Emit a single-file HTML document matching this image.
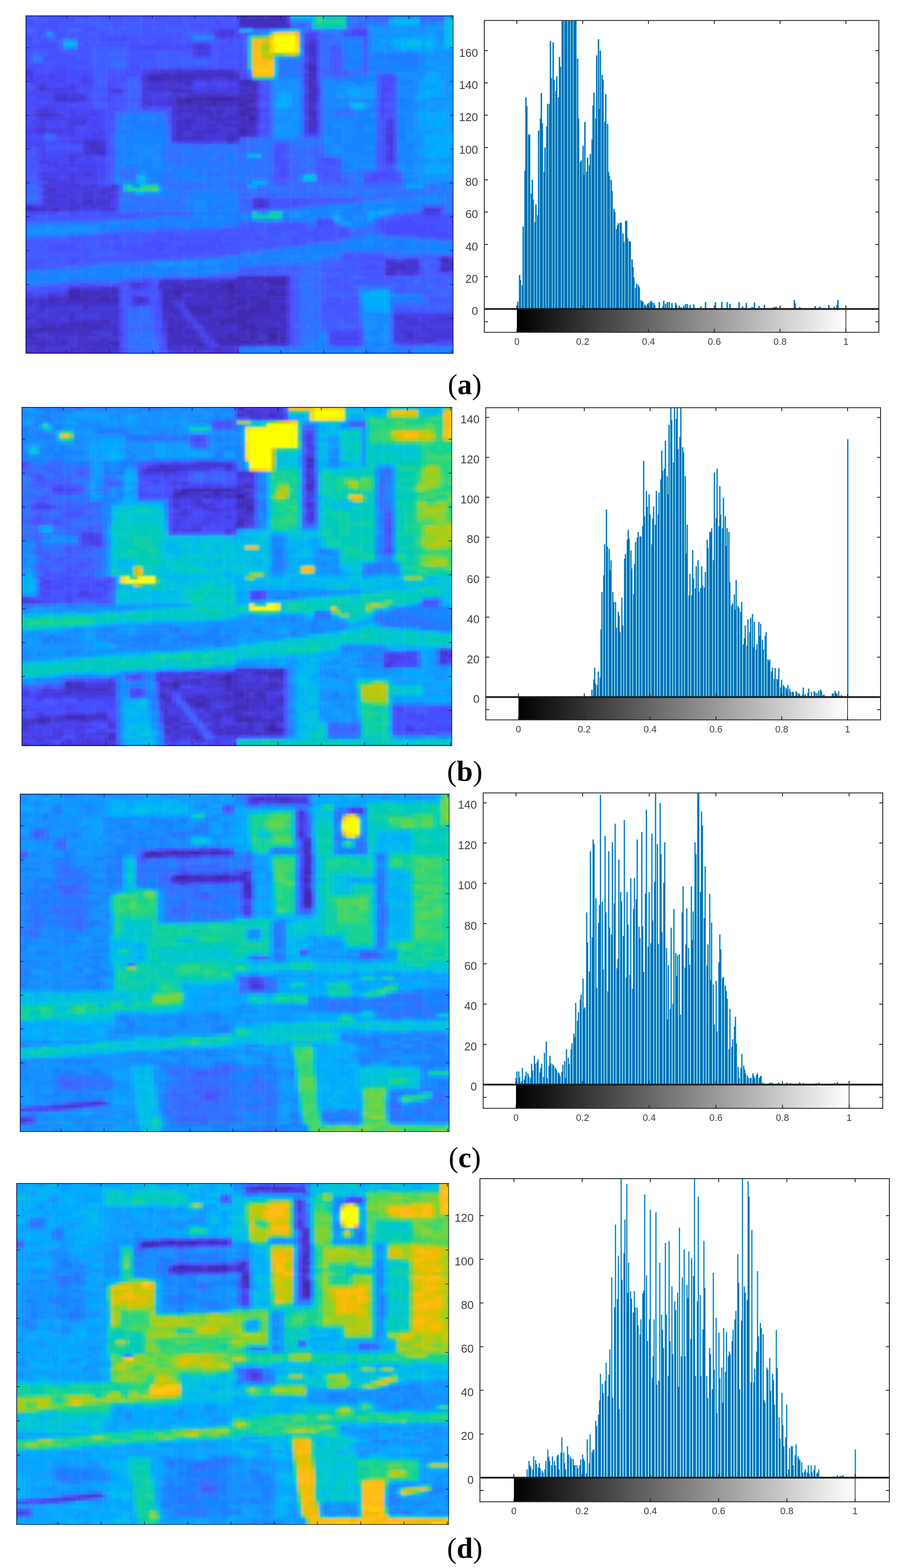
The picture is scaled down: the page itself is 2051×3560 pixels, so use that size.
<!DOCTYPE html>
<html lang="en">
<head>
<meta charset="utf-8">
<title>Figure: feature maps and histograms</title>
<style>
html,body{margin:0;padding:0;background:#fff}
body{width:2051px;height:3560px;position:relative;overflow:hidden;font-family:"Liberation Sans",sans-serif}
figure{margin:0;padding:0}
svg{position:absolute;display:block;overflow:hidden}
.xl{font:21.5px "Liberation Sans",sans-serif;fill:#404040;text-anchor:middle}
.yl{font:26px "Liberation Sans",sans-serif;fill:#404040;text-anchor:end}
figcaption{position:absolute;font:bold 66px "Liberation Serif",serif;color:#000;width:200px;margin-left:-100px;text-align:center;line-height:1;white-space:nowrap}
figcaption span{font-weight:normal}
</style>
</head>
<body>
<svg width="0" height="0" style="position:absolute"><defs><filter id="hb" x="-5%" y="-5%" width="110%" height="110%"><feGaussianBlur stdDeviation="0.29"/></filter></defs></svg>
<figure id="panel-a">
<svg class="heat" style="left:58.0px;top:35.0px" width="972.0" height="768.0" viewBox="2 2 100 100" preserveAspectRatio="none">
<g filter="url(#hb)" fill="none" stroke-width="1.04" transform="translate(0 0.5)">
<path stroke="#3e26a8" d="M54 25h1M44 26h7M39 27h2M47 27h1M52 28h2M54 31h1M54 32h2M58 80h1M49 81h2M49 82h2M44 88h1M15 93h1M59 96h2M59 97h2"/>
<path stroke="#402ab4" d="M52 0h2M52 1h2M52 2h2M59 4h2M68 17h2M34 19h2M68 19h1M31 20h3M38 20h1M69 23h1M69 24h1M53 25h1M55 25h1M68 25h2M39 26h5M51 26h1M53 26h1M37 27h2M41 27h1M45 27h2M48 27h1M52 27h3M38 28h1M44 28h3M51 28h1M53 29h3M52 30h3M52 31h2M55 31h1M54 33h1M52 35h2M52 36h2M99 74h2M101 75h3M58 79h1M62 79h1M57 80h1M59 80h4M48 81h1M59 81h4M47 82h2M12 83h3M22 83h1M35 83h4M42 83h2M49 83h3M59 83h2M12 84h3M36 84h3M49 84h2M58 84h5M12 85h5M19 85h3M49 85h3M54 85h3M58 85h1M51 86h3M56 86h3M34 87h1M49 87h5M56 87h3M40 88h4M45 88h1M48 88h3M54 88h5M61 88h2M41 89h5M51 89h8M51 90h5M49 91h6M47 92h7M12 93h3M16 93h1M47 93h2M52 93h4M62 93h1M5 94h4M35 94h2M52 94h5M58 94h4M0 95h4M7 95h1M54 95h2M59 95h2M49 96h2M54 96h2M58 96h1M35 97h1M46 97h2M49 97h3M54 97h2M61 97h2M47 98h8M56 98h2M59 98h2M22 99h2M42 99h2"/>
<path stroke="#422ec0" d="M62 0h1M62 1h1M56 2h2M59 2h4M52 3h11M52 4h7M61 4h2M68 16h1M47 18h1M68 18h2M36 19h15M69 19h1M34 20h4M39 20h3M49 20h2M68 20h2M31 21h3M35 21h1M52 21h3M68 21h1M52 22h4M68 22h2M53 23h1M55 23h1M68 23h1M55 24h1M68 24h1M52 25h1M37 26h2M52 26h1M54 26h2M68 26h2M42 27h3M49 27h3M55 27h1M69 27h1M37 28h1M39 28h5M47 28h4M54 28h1M38 29h1M42 29h2M47 29h1M52 29h1M42 30h4M55 30h1M68 30h2M38 31h1M44 31h2M68 31h2M45 32h3M52 32h2M69 32h1M39 33h2M52 33h2M55 33h1M69 33h1M52 34h3M69 34h1M54 35h1M69 35h1M54 36h1M52 37h2M49 38h2M17 40h2M0 59h6M87 75h1M100 75h1M87 77h1M99 77h1M52 79h6M59 79h3M41 80h3M49 80h5M55 80h2M34 81h5M44 81h4M51 81h3M55 81h3M36 82h11M51 82h3M56 82h2M59 82h4M15 83h2M23 83h1M34 83h1M39 83h3M44 83h5M52 83h7M61 83h2M15 84h8M34 84h2M44 84h5M51 84h7M7 85h2M17 85h2M22 85h2M34 85h5M44 85h3M48 85h1M52 85h2M57 85h1M59 85h4M7 86h2M11 86h13M34 86h2M48 86h3M54 86h2M15 87h2M35 87h2M39 87h10M54 87h2M59 87h4M34 88h3M46 88h2M51 88h3M59 88h2M35 89h3M40 89h1M46 89h1M48 89h3M59 89h4M35 90h1M41 90h5M49 90h2M56 90h6M35 91h2M44 91h5M55 91h8M14 92h1M19 92h3M35 92h2M39 92h1M45 92h2M54 92h4M61 92h2M6 93h3M10 93h2M17 93h5M35 93h5M43 93h4M51 93h1M56 93h3M61 93h1M0 94h5M9 94h11M21 94h1M37 94h2M44 94h4M51 94h1M57 94h1M62 94h1M4 95h3M8 95h1M35 95h7M46 95h3M51 95h3M56 95h3M61 95h2M0 96h4M14 96h3M35 96h4M41 96h1M45 96h4M51 96h3M56 96h1M61 96h2M0 97h5M10 97h1M36 97h7M48 97h1M52 97h2M56 97h1M58 97h1M10 98h2M15 98h1M21 98h3M35 98h8M46 98h1M55 98h1M58 98h1M61 98h2M4 99h3M15 99h1M37 99h2M41 99h1M51 99h1M5 100h2M17 100h2M0 101h4M12 101h2M15 101h7M47 101h1M0 102h4M12 102h2M15 102h7M47 102h1M0 103h4M12 103h2M15 103h7M47 103h1"/>
<path stroke="#4332cb" d="M54 0h8M54 1h8M54 2h2M58 2h1M55 5h8M68 10h2M68 11h2M68 12h2M68 13h2M69 14h1M69 15h1M69 16h1M37 18h2M41 18h6M48 18h3M31 19h3M51 19h1M30 20h1M42 20h4M51 20h1M30 21h1M34 21h1M36 21h5M55 21h1M69 21h1M35 22h2M39 22h2M37 23h1M52 23h1M54 23h1M36 24h5M52 24h3M40 25h9M51 25h1M9 26h3M68 27h1M55 28h1M68 28h2M37 29h1M39 29h3M44 29h1M46 29h1M48 29h1M51 29h1M68 29h1M37 30h5M46 30h3M51 30h1M5 31h4M37 31h1M41 31h3M46 31h2M49 31h3M38 32h4M44 32h1M48 32h4M68 32h1M37 33h2M41 33h1M46 33h3M68 33h1M37 34h4M44 34h3M48 34h4M55 34h1M68 34h1M37 35h4M44 35h4M51 35h1M55 35h1M68 35h1M37 36h2M41 36h6M51 36h1M55 36h1M37 37h2M41 37h3M49 37h3M54 37h1M37 38h7M51 38h1M16 39h3M16 40h1M19 40h1M17 41h3M18 42h3M7 53h2M20 54h1M16 56h2M7 57h1M15 57h3M20 57h1M0 58h4M56 58h2M6 59h1M8 59h2M101 74h3M86 75h1M88 75h3M99 75h1M87 76h4M99 76h5M86 77h1M88 77h1M100 77h1M86 78h2M34 80h4M39 80h2M44 80h1M47 80h2M54 80h1M28 81h1M33 81h1M39 81h5M54 81h1M58 81h1M22 82h1M33 82h3M54 82h2M58 82h1M17 83h5M23 84h1M41 84h3M9 85h3M39 85h5M47 85h1M0 86h4M5 86h2M9 86h2M28 86h2M36 86h1M39 86h9M59 86h4M0 87h4M5 87h10M17 87h7M5 88h2M15 88h2M37 88h1M39 88h1M23 89h1M34 89h1M47 89h1M12 90h2M34 90h1M36 90h3M46 90h3M62 90h1M12 91h2M34 91h1M37 91h2M42 91h2M5 92h2M12 92h2M15 92h4M37 92h2M42 92h3M58 92h3M5 93h1M9 93h1M22 93h1M40 93h1M49 93h2M59 93h2M20 94h1M22 94h2M39 94h2M48 94h3M9 95h9M22 95h2M44 95h2M49 95h2M4 96h1M7 96h7M17 96h2M22 96h2M39 96h2M42 96h1M57 96h1M91 96h2M5 97h2M9 97h1M11 97h1M14 97h3M19 97h3M45 97h1M57 97h1M91 97h2M101 97h3M0 98h8M9 98h1M14 98h1M16 98h5M43 98h1M96 98h1M0 99h4M7 99h5M14 99h1M16 99h6M35 99h2M39 99h2M47 99h4M4 100h1M12 100h5M19 100h5M35 100h4M41 100h4M46 100h2M4 101h8M14 101h1M22 101h2M46 101h1M48 101h1M4 102h8M14 102h1M22 102h2M46 102h1M48 102h1M4 103h8M14 103h1M22 103h2M46 103h1M48 103h1"/>
<path stroke="#4537d6" d="M63 4h1M63 5h1M47 7h2M68 9h2M42 11h2M68 14h1M68 15h1M0 18h3M33 18h4M39 18h2M0 19h3M30 19h1M29 20h1M46 20h3M29 21h1M30 22h5M37 22h2M5 23h2M30 23h7M38 23h1M31 24h3M35 24h1M41 24h1M44 24h3M9 25h3M29 25h2M36 25h2M39 25h1M49 25h2M12 26h4M35 26h2M12 27h2M29 27h3M35 27h2M30 28h2M35 28h2M36 29h1M45 29h1M49 29h2M69 29h1M5 30h3M36 30h1M49 30h2M4 31h1M9 31h1M36 31h1M39 31h2M48 31h1M37 32h1M42 32h2M15 33h1M42 33h4M49 33h3M41 34h3M47 34h1M5 35h2M41 35h3M48 35h3M39 36h2M47 36h4M68 36h2M36 37h1M39 37h2M44 37h5M55 37h1M87 37h1M36 38h1M44 38h5M87 38h1M19 39h2M49 39h2M87 39h1M20 40h1M16 41h1M20 41h1M16 42h2M87 43h1M87 44h1M14 50h1M6 52h2M12 52h3M17 52h2M22 52h1M9 53h1M17 53h1M19 53h4M6 54h3M12 54h2M15 54h3M19 54h1M21 54h1M7 55h5M15 55h3M21 55h2M6 56h3M12 56h2M15 56h1M18 56h4M56 56h2M8 57h1M12 57h3M18 57h2M21 57h1M56 57h2M4 58h1M12 58h3M17 58h2M55 58h1M7 59h1M10 59h1M12 59h2M95 59h4M91 74h3M91 75h3M86 76h1M91 76h3M89 77h5M101 77h3M88 78h1M91 78h2M51 79h1M38 80h1M45 80h2M27 81h1M29 81h1M13 82h2M19 82h3M23 82h1M11 84h1M39 84h2M0 85h4M5 85h2M27 85h3M4 86h1M27 86h1M37 86h2M4 87h1M4 88h1M7 88h5M17 88h7M63 88h1M4 89h3M9 89h14M0 90h5M7 90h5M14 90h1M19 90h5M89 90h1M99 90h1M0 91h10M11 91h1M14 91h1M19 91h5M39 91h1M41 91h1M88 91h3M98 91h6M4 92h1M7 92h5M22 92h2M34 92h1M90 92h4M96 92h8M0 93h5M23 93h1M91 93h5M34 94h1M43 94h1M94 94h4M18 95h4M89 95h4M95 95h9M5 96h2M19 96h1M21 96h1M93 96h1M96 96h8M7 97h2M12 97h2M17 97h2M22 97h2M43 97h1M63 97h1M93 97h8M8 98h1M12 98h2M95 98h1M97 98h1M12 99h2M44 99h1M52 99h4M0 100h4M7 100h5M39 100h2M45 100h1M48 100h3M36 101h3M41 101h3M45 101h1M49 101h2M36 102h3M41 102h3M45 102h1M49 102h2M36 103h3M41 103h3M45 103h1M49 103h2"/>
<path stroke="#463be2" d="M63 0h1M63 1h1M63 3h1M52 5h3M47 6h4M49 7h2M42 10h2M67 10h1M41 11h1M44 11h1M67 11h1M42 12h3M67 12h1M42 13h3M67 16h1M67 17h1M3 18h1M31 18h2M51 18h1M3 19h1M67 19h1M41 21h1M44 21h2M49 21h3M67 21h1M5 22h2M29 22h1M51 22h1M56 22h1M67 22h1M7 23h1M29 23h1M39 23h2M49 23h3M7 24h1M22 24h3M29 24h2M34 24h1M42 24h2M47 24h5M12 25h4M31 25h1M35 25h1M38 25h1M56 25h1M67 25h1M29 26h3M34 26h1M56 26h1M67 26h1M9 27h3M14 27h1M32 27h3M7 28h1M29 28h1M32 28h3M56 29h1M67 29h1M8 30h1M56 30h1M67 30h1M10 31h1M56 31h1M5 32h4M15 32h1M36 32h1M56 32h1M12 33h3M36 33h1M87 33h1M5 34h1M12 34h2M36 34h1M87 34h1M4 35h1M10 35h1M36 35h1M86 35h2M4 36h3M9 36h2M36 36h1M87 36h1M86 37h1M16 38h1M86 38h1M15 39h1M86 39h1M87 40h1M87 41h1M87 42h1M12 43h2M16 43h1M19 43h1M12 44h2M86 44h1M7 46h1M10 47h1M6 48h1M15 48h3M6 49h1M12 49h2M16 49h2M6 50h3M12 50h2M15 50h1M7 51h7M8 52h4M15 52h2M6 53h1M10 53h7M18 53h1M9 54h3M14 54h1M18 54h1M22 54h1M6 55h1M12 55h3M18 55h3M9 56h3M14 56h1M22 56h1M55 56h1M6 57h1M9 57h3M55 57h1M58 57h1M5 58h7M15 58h2M19 58h3M58 58h1M11 59h1M14 59h1M19 59h4M95 60h3M99 73h2M86 74h3M90 74h1M89 78h2M93 78h1M63 79h1M33 80h1M63 80h1M26 81h1M63 81h1M12 82h1M15 82h4M27 82h2M63 83h1M7 84h3M63 84h1M4 85h1M30 86h1M27 87h2M37 87h1M63 87h1M0 88h4M12 88h3M0 89h4M7 89h2M38 89h1M63 89h1M5 90h2M15 90h4M40 90h1M88 90h1M90 90h1M97 90h2M100 90h4M10 91h1M15 91h4M91 91h3M95 91h3M0 92h4M40 92h1M88 92h2M94 92h2M34 93h1M42 93h1M63 93h1M88 93h3M96 93h8M41 94h1M63 94h1M88 94h6M98 94h6M42 95h1M88 95h1M93 95h2M20 96h1M44 96h1M63 96h1M88 96h3M94 96h2M88 97h3M63 98h1M89 98h6M46 99h1M56 99h2M59 99h4M51 100h1M35 101h1M39 101h2M44 101h1M51 101h1M35 102h1M39 102h2M44 102h1M51 102h1M35 103h1M39 103h2M44 103h1M51 103h1"/>
<path stroke="#4741ed" d="M63 2h1M46 6h1M81 6h1M46 7h1M68 7h2M78 7h4M47 8h2M67 9h1M41 10h1M44 10h1M41 12h1M41 13h1M67 13h1M29 18h2M67 18h1M7 19h2M29 19h1M0 20h4M7 20h2M15 20h1M53 20h1M67 20h1M3 21h2M9 21h2M15 21h2M42 21h2M46 21h3M56 21h1M4 22h1M12 22h2M15 22h1M41 22h1M44 22h3M49 22h2M8 23h6M41 23h8M56 23h1M67 23h1M70 23h1M5 24h2M8 24h6M56 24h1M70 24h1M8 25h1M32 25h3M70 25h1M8 26h1M16 26h1M21 26h1M32 26h2M85 26h1M15 27h1M56 27h1M67 27h1M6 28h1M8 28h1M67 28h1M5 29h4M4 30h1M9 30h1M12 30h2M17 30h3M85 30h1M12 31h7M67 31h1M4 32h1M9 32h6M16 32h1M87 32h1M5 33h2M11 33h1M16 33h1M56 33h1M67 33h1M86 33h1M4 34h1M6 34h1M11 34h1M14 34h2M17 34h2M67 34h1M86 34h1M3 35h1M7 35h3M11 35h3M56 35h1M67 35h1M0 36h4M7 36h2M11 36h3M19 36h1M56 36h1M67 36h1M86 36h1M12 37h2M17 37h3M15 38h1M17 38h3M12 39h3M37 39h9M51 39h1M4 40h2M15 40h1M86 40h1M15 41h1M6 42h1M15 42h1M86 42h1M6 43h1M14 43h2M17 43h2M20 43h1M86 43h1M6 44h1M14 44h1M16 44h2M5 45h5M12 45h2M87 45h1M8 46h11M9 47h1M11 47h1M14 47h5M5 48h1M7 48h8M18 48h1M7 49h3M11 49h1M14 49h2M18 49h1M9 50h3M16 50h3M14 51h1M18 51h1M19 52h3M23 52h1M23 53h1M23 55h1M58 56h1M22 57h1M22 58h1M15 59h4M98 60h1M101 73h3M89 74h1M30 81h1M29 82h1M63 82h1M11 83h1M33 83h1M0 84h4M5 84h1M10 84h1M33 84h1M30 85h1M33 85h1M63 85h1M33 86h1M63 86h1M29 87h1M33 87h1M38 87h1M38 88h1M39 89h1M39 90h1M63 90h1M91 90h6M40 91h1M63 91h1M94 91h1M41 92h1M63 92h1M41 93h1M42 94h1M34 95h1M43 95h1M63 95h1M24 96h1M43 96h1M44 97h1M74 97h6M44 98h2M88 98h1M98 98h1M101 98h3M45 99h1M58 99h1M24 100h1"/>
<path stroke="#4746f7" d="M14 0h2M51 0h1M14 1h2M51 1h1M14 2h1M51 2h1M51 4h1M78 6h3M51 7h1M67 7h1M46 8h1M49 8h2M67 8h3M34 10h2M28 11h6M37 11h2M67 14h1M67 15h1M9 18h3M4 19h3M9 19h3M15 19h2M4 20h3M9 20h3M14 20h1M16 20h2M52 20h1M0 21h3M5 21h4M11 21h1M14 21h1M17 21h1M86 21h2M3 22h1M7 22h5M14 22h1M16 22h2M21 22h1M47 22h2M70 22h1M4 23h1M14 23h1M21 23h3M85 23h2M3 24h2M14 24h1M21 24h1M67 24h1M85 24h2M0 25h8M16 25h1M21 25h2M85 25h1M4 26h4M70 26h1M86 26h1M7 27h2M16 27h1M21 27h1M70 27h1M85 27h1M0 28h6M9 28h3M56 28h1M85 28h1M4 29h1M9 29h8M29 29h2M85 29h1M3 30h1M10 30h2M14 30h3M20 30h1M70 30h1M86 30h1M0 31h4M11 31h1M19 31h1M70 31h1M85 31h1M17 32h3M86 32h1M3 33h2M7 33h4M17 33h3M70 33h1M0 34h4M7 34h4M16 34h1M19 34h1M56 34h1M70 34h1M0 35h3M14 35h1M16 35h4M70 35h1M14 36h1M16 36h3M20 36h1M4 37h2M9 37h3M14 37h3M20 37h1M56 37h1M5 38h1M12 38h3M20 38h1M0 39h7M36 39h1M46 39h3M0 40h4M6 40h1M5 41h2M86 41h1M5 42h1M12 42h3M5 43h1M7 43h5M5 44h1M7 44h5M15 44h1M18 44h1M85 44h1M10 45h2M14 45h6M86 45h1M6 46h1M19 46h2M6 47h3M12 47h2M19 47h2M19 48h2M5 49h1M10 49h1M19 49h1M5 50h1M19 50h1M82 50h2M6 51h1M15 51h3M23 56h1M23 59h1M0 60h5M7 60h2M70 63h2M73 63h1M85 63h1M85 64h1M86 65h1M91 65h5M85 76h1M94 76h1M26 82h1M30 82h1M4 84h1M6 84h1M30 87h1M33 88h1M24 89h1M24 90h1M24 95h1M74 95h2M78 95h2M34 96h1M73 96h7M24 97h1M34 97h1M73 97h1M24 98h1M73 98h7M99 98h2M63 99h1M24 101h1M24 102h1M24 103h1"/>
<path stroke="#464cff" d="M9 0h3M16 0h1M29 0h3M39 0h2M9 1h3M16 1h1M29 1h3M39 1h2M9 2h3M15 2h2M29 2h3M39 2h2M48 3h1M51 3h1M7 5h2M47 5h1M51 5h1M5 6h1M51 6h1M5 7h1M0 8h4M24 8h2M51 8h1M21 9h5M5 10h5M26 10h3M31 10h3M36 10h2M39 10h2M45 10h1M26 11h2M34 11h3M39 11h2M45 11h1M45 12h1M45 13h1M44 14h1M0 15h3M47 15h1M10 16h2M47 16h1M52 16h1M9 17h3M32 17h1M37 17h2M41 17h3M45 17h1M47 17h1M70 17h1M4 18h1M7 18h2M12 18h6M25 18h1M70 18h1M12 19h3M17 19h1M21 19h1M25 19h4M52 19h2M12 20h2M22 20h1M85 20h3M12 21h2M21 21h2M70 21h1M85 21h1M0 22h3M22 22h2M42 22h2M85 22h3M3 23h1M15 23h3M24 23h1M87 23h1M0 24h3M15 24h3M25 24h1M87 24h1M23 25h2M57 25h1M86 25h1M0 26h4M17 26h1M20 26h1M57 26h2M87 26h1M0 27h7M86 27h1M12 28h6M70 28h1M0 29h4M17 29h1M21 29h3M31 29h1M34 29h2M57 29h2M86 29h1M0 30h3M21 30h1M57 30h2M87 30h1M20 31h1M86 31h1M0 32h4M20 32h1M67 32h1M70 32h1M85 32h1M0 33h3M20 33h1M20 34h1M15 35h1M20 35h1M85 35h1M15 36h1M21 36h1M70 36h1M85 36h1M0 37h4M67 37h3M0 38h5M10 38h2M7 39h5M85 40h1M4 41h1M7 42h5M21 42h1M21 43h1M85 43h1M19 44h2M71 44h2M20 45h1M5 46h1M5 47h1M61 47h2M61 48h2M84 48h3M20 49h1M61 49h2M83 49h4M20 50h1M81 50h1M84 50h1M88 50h1M19 51h1M5 52h1M23 54h1M23 57h1M23 58h1M5 60h2M9 60h1M12 60h3M19 60h4M94 60h1M90 61h1M95 61h4M89 62h4M101 62h3M72 63h1M88 63h6M101 63h3M86 64h12M101 64h3M85 65h1M87 65h4M96 65h2M99 65h1M86 66h15M37 67h1M97 67h7M37 68h1M29 69h6M39 69h2M8 70h1M28 70h1M47 70h1M32 71h2M42 71h2M47 71h1M27 72h4M39 72h2M77 73h1M94 74h1M98 74h1M81 76h4M98 76h1M94 77h1M98 77h1M94 78h1M29 80h2M11 82h1M32 82h1M7 83h4M24 83h1M24 84h1M27 84h2M32 87h1M24 88h1M33 89h1M32 90h2M24 91h1M24 92h1M24 93h1M24 94h1M33 94h1M64 95h1M73 95h1M76 95h2M64 97h1M80 97h1M34 98h1M24 99h1M74 99h6"/>
<path stroke="#4551ff" d="M5 0h4M12 0h2M19 0h7M32 0h5M41 0h6M48 0h3M5 1h4M12 1h2M19 1h7M32 1h5M41 1h6M48 1h3M5 2h4M12 2h2M19 2h7M32 2h5M41 2h6M48 2h3M0 3h4M7 3h7M24 3h1M27 3h2M32 3h2M46 3h2M0 4h10M24 4h1M42 4h2M46 4h2M5 5h2M9 5h1M40 5h1M45 5h2M48 5h3M6 6h1M8 6h2M32 6h2M44 6h2M9 7h3M17 7h1M19 7h2M37 7h2M53 7h1M70 7h1M76 7h2M9 8h2M19 8h5M26 8h1M30 8h1M37 8h1M52 8h1M0 9h4M5 9h3M19 9h2M26 9h3M32 9h5M49 9h2M70 9h1M0 10h5M29 10h2M38 10h1M47 10h4M52 10h1M70 10h1M0 11h10M46 11h3M52 11h1M70 11h1M0 12h4M7 12h3M14 12h3M47 12h2M52 12h1M70 12h1M7 13h5M48 13h3M52 13h1M70 13h1M0 14h3M6 14h8M41 14h3M45 14h1M47 14h6M70 14h1M6 15h11M48 15h1M52 15h1M0 16h7M8 16h2M12 16h5M27 16h2M48 16h1M74 16h1M0 17h9M12 17h2M17 17h1M26 17h3M31 17h1M33 17h1M35 17h2M39 17h2M44 17h1M46 17h1M48 17h5M74 17h1M5 18h2M21 18h2M24 18h1M26 18h3M52 18h2M74 18h1M22 19h1M24 19h1M70 19h1M21 20h1M23 20h3M54 20h1M70 20h1M23 21h3M57 22h1M0 23h3M20 23h1M57 23h1M20 24h1M57 24h2M17 25h1M58 25h1M87 25h1M19 26h1M22 26h1M24 26h1M17 27h1M20 27h1M22 27h1M24 27h2M58 27h1M87 27h1M21 28h2M86 28h1M20 29h1M32 29h2M70 29h1M87 29h1M22 30h1M35 30h1M21 31h2M35 31h1M57 31h2M87 31h1M21 32h2M57 32h2M21 33h1M57 33h2M85 33h1M21 34h1M58 34h1M85 34h1M21 35h2M57 35h2M57 36h2M21 37h1M57 37h1M70 37h1M85 37h1M88 37h1M9 38h1M21 38h1M21 39h1M85 39h1M7 40h2M12 40h3M21 40h1M61 40h2M0 41h4M21 41h1M60 41h3M85 41h1M4 42h1M60 42h2M85 42h1M4 43h1M60 43h2M88 43h1M0 44h5M60 44h3M73 44h1M88 44h1M4 45h1M21 45h1M60 45h3M72 45h3M85 45h1M21 46h1M60 46h3M86 46h1M21 47h1M86 47h2M4 48h1M21 48h1M60 48h1M71 48h2M83 48h1M87 48h2M4 49h1M21 49h1M60 49h1M82 49h1M87 49h2M60 50h1M74 50h2M85 50h3M89 50h1M5 51h1M20 51h1M82 51h1M5 54h1M5 56h1M64 56h2M5 57h1M64 57h2M61 58h3M99 59h1M15 60h2M23 60h1M0 61h4M12 61h2M89 61h1M91 61h4M99 61h5M70 62h4M85 62h1M87 62h2M93 62h8M84 63h1M86 63h2M94 63h7M63 64h3M70 64h4M84 64h1M98 64h3M65 65h1M69 65h2M75 65h2M98 65h1M100 65h4M32 66h5M46 66h3M66 66h5M75 66h2M101 66h3M21 67h3M35 67h2M38 67h1M45 67h3M55 67h3M69 67h5M75 67h1M94 67h3M12 68h3M22 68h2M30 68h4M35 68h2M38 68h3M44 68h4M55 68h3M64 68h2M69 68h2M7 69h5M19 69h3M23 69h2M35 69h1M41 69h10M64 69h2M7 70h1M9 70h5M22 70h3M27 70h1M29 70h6M37 70h10M48 70h1M7 71h8M23 71h9M37 71h5M44 71h3M48 71h1M51 71h1M26 72h1M31 72h8M41 72h3M46 72h3M12 73h3M29 73h7M76 73h1M78 73h1M81 73h5M98 73h1M12 74h3M84 74h2M12 75h2M81 75h3M85 75h1M94 75h1M98 75h1M85 77h1M53 78h3M80 78h4M85 78h1M99 78h5M44 79h7M86 79h2M26 80h3M31 80h1M64 80h1M14 81h5M22 81h4M31 81h2M74 81h2M5 82h6M24 82h1M31 82h1M0 83h3M6 83h1M25 83h6M64 83h1M26 84h1M29 84h2M64 84h1M24 85h1M26 85h1M31 85h1M64 85h1M24 86h1M26 86h1M31 86h2M64 86h1M74 86h2M24 87h1M31 87h1M64 87h1M73 87h3M32 88h1M64 88h1M32 89h1M88 89h5M32 91h2M64 91h1M64 92h1M32 94h1M64 94h1M79 94h1M33 95h1M80 95h1M33 96h1M64 96h1M80 96h1M64 98h1M80 98h1M34 99h1M73 99h1M91 99h2M99 99h2M34 100h1"/>
<path stroke="#4457ff" d="M4 0h1M18 0h1M26 0h2M37 0h2M47 0h1M4 1h1M18 1h1M26 1h2M37 1h2M47 1h1M4 2h1M26 2h1M37 2h2M47 2h1M6 3h1M14 3h1M17 3h7M25 3h2M29 3h3M34 3h12M49 3h2M10 4h3M22 4h2M29 4h10M40 4h2M44 4h2M48 4h3M0 5h5M10 5h9M22 5h3M29 5h3M34 5h1M36 5h4M41 5h4M4 6h1M10 6h2M15 6h7M24 6h3M29 6h3M34 6h1M41 6h3M68 6h1M0 7h5M12 7h5M18 7h1M21 7h1M24 7h3M29 7h8M52 7h1M4 8h2M11 8h1M14 8h5M27 8h3M31 8h6M38 8h1M81 8h1M4 9h1M8 9h2M14 9h3M29 9h3M37 9h4M46 9h3M51 9h2M81 9h1M15 10h11M46 10h1M51 10h1M81 10h1M14 11h4M49 11h3M73 11h2M81 11h1M4 12h3M10 12h1M17 12h1M26 12h15M46 12h1M49 12h3M0 13h4M6 13h1M12 13h6M26 13h7M47 13h1M51 13h1M53 13h1M81 13h1M14 14h3M26 14h7M46 14h1M53 14h1M74 14h1M81 14h1M3 15h1M17 15h1M26 15h7M46 15h1M51 15h1M53 15h1M70 15h1M74 15h2M7 16h1M17 16h1M26 16h1M31 16h2M46 16h1M51 16h1M53 16h1M70 16h1M75 16h1M81 16h1M14 17h3M25 17h1M29 17h2M34 17h1M53 17h1M73 17h1M75 17h1M81 17h1M23 18h1M73 18h1M75 18h1M81 18h1M23 19h1M18 20h1M28 20h1M18 21h1M57 21h2M18 22h1M20 22h1M24 22h1M58 22h1M18 23h2M25 23h1M58 23h1M28 24h1M20 25h1M25 25h1M18 26h1M23 26h1M25 26h1M28 26h1M84 26h1M23 27h1M28 27h1M57 27h1M18 28h1M23 28h3M58 28h1M84 28h1M87 28h1M18 29h2M24 29h1M84 29h1M24 30h1M84 30h1M35 32h1M22 33h1M35 33h1M88 33h1M22 34h1M57 34h1M88 34h1M84 35h1M88 35h1M88 36h1M6 37h1M58 37h1M85 38h1M88 38h1M88 39h1M9 40h3M60 40h1M84 40h1M88 40h1M7 41h8M22 41h1M84 41h1M88 41h1M0 42h4M22 42h1M62 42h1M84 42h1M88 42h1M0 43h4M62 43h1M84 43h1M21 44h1M63 44h1M84 44h1M0 45h4M71 45h1M75 45h1M0 46h5M70 46h1M85 46h1M87 46h1M0 47h5M60 47h1M63 47h1M70 47h5M85 47h1M0 48h4M63 48h1M70 48h1M73 48h1M82 48h1M89 48h1M0 49h4M63 49h1M71 49h5M81 49h1M89 49h1M4 50h1M21 50h1M61 50h2M70 50h1M73 50h1M21 51h1M60 51h1M75 51h1M81 51h1M83 51h2M88 51h1M5 53h1M59 56h5M66 56h14M59 57h5M66 57h3M71 57h1M59 58h2M64 58h2M95 58h1M98 58h1M56 59h1M10 60h2M17 60h2M93 60h1M99 60h1M4 61h1M7 61h5M14 61h14M88 61h1M0 62h5M17 62h1M86 62h1M62 63h2M54 64h2M58 64h5M66 64h2M47 65h9M58 65h7M66 65h2M71 65h4M84 65h1M31 66h1M37 66h1M42 66h2M45 66h1M51 66h6M58 66h4M65 66h1M71 66h4M77 66h1M85 66h1M14 67h3M19 67h2M24 67h1M29 67h6M39 67h6M48 67h7M64 67h5M74 67h1M76 67h1M6 68h3M15 68h2M19 68h3M24 68h1M29 68h1M34 68h1M41 68h3M48 68h7M58 68h3M66 68h2M71 68h2M4 69h3M12 69h4M22 69h1M25 69h4M36 69h3M51 69h1M53 69h1M56 69h8M66 69h2M5 70h2M14 70h1M19 70h3M25 70h2M35 70h2M49 70h3M59 70h1M15 71h3M22 71h1M34 71h3M49 71h2M0 72h19M24 72h2M44 72h2M49 72h3M77 72h2M80 72h3M7 73h2M11 73h1M15 73h2M19 73h10M36 73h3M79 73h2M86 73h1M0 74h10M11 74h1M15 74h8M76 74h8M0 75h7M9 75h3M17 75h1M80 75h1M84 75h1M0 76h5M75 76h1M80 76h1M64 77h1M72 77h6M80 77h5M97 77h1M52 78h1M56 78h8M79 78h1M84 78h1M98 78h1M42 79h2M64 79h1M72 79h2M76 79h1M81 79h5M88 79h1M99 79h1M25 80h1M32 80h1M72 80h4M86 80h2M12 81h2M19 81h3M64 81h1M72 81h2M76 81h2M99 81h1M4 82h1M25 82h1M64 82h1M76 82h3M99 82h1M3 83h3M31 83h2M78 83h1M25 84h1M31 84h2M65 84h1M25 85h1M32 85h1M65 85h1M72 85h4M78 85h2M101 85h3M25 86h1M65 86h1M72 86h2M76 86h3M25 87h2M71 87h2M76 87h4M71 88h9M64 89h1M74 89h5M93 89h11M64 90h1M74 90h4M65 91h1M71 91h2M76 91h4M32 92h2M65 92h1M72 92h2M77 92h3M32 93h2M64 93h1M79 93h1M65 94h1M75 94h1M78 94h1M65 95h1M25 96h1M33 97h1M65 97h1M65 98h1M33 99h1M64 99h1M80 99h1M93 99h3M98 99h1M101 99h3M25 100h1M25 101h1M34 101h1M25 102h1M34 102h1M25 103h1M34 103h1"/>
<path stroke="#415cff" d="M0 0h4M17 0h1M28 0h1M0 1h4M17 1h1M28 1h1M0 2h4M17 2h2M27 2h2M4 3h2M15 3h2M13 4h5M19 4h3M25 4h4M39 4h1M19 5h1M21 5h1M25 5h4M32 5h2M35 5h1M7 6h1M14 6h1M22 6h2M27 6h2M35 6h6M77 6h1M22 7h2M27 7h2M39 7h1M45 7h1M6 8h1M12 8h2M39 8h2M53 8h1M70 8h1M17 9h2M14 10h1M18 11h8M75 11h1M11 12h3M18 12h2M25 12h1M73 12h3M81 12h1M5 13h1M25 13h1M35 13h6M46 13h1M74 13h2M3 14h1M17 14h1M25 14h1M33 14h1M35 14h4M40 14h1M73 14h1M75 14h1M19 15h2M25 15h1M33 15h1M35 15h3M45 15h1M49 15h2M73 15h1M81 15h1M18 16h3M29 16h2M33 16h1M35 16h7M44 16h2M49 16h2M73 16h1M18 17h2M21 17h1M18 18h3M18 19h1M20 19h1M73 19h3M85 19h3M20 20h1M26 20h2M84 20h1M88 20h1M20 21h1M28 21h1M84 21h1M88 21h1M19 22h1M25 22h1M28 22h1M84 22h1M84 23h1M18 24h2M27 24h1M84 24h1M18 25h2M84 25h1M27 26h1M88 26h1M18 27h2M26 27h2M84 27h1M20 28h1M28 28h1M57 28h1M25 29h1M28 29h1M23 30h1M84 31h1M84 32h1M88 32h1M84 33h1M35 34h1M84 34h1M22 36h1M84 36h1M22 37h1M84 37h1M6 38h1M52 38h2M84 39h1M22 40h1M63 40h1M63 41h1M63 42h1M22 43h1M22 44h1M70 44h1M74 44h1M22 45h1M63 45h1M70 45h1M84 45h1M88 45h1M22 46h1M63 46h1M71 46h5M22 47h1M75 47h1M84 47h1M74 48h2M81 48h1M22 49h1M70 49h1M0 50h4M63 50h1M71 50h2M0 51h5M22 51h1M61 51h2M70 51h1M74 51h1M85 51h3M89 51h1M5 55h1M80 56h1M0 57h5M69 57h2M72 57h1M96 58h2M55 59h1M57 59h1M24 60h1M27 60h2M31 60h3M35 60h3M28 61h1M5 62h12M18 62h1M84 62h1M54 63h2M61 63h1M64 63h3M52 64h2M56 64h2M74 64h1M42 65h5M56 65h2M68 65h1M77 65h1M22 66h9M38 66h4M44 66h1M49 66h2M57 66h1M62 66h3M12 67h2M17 67h2M25 67h4M58 67h4M63 67h1M77 67h1M93 67h1M0 68h6M9 68h3M17 68h2M25 68h4M61 68h3M68 68h1M73 68h1M100 68h1M0 69h4M16 69h3M52 69h1M54 69h2M0 70h5M15 70h2M52 70h7M60 70h1M0 71h7M18 71h4M52 71h2M23 72h1M76 72h1M79 72h1M83 72h3M0 73h7M9 73h2M17 73h2M39 73h3M87 73h1M91 73h3M10 74h1M23 74h5M7 75h2M14 75h3M18 75h1M74 75h6M96 75h2M5 76h4M59 76h3M63 76h3M74 76h1M76 76h4M96 76h2M52 77h6M59 77h2M65 77h1M71 77h1M78 77h2M96 77h1M48 78h1M51 78h1M64 78h1M72 78h1M75 78h4M97 78h1M41 79h1M65 79h1M71 79h1M74 79h2M77 79h1M89 79h2M94 79h2M98 79h1M100 79h4M24 80h1M65 80h1M71 80h1M76 80h10M88 80h3M96 80h5M10 81h2M65 81h1M71 81h1M78 81h10M89 81h4M98 81h1M100 81h1M0 82h4M73 82h3M88 82h3M98 82h1M100 82h1M65 83h1M72 83h6M88 83h3M95 83h3M72 84h1M77 84h2M96 84h1M101 84h3M71 85h1M76 85h2M96 85h5M71 86h1M79 86h1M96 86h8M65 87h1M96 87h2M101 87h3M25 88h1M27 88h1M31 88h1M65 88h1M88 88h3M94 88h2M101 88h3M25 89h1M65 89h1M71 89h3M79 89h1M25 90h1M31 90h1M65 90h1M71 90h3M78 90h2M25 91h1M73 91h3M25 92h1M71 92h1M74 92h1M76 92h1M25 93h1M71 93h5M78 93h1M25 94h1M72 94h3M76 94h2M80 94h1M25 95h1M32 95h1M32 96h1M65 96h1M25 97h1M25 98h1M89 99h2M96 99h1M33 100h1M33 101h1M33 102h1M33 103h1"/>
<path stroke="#3e62ff" d="M91 0h2M91 1h2M84 3h2M18 4h1M79 4h2M20 5h1M64 5h2M78 5h3M0 6h4M12 6h2M67 6h1M69 6h1M6 7h1M40 7h1M42 7h3M41 9h1M44 9h2M53 10h1M53 11h1M20 12h5M53 12h1M4 13h1M18 13h4M24 13h1M33 13h2M73 13h1M18 14h7M34 14h1M39 14h1M18 15h1M21 15h2M34 15h1M38 15h4M44 15h1M21 16h1M25 16h1M34 16h1M42 16h2M66 16h1M20 17h1M22 17h1M66 17h1M76 18h1M19 19h1M66 19h1M76 19h2M81 19h1M19 20h1M19 21h1M26 21h1M88 22h1M28 23h1M88 23h1M26 24h1M88 24h1M27 25h2M88 25h1M26 26h1M88 27h1M19 28h1M26 28h1M88 28h1M27 29h1M88 29h1M25 30h1M34 30h1M88 30h1M88 31h1M35 35h1M35 36h1M7 37h2M22 38h1M68 38h1M84 38h1M22 39h1M60 39h3M69 41h2M63 43h1M69 43h3M64 44h2M75 44h1M84 46h1M67 47h1M69 47h1M88 47h1M22 48h1M64 48h2M22 50h1M64 50h2M76 50h1M71 51h3M76 51h1M4 52h1M52 53h1M64 53h2M56 55h5M64 55h1M68 55h3M4 56h1M52 56h3M52 57h3M73 57h2M53 58h2M66 58h1M99 58h1M52 59h2M58 59h1M25 60h2M29 60h2M34 60h1M38 60h2M92 60h1M5 61h2M29 61h2M87 61h1M19 62h1M52 63h2M56 63h2M59 63h2M67 63h1M68 64h2M75 64h1M83 64h1M32 65h2M35 65h3M40 65h2M83 65h1M20 66h2M78 66h3M84 66h1M62 67h1M90 67h1M92 67h1M74 68h1M99 68h1M101 68h3M68 69h1M17 70h2M61 70h1M54 71h2M19 72h4M42 73h3M88 73h1M94 73h4M28 74h3M73 74h1M75 74h1M95 74h3M73 75h1M9 76h2M55 76h4M62 76h1M71 76h3M95 76h1M58 77h1M61 77h1M63 77h1M95 77h1M47 78h1M49 78h2M65 78h1M71 78h1M73 78h2M95 78h2M34 79h7M78 79h1M80 79h1M91 79h3M96 79h2M91 80h2M94 80h2M101 80h3M9 81h1M69 81h2M88 81h1M93 81h5M101 81h3M65 82h1M71 82h2M79 82h1M91 82h5M97 82h1M71 83h1M79 83h1M91 83h4M98 83h1M101 83h3M71 84h1M73 84h4M79 84h1M95 84h1M97 84h2M100 84h1M95 85h1M88 87h3M95 87h1M98 87h3M26 88h1M28 88h1M91 88h3M96 88h2M100 88h1M31 89h1M31 91h1M75 92h1M31 93h1M65 93h1M76 93h2M28 94h1M31 94h1M71 94h1M32 97h1M33 98h1M25 99h1M65 99h1M88 99h1M97 99h1"/>
<path stroke="#3969ff" d="M78 0h1M81 0h7M93 0h3M78 1h1M81 1h7M93 1h3M78 2h1M81 2h6M95 2h1M83 3h1M86 3h1M96 3h3M64 4h1M66 4h2M78 4h1M81 5h1M8 7h1M41 7h1M71 7h3M71 8h3M76 8h3M42 9h2M53 9h1M73 10h3M10 11h1M71 11h2M22 13h2M23 15h2M42 15h2M22 16h2M23 17h2M66 18h1M71 18h2M77 18h1M71 19h2M78 19h1M84 19h1M27 21h1M26 22h2M26 23h2M26 25h1M27 28h1M71 28h1M26 29h1M26 30h8M78 30h1M34 31h1M59 31h1M59 32h1M59 33h1M59 34h1M35 37h1M7 38h2M54 38h3M67 38h1M69 38h2M52 39h2M63 39h1M51 40h3M52 41h2M59 41h1M64 41h1M68 41h1M59 42h1M64 42h7M59 43h1M64 43h2M68 43h1M72 43h1M59 44h1M69 44h1M59 45h1M64 45h1M69 45h1M64 46h3M68 46h2M88 46h1M25 47h1M64 47h3M68 47h1M27 48h1M59 48h1M66 48h2M69 48h1M59 49h1M64 49h2M76 49h1M59 50h1M77 50h1M49 51h2M59 51h1M63 51h1M77 51h1M0 52h4M52 52h2M60 52h4M66 52h2M71 52h3M75 52h2M81 52h3M0 53h5M53 53h1M56 53h3M63 53h1M66 53h2M69 53h2M89 53h1M0 54h5M52 54h3M58 54h1M64 54h1M72 54h1M24 55h1M26 55h2M52 55h2M55 55h1M61 55h3M65 55h3M71 55h3M78 55h3M84 55h3M0 56h4M81 56h1M75 57h2M52 58h1M67 58h1M54 59h1M94 59h1M40 60h1M91 60h1M100 60h4M31 61h2M20 62h2M24 62h1M0 63h4M58 63h1M50 64h2M76 64h1M82 64h1M34 65h1M38 65h2M79 65h4M19 66h1M81 66h1M11 67h1M89 67h1M91 67h1M75 68h1M98 68h1M69 69h1M62 70h1M56 71h1M86 72h1M45 73h3M89 73h2M31 74h1M71 74h2M74 74h1M19 75h2M64 75h2M68 75h5M95 75h1M11 76h1M52 76h3M66 76h3M0 77h3M62 77h1M66 77h1M69 77h2M66 78h3M29 79h3M33 79h1M79 79h1M12 80h3M17 80h3M93 80h1M7 81h2M69 82h2M87 82h1M96 82h1M101 82h3M69 83h2M99 83h2M99 84h1M95 86h1M91 87h4M29 88h2M66 88h2M98 88h2M26 89h3M69 90h2M87 90h1M27 91h2M87 91h1M31 92h1M66 92h1M29 93h2M80 93h1M26 94h2M29 94h2M26 95h3M66 95h1M72 95h1M87 96h1M27 98h2M32 99h1M26 100h3M26 101h1M26 102h1M26 103h1"/>
<path stroke="#326fff" d="M77 0h1M79 0h2M88 0h3M96 0h4M77 1h1M79 1h2M88 1h3M96 1h4M79 2h2M94 2h1M96 2h4M78 3h1M81 3h2M95 3h1M99 3h1M65 4h1M68 4h1M81 4h1M66 5h2M56 6h3M70 6h1M76 6h1M54 7h1M75 7h1M7 8h1M75 8h1M79 8h2M10 9h1M71 9h5M10 10h1M71 10h2M71 12h2M71 13h2M71 14h2M5 15h1M66 15h1M71 15h2M24 16h1M71 16h2M65 17h1M71 17h2M78 18h1M80 18h1M54 19h1M88 19h1M71 20h1M74 20h2M59 21h1M59 23h1M59 24h1M59 26h1M59 27h1M59 29h1M59 30h1M71 30h1M74 30h4M23 31h1M74 31h2M23 32h1M71 32h1M23 35h1M59 35h1M71 36h1M59 37h1M35 38h1M57 38h3M35 39h1M41 40h3M45 40h1M49 40h2M54 40h2M59 40h1M64 40h2M68 40h4M41 41h3M51 41h1M54 41h2M65 41h3M71 41h1M35 42h4M47 42h1M51 42h3M71 42h1M35 43h4M47 43h1M58 43h1M66 43h2M35 44h7M46 44h3M52 44h2M66 44h2M37 45h2M44 45h3M56 45h2M65 45h3M55 46h3M59 46h1M67 46h1M24 47h1M26 47h2M47 47h2M55 47h3M59 47h1M24 48h3M44 48h4M55 48h4M68 48h1M76 48h1M24 49h3M45 49h1M49 49h2M55 49h3M77 49h1M78 50h1M80 50h1M36 51h3M48 51h1M51 51h1M64 51h3M69 51h1M78 51h1M24 52h1M35 52h7M44 52h2M49 52h3M58 52h2M64 52h2M68 52h1M74 52h1M77 52h1M84 52h6M96 52h3M24 53h1M38 53h3M51 53h1M61 53h2M68 53h1M71 53h18M90 53h1M96 53h2M24 54h1M48 54h1M55 54h3M59 54h5M65 54h7M73 54h1M79 54h2M84 54h7M94 54h2M101 54h3M0 55h5M25 55h1M39 55h1M54 55h1M74 55h4M81 55h3M87 55h5M27 56h12M82 56h3M100 56h1M32 57h2M37 57h1M77 57h2M27 58h2M32 58h2M68 58h2M100 58h1M29 59h5M35 59h4M59 59h1M62 59h1M100 59h1M41 60h1M52 60h1M90 60h1M33 61h1M86 61h1M22 62h2M25 62h2M4 63h3M68 63h2M74 63h1M83 63h1M49 64h1M81 64h1M26 65h3M31 65h1M18 66h1M82 66h2M6 67h5M78 67h2M87 67h2M95 68h1M70 69h1M63 70h3M57 71h1M59 71h1M52 72h1M54 72h2M87 72h11M48 73h1M75 73h1M32 74h6M21 75h6M62 75h2M66 75h2M12 76h4M69 76h2M3 77h2M67 77h2M46 78h1M69 78h2M32 79h1M66 79h5M15 80h2M20 80h2M23 80h1M66 80h5M5 81h2M68 81h1M66 82h3M66 83h1M68 83h1M66 84h5M66 85h5M66 86h5M66 87h3M70 87h1M68 88h1M66 89h5M26 90h5M68 90h1M26 91h1M29 91h2M66 91h5M80 91h1M26 92h5M67 92h2M80 92h1M87 92h1M26 93h3M66 93h2M87 93h1M66 94h2M87 94h1M29 95h3M67 95h2M87 95h1M26 96h2M29 96h3M66 96h3M72 96h1M26 97h6M66 97h1M68 97h1M87 97h1M26 98h1M32 98h1M66 98h1M72 98h1M87 98h1M26 99h6M66 99h2M72 99h1M29 100h2M32 100h1M27 101h6M27 102h6M27 103h6"/>
<path stroke="#2976ff" d="M77 2h1M79 3h2M84 4h2M95 4h1M68 5h1M77 5h1M74 7h1M8 8h1M74 8h1M79 10h2M76 13h1M89 13h2M5 14h1M66 14h1M76 14h1M4 15h1M61 15h3M76 15h1M91 15h3M61 16h5M76 16h1M62 17h3M76 17h1M80 17h1M84 17h1M61 18h5M79 18h1M61 19h2M79 19h2M66 20h1M72 20h2M66 21h1M59 22h1M66 22h1M71 23h1M59 25h1M66 25h1M71 25h1M66 26h1M72 28h1M66 29h1M71 29h1M76 29h2M66 30h1M24 31h1M71 31h1M76 31h3M24 32h1M34 32h1M23 33h1M27 33h2M32 33h3M71 33h1M23 34h1M71 34h1M71 35h1M59 36h1M66 37h1M71 37h1M66 38h1M54 39h6M64 39h7M35 40h6M44 40h1M46 40h3M56 40h2M66 40h2M35 41h6M44 41h7M56 41h2M23 42h1M34 42h1M41 42h6M48 42h3M54 42h1M57 42h2M34 43h1M39 43h5M46 43h1M48 43h1M51 43h2M73 43h1M42 44h2M45 44h1M51 44h1M56 44h3M68 44h1M35 45h2M39 45h3M47 45h2M51 45h5M58 45h1M68 45h1M36 46h3M49 46h6M58 46h1M41 47h3M46 47h1M49 47h6M58 47h1M34 48h2M42 48h2M48 48h7M77 48h4M27 49h1M34 49h4M44 49h1M46 49h3M54 49h1M58 49h1M78 49h1M25 50h3M34 50h3M45 50h1M49 50h5M58 50h1M79 50h1M33 51h3M39 51h5M46 51h2M52 51h2M67 51h2M79 51h2M34 52h1M42 52h2M46 52h2M57 52h1M69 52h2M78 52h3M99 52h2M35 53h3M41 53h3M46 53h2M49 53h2M54 53h2M59 53h2M95 53h1M98 53h1M101 53h3M37 54h3M47 54h1M51 54h1M74 54h2M78 54h1M83 54h1M91 54h3M96 54h2M100 54h1M28 55h3M37 55h2M40 55h1M92 55h1M100 55h4M24 56h1M26 56h1M39 56h1M51 56h1M85 56h1M91 56h1M99 56h1M101 56h3M27 57h5M34 57h3M38 57h1M79 57h2M100 57h1M24 58h3M29 58h3M34 58h6M70 58h2M94 58h1M101 58h3M24 59h5M34 59h1M39 59h1M47 59h1M60 59h2M63 59h1M101 59h3M53 60h2M34 61h7M85 61h1M27 62h1M62 62h2M69 62h1M7 63h5M17 63h2M34 63h1M37 64h1M44 64h2M48 64h1M77 64h1M24 65h2M29 65h2M78 65h1M17 66h1M4 67h2M80 67h1M86 67h1M76 68h2M94 68h1M96 68h2M71 69h1M73 69h3M66 70h2M58 71h1M60 71h1M76 71h5M84 71h3M88 71h2M53 72h1M56 72h1M62 72h1M75 72h1M98 72h6M49 73h1M51 73h1M72 73h3M38 74h1M52 74h1M58 74h1M70 74h1M27 75h1M29 75h2M56 75h6M16 76h1M5 77h2M12 77h2M51 77h1M35 78h4M25 79h4M11 80h1M22 80h1M0 81h5M66 81h2M81 82h6M67 83h1M87 83h1M88 84h7M88 86h1M91 86h2M69 87h1M69 88h2M29 89h2M66 90h2M69 92h2M68 93h3M68 94h3M69 95h3M28 96h1M69 96h2M67 97h1M69 97h2M72 97h1M29 98h2M67 98h2M68 99h1M31 100h1M64 100h2M91 100h2M91 101h2M91 102h2M91 103h2"/>
<path stroke="#1f7dff" d="M100 0h4M100 1h4M87 2h1M77 3h1M94 3h1M77 4h1M82 4h2M94 4h1M55 6h1M75 6h1M76 9h1M82 9h1M76 10h1M78 10h1M76 11h1M78 11h3M76 12h1M77 13h1M82 13h1M84 13h2M88 13h1M91 13h2M77 14h2M80 14h1M82 14h1M84 14h10M64 15h2M77 15h4M86 15h5M79 16h2M84 16h1M89 16h5M61 17h1M78 17h2M82 17h2M85 17h1M54 18h1M82 18h1M84 18h3M63 19h3M76 20h5M71 21h1M74 21h2M71 22h1M66 23h1M71 24h1M71 26h1M89 26h2M66 27h1M71 27h1M82 27h1M91 27h2M59 28h1M66 28h1M73 28h1M72 29h1M73 30h1M79 30h5M25 31h9M66 31h1M26 32h3M32 32h2M72 32h1M76 32h3M24 33h3M29 33h3M66 33h1M24 34h1M27 34h8M66 34h1M79 34h2M24 35h1M26 35h9M66 35h1M79 35h2M24 36h4M31 36h4M66 36h1M72 36h2M25 37h1M34 37h1M89 37h2M25 38h2M34 38h1M60 38h1M64 38h2M25 39h2M34 39h1M71 39h1M25 40h1M34 40h1M58 40h1M23 41h1M33 41h2M58 41h1M24 42h1M33 42h1M39 42h2M55 42h2M23 43h2M44 43h2M49 43h2M57 43h1M74 43h2M83 43h1M89 43h1M24 44h1M34 44h1M44 44h1M49 44h2M54 44h2M89 44h1M34 45h1M42 45h2M49 45h2M23 46h1M25 46h3M34 46h2M39 46h10M76 46h1M23 47h1M28 47h1M36 47h5M44 47h2M76 47h1M79 47h5M23 48h1M28 48h1M36 48h1M41 48h1M23 49h1M31 49h3M38 49h1M41 49h3M51 49h3M79 49h2M24 50h1M32 50h2M37 50h4M44 50h1M46 50h3M54 50h1M57 50h1M90 50h3M23 51h1M32 51h1M44 51h2M54 51h1M90 51h1M48 52h1M90 52h1M95 52h1M101 52h3M34 53h1M44 53h2M48 53h1M91 53h4M99 53h2M25 54h1M34 54h3M40 54h4M46 54h1M49 54h2M76 54h2M81 54h2M98 54h2M31 55h1M34 55h3M41 55h1M48 55h1M51 55h1M93 55h1M99 55h1M25 56h1M40 56h2M49 56h2M86 56h1M88 56h3M92 56h1M24 57h3M39 57h1M46 57h6M94 57h2M99 57h1M101 57h3M40 58h1M46 58h3M51 58h1M72 58h1M79 58h2M40 59h1M45 59h2M48 59h1M51 59h1M64 59h1M71 59h2M78 59h3M92 59h2M42 60h10M88 60h2M49 61h3M72 61h1M28 62h2M32 62h3M39 62h5M51 62h4M64 62h4M83 62h1M12 63h5M19 63h2M25 63h1M32 63h2M35 63h2M41 63h3M48 63h4M81 63h2M20 64h1M24 64h4M31 64h6M38 64h1M40 64h4M46 64h2M80 64h1M21 65h3M14 66h3M0 67h4M81 67h1M85 67h1M78 68h3M84 68h3M88 68h3M93 68h1M72 69h1M84 69h2M88 69h3M93 69h3M99 69h1M68 70h8M86 70h5M93 70h3M61 71h2M66 71h2M74 71h2M81 71h3M87 71h1M90 71h1M94 71h2M99 71h1M57 72h5M63 72h5M74 72h1M50 73h1M52 73h2M57 73h2M71 73h1M42 74h2M51 74h1M53 74h2M56 74h2M59 74h3M67 74h3M28 75h1M31 75h1M47 75h2M51 75h5M17 76h1M26 76h3M31 76h2M45 76h1M47 76h2M51 76h1M7 77h5M14 77h1M24 77h1M27 77h2M34 77h3M39 77h2M49 77h2M8 78h1M14 78h1M17 78h1M24 78h1M29 78h3M34 78h1M42 78h4M5 79h2M23 79h2M9 80h2M80 82h1M91 85h4M89 86h2M93 86h2M87 87h1M80 88h1M87 88h1M80 89h1M87 89h1M80 90h1M31 98h1M71 99h1M81 99h1M84 99h2M52 100h4M62 100h2M66 100h1M69 100h10M81 100h2M86 100h5M93 100h1M96 100h3M52 101h1M57 101h1M61 101h3M76 101h2M81 101h3M88 101h3M93 101h1M98 101h6M52 102h1M57 102h1M61 102h3M76 102h2M81 102h3M88 102h3M93 102h1M98 102h6M52 103h1M57 103h1M61 103h3M76 103h2M81 103h3M88 103h3M93 103h1M98 103h6"/>
<path stroke="#1984ff" d="M91 2h2M86 4h1M96 4h2M66 6h1M71 6h4M82 6h1M55 7h2M66 7h1M82 7h1M45 8h1M82 8h1M77 9h4M77 10h1M82 10h1M77 11h1M82 11h1M77 12h4M82 12h1M78 13h3M83 13h1M86 13h2M93 13h1M4 14h1M79 14h1M83 14h1M94 14h1M82 15h4M94 15h1M77 16h2M82 16h2M85 16h4M94 16h1M77 17h1M86 17h8M83 18h1M87 18h7M82 19h1M61 20h5M81 20h3M89 20h1M76 21h8M89 21h4M79 22h2M89 22h4M74 23h1M66 24h1M91 24h2M74 26h1M74 27h2M81 27h1M83 27h1M89 27h2M83 28h1M89 28h4M73 29h3M82 29h2M89 29h3M72 30h1M91 30h2M72 31h2M79 31h4M89 31h2M25 32h1M31 32h1M66 32h1M73 32h3M79 32h5M89 32h2M72 33h1M78 33h6M89 33h2M25 34h2M72 34h2M78 34h1M81 34h3M89 34h2M25 35h1M72 35h4M78 35h1M83 35h1M89 35h2M23 36h1M28 36h3M74 36h2M89 36h2M23 37h2M26 37h8M72 37h4M78 37h6M23 38h2M27 38h7M61 38h3M71 38h1M74 38h2M78 38h6M89 38h2M23 39h2M27 39h7M74 39h2M78 39h6M23 40h2M26 40h2M33 40h1M72 40h1M75 40h9M91 40h2M24 41h3M32 41h1M72 41h1M76 41h5M83 41h1M91 41h2M25 42h3M32 42h1M72 42h1M76 42h1M79 42h5M89 42h2M25 43h4M33 43h1M53 43h1M81 43h2M90 43h1M23 44h1M25 44h2M29 44h2M76 44h1M83 44h1M90 44h3M23 45h2M29 45h3M33 45h1M76 45h1M83 45h1M91 45h2M24 46h1M28 46h4M77 46h2M91 46h2M29 47h7M77 47h2M89 47h1M30 48h4M37 48h4M90 48h3M30 49h1M39 49h2M66 49h1M90 49h1M31 50h1M41 50h3M55 50h2M66 50h1M24 51h1M27 51h1M31 51h1M99 51h5M56 52h1M26 54h1M33 54h1M44 54h2M32 55h2M42 55h6M49 55h2M94 55h2M98 55h1M42 56h7M87 56h1M93 56h1M98 56h1M40 57h2M44 57h2M88 57h6M96 57h3M41 58h1M44 58h2M49 58h2M73 58h1M78 58h1M84 58h10M41 59h1M44 59h1M49 59h2M65 59h6M73 59h2M76 59h2M89 59h3M57 60h1M62 60h2M68 60h6M75 60h7M41 61h1M44 61h3M48 61h1M52 61h1M54 61h1M62 61h2M67 61h2M70 61h2M76 61h3M81 61h1M84 61h1M30 62h2M35 62h4M44 62h7M68 62h1M76 62h3M81 62h1M21 63h1M24 63h1M26 63h6M37 63h4M44 63h4M75 63h1M78 63h3M19 64h1M21 64h3M28 64h3M39 64h1M78 64h2M19 65h2M11 66h3M82 67h3M83 68h1M87 68h1M91 68h2M76 69h5M83 69h1M87 69h1M91 69h2M96 69h3M100 69h4M76 70h10M91 70h2M96 70h8M63 71h3M68 71h6M91 71h3M96 71h3M100 71h4M68 72h6M56 73h1M59 73h5M66 73h3M39 74h3M44 74h1M48 74h3M55 74h1M62 74h5M32 75h1M42 75h2M46 75h1M49 75h2M18 76h8M29 76h2M33 76h1M35 76h3M42 76h3M46 76h1M49 76h2M15 77h9M26 77h1M29 77h5M37 77h2M41 77h3M47 77h2M0 78h8M9 78h5M15 78h2M18 78h6M25 78h2M28 78h1M32 78h2M40 78h2M0 79h5M7 79h3M11 79h12M0 80h9M87 85h4M87 86h1M80 87h1M84 90h2M84 94h2M71 96h1M81 96h1M71 97h1M69 98h3M81 98h1M84 98h2M69 99h2M82 99h2M87 99h1M56 100h2M59 100h3M67 100h2M79 100h2M83 100h1M94 100h2M99 100h5M53 101h4M58 101h1M65 101h6M78 101h1M84 101h4M94 101h4M53 102h4M58 102h1M65 102h6M78 102h1M84 102h4M94 102h4M53 103h4M58 103h1M65 103h6M78 103h1M84 103h4M94 103h4"/>
<path stroke="#168aff" d="M72 0h1M76 0h1M72 1h1M76 1h1M88 2h1M93 2h1M64 3h2M98 4h1M57 7h1M41 8h1M44 8h1M66 8h1M13 9h1M66 10h1M13 11h1M85 12h1M94 13h1M94 17h1M94 18h1M83 19h1M93 19h2M90 20h1M64 21h1M72 21h2M93 21h1M72 22h7M81 22h3M93 22h1M72 23h2M75 23h1M89 23h5M72 24h3M89 24h2M93 24h1M65 25h1M72 25h3M89 25h4M72 26h2M76 26h2M83 26h1M91 26h2M73 27h1M76 27h2M93 27h1M65 28h1M74 28h3M82 28h1M93 28h1M92 29h2M89 30h2M60 31h1M83 31h1M91 31h2M29 32h2M60 32h1M91 32h2M60 33h2M73 33h5M91 33h2M60 34h1M74 34h4M91 34h2M76 35h2M81 35h2M91 35h2M76 36h8M65 37h1M76 37h2M73 38h1M77 38h1M72 39h2M76 39h2M89 39h5M28 40h5M73 40h2M89 40h2M93 40h1M27 41h5M73 41h1M81 41h2M89 41h2M28 42h2M31 42h1M73 42h1M75 42h1M77 42h2M91 42h2M29 43h4M76 43h5M91 43h3M27 44h2M31 44h1M33 44h1M77 44h6M93 44h1M25 45h4M32 45h1M77 45h6M89 45h2M93 45h1M32 46h2M79 46h2M83 46h1M90 47h3M29 48h1M23 50h1M93 50h1M25 51h2M30 51h1M91 51h3M95 51h1M98 51h1M27 54h1M30 54h1M96 55h2M94 56h4M42 57h2M81 57h7M42 58h2M74 58h4M81 58h3M42 59h2M75 59h1M81 59h4M88 59h1M64 60h1M66 60h2M74 60h1M87 60h1M42 61h2M47 61h1M53 61h1M64 61h1M66 61h1M69 61h1M79 61h2M55 62h1M61 62h1M79 62h2M22 63h2M0 64h7M9 64h3M18 64h1M0 65h4M18 65h1M0 66h11M81 68h2M81 69h2M86 69h1M54 73h2M64 73h2M69 73h2M45 74h3M36 75h3M41 75h1M45 75h1M34 76h1M38 76h4M25 77h1M44 77h3M27 78h1M39 78h1M10 79h1M80 83h1M87 84h1M80 85h1M80 86h1M81 90h3M86 90h1M84 91h3M84 92h3M84 93h2M81 94h1M83 94h1M81 95h5M82 96h3M86 96h1M81 97h1M83 97h3M82 98h2M86 98h1M86 99h1M58 100h1M84 100h1M59 101h2M64 101h1M71 101h5M79 101h2M59 102h2M64 102h1M71 102h5M79 102h2M59 103h2M64 103h1M71 103h5M79 103h2"/>
<path stroke="#1490ff" d="M69 0h1M71 0h1M73 0h3M69 1h1M71 1h1M73 1h3M89 2h2M66 3h3M99 4h1M82 5h1M84 5h3M94 5h2M86 6h2M91 6h9M83 7h5M98 7h2M42 8h2M83 8h1M66 9h1M83 9h1M66 11h1M83 12h2M86 12h3M97 13h7M63 14h3M95 14h4M100 14h4M95 15h1M97 15h7M95 16h1M95 18h2M101 18h3M89 19h4M100 19h1M91 20h4M100 20h1M60 21h4M65 21h1M61 22h5M60 23h5M80 23h1M60 24h1M64 24h2M75 24h2M83 24h1M100 24h1M60 25h1M64 25h1M76 25h1M83 25h1M100 25h4M60 26h1M65 26h1M75 26h1M78 26h1M80 26h1M101 26h3M60 27h1M64 27h2M72 27h1M78 27h3M64 28h1M77 28h1M98 28h3M60 29h1M63 29h3M81 29h1M96 29h2M60 30h2M63 30h3M93 30h1M61 31h3M61 32h4M93 32h1M101 32h3M62 33h2M61 34h3M60 35h1M61 36h5M91 36h4M60 37h2M63 37h2M91 37h2M72 38h1M76 38h1M91 38h3M94 39h1M74 41h2M93 41h1M30 42h1M74 42h1M93 42h1M94 43h1M32 44h1M94 44h1M94 45h1M81 46h2M89 46h2M93 46h1M93 47h1M93 48h1M91 49h4M30 50h1M96 50h8M58 51h1M94 51h1M96 51h2M33 52h1M31 54h2M85 59h1M58 60h1M65 60h1M65 61h1M73 61h1M56 62h1M7 64h2M12 64h6M4 65h3M8 65h10M33 75h3M39 75h2M44 75h1M81 83h2M81 89h1M81 91h3M81 92h3M81 93h3M86 93h1M82 94h1M86 94h1M86 95h1M85 96h1M82 97h1M86 97h1M85 100h1"/>
<path stroke="#1196ff" d="M64 0h1M64 1h1M83 5h1M87 5h7M96 5h3M59 6h1M83 6h3M88 6h1M7 7h1M58 7h1M88 7h8M84 8h4M98 8h2M11 9h2M84 9h1M86 9h1M98 9h2M83 10h4M11 11h2M83 11h1M86 11h2M89 12h1M91 12h3M97 12h7M66 13h1M95 13h2M61 14h2M99 14h1M96 15h1M98 16h3M95 17h3M100 17h4M97 18h4M95 19h1M99 19h1M101 19h3M99 20h1M101 20h3M94 21h1M100 21h4M60 22h1M100 22h4M65 23h1M76 23h2M83 23h1M100 23h1M61 24h1M63 24h1M75 25h1M77 25h1M93 25h1M64 26h1M79 26h1M81 26h2M96 26h5M94 27h2M97 27h1M94 28h2M97 28h1M78 29h1M94 29h2M98 29h2M62 30h1M101 30h3M64 31h2M93 31h1M101 31h3M65 32h1M64 33h2M93 33h1M102 33h2M64 34h2M93 34h1M101 34h3M61 35h5M93 35h1M101 35h3M60 36h1M95 36h2M62 37h1M93 37h2M94 38h1M94 40h1M95 44h2M98 44h6M95 45h1M101 45h3M94 46h1M101 46h3M94 47h1M102 47h2M94 48h1M95 49h6M94 50h2M27 52h2M86 59h1M75 61h1M57 62h4M82 62h1M7 65h1M80 84h1M82 89h1"/>
<path stroke="#0b9cff" d="M65 0h3M65 1h3M100 2h1M99 5h1M60 6h1M89 6h2M96 7h2M88 8h5M97 8h1M85 9h1M87 9h1M87 10h1M98 10h2M84 11h2M98 11h2M66 12h1M90 12h1M94 12h3M96 16h2M101 16h3M98 17h2M99 21h1M94 22h1M78 23h2M81 23h2M94 23h1M101 23h3M62 24h1M80 24h3M99 24h1M101 24h3M61 25h1M80 25h3M99 25h1M93 26h1M96 27h1M98 27h6M60 28h1M81 28h1M96 28h1M101 28h3M61 29h2M100 29h1M96 30h2M101 33h1M96 35h2M97 36h1M94 41h1M94 42h1M95 43h1M97 44h1M96 45h5M101 47h1M101 48h3M101 49h3M56 60h1M86 60h1M83 61h1M83 83h1M86 83h1M83 89h3"/>
<path stroke="#08a1ff" d="M68 0h1M70 0h1M68 1h1M70 1h1M101 2h3M87 3h1M93 8h4M97 9h1M88 11h1M96 19h1M98 19h1M95 20h1M95 21h1M99 22h1M99 23h1M77 24h1M94 24h1M62 25h2M78 25h1M98 25h1M61 26h1M95 26h1M63 28h1M101 29h3M98 30h1M100 30h1M97 31h1M100 31h1M94 32h1M94 33h1M99 33h2M94 34h3M100 34h1M94 35h2M100 35h1M98 36h3M95 37h1M95 38h1M95 39h1M95 40h1M100 43h4M95 46h2M98 46h3M95 47h1M95 48h1M100 48h1M54 52h1M33 53h1M87 59h1M82 60h1M74 62h1M76 63h2M85 83h1M86 89h1"/>
<path stroke="#04a7ff" d="M87 4h1M52 6h1M13 10h1M97 11h1M97 19h1M60 20h1M98 20h1M96 21h1M98 21h1M95 22h4M95 23h4M95 24h1M98 24h1M96 25h2M94 26h1M61 27h1M94 30h2M99 30h1M94 31h3M98 31h2M95 32h1M100 32h1M95 33h4M97 34h3M98 35h2M101 36h3M98 37h2M96 39h3M96 40h2M101 40h3M95 41h3M101 41h3M95 42h2M101 42h3M96 43h1M98 43h2M97 46h1M96 47h2M100 47h1M96 48h1M98 48h2M55 51h1M55 52h1M91 52h4M29 54h1M85 60h1M82 61h1M75 62h1M84 83h1M81 84h1M86 86h1M86 87h1M81 88h1"/>
<path stroke="#00acfc" d="M93 4h1M53 6h2M61 6h1M96 9h1M88 10h1M97 10h1M89 11h1M94 11h2M96 20h2M97 21h1M78 24h2M96 24h2M79 25h1M94 25h2M62 26h2M63 27h1M61 28h1M96 32h4M96 37h2M100 37h1M96 38h8M99 39h5M98 40h3M98 41h3M97 42h4M97 43h1M98 47h2M97 48h1M28 50h1M28 51h1M56 51h2M83 60h2M82 84h1M86 84h1M81 85h6M81 86h5M81 87h5M82 88h5"/>
<path stroke="#00b1f8" d="M88 4h5M88 9h2M94 9h2M89 10h1M94 10h2M90 11h4M96 11h1M100 11h4M62 27h1M62 28h1M79 29h2M101 37h3M28 49h2M69 49h1M69 50h1M29 51h1M28 54h1M83 84h3"/>
<path stroke="#00b6f2" d="M91 3h3M100 3h1M62 6h1M100 6h1M100 7h1M90 9h4M90 10h1M96 10h1M60 15h1M60 19h1M54 43h3M67 49h1M74 61h1"/>
<path stroke="#00bbea" d="M64 2h4M88 3h3M101 4h3M100 5h1M63 6h1M100 8h1M100 9h1M11 10h1M100 10h1M60 16h1M78 28h1M68 49h1M29 50h1M67 50h2"/>
<path stroke="#00bfe3" d="M68 2h2M101 3h3M100 4h1M101 5h3M101 6h3M101 7h3M101 8h3M12 10h1M91 10h3M60 17h1M60 18h1M79 28h2"/>
<path stroke="#00c3db" d="M64 6h1M101 9h3M101 10h3"/>
<path stroke="#00c6d2" d="M76 2h1M69 3h1M69 4h1M69 5h1M76 5h1M65 6h1M60 14h1M54 17h1"/>
<path stroke="#00c8c8" d="M72 2h2M72 5h4M54 8h1"/>
<path stroke="#00cabd" d="M74 2h2M71 5h1M54 13h1M54 14h1M54 15h1M54 16h1M25 52h1M55 60h1"/>
<path stroke="#00ccb3" d="M71 2h1M70 5h1M54 9h1M54 10h1M54 12h1M25 53h1M61 60h1M61 61h1"/>
<path stroke="#09cea9" d="M76 4h1M54 11h1M55 20h1M55 61h1"/>
<path stroke="#0fd09e" d="M72 3h1M76 3h1M73 4h3M29 52h1M59 60h2M56 61h3"/>
<path stroke="#16d293" d="M71 3h1M73 3h3M70 4h3M26 52h1M30 52h3M59 61h2"/>
<path stroke="#1fd486" d="M56 20h4M26 53h3"/>
<path stroke="#2dd579" d="M29 53h1"/>
<path stroke="#3dd56b" d="M70 2h1M70 3h1M59 7h1M30 53h2"/>
<path stroke="#4dd55c" d="M32 53h1"/>
<path stroke="#5ed54c" d="M55 8h3M61 13h1"/>
<path stroke="#71d33e" d="M58 8h1"/>
<path stroke="#84d12f" d="M60 13h1M65 13h1"/>
<path stroke="#96cf20" d="M62 13h1"/>
<path stroke="#a8cc13" d="M58 10h1M57 11h2M58 12h1"/>
<path stroke="#b9c808" d="M57 10h1M57 12h1M58 13h1M63 13h1M58 14h2"/>
<path stroke="#c9c500" d="M57 13h1"/>
<path stroke="#d9c100" d="M59 13h1M64 13h1M57 14h1"/>
<path stroke="#f4bb03" d="M65 7h1M57 9h2M55 10h1M55 19h1"/>
<path stroke="#ffb90d" d="M55 9h1M55 11h1M55 12h1M55 13h1M55 14h1M55 15h1M55 16h1M55 18h1"/>
<path stroke="#ffb916" d="M57 15h3M55 17h1"/>
<path stroke="#ffbc14" d="M59 8h1M56 9h1M56 10h1M56 11h1M56 12h1M56 15h1M56 16h3M56 19h4"/>
<path stroke="#ffc30e" d="M56 13h1M56 14h1M59 16h1M58 18h2"/>
<path stroke="#ffc907" d="M59 10h1M59 11h1M56 17h4M56 18h2"/>
<path stroke="#ffd001" d="M60 7h1M65 8h1M65 9h1M59 12h1"/>
<path stroke="#ffd700" d="M61 7h4M59 9h1M65 10h1"/>
<path stroke="#ffde00" d="M65 11h1M65 12h1"/>
<path stroke="#fcf300" d="M60 8h1M60 10h1M60 11h1M60 12h1"/>
<path stroke="#fcfa00" d="M60 9h1M61 12h4"/>
<path stroke="#feff00" d="M61 8h4M61 9h4M61 10h4M61 11h4"/>
</g>
<g fill="#0a1a50" fill-opacity="0.85">
<rect x="2" y="2" width="100" height="0.260417"/>
<rect x="2" y="101.74" width="100" height="0.260417"/>
<rect x="2" y="2" width="0.205761" height="100"/>
<rect x="101.846" y="2" width="0.154321" height="100"/>
<rect x="11.5377" y="2" width="0.164609" height="1.04167"/>
<rect x="11.5377" y="100.958" width="0.164609" height="1.04167"/>
<rect x="21.5377" y="2" width="0.164609" height="1.04167"/>
<rect x="21.5377" y="100.958" width="0.164609" height="1.04167"/>
<rect x="31.5377" y="2" width="0.164609" height="1.04167"/>
<rect x="31.5377" y="100.958" width="0.164609" height="1.04167"/>
<rect x="41.5377" y="2" width="0.164609" height="1.04167"/>
<rect x="41.5377" y="100.958" width="0.164609" height="1.04167"/>
<rect x="51.5377" y="2" width="0.164609" height="1.04167"/>
<rect x="51.5377" y="100.958" width="0.164609" height="1.04167"/>
<rect x="61.5377" y="2" width="0.164609" height="1.04167"/>
<rect x="61.5377" y="100.958" width="0.164609" height="1.04167"/>
<rect x="71.5377" y="2" width="0.164609" height="1.04167"/>
<rect x="71.5377" y="100.958" width="0.164609" height="1.04167"/>
<rect x="81.5377" y="2" width="0.164609" height="1.04167"/>
<rect x="81.5377" y="100.958" width="0.164609" height="1.04167"/>
<rect x="91.5377" y="2" width="0.164609" height="1.04167"/>
<rect x="91.5377" y="100.958" width="0.164609" height="1.04167"/>
<rect x="101.538" y="2" width="0.164609" height="1.04167"/>
<rect x="101.538" y="100.958" width="0.164609" height="1.04167"/>
<rect x="2" y="11.4258" width="0.823045" height="0.208333"/>
<rect x="101.177" y="11.4258" width="0.823045" height="0.208333"/>
<rect x="2" y="21.4258" width="0.823045" height="0.208333"/>
<rect x="101.177" y="21.4258" width="0.823045" height="0.208333"/>
<rect x="2" y="31.4258" width="0.823045" height="0.208333"/>
<rect x="101.177" y="31.4258" width="0.823045" height="0.208333"/>
<rect x="2" y="41.4258" width="0.823045" height="0.208333"/>
<rect x="101.177" y="41.4258" width="0.823045" height="0.208333"/>
<rect x="2" y="51.4258" width="0.823045" height="0.208333"/>
<rect x="101.177" y="51.4258" width="0.823045" height="0.208333"/>
<rect x="2" y="61.4258" width="0.823045" height="0.208333"/>
<rect x="101.177" y="61.4258" width="0.823045" height="0.208333"/>
<rect x="2" y="71.4258" width="0.823045" height="0.208333"/>
<rect x="101.177" y="71.4258" width="0.823045" height="0.208333"/>
<rect x="2" y="81.4258" width="0.823045" height="0.208333"/>
<rect x="101.177" y="81.4258" width="0.823045" height="0.208333"/>
<rect x="2" y="91.4258" width="0.823045" height="0.208333"/>
<rect x="101.177" y="91.4258" width="0.823045" height="0.208333"/>
</g>
</svg>
<svg class="hist" style="left:0;top:0" width="2051" height="3560" viewBox="0 0 2051 3560">
<defs><linearGradient id="gg0" x1="0" x2="1" y1="0" y2="0"><stop offset="0" stop-color="#000"/><stop offset="1" stop-color="#fff"/></linearGradient></defs>
<rect x="1174.0" y="701.5" width="747.3" height="53.0" fill="url(#gg0)"/>
<path fill="#b0f4fc" d="M1173.75 701.5V684.4h4.61V701.5zM1177.87 701.5V623.9h4.61V701.5zM1179.93 701.5V635.3h4.61V701.5zM1184.05 701.5V647.4h4.61V701.5zM1186.11 701.5V513.9h4.61V701.5zM1190.23 701.5V386.7h4.61V701.5zM1192.29 701.5V220.7h4.61V701.5zM1194.35 701.5V240.8h4.61V701.5zM1198.47 701.5V305.0h4.61V701.5zM1200.53 701.5V305.0h4.61V701.5zM1204.65 701.5V438.8h4.61V701.5zM1206.71 701.5V407.6h4.61V701.5zM1208.77 701.5V452.7h4.61V701.5zM1212.89 701.5V504.0h4.61V701.5zM1214.95 701.5V463.7h4.61V701.5zM1219.07 701.5V488.3h4.61V701.5zM1221.13 701.5V295.8h4.61V701.5zM1225.25 701.5V268.3h4.61V701.5zM1227.31 701.5V210.8h4.61V701.5zM1229.37 701.5V279.3h4.61V701.5zM1233.49 701.5V389.3h4.61V701.5zM1235.55 701.5V334.3h4.61V701.5zM1239.67 701.5V286.6h4.61V701.5zM1241.73 701.5V235.3h4.61V701.5zM1245.85 701.5V235.3h4.61V701.5zM1247.91 701.5V92.3h4.61V701.5zM1249.97 701.5V176.7h4.61V701.5zM1254.09 701.5V96.0h4.61V701.5zM1256.15 701.5V180.3h4.61V701.5zM1260.27 701.5V206.0h4.61V701.5zM1262.33 701.5V173.0h4.61V701.5zM1266.45 701.5V220.7h4.61V701.5zM1268.51 701.5V129.0h4.61V701.5zM1270.57 701.5V151.0h4.61V701.5zM1274.69 701.5V46.9h4.61V701.5zM1276.75 701.5V46.9h4.61V701.5zM1280.87 701.5V46.9h4.61V701.5zM1282.92 701.5V46.9h4.61V701.5zM1284.98 701.5V46.9h4.61V701.5zM1289.10 701.5V46.9h4.61V701.5zM1291.16 701.5V46.9h4.61V701.5zM1295.28 701.5V46.9h4.61V701.5zM1297.34 701.5V46.9h4.61V701.5zM1301.46 701.5V46.9h4.61V701.5zM1303.52 701.5V46.9h4.61V701.5zM1305.58 701.5V46.9h4.61V701.5zM1309.70 701.5V132.7h4.61V701.5zM1311.76 701.5V268.3h4.61V701.5zM1315.88 701.5V367.3h4.61V701.5zM1317.94 701.5V363.6h4.61V701.5zM1322.06 701.5V330.6h4.61V701.5zM1324.12 701.5V396.6h4.61V701.5zM1326.18 701.5V276.7h4.61V701.5zM1330.30 701.5V389.3h4.61V701.5zM1332.36 701.5V357.4h4.61V701.5zM1336.48 701.5V374.6h4.61V701.5zM1338.54 701.5V349.0h4.61V701.5zM1342.66 701.5V316.0h4.61V701.5zM1344.72 701.5V239.0h4.61V701.5zM1346.78 701.5V209.7h4.61V701.5zM1350.90 701.5V268.3h4.61V701.5zM1352.96 701.5V125.3h4.61V701.5zM1357.08 701.5V88.7h4.61V701.5zM1359.14 701.5V246.3h4.61V701.5zM1361.20 701.5V114.3h4.61V701.5zM1365.32 701.5V169.3h4.61V701.5zM1367.38 701.5V180.3h4.61V701.5zM1371.50 701.5V275.6h4.61V701.5zM1373.56 701.5V213.3h4.61V701.5zM1377.68 701.5V280.5h4.61V701.5zM1379.74 701.5V389.3h4.61V701.5zM1381.80 701.5V399.1h4.61V701.5zM1385.92 701.5V407.6h4.61V701.5zM1387.98 701.5V433.3h4.61V701.5zM1392.10 701.5V473.6h4.61V701.5zM1394.15 701.5V480.9h4.61V701.5zM1398.27 701.5V519.4h4.61V701.5zM1400.33 701.5V511.0h4.61V701.5zM1402.39 701.5V506.6h4.61V701.5zM1406.51 701.5V505.9h4.61V701.5zM1408.57 701.5V504.8h4.61V701.5zM1412.69 701.5V529.7h4.61V701.5zM1414.75 701.5V548.8h4.61V701.5zM1418.87 701.5V500.7h4.61V701.5zM1420.93 701.5V500.7h4.61V701.5zM1422.99 701.5V540.3h4.61V701.5zM1427.11 701.5V546.9h4.61V701.5zM1429.17 701.5V548.4h4.61V701.5zM1433.29 701.5V588.4h4.61V701.5zM1435.35 701.5V605.6h4.61V701.5zM1437.41 701.5V629.4h4.61V701.5zM1441.53 701.5V653.2h4.61V701.5zM1443.59 701.5V644.1h4.61V701.5zM1447.71 701.5V646.9h4.61V701.5zM1449.77 701.5V651.8h4.61V701.5zM1453.89 701.5V681.1h4.61V701.5zM1455.95 701.5V683.5h4.61V701.5zM1458.01 701.5V684.8h4.61V701.5zM1462.13 701.5V691.0h4.61V701.5zM1464.19 701.5V694.0h4.61V701.5zM1468.31 701.5V690.3h4.61V701.5zM1470.37 701.5V687.5h4.61V701.5zM1474.49 701.5V685.4h4.61V701.5zM1476.55 701.5V682.5h4.61V701.5zM1478.61 701.5V685.6h4.61V701.5zM1482.73 701.5V687.2h4.61V701.5zM1484.79 701.5V692.5h4.61V701.5zM1495.09 701.5V685.2h4.61V701.5zM1503.32 701.5V694.8h4.61V701.5zM1505.38 701.5V682.5h4.61V701.5zM1509.50 701.5V689.2h4.61V701.5zM1513.62 701.5V685.3h4.61V701.5zM1517.74 701.5V685.3h4.61V701.5zM1523.92 701.5V687.6h4.61V701.5zM1532.16 701.5V687.1h4.61V701.5zM1534.22 701.5V691.5h4.61V701.5zM1540.40 701.5V693.5h4.61V701.5zM1544.52 701.5V697.0h4.61V701.5zM1550.70 701.5V693.8h4.61V701.5zM1554.82 701.5V689.9h4.61V701.5zM1558.94 701.5V689.7h4.61V701.5zM1565.12 701.5V691.9h4.61V701.5zM1573.36 701.5V690.4h4.61V701.5zM1589.84 701.5V695.4h4.61V701.5zM1600.14 701.5V685.3h4.61V701.5zM1622.79 701.5V685.7h4.61V701.5zM1637.21 701.5V685.1h4.61V701.5zM1649.57 701.5V685.6h4.61V701.5zM1655.75 701.5V689.3h4.61V701.5zM1676.35 701.5V685.3h4.61V701.5zM1684.59 701.5V695.5h4.61V701.5zM1692.83 701.5V687.5h4.61V701.5zM1705.19 701.5V697.0h4.61V701.5zM1707.25 701.5V696.9h4.61V701.5zM1711.37 701.5V686.2h4.61V701.5zM1721.67 701.5V693.7h4.61V701.5zM1734.02 701.5V691.4h4.61V701.5zM1754.62 701.5V696.8h4.61V701.5zM1758.74 701.5V696.9h4.61V701.5zM1760.80 701.5V695.6h4.61V701.5zM1769.04 701.5V696.7h4.61V701.5zM1802.00 701.5V680.7h4.61V701.5zM1804.06 701.5V688.1h4.61V701.5zM1814.36 701.5V696.7h4.61V701.5zM1849.37 701.5V694.5h4.61V701.5zM1859.67 701.5V695.3h4.61V701.5zM1880.27 701.5V691.8h4.61V701.5zM1892.63 701.5V695.5h4.61V701.5zM1898.81 701.5V691.7h4.61V701.5zM1900.87 701.5V680.7h4.61V701.5z"/>
<path fill="#0070b6" d="M1174.65 701.5V685.0h2.81V701.5zM1178.77 701.5V624.5h2.81V701.5zM1180.83 701.5V635.9h2.81V701.5zM1184.95 701.5V648.0h2.81V701.5zM1187.01 701.5V514.5h2.81V701.5zM1191.13 701.5V387.3h2.81V701.5zM1193.19 701.5V221.3h2.81V701.5zM1195.25 701.5V241.4h2.81V701.5zM1199.37 701.5V305.6h2.81V701.5zM1201.43 701.5V305.6h2.81V701.5zM1205.55 701.5V439.4h2.81V701.5zM1207.61 701.5V408.2h2.81V701.5zM1209.67 701.5V453.3h2.81V701.5zM1213.79 701.5V504.6h2.81V701.5zM1215.85 701.5V464.3h2.81V701.5zM1219.97 701.5V488.9h2.81V701.5zM1222.03 701.5V296.4h2.81V701.5zM1226.15 701.5V268.9h2.81V701.5zM1228.21 701.5V211.4h2.81V701.5zM1230.27 701.5V279.9h2.81V701.5zM1234.39 701.5V389.9h2.81V701.5zM1236.45 701.5V334.9h2.81V701.5zM1240.57 701.5V287.2h2.81V701.5zM1242.63 701.5V235.9h2.81V701.5zM1246.75 701.5V235.9h2.81V701.5zM1248.81 701.5V92.9h2.81V701.5zM1250.87 701.5V177.3h2.81V701.5zM1254.99 701.5V96.6h2.81V701.5zM1257.05 701.5V180.9h2.81V701.5zM1261.17 701.5V206.6h2.81V701.5zM1263.23 701.5V173.6h2.81V701.5zM1267.35 701.5V221.3h2.81V701.5zM1269.41 701.5V129.6h2.81V701.5zM1271.47 701.5V151.6h2.81V701.5zM1275.59 701.5V47.5h2.81V701.5zM1277.65 701.5V47.5h2.81V701.5zM1281.77 701.5V47.5h2.81V701.5zM1283.82 701.5V47.5h2.81V701.5zM1285.88 701.5V47.5h2.81V701.5zM1290.00 701.5V47.5h2.81V701.5zM1292.06 701.5V47.5h2.81V701.5zM1296.18 701.5V47.5h2.81V701.5zM1298.24 701.5V47.5h2.81V701.5zM1302.36 701.5V47.5h2.81V701.5zM1304.42 701.5V47.5h2.81V701.5zM1306.48 701.5V47.5h2.81V701.5zM1310.60 701.5V133.3h2.81V701.5zM1312.66 701.5V268.9h2.81V701.5zM1316.78 701.5V367.9h2.81V701.5zM1318.84 701.5V364.2h2.81V701.5zM1322.96 701.5V331.2h2.81V701.5zM1325.02 701.5V397.2h2.81V701.5zM1327.08 701.5V277.3h2.81V701.5zM1331.20 701.5V389.9h2.81V701.5zM1333.26 701.5V358.0h2.81V701.5zM1337.38 701.5V375.2h2.81V701.5zM1339.44 701.5V349.6h2.81V701.5zM1343.56 701.5V316.6h2.81V701.5zM1345.62 701.5V239.6h2.81V701.5zM1347.68 701.5V210.3h2.81V701.5zM1351.80 701.5V268.9h2.81V701.5zM1353.86 701.5V125.9h2.81V701.5zM1357.98 701.5V89.3h2.81V701.5zM1360.04 701.5V246.9h2.81V701.5zM1362.10 701.5V114.9h2.81V701.5zM1366.22 701.5V169.9h2.81V701.5zM1368.28 701.5V180.9h2.81V701.5zM1372.40 701.5V276.2h2.81V701.5zM1374.46 701.5V213.9h2.81V701.5zM1378.58 701.5V281.1h2.81V701.5zM1380.64 701.5V389.9h2.81V701.5zM1382.70 701.5V399.7h2.81V701.5zM1386.82 701.5V408.2h2.81V701.5zM1388.88 701.5V433.9h2.81V701.5zM1393.00 701.5V474.2h2.81V701.5zM1395.05 701.5V481.5h2.81V701.5zM1399.17 701.5V520.0h2.81V701.5zM1401.23 701.5V511.6h2.81V701.5zM1403.29 701.5V507.2h2.81V701.5zM1407.41 701.5V506.5h2.81V701.5zM1409.47 701.5V505.4h2.81V701.5zM1413.59 701.5V530.3h2.81V701.5zM1415.65 701.5V549.4h2.81V701.5zM1419.77 701.5V501.3h2.81V701.5zM1421.83 701.5V501.3h2.81V701.5zM1423.89 701.5V540.9h2.81V701.5zM1428.01 701.5V547.5h2.81V701.5zM1430.07 701.5V549.0h2.81V701.5zM1434.19 701.5V589.0h2.81V701.5zM1436.25 701.5V606.2h2.81V701.5zM1438.31 701.5V630.0h2.81V701.5zM1442.43 701.5V653.8h2.81V701.5zM1444.49 701.5V644.7h2.81V701.5zM1448.61 701.5V647.5h2.81V701.5zM1450.67 701.5V652.4h2.81V701.5zM1454.79 701.5V681.7h2.81V701.5zM1456.85 701.5V684.1h2.81V701.5zM1458.91 701.5V685.4h2.81V701.5zM1463.03 701.5V691.6h2.81V701.5zM1465.09 701.5V694.6h2.81V701.5zM1469.21 701.5V690.9h2.81V701.5zM1471.27 701.5V688.1h2.81V701.5zM1475.39 701.5V686.0h2.81V701.5zM1477.45 701.5V683.1h2.81V701.5zM1479.51 701.5V686.2h2.81V701.5zM1483.63 701.5V687.8h2.81V701.5zM1485.69 701.5V693.1h2.81V701.5zM1495.99 701.5V685.8h2.81V701.5zM1504.22 701.5V695.4h2.81V701.5zM1506.28 701.5V683.1h2.81V701.5zM1510.40 701.5V689.8h2.81V701.5zM1514.52 701.5V685.9h2.81V701.5zM1518.64 701.5V685.9h2.81V701.5zM1524.82 701.5V688.2h2.81V701.5zM1533.06 701.5V687.7h2.81V701.5zM1535.12 701.5V692.1h2.81V701.5zM1541.30 701.5V694.1h2.81V701.5zM1545.42 701.5V697.6h2.81V701.5zM1551.60 701.5V694.4h2.81V701.5zM1555.72 701.5V690.5h2.81V701.5zM1559.84 701.5V690.3h2.81V701.5zM1566.02 701.5V692.5h2.81V701.5zM1574.26 701.5V691.0h2.81V701.5zM1590.74 701.5V696.0h2.81V701.5zM1601.04 701.5V685.9h2.81V701.5zM1623.69 701.5V686.3h2.81V701.5zM1638.11 701.5V685.7h2.81V701.5zM1650.47 701.5V686.2h2.81V701.5zM1656.65 701.5V689.9h2.81V701.5zM1677.25 701.5V685.9h2.81V701.5zM1685.49 701.5V696.1h2.81V701.5zM1693.73 701.5V688.1h2.81V701.5zM1706.09 701.5V697.6h2.81V701.5zM1708.15 701.5V697.5h2.81V701.5zM1712.27 701.5V686.8h2.81V701.5zM1722.57 701.5V694.3h2.81V701.5zM1734.92 701.5V692.0h2.81V701.5zM1755.52 701.5V697.4h2.81V701.5zM1759.64 701.5V697.5h2.81V701.5zM1761.70 701.5V696.2h2.81V701.5zM1769.94 701.5V697.3h2.81V701.5zM1802.90 701.5V681.3h2.81V701.5zM1804.96 701.5V688.7h2.81V701.5zM1815.26 701.5V697.3h2.81V701.5zM1850.27 701.5V695.1h2.81V701.5zM1860.57 701.5V695.9h2.81V701.5zM1881.17 701.5V692.4h2.81V701.5zM1893.53 701.5V696.1h2.81V701.5zM1899.71 701.5V692.3h2.81V701.5zM1901.77 701.5V681.3h2.81V701.5z"/>
<rect x="1100.0" y="46.5" width="896.2" height="708.0" fill="none" stroke="#262626" stroke-width="2"/>
<rect x="1100.0" y="699.5" width="896.2" height="4" fill="#1a1a1a"/>
<rect x="1920.5" y="693.5" width="1.6" height="61.0" fill="#262626"/>
<text class="xl" x="1174.0" y="782.6">0</text>
<text class="xl" x="1323.5" y="782.6">0.2</text>
<text class="xl" x="1472.9" y="782.6">0.4</text>
<text class="xl" x="1622.4" y="782.6">0.6</text>
<text class="xl" x="1771.8" y="782.6">0.8</text>
<text class="xl" x="1921.3" y="782.6">1</text>
<text class="yl" x="1085.8" y="715.1">0</text>
<text class="yl" x="1085.8" y="641.8">20</text>
<text class="yl" x="1085.8" y="568.5">40</text>
<text class="yl" x="1085.8" y="495.1">60</text>
<text class="yl" x="1085.8" y="421.8">80</text>
<text class="yl" x="1085.8" y="348.5">100</text>
<text class="yl" x="1085.8" y="275.2">120</text>
<text class="yl" x="1085.8" y="201.9">140</text>
<text class="yl" x="1085.8" y="128.5">160</text>
<path d="M1174.0 46.5v8M1174.0 754.5v-8M1174.0 701.5v-8M1323.5 46.5v8M1323.5 754.5v-8M1323.5 701.5v-8M1472.9 46.5v8M1472.9 754.5v-8M1472.9 701.5v-8M1622.4 46.5v8M1622.4 754.5v-8M1622.4 701.5v-8M1771.8 46.5v8M1771.8 754.5v-8M1771.8 701.5v-8M1921.3 46.5v8M1921.3 754.5v-8M1921.3 701.5v-8M1100.0 701.5h8M1996.2 701.5h-8M1100.0 628.2h8M1996.2 628.2h-8M1100.0 554.9h8M1996.2 554.9h-8M1100.0 481.5h8M1996.2 481.5h-8M1100.0 408.2h8M1996.2 408.2h-8M1100.0 334.9h8M1996.2 334.9h-8M1100.0 261.6h8M1996.2 261.6h-8M1100.0 188.3h8M1996.2 188.3h-8M1100.0 114.9h8M1996.2 114.9h-8M1100.0 730.4h8M1996.2 730.4h-8" stroke="#262626" stroke-width="2" fill="none"/>
</svg>
<figcaption style="left:1055.6px;top:839.9px"><span>(</span>a<span>)</span></figcaption>
</figure>
<figure id="panel-b">
<svg class="heat" style="left:49.0px;top:924.0px" width="978.0" height="769.5" viewBox="2 2 100 100" preserveAspectRatio="none">
<g filter="url(#hb)" fill="none" stroke-width="1.04" transform="translate(0 0.5)">
<path stroke="#3e26a8" d="M52 28h2M59 96h2M59 97h2"/>
<path stroke="#402ab4" d="M54 25h1M39 26h12M38 27h3M47 27h1M54 29h1M54 31h2M54 32h2M52 36h2M58 80h1M49 81h2M48 82h3M37 83h1M49 83h2M37 84h1M20 85h1M52 86h2M57 86h1M44 88h1M54 88h1M62 88h1M42 89h3M54 89h1M12 93h5M54 93h1M6 94h2M52 94h4M61 97h2"/>
<path stroke="#422ec0" d="M52 0h2M52 1h2M52 2h2M59 4h2M68 17h2M34 19h2M69 24h1M53 25h1M55 25h1M68 25h2M51 26h1M41 27h1M46 27h1M48 27h1M52 27h3M38 28h1M44 28h2M53 29h1M55 29h1M52 30h3M52 31h2M54 33h1M52 35h2M99 74h1M101 75h3M62 79h1M59 80h4M61 81h2M47 82h1M12 83h2M36 83h1M38 83h1M42 83h2M59 83h2M12 84h2M36 84h1M38 84h1M49 84h2M59 84h3M13 85h1M19 85h1M21 85h1M49 85h3M54 85h2M51 86h1M56 86h1M58 86h1M52 87h2M57 87h2M40 88h4M45 88h1M49 88h2M55 88h1M58 88h1M61 88h1M41 89h1M45 89h1M52 89h2M55 89h1M58 89h1M51 90h4M49 91h6M47 92h2M47 93h1M52 93h2M55 93h1M62 93h1M5 94h1M8 94h1M35 94h1M56 94h1M59 94h2M0 95h4M59 95h2M54 96h2M58 96h1M47 98h2M54 98h1M56 98h2M22 99h2M42 99h2"/>
<path stroke="#4332cb" d="M54 3h2M52 4h2M55 4h1M69 18h1M36 19h1M38 19h1M49 19h2M68 19h2M31 20h8M55 22h1M68 22h1M69 23h1M52 25h1M52 26h2M68 26h2M37 27h1M42 27h2M45 27h1M51 27h1M37 28h1M46 28h2M49 28h3M52 29h1M55 30h1M53 32h1M53 33h1M55 33h1M69 33h1M54 35h1M4 59h1M100 74h1M58 79h1M61 79h1M56 80h2M45 81h2M48 81h1M51 81h1M59 81h2M37 82h2M41 82h3M46 82h1M51 82h1M62 82h1M14 83h3M22 83h1M34 83h2M41 83h1M48 83h1M51 83h1M58 83h1M61 83h1M14 84h3M35 84h1M48 84h1M51 84h1M54 84h1M58 84h1M62 84h1M12 85h1M14 85h5M52 85h2M56 85h5M12 86h2M34 86h1M54 86h1M34 87h2M42 87h3M48 87h4M54 87h1M56 87h1M62 87h1M35 88h2M46 88h1M48 88h1M51 88h3M56 88h2M51 89h1M56 89h2M61 89h2M42 90h4M50 90h1M55 90h2M58 90h3M35 91h1M55 91h1M59 91h2M35 92h1M46 92h1M49 92h5M17 93h5M46 93h1M48 93h1M51 93h1M56 93h2M61 93h1M4 94h1M15 94h3M36 94h3M47 94h1M51 94h1M57 94h2M61 94h2M4 95h1M6 95h2M35 95h2M39 95h2M47 95h1M54 95h2M58 95h1M37 96h2M47 96h1M49 96h3M61 96h1M35 97h2M46 97h10M58 97h1M22 98h2M49 98h5M55 98h1M58 98h5M17 100h1M17 101h1M17 102h1M17 103h1"/>
<path stroke="#4537d6" d="M61 2h2M53 3h1M56 3h2M59 3h3M54 4h1M56 4h3M61 4h2M68 16h1M68 18h1M37 19h1M39 19h10M39 20h2M49 20h2M68 20h1M52 21h3M68 21h1M52 22h3M69 22h1M68 23h1M68 24h1M37 26h2M54 26h1M44 27h1M49 27h2M55 27h1M69 27h1M39 28h5M48 28h1M54 28h1M38 29h1M42 29h2M42 30h3M68 30h2M38 31h1M44 31h2M68 31h2M45 32h3M52 32h1M39 33h2M52 33h1M52 34h3M69 34h1M69 35h1M54 36h1M52 37h2M49 38h2M0 59h4M100 75h1M87 77h1M52 79h6M42 80h2M49 80h3M55 80h1M34 81h1M38 81h1M44 81h1M47 81h1M52 81h2M55 81h3M39 82h2M44 82h2M52 82h1M56 82h2M59 82h3M23 83h1M39 83h2M45 83h3M52 83h6M62 83h1M17 84h6M34 84h1M44 84h4M52 84h2M55 84h3M7 85h2M22 85h1M36 85h3M45 85h1M48 85h1M61 85h2M7 86h1M11 86h1M14 86h10M35 86h1M48 86h3M55 86h1M36 87h1M40 87h2M45 87h3M55 87h1M61 87h1M34 88h1M47 88h1M59 88h2M35 89h2M46 89h1M48 89h3M59 89h2M35 90h1M41 90h1M49 90h1M57 90h1M61 90h1M44 91h5M56 91h3M61 91h1M19 92h3M36 92h1M39 92h1M45 92h1M54 92h1M56 92h2M61 92h2M6 93h3M10 93h2M35 93h4M43 93h1M45 93h1M58 93h1M0 94h4M9 94h6M18 94h1M44 94h3M5 95h1M8 95h1M37 95h2M41 95h1M46 95h1M52 95h2M56 95h2M61 95h1M0 96h4M15 96h1M36 96h1M45 96h2M48 96h1M52 96h2M56 96h1M62 96h1M0 97h4M37 97h6M10 98h2M21 98h1M35 98h8M46 98h1M4 99h2M37 99h2M41 99h1M51 99h1M6 100h1M18 100h1M0 101h4M12 101h2M15 101h2M18 101h4M0 102h4M12 102h2M15 102h2M18 102h4M0 103h4M12 103h2M15 103h2M18 103h4"/>
<path stroke="#463be2" d="M54 0h1M56 0h2M59 0h4M54 1h1M56 1h2M59 1h4M54 2h7M52 3h1M58 3h1M62 3h1M56 5h2M68 10h1M68 11h1M68 12h1M68 13h2M69 14h1M69 16h1M43 18h6M32 19h2M30 20h1M41 20h5M69 20h1M30 21h4M35 21h3M55 21h1M69 21h1M35 22h1M52 23h2M55 23h1M37 24h1M39 24h2M53 24h3M44 25h2M10 26h1M55 26h1M55 28h1M37 29h1M41 29h1M47 29h2M68 29h1M37 30h2M41 30h1M45 30h2M37 31h1M42 31h2M46 31h1M51 31h1M39 32h2M44 32h1M48 32h3M69 32h1M37 33h2M68 33h1M49 34h2M55 34h1M68 34h1M38 35h1M55 35h1M68 35h1M38 36h1M51 36h1M55 36h1M42 37h2M51 37h1M37 38h1M39 38h5M17 40h2M18 41h1M19 42h1M7 53h1M5 59h2M87 75h3M99 75h1M99 76h2M99 77h2M86 78h2M59 79h2M34 80h1M39 80h3M52 80h3M35 81h3M39 81h2M54 81h1M58 81h1M34 82h1M36 82h1M53 82h3M58 82h1M21 83h1M44 83h1M23 84h1M9 85h1M11 85h1M23 85h1M34 85h2M39 85h3M44 85h1M46 85h2M0 86h4M8 86h3M36 86h1M39 86h9M59 86h2M6 87h2M9 87h3M15 87h5M39 87h1M59 87h2M34 89h1M37 89h1M40 89h1M47 89h1M34 90h1M36 90h2M46 90h1M62 90h1M36 91h1M38 91h1M62 91h1M6 92h1M12 92h5M37 92h2M43 92h2M55 92h1M58 92h3M5 93h1M9 93h1M39 93h1M44 93h1M49 93h2M59 93h2M19 94h4M48 94h1M22 95h2M45 95h1M48 95h4M62 95h1M4 96h1M14 96h1M16 96h1M22 96h2M35 96h1M41 96h1M57 96h1M4 97h1M9 97h3M56 97h2M91 97h2M9 98h1M15 98h2M19 98h2M43 98h1M0 99h4M6 99h5M15 99h2M21 99h1M36 99h1M39 99h2M5 100h1M12 100h2M16 100h1M19 100h1M21 100h3M36 100h2M42 100h3M7 101h2M14 101h1M22 101h2M47 101h1M7 102h2M14 102h1M22 102h2M47 102h1M7 103h2M14 103h1M22 103h2M47 103h1"/>
<path stroke="#4741ed" d="M55 0h1M58 0h1M55 1h1M58 1h1M55 5h1M58 5h5M69 10h1M69 11h1M69 15h1M38 18h1M42 18h1M49 18h2M31 19h1M51 19h1M51 20h1M34 21h1M38 21h1M36 22h1M37 23h1M54 23h1M36 24h1M38 24h1M52 24h1M41 25h3M46 25h3M51 25h1M9 26h1M11 26h1M68 27h1M68 28h2M39 29h2M46 29h1M51 29h1M39 30h2M47 30h2M51 30h1M5 31h4M41 31h1M47 31h1M49 31h2M38 32h1M41 32h1M51 32h1M68 32h1M41 33h1M46 33h3M38 34h3M44 34h3M51 34h1M37 35h1M44 35h4M51 35h1M37 36h1M41 36h5M37 37h2M41 37h1M54 37h1M38 38h1M51 38h1M16 39h3M16 40h1M19 40h1M17 41h1M19 41h1M18 42h1M20 42h1M8 53h1M16 56h2M7 57h1M15 57h3M0 58h4M56 58h1M9 59h1M101 74h3M86 75h1M90 75h1M87 76h4M101 76h3M86 77h1M88 77h1M35 80h3M44 80h1M47 80h1M28 81h1M33 81h1M41 81h3M22 82h1M33 82h1M35 82h1M17 83h4M41 84h3M10 85h1M42 85h2M5 86h2M29 86h1M61 86h2M5 87h1M8 87h1M12 87h3M20 87h4M5 88h2M15 88h2M39 88h1M12 90h2M38 90h1M48 90h1M34 91h1M37 91h1M42 91h2M5 92h1M17 92h2M42 92h1M40 93h1M23 94h1M39 94h2M49 94h2M9 95h9M44 95h1M7 96h3M11 96h3M17 96h2M39 96h2M42 96h1M91 96h2M5 97h2M14 97h3M19 97h3M45 97h1M0 98h7M14 98h1M17 98h2M96 98h1M11 99h1M14 99h1M17 99h4M35 99h1M47 99h4M14 100h2M20 100h1M35 100h1M38 100h1M41 100h1M47 100h1M4 101h3M9 101h1M11 101h1M46 101h1M48 101h1M4 102h3M9 102h1M11 102h1M46 102h1M48 102h1M4 103h3M9 103h1M11 103h1M46 103h1M48 103h1"/>
<path stroke="#4746f7" d="M63 4h1M68 9h2M42 11h2M69 12h1M68 14h1M68 15h1M36 18h2M41 18h1M0 19h3M46 20h1M29 21h1M39 21h2M34 22h1M37 22h4M31 23h3M35 23h2M38 23h1M32 24h2M44 24h1M10 25h1M37 25h1M39 25h2M49 25h2M12 26h3M36 26h1M29 27h2M36 28h1M44 29h2M49 29h2M69 29h1M49 30h2M9 31h1M39 31h2M48 31h1M42 32h2M44 33h2M49 33h3M37 34h1M41 34h1M47 34h2M39 35h5M48 35h3M39 36h2M46 36h5M39 37h2M47 37h1M49 37h2M55 37h1M19 39h1M16 41h1M16 42h2M87 44h1M6 52h1M12 52h2M17 52h1M21 53h2M6 54h1M19 54h3M7 55h5M6 56h1M15 56h1M18 56h1M8 57h1M18 57h3M56 57h2M12 58h2M17 58h2M57 58h1M7 59h2M12 59h2M98 59h1M91 74h3M91 75h2M86 76h1M91 76h3M101 77h3M38 80h1M45 80h2M48 80h1M27 81h1M21 82h1M23 82h1M39 84h2M0 85h4M6 85h1M28 85h2M4 86h1M28 86h1M37 86h2M0 87h5M10 88h1M17 88h7M37 88h1M21 89h3M0 90h4M14 90h1M47 90h1M0 91h8M12 91h3M19 91h3M39 91h1M89 91h2M99 91h5M7 92h1M11 92h1M22 92h1M91 92h2M4 93h1M22 93h1M43 94h1M94 94h2M18 95h1M21 95h1M96 95h2M5 96h2M10 96h1M98 96h6M7 97h2M12 97h2M17 97h1M22 97h1M93 97h4M98 97h6M7 98h2M12 98h2M97 98h1M44 99h1M54 99h1M0 100h5M7 100h3M11 100h1M45 100h2M48 100h3M10 101h1M36 101h2M42 101h2M45 101h1M49 101h2M10 102h1M36 102h2M42 102h2M45 102h1M49 102h2M10 103h1M36 103h2M42 103h2M45 103h1M49 103h2"/>
<path stroke="#464cff" d="M63 5h1M47 7h2M0 18h3M33 18h3M39 18h2M30 19h1M29 20h1M47 20h2M30 22h4M5 23h2M30 23h1M34 23h1M31 24h1M35 24h1M41 24h1M45 24h2M9 25h1M11 25h1M29 25h2M36 25h1M15 26h1M35 26h1M12 27h2M31 27h1M35 27h2M30 28h1M35 28h1M36 29h1M5 30h3M36 30h1M4 31h1M36 31h1M37 32h1M42 33h2M42 34h2M5 35h2M68 36h2M36 37h1M44 37h3M48 37h1M87 37h1M36 38h1M44 38h5M87 38h1M20 39h1M49 39h2M87 39h1M20 40h1M20 41h1M87 43h1M14 50h1M7 52h1M14 52h1M18 52h1M22 52h1M9 53h1M17 53h1M19 53h2M7 54h2M12 54h2M15 54h3M15 55h3M21 55h2M7 56h2M12 56h2M19 56h3M56 56h2M12 57h2M21 57h1M4 58h1M14 58h1M55 58h1M10 59h1M95 59h3M93 75h1M89 77h5M88 78h1M91 78h2M51 79h1M29 81h1M13 82h1M19 82h2M11 84h1M5 85h1M27 85h1M27 86h1M4 88h1M7 88h1M9 88h1M11 88h1M63 88h1M4 89h3M10 89h11M4 90h1M7 90h5M19 90h5M89 90h1M99 90h1M8 91h2M11 91h1M22 91h2M41 91h1M88 91h1M98 91h1M4 92h1M8 92h3M23 92h1M34 92h1M93 92h1M96 92h8M0 93h4M23 93h1M91 93h5M34 94h1M96 94h2M19 95h2M89 95h4M95 95h1M98 95h6M19 96h1M21 96h1M93 96h1M96 96h2M18 97h1M23 97h1M43 97h1M63 97h1M97 97h1M95 98h1M12 99h2M52 99h2M55 99h1M10 100h1M39 100h2M38 101h1M41 101h1M38 102h1M41 102h1M38 103h1M41 103h1"/>
<path stroke="#4551ff" d="M49 7h2M67 10h1M67 11h1M42 12h2M44 13h1M67 17h1M3 18h1M32 18h1M51 18h1M41 21h1M51 21h1M5 22h2M29 22h1M7 23h1M29 23h1M39 23h2M24 24h1M30 24h1M34 24h1M47 24h2M14 25h1M31 25h1M35 25h1M38 25h1M56 25h1M67 25h1M29 26h1M10 27h2M32 27h3M29 28h1M31 28h4M56 29h1M56 30h1M67 30h1M12 33h4M36 33h1M87 33h1M36 34h1M4 35h1M36 35h1M87 35h1M36 36h1M87 36h1M86 38h1M87 40h1M16 43h1M15 48h2M12 49h2M7 50h2M12 50h2M7 51h2M8 52h1M11 52h1M15 52h2M6 53h1M10 53h5M16 53h1M18 53h1M9 54h3M14 54h1M18 54h1M6 55h1M18 55h3M14 56h1M22 56h1M6 57h1M9 57h1M11 57h1M14 57h1M55 57h1M7 58h5M15 58h2M19 58h2M14 59h1M19 59h3M89 78h2M93 78h1M63 79h1M33 80h1M63 80h1M26 81h1M63 81h1M12 82h1M14 82h3M28 82h1M7 84h2M63 84h1M4 85h1M37 87h1M0 88h4M8 88h1M14 88h1M0 89h4M9 89h1M5 90h2M15 90h4M88 90h1M90 90h1M98 90h1M100 90h1M10 91h1M15 91h4M96 91h2M0 92h4M40 92h1M89 92h2M94 92h2M34 93h1M89 93h2M96 93h8M41 94h1M89 94h5M98 94h6M42 95h1M93 95h2M20 96h1M44 96h1M88 96h3M94 96h2M89 97h2M91 98h4M56 99h1M59 99h2M51 100h1M35 101h1M44 101h1M51 101h1M44 102h1M51 102h1M44 103h1M51 103h1"/>
<path stroke="#4457ff" d="M63 0h1M63 1h1M63 3h1M52 5h3M47 6h4M42 10h2M41 11h1M44 11h1M44 12h1M67 12h1M42 13h2M67 16h1M31 18h1M3 19h1M29 19h1M67 19h1M44 21h2M49 21h2M67 21h1M51 22h1M56 22h1M67 22h1M49 23h3M7 24h1M22 24h2M29 24h1M42 24h2M49 24h3M12 25h2M15 25h1M30 26h2M34 26h1M56 26h1M67 26h1M9 27h1M14 27h1M7 28h1M67 29h1M8 30h1M10 31h1M56 31h1M5 32h4M15 32h1M36 32h1M56 32h1M16 33h1M5 34h2M12 34h2M87 34h1M9 35h2M86 35h1M4 36h3M9 36h2M86 37h1M16 38h1M15 39h1M86 39h1M87 41h1M87 42h1M12 43h2M19 43h1M86 43h1M12 44h2M86 44h1M7 46h2M10 46h4M10 47h1M6 48h1M12 48h2M17 48h1M6 49h1M16 49h2M6 50h1M15 50h1M9 51h5M9 52h2M21 52h1M15 53h1M22 54h1M12 55h3M9 56h3M55 56h1M10 57h1M58 57h1M5 58h2M21 58h1M58 58h1M11 59h1M22 59h1M95 60h3M99 73h2M86 74h5M17 82h2M27 82h1M63 82h1M63 83h1M9 84h1M30 86h1M27 87h2M63 87h1M12 88h2M7 89h2M38 89h1M63 89h1M40 90h1M97 90h1M101 90h3M91 91h3M95 91h1M88 92h1M42 93h1M63 93h1M88 93h1M63 94h1M88 94h1M88 95h1M63 96h1M88 97h1M63 98h1M89 98h2M46 99h1M57 99h1M61 99h2M39 101h2M35 102h1M39 102h2M35 103h1M39 103h2"/>
<path stroke="#415cff" d="M63 2h1M46 7h1M79 7h2M47 8h1M67 9h1M44 10h1M41 12h1M67 13h1M30 18h1M67 18h1M0 20h3M67 20h1M4 21h1M15 21h2M46 21h1M4 22h1M41 22h1M49 22h2M10 23h2M41 23h1M44 23h3M48 23h1M56 23h1M6 24h1M8 24h2M12 24h2M56 24h1M8 25h1M32 25h3M32 26h2M15 27h1M8 28h1M6 29h2M4 30h1M12 31h2M4 32h1M9 32h1M12 32h3M16 32h1M56 33h1M86 33h1M14 34h1M17 34h2M67 34h1M7 35h2M11 35h1M67 35h1M7 36h1M11 36h1M56 36h1M86 36h1M17 37h2M15 38h1M17 38h2M37 39h1M51 39h1M15 40h1M15 42h1M14 43h2M17 43h2M20 43h1M6 45h3M12 45h2M9 46h1M14 46h1M17 46h2M9 47h1M11 47h1M17 47h2M11 48h1M14 48h1M7 49h2M14 49h2M18 49h1M9 50h1M16 50h1M18 50h1M14 51h1M19 52h1M23 53h1M58 56h1M22 58h1M98 60h1M101 73h3M29 82h1M11 83h1M33 83h1M0 84h4M10 84h1M30 85h1M63 85h1M63 86h1M29 87h1M38 87h1M39 89h1M39 90h1M91 90h3M96 90h1M63 91h1M94 91h1M63 92h1M34 95h1M43 95h1M63 95h1M44 97h1M78 97h2M44 98h1M88 98h1M98 98h1M58 99h1"/>
<path stroke="#3e62ff" d="M46 6h1M81 6h1M68 7h2M78 7h1M81 7h1M48 8h1M68 8h1M41 10h1M41 13h1M29 18h1M7 19h2M3 20h1M7 20h3M15 20h2M53 20h1M3 21h1M5 21h1M9 21h2M42 21h2M47 21h2M56 21h1M12 22h2M15 22h1M44 22h3M8 23h2M12 23h2M42 23h2M47 23h1M67 23h1M70 23h1M5 24h1M10 24h2M70 24h1M6 25h2M70 25h1M8 26h1M16 26h1M21 26h1M85 26h1M56 27h1M67 27h1M6 28h1M67 28h1M5 29h1M8 29h1M9 30h1M12 30h2M17 30h3M85 30h1M11 31h1M14 31h5M67 31h1M10 32h2M87 32h1M5 33h2M11 33h1M67 33h1M4 34h1M11 34h1M15 34h2M86 34h1M0 35h4M12 35h2M56 35h1M0 36h4M8 36h1M12 36h2M19 36h1M67 36h1M12 37h2M16 37h1M19 37h1M56 37h1M14 38h1M19 38h1M12 39h3M38 39h8M4 40h2M86 40h1M5 41h1M15 41h1M86 41h1M6 42h1M86 42h1M6 43h1M6 44h1M14 44h5M5 45h1M9 45h1M14 45h1M87 45h1M15 46h2M14 47h3M5 48h1M7 48h4M18 48h1M9 49h1M11 49h1M10 50h2M17 50h1M17 51h2M20 52h1M23 52h1M23 55h1M22 57h1M15 59h4M30 81h1M4 84h3M33 84h1M33 85h1M33 86h1M33 87h1M38 88h1M63 90h1M94 90h2M40 91h1M41 92h1M41 93h1M42 94h1M24 96h1M43 96h1M79 96h1M74 97h4M45 98h1M101 98h3M45 99h1M24 100h1"/>
<path stroke="#3969ff" d="M51 0h1M51 1h1M51 2h1M79 6h2M51 7h1M49 8h2M67 8h1M35 10h1M32 11h2M67 14h1M67 15h1M9 19h2M4 20h1M10 20h2M14 20h1M17 20h1M52 20h1M0 21h3M6 21h1M8 21h1M11 21h1M14 21h1M17 21h1M86 21h2M7 22h1M9 22h3M14 22h1M16 22h1M47 22h2M4 23h1M21 23h2M4 24h1M14 24h1M21 24h1M67 24h1M85 24h1M3 25h3M16 25h1M22 25h1M85 25h1M5 26h2M70 26h1M85 27h1M0 28h6M9 28h1M56 28h1M85 28h1M12 29h3M30 29h1M85 29h1M10 30h2M14 30h1M16 30h1M20 30h1M70 30h1M86 30h1M0 31h4M70 31h1M17 32h1M86 32h1M4 33h1M7 33h2M17 33h1M70 33h1M3 34h1M7 34h4M56 34h1M17 36h2M20 36h1M5 37h1M10 37h2M14 37h2M20 37h1M5 38h1M12 38h2M20 38h1M3 39h3M36 39h1M46 39h3M0 40h4M6 40h1M5 42h1M5 43h1M11 43h1M5 44h1M11 44h1M10 45h2M15 45h3M86 45h1M6 46h1M19 46h1M6 47h3M12 47h2M19 47h1M19 48h1M5 49h1M10 49h1M19 49h1M5 50h1M6 51h1M15 51h2M23 56h1M23 59h1M4 60h1M7 60h1M70 63h1M26 82h1M24 89h1M74 95h2M79 95h1M73 96h3M78 96h1M73 97h1M73 98h6M99 98h2M24 101h1M24 102h1M24 103h1"/>
<path stroke="#326fff" d="M14 0h2M14 1h2M14 2h2M51 4h1M78 6h1M67 7h1M46 8h1M69 8h1M34 10h1M27 11h5M36 11h3M8 18h4M4 19h3M11 19h1M14 19h3M28 19h1M5 20h2M12 20h2M7 21h1M3 22h1M8 22h1M17 22h1M21 22h1M42 22h2M70 22h1M14 23h1M17 23h1M23 23h1M85 23h2M3 24h1M86 24h1M0 25h3M21 25h1M3 26h2M7 26h1M20 26h1M86 26h1M7 27h2M16 27h1M21 27h1M70 27h1M10 28h2M4 29h1M9 29h3M15 29h2M29 29h1M31 29h1M3 30h1M15 30h1M87 30h1M19 31h1M85 31h1M18 32h2M67 32h1M70 32h1M0 33h4M9 33h2M18 33h3M0 34h3M19 34h1M70 34h1M14 35h6M70 35h1M14 36h1M16 36h1M3 37h2M9 37h1M68 37h1M4 38h1M0 39h3M6 39h1M11 39h1M6 41h1M12 42h3M7 43h4M7 44h4M19 44h1M85 44h1M18 45h2M20 46h1M20 47h1M20 48h1M20 49h1M19 50h1M82 50h2M23 54h1M0 60h4M5 60h1M8 60h1M96 61h2M71 63h3M85 63h1M85 64h1M94 64h1M86 65h2M91 65h5M83 76h3M94 76h1M98 77h1M29 80h1M30 82h1M30 87h1M33 88h1M24 90h1M24 94h1M24 95h1M78 95h1M34 96h1M76 96h2M24 97h1M34 97h1M24 98h1M79 98h1M63 99h1"/>
<path stroke="#2976ff" d="M30 0h1M30 1h1M30 2h1M51 3h1M51 5h1M5 6h1M51 6h1M51 8h1M24 9h1M7 10h2M36 10h1M45 10h1M26 11h1M34 11h2M39 11h2M45 11h1M45 13h1M44 14h1M9 17h2M37 17h1M42 17h2M4 18h1M7 18h1M12 19h2M17 19h1M27 19h1M53 19h1M86 20h2M12 21h2M70 21h1M0 22h3M22 22h1M85 22h3M24 23h1M87 23h1M0 24h3M15 24h2M87 24h1M23 25h1M86 25h1M0 26h3M17 26h1M0 27h7M86 27h1M12 28h2M17 28h1M70 28h1M0 29h4M34 29h1M57 29h1M86 29h1M0 30h3M57 30h2M20 31h1M86 31h1M0 32h4M20 32h1M85 32h1M20 34h1M20 35h1M85 35h1M15 36h1M70 36h1M0 37h3M67 37h1M69 37h1M0 38h4M10 38h2M7 39h1M9 39h2M9 42h3M21 42h1M72 44h1M20 45h1M5 46h1M62 47h1M62 48h1M84 48h2M61 49h2M84 49h2M20 50h1M88 50h1M5 52h1M23 58h1M6 60h1M12 60h3M20 60h2M89 62h2M89 63h4M101 63h3M89 64h5M95 64h2M85 65h1M88 65h1M86 66h5M94 66h4M99 66h1M98 67h6M39 69h2M94 74h1M98 74h1M81 76h2M30 80h1M11 82h1M7 83h4M27 84h2M24 88h1M33 89h1M33 90h1M24 91h1M24 92h1M24 93h1M73 95h1M76 95h2M80 97h1M24 99h1"/>
<path stroke="#1f7dff" d="M9 0h3M16 0h1M20 0h1M29 0h1M31 0h5M39 0h2M9 1h3M16 1h1M20 1h1M29 1h1M31 1h5M39 1h2M9 2h3M16 2h1M20 2h1M29 2h1M31 2h4M39 2h2M10 3h2M48 3h1M7 4h1M7 5h2M46 5h2M49 5h2M45 6h1M5 7h1M0 8h4M24 8h2M52 8h1M20 9h4M25 9h2M5 10h2M9 10h1M26 10h8M37 10h1M39 10h2M0 11h4M9 11h1M47 11h2M45 12h1M7 14h1M0 15h3M47 15h2M9 16h3M47 16h1M52 16h1M4 17h2M11 17h1M32 17h2M38 17h1M41 17h1M44 17h4M52 17h1M70 17h1M12 18h6M25 18h2M70 18h1M21 19h1M25 19h2M52 19h1M70 19h1M21 20h2M85 20h1M21 21h2M24 21h2M85 21h1M23 22h1M3 23h1M15 23h2M17 24h1M25 24h1M24 25h1M57 25h1M57 26h2M87 26h1M25 27h1M14 28h3M17 29h1M21 29h3M32 29h2M35 29h1M58 29h1M70 29h1M87 29h1M21 30h1M87 31h1M57 32h2M58 33h1M21 35h1M21 36h1M85 36h1M21 37h1M9 38h1M8 39h1M85 40h1M0 41h5M21 41h1M85 41h1M7 42h2M21 43h1M85 43h1M4 44h1M20 44h1M61 44h2M71 44h1M61 45h2M85 45h1M5 47h1M61 47h1M61 48h1M86 48h1M82 49h2M86 49h3M81 50h1M84 50h2M5 51h1M19 51h1M23 57h1M9 60h1M15 60h1M19 60h1M22 60h1M94 60h1M90 61h1M95 61h1M98 61h2M88 62h1M91 62h2M101 62h3M88 63h1M93 63h3M84 64h1M86 64h3M97 64h1M101 64h3M89 65h2M96 65h5M35 66h1M70 66h1M91 66h3M98 66h1M100 66h1M37 67h2M95 67h3M37 68h2M45 68h1M29 69h6M41 69h1M7 70h2M28 70h1M39 70h5M47 70h1M32 71h2M42 71h2M46 71h3M27 72h4M35 72h1M39 72h2M47 72h1M77 73h1M84 73h2M98 76h1M94 77h1M94 78h1M44 79h1M7 82h1M32 82h1M24 83h1M24 84h1M29 84h1M64 84h1M24 85h1M24 86h1M64 86h1M32 87h1M32 88h1M32 90h1M33 91h1M64 91h1M33 94h1M64 95h1M64 97h1M34 98h1M64 98h1M74 99h6"/>
<path stroke="#1984ff" d="M5 0h4M12 0h2M19 0h1M21 0h1M24 0h1M36 0h1M41 0h1M44 0h2M48 0h3M5 1h4M12 1h2M19 1h1M21 1h1M24 1h1M36 1h1M41 1h1M44 1h2M48 1h3M5 2h4M12 2h2M19 2h1M21 2h1M24 2h1M35 2h2M41 2h1M44 2h2M48 2h3M7 3h3M12 3h2M27 3h2M47 3h1M6 4h1M8 4h1M47 4h1M48 5h1M6 6h1M44 6h1M9 7h3M19 7h2M38 7h1M70 7h1M76 7h2M10 8h1M19 8h5M26 8h1M0 9h4M5 9h2M19 9h1M27 9h1M34 9h2M0 10h5M38 10h1M49 10h2M7 11h2M52 11h1M0 12h4M9 12h1M47 12h2M7 13h5M49 13h2M52 13h1M70 13h1M8 14h2M11 14h3M42 14h2M45 14h1M48 14h3M52 14h1M70 14h1M7 15h10M52 15h1M0 16h4M6 16h1M27 16h1M48 16h1M0 17h4M6 17h1M8 17h1M26 17h2M31 17h1M36 17h1M39 17h2M48 17h4M74 17h1M5 18h2M21 18h2M27 18h2M53 18h1M22 19h1M24 20h2M70 20h1M23 21h1M57 22h1M0 23h3M20 23h1M57 23h1M57 24h1M58 25h1M87 25h1M19 26h1M22 26h1M24 26h1M17 27h1M22 27h1M24 27h1M87 27h1M21 28h1M86 28h1M20 29h1M22 30h1M35 30h1M21 31h1M35 31h1M57 31h2M21 32h2M21 33h1M85 33h1M21 34h1M58 34h1M85 34h1M22 35h1M57 35h1M57 36h1M85 37h1M21 39h1M85 39h1M7 40h2M12 40h3M21 40h1M60 41h2M60 42h1M85 42h1M4 43h1M60 43h1M0 44h4M60 44h1M73 44h1M88 44h1M4 45h1M21 45h1M60 45h1M21 46h1M61 46h2M21 47h1M86 47h2M4 48h1M21 48h1M60 48h1M71 48h2M83 48h1M87 48h2M4 49h1M21 49h1M60 49h1M60 50h1M75 50h1M86 50h2M20 51h1M64 56h2M5 57h1M64 57h2M61 58h3M99 59h1M16 60h1M23 60h1M0 61h4M89 61h1M91 61h4M100 61h4M70 62h3M85 62h1M93 62h8M84 63h1M86 63h2M96 63h2M100 63h1M64 64h2M70 64h1M73 64h1M98 64h3M69 65h2M75 65h1M101 65h3M36 66h1M47 66h2M67 66h1M69 66h1M76 66h1M101 66h3M36 67h1M45 67h3M57 67h1M69 67h4M14 68h1M32 68h2M36 68h1M44 68h1M46 68h2M56 68h2M65 68h1M69 68h1M8 69h2M19 69h3M24 69h1M35 69h1M42 69h6M49 69h2M65 69h1M9 70h3M23 70h1M27 70h1M29 70h5M38 70h1M44 70h3M48 70h1M7 71h2M23 71h4M28 71h4M37 71h2M41 71h1M44 71h2M26 72h1M31 72h1M34 72h1M36 72h2M41 72h1M48 72h1M14 73h1M30 73h1M76 73h1M78 73h1M83 73h1M12 74h2M85 74h1M81 75h3M94 75h1M98 75h1M85 77h1M80 78h3M99 78h2M45 79h6M86 79h1M26 80h1M28 80h1M31 80h1M14 81h5M22 81h3M31 81h2M74 81h2M5 82h2M8 82h3M24 82h1M31 82h1M27 83h4M30 84h1M26 85h1M31 85h1M64 85h1M31 86h2M74 86h2M24 87h1M31 87h1M64 87h1M74 87h2M32 89h1M89 89h2M32 91h1M64 92h1M32 94h1M64 94h1M79 94h1M80 95h1M33 96h1M64 96h1M80 96h1M80 98h1M34 99h1M73 99h1M99 99h2M34 100h1"/>
<path stroke="#168aff" d="M22 0h2M25 0h2M42 0h2M46 0h2M22 1h2M25 1h2M42 1h2M46 1h2M22 2h2M25 2h2M42 2h2M46 2h2M0 3h4M24 3h3M29 3h1M31 3h3M46 3h1M49 3h2M0 4h6M9 4h3M22 4h3M41 4h3M46 4h1M48 4h1M5 5h2M9 5h1M24 5h1M40 5h1M45 5h1M8 6h2M15 6h3M32 6h2M42 6h2M4 7h1M12 7h2M15 7h4M21 7h1M25 7h1M37 7h1M52 7h2M4 8h1M9 8h1M18 8h1M29 8h5M37 8h1M4 9h1M7 9h1M28 9h1M32 9h2M36 9h2M39 9h1M47 9h1M49 9h2M70 9h1M81 9h1M46 10h3M52 10h1M70 10h1M4 11h3M15 11h1M46 11h1M49 11h3M70 11h1M7 12h2M14 12h3M28 12h5M52 12h1M70 12h1M0 13h3M47 13h2M51 13h1M0 14h3M6 14h1M10 14h1M14 14h1M26 14h1M41 14h1M47 14h1M51 14h1M6 15h1M26 15h2M4 16h2M7 16h2M12 16h5M28 16h1M32 16h1M70 16h1M74 16h1M7 17h1M12 17h2M17 17h1M28 17h1M34 17h2M53 17h1M75 17h1M23 18h2M52 18h1M74 18h1M23 19h2M18 20h1M23 20h1M54 20h1M57 21h1M58 22h1M25 23h1M58 23h1M20 24h1M58 24h1M17 25h1M20 25h1M25 25h1M23 26h1M20 27h1M57 27h2M22 28h1M24 28h2M87 28h1M24 29h1M22 31h1M57 33h1M22 34h1M58 35h1M58 36h1M57 37h1M70 37h1M88 37h1M21 38h1M85 38h1M88 38h1M60 40h3M62 41h1M0 42h5M61 42h2M0 43h4M61 43h2M88 43h1M21 44h1M84 44h1M71 45h4M0 46h4M60 46h1M86 46h2M0 47h4M60 47h1M85 47h1M73 48h1M82 48h1M74 49h1M21 50h1M61 50h1M74 50h1M89 50h1M21 51h1M82 51h2M5 54h1M5 56h1M59 56h1M66 57h1M64 58h1M10 60h2M17 60h2M12 61h3M0 62h4M73 62h1M87 62h1M98 63h2M62 64h2M71 64h2M59 65h2M64 65h2M74 65h1M76 65h1M84 65h1M32 66h3M46 66h1M53 66h1M66 66h1M68 66h1M71 66h1M75 66h1M20 67h4M30 67h1M35 67h1M55 67h2M65 67h1M73 67h4M94 67h1M12 68h2M21 68h3M29 68h3M34 68h2M39 68h3M49 68h3M55 68h1M64 68h1M70 68h2M6 69h2M10 69h2M14 69h1M23 69h1M25 69h2M28 69h1M36 69h1M38 69h1M48 69h1M51 69h1M64 69h1M66 69h1M6 70h1M12 70h2M22 70h1M24 70h1M26 70h1M34 70h1M36 70h2M49 70h2M9 71h7M22 71h1M27 71h1M36 71h1M39 71h2M51 71h1M7 72h1M25 72h1M32 72h2M38 72h1M42 72h2M46 72h1M49 72h1M12 73h2M15 73h1M25 73h2M29 73h1M31 73h7M79 73h4M86 73h1M98 73h1M5 74h2M14 74h1M77 74h1M81 74h4M0 75h4M12 75h2M84 75h2M0 76h3M80 76h1M75 77h1M84 77h1M52 78h5M59 78h2M83 78h1M85 78h1M101 78h3M64 79h1M87 79h1M27 80h1M32 80h1M64 80h1M13 81h1M19 81h1M25 81h1M64 81h1M0 83h4M5 83h2M25 83h2M31 83h1M64 83h1M25 84h2M31 84h1M32 85h1M26 86h1M73 86h1M73 87h1M64 88h1M72 88h1M78 88h1M88 89h1M91 89h5M100 89h4M77 91h1M33 93h1M33 95h1M80 99h1M91 99h4M25 100h1"/>
<path stroke="#1490ff" d="M4 0h1M37 0h2M4 1h1M37 1h2M4 2h1M37 2h2M14 3h1M17 3h7M30 3h1M34 3h12M12 4h1M31 4h4M36 4h3M40 4h1M45 4h1M49 4h2M4 5h1M10 5h3M17 5h1M29 5h3M34 5h1M41 5h4M4 6h1M10 6h2M18 6h3M24 6h2M29 6h3M41 6h1M0 7h4M24 7h1M26 7h1M29 7h3M34 7h3M5 8h1M11 8h1M14 8h4M27 8h2M34 8h3M38 8h1M81 8h1M8 9h2M15 9h2M31 9h1M38 9h1M40 9h1M46 9h1M48 9h1M51 9h2M17 10h1M19 10h7M51 10h1M14 11h1M16 11h2M74 11h1M4 12h3M10 12h1M17 12h1M26 12h2M33 12h1M35 12h3M39 12h2M46 12h1M49 12h3M3 13h1M6 13h1M12 13h6M26 13h3M31 13h2M81 13h1M15 14h2M27 14h6M53 14h1M74 14h1M81 14h1M3 15h1M28 15h5M46 15h1M51 15h1M70 15h1M74 15h1M17 16h1M26 16h1M31 16h1M46 16h1M51 16h1M53 16h1M75 16h1M14 17h3M29 17h2M75 18h1M81 18h1M28 20h1M18 21h1M20 22h1M24 22h1M18 23h1M28 24h1M18 26h1M25 26h1M28 26h1M23 27h1M28 27h1M23 28h1M18 29h2M84 29h1M84 30h1M35 32h1M22 33h1M35 33h1M88 33h1M57 34h1M88 34h1M84 35h1M88 35h1M88 36h1M58 37h1M88 39h1M9 40h3M88 40h1M7 41h2M14 41h1M22 42h1M88 42h1M84 43h1M0 45h4M75 45h1M4 46h1M70 46h1M63 47h1M70 47h1M0 48h4M63 48h1M0 49h4M63 49h1M71 49h3M75 49h1M81 49h1M89 49h1M4 50h1M62 50h1M70 50h1M60 51h1M81 51h1M88 51h1M60 56h4M66 56h10M78 56h2M59 57h5M67 57h2M71 57h1M59 58h2M65 58h1M98 58h1M99 60h1M4 61h1M7 61h2M10 61h2M15 61h5M24 61h4M88 61h1M17 62h1M86 62h1M54 64h2M58 64h4M66 64h2M47 65h8M58 65h1M61 65h3M66 65h2M71 65h3M31 66h1M37 66h1M51 66h2M54 66h2M59 66h2M72 66h3M77 66h1M85 66h1M14 67h1M19 67h1M24 67h1M29 67h1M31 67h4M39 67h3M44 67h1M48 67h4M64 67h1M66 67h3M7 68h1M15 68h2M19 68h2M24 68h1M42 68h2M48 68h1M52 68h3M58 68h3M66 68h1M5 69h1M12 69h2M22 69h1M27 69h1M37 69h1M56 69h3M61 69h3M67 69h1M5 70h1M14 70h1M19 70h3M25 70h1M35 70h1M51 70h1M59 70h1M16 71h1M35 71h1M49 71h2M0 72h4M6 72h1M8 72h7M17 72h2M24 72h1M44 72h2M50 72h1M77 72h2M7 73h1M16 73h1M23 73h2M27 73h2M0 74h5M7 74h2M15 74h2M76 74h1M78 74h1M4 75h1M10 75h2M17 75h1M3 76h2M64 77h1M74 77h1M76 77h1M81 77h3M57 78h2M61 78h1M79 78h1M84 78h1M98 78h1M42 79h2M72 79h1M83 79h3M25 80h1M72 80h4M12 81h1M20 81h2M72 81h2M76 81h1M99 81h1M4 82h1M64 82h1M76 82h2M99 82h1M4 83h1M32 84h1M65 84h1M25 85h1M72 85h2M25 86h1M72 86h1M76 86h1M26 87h1M72 87h1M76 87h3M73 88h5M79 88h1M64 89h1M75 89h3M98 89h2M64 90h1M75 90h3M65 91h1M72 91h1M76 91h1M78 91h2M32 92h2M72 92h1M78 92h2M32 93h1M64 93h1M79 93h1M78 94h1M65 95h1M25 96h1M33 99h1M95 99h1M98 99h1M101 99h3M34 101h1M34 102h1M34 103h1"/>
<path stroke="#1196ff" d="M17 0h2M27 0h2M17 1h2M27 1h2M17 2h2M27 2h2M4 3h3M13 4h1M21 4h1M25 4h2M29 4h2M35 4h1M39 4h1M44 4h1M0 5h4M13 5h4M18 5h1M22 5h2M25 5h1M32 5h2M35 5h5M21 6h1M26 6h1M34 6h1M40 6h1M68 6h1M14 7h1M22 7h2M27 7h2M32 7h2M39 8h1M70 8h1M14 9h1M18 9h1M29 9h2M14 10h3M18 10h1M81 10h1M19 11h2M73 11h1M81 11h1M34 12h1M38 12h1M74 12h1M81 12h1M29 13h2M37 13h1M40 13h1M46 13h1M53 13h1M17 14h1M25 14h1M37 14h1M46 14h1M75 14h1M17 15h1M53 15h1M75 15h1M81 15h1M29 16h1M81 16h1M18 17h1M25 17h1M73 17h1M81 17h1M18 18h1M20 18h1M73 18h1M18 19h1M73 19h3M86 19h2M27 20h1M84 20h1M58 21h1M84 21h1M18 22h1M25 22h1M84 22h1M19 23h1M19 24h1M27 24h1M84 25h1M84 26h1M19 27h1M18 28h1M20 28h1M57 28h2M84 28h1M23 30h2M84 32h1M88 32h1M35 34h1M84 36h1M6 37h1M6 38h1M52 38h1M84 40h1M9 41h5M22 41h1M84 41h1M88 41h1M84 42h1M63 44h1M63 45h1M84 45h1M63 46h1M71 46h1M74 46h1M85 46h1M4 47h1M71 47h5M70 48h1M74 48h1M81 48h1M89 48h1M71 50h3M75 51h1M84 51h2M87 51h1M89 51h1M5 53h1M5 55h1M76 56h2M80 56h1M0 57h5M69 57h2M72 57h1M95 58h3M55 59h3M93 60h1M9 61h1M20 61h4M4 62h1M9 62h3M18 62h1M62 63h4M53 64h1M56 64h2M45 65h2M55 65h1M68 65h1M28 66h3M38 66h1M41 66h5M49 66h2M56 66h3M61 66h5M15 67h2M18 67h1M42 67h2M52 67h3M58 67h1M3 68h4M8 68h1M11 68h1M25 68h2M28 68h1M67 68h2M72 68h1M0 69h5M15 69h2M18 69h1M52 69h2M59 69h2M4 70h1M54 70h2M60 70h1M0 71h4M6 71h1M17 71h2M34 71h1M4 72h2M15 72h2M51 72h1M76 72h1M79 72h5M85 72h1M0 73h5M8 73h4M19 73h4M38 73h2M9 74h3M17 74h7M79 74h2M5 75h5M18 75h1M76 75h2M80 75h1M5 76h1M64 76h1M74 76h2M79 76h1M53 77h3M65 77h1M72 77h2M77 77h1M80 77h1M97 77h1M51 78h1M62 78h3M71 79h1M73 79h2M76 79h2M81 79h2M88 79h2M99 79h2M71 80h1M76 80h1M86 80h2M96 80h1M11 81h1M71 81h1M77 81h3M81 81h3M98 81h1M100 81h1M0 82h4M25 82h1M78 82h1M89 82h1M98 82h1M100 82h1M32 83h1M77 83h2M78 84h1M65 85h1M71 85h1M74 85h2M78 85h2M101 85h3M65 86h1M71 86h1M77 86h3M96 86h1M101 86h3M25 87h1M71 87h1M79 87h1M25 88h1M31 88h1M71 88h1M25 89h1M73 89h2M78 89h1M96 89h2M72 90h1M74 90h1M78 90h1M71 91h1M73 91h1M25 92h1M65 92h1M71 92h1M73 92h1M76 92h2M72 93h2M25 94h1M65 94h1M73 94h4M25 95h1M32 95h1M32 96h1M65 96h1M33 97h1M65 97h1M65 98h1M64 99h1M89 99h2M25 101h1M33 101h1M25 102h1M33 102h1M25 103h1M33 103h1"/>
<path stroke="#0b9cff" d="M0 0h4M0 1h4M0 2h4M15 3h2M14 4h1M20 4h1M27 4h2M19 5h1M21 5h1M26 5h1M28 5h1M7 6h1M14 6h1M22 6h2M27 6h2M35 6h5M77 6h1M45 7h1M6 8h1M12 8h2M40 8h1M53 8h1M17 9h1M18 11h1M21 11h5M75 11h1M11 12h1M18 12h2M25 12h1M73 12h1M5 13h1M25 13h1M35 13h2M38 13h2M74 13h1M3 14h1M35 14h2M38 14h1M73 14h1M20 15h1M25 15h1M35 15h1M45 15h1M49 15h2M73 15h1M19 16h2M30 16h1M33 16h1M35 16h7M45 16h1M49 16h2M73 16h1M21 17h1M19 18h1M20 19h1M85 19h1M20 20h1M26 20h1M20 21h1M28 21h1M88 21h1M19 22h1M28 22h1M84 23h1M18 24h1M84 24h1M19 25h1M27 26h1M88 26h1M26 27h2M84 27h1M25 29h1M28 29h1M84 31h1M84 33h1M84 34h1M22 36h1M22 37h1M84 37h1M53 38h1M84 39h1M22 40h1M63 40h1M63 41h1M22 43h1M70 44h1M74 44h1M22 45h1M70 45h1M88 45h1M22 46h1M72 46h2M75 46h1M22 47h1M84 47h1M75 48h1M22 49h1M0 50h4M4 51h1M22 51h1M61 51h2M74 51h1M86 51h1M27 60h2M32 60h2M28 61h1M5 62h4M12 62h1M14 62h3M84 62h1M54 63h2M61 63h1M52 64h1M74 64h1M44 65h1M56 65h2M22 66h6M39 66h2M13 67h1M17 67h1M25 67h2M28 67h1M59 67h2M63 67h1M0 68h3M9 68h2M18 68h1M27 68h1M61 68h1M63 68h1M54 69h2M0 70h4M15 70h2M53 70h1M56 70h3M4 71h2M19 71h3M52 71h1M84 72h1M5 73h2M17 73h2M40 73h2M87 73h1M93 73h1M25 74h1M14 75h3M75 75h1M78 75h2M96 75h2M6 76h3M59 76h2M63 76h1M65 76h1M76 76h1M78 76h1M96 76h2M52 77h1M56 77h2M59 77h2M71 77h1M78 77h1M96 77h1M48 78h1M72 78h1M76 78h3M97 78h1M41 79h1M65 79h1M75 79h1M90 79h1M94 79h1M98 79h1M24 80h1M65 80h1M77 80h1M79 80h7M88 80h3M97 80h4M10 81h1M80 81h1M84 81h3M91 81h2M74 82h2M88 82h1M90 82h1M65 83h1M76 83h1M89 83h2M95 83h3M72 84h1M77 84h1M96 84h1M101 84h3M76 85h2M96 85h1M99 85h2M97 86h1M100 86h1M65 87h1M96 87h2M101 87h3M27 88h1M65 88h1M88 88h3M94 88h2M72 89h1M79 89h1M31 90h1M71 90h1M73 90h1M79 90h1M74 91h2M74 92h1M25 93h1M71 93h1M74 93h2M78 93h1M72 94h1M77 94h1M25 97h1M25 98h1M33 100h1"/>
<path stroke="#08a1ff" d="M15 4h5M20 5h1M27 5h1M64 5h1M0 6h4M67 6h1M39 7h2M12 12h2M20 12h1M24 12h1M53 12h1M75 12h1M4 13h1M18 13h3M33 13h2M73 13h1M75 13h1M19 14h2M24 14h1M33 14h1M39 14h2M19 15h1M21 15h1M33 15h1M36 15h5M44 15h1M18 16h1M21 16h1M25 16h1M42 16h3M19 17h2M22 17h1M19 19h1M81 19h1M19 20h1M88 20h1M19 21h1M26 21h1M88 22h1M88 23h1M26 24h1M88 24h1M18 25h1M28 25h1M18 27h1M88 27h1M19 28h1M28 28h1M88 28h1M88 29h1M25 30h1M34 30h1M88 30h1M88 31h1M35 35h1M7 37h2M22 38h1M84 38h1M63 42h1M63 43h1M70 43h2M22 44h1M75 44h1M22 48h1M64 48h1M70 49h1M63 50h1M65 50h1M0 51h4M70 51h4M4 52h1M54 56h1M54 57h1M73 57h1M54 58h1M66 58h1M24 60h3M29 60h3M34 60h5M5 61h2M29 61h1M13 62h1M53 63h1M66 63h2M69 64h1M37 65h1M42 65h2M77 65h1M79 66h2M12 67h1M27 67h1M61 67h2M77 67h1M93 67h1M17 68h1M62 68h1M73 68h1M100 68h4M17 69h1M18 70h1M52 70h1M61 70h1M53 71h1M23 72h1M42 73h1M91 73h2M94 73h1M24 74h1M26 74h3M97 74h1M74 75h1M9 76h1M57 76h2M61 76h2M73 76h1M77 76h1M95 76h1M58 77h1M79 77h1M65 78h1M71 78h1M73 78h3M95 78h2M35 79h3M39 79h2M78 79h1M95 79h1M101 79h3M78 80h1M95 80h1M101 80h3M65 81h1M87 81h4M97 81h1M101 81h3M71 82h3M91 82h2M94 82h2M71 83h5M88 83h1M91 83h2M94 83h1M71 84h1M73 84h4M97 84h1M95 85h1M97 85h2M98 86h2M88 87h1M28 88h1M93 88h1M101 88h3M31 89h1M65 89h1M71 89h1M25 90h1M65 90h1M25 91h1M31 91h1M75 92h1M65 93h1M76 93h2M80 94h1M33 98h1M25 99h1M65 99h1M88 99h1M96 99h2"/>
<path stroke="#04a7ff" d="M84 3h2M79 4h2M65 5h1M78 5h3M12 6h2M69 6h1M6 7h1M42 7h3M41 9h1M44 9h2M53 11h1M21 12h3M21 13h1M24 13h1M18 14h1M21 14h2M34 14h1M18 15h1M22 15h1M34 16h1M66 17h1M76 18h1M76 19h1M28 23h1M88 25h1M26 26h1M27 29h1M35 36h1M68 38h1M22 39h1M60 39h2M69 41h2M84 46h1M69 47h1M88 47h1M65 48h1M64 50h1M76 50h1M76 51h1M64 53h2M56 55h3M64 55h1M68 55h3M4 56h1M52 56h2M52 57h2M53 58h1M99 58h1M52 59h2M39 60h1M92 60h1M30 61h1M87 61h1M19 62h1M52 63h1M56 63h1M59 63h2M68 64h1M75 64h1M83 64h1M32 65h2M36 65h1M41 65h1M83 65h1M21 66h1M78 66h1M84 66h1M90 67h1M92 67h1M74 68h1M99 68h1M68 69h1M17 70h1M54 71h2M19 72h4M43 73h2M88 73h1M95 73h1M97 73h1M29 74h2M75 74h1M95 74h2M73 75h1M56 76h1M72 76h1M63 77h1M95 77h1M47 78h1M49 78h2M34 79h1M38 79h1M80 79h1M93 79h1M96 79h2M94 80h1M9 81h1M70 81h1M93 81h4M65 82h1M79 82h1M93 82h1M93 83h1M98 83h1M101 83h3M79 84h1M95 84h1M100 84h1M89 87h2M95 87h1M98 87h3M26 88h1M91 88h2M96 88h2M100 88h1M71 94h1M32 97h1"/>
<path stroke="#00acfc" d="M84 0h3M91 0h2M84 1h3M91 1h2M84 2h3M66 4h2M41 7h1M71 7h2M76 8h1M53 9h1M53 10h1M73 10h1M22 13h2M23 14h1M24 15h1M34 15h1M41 15h1M22 16h1M66 16h1M23 17h2M66 18h1M77 18h1M66 19h1M77 19h1M27 21h1M27 22h1M27 23h1M26 25h2M26 28h2M28 30h2M59 33h1M35 37h1M67 38h1M69 38h1M52 39h1M62 39h1M68 42h3M69 43h1M64 44h2M64 46h1M69 46h1M64 47h1M66 47h3M66 48h1M64 49h1M22 50h1M63 51h1M77 51h1M52 52h1M62 52h1M66 52h2M72 52h1M81 52h2M52 53h2M57 53h1M55 55h1M59 55h2M63 55h1M65 55h3M71 55h2M0 56h4M74 57h1M52 58h1M67 58h1M54 59h1M58 59h1M94 59h1M40 60h1M100 60h4M31 61h1M20 62h1M57 63h2M82 64h1M35 65h1M38 65h3M80 65h3M20 66h1M91 67h1M62 70h1M86 72h1M45 73h1M90 73h1M96 73h1M31 74h1M72 74h3M19 75h1M64 75h2M70 75h3M10 76h1M53 76h3M71 76h1M61 77h1M66 78h2M79 79h1M91 79h2M91 80h3M69 81h1M69 82h2M96 82h2M101 82h3M79 83h1M99 83h2M98 84h2M95 86h1M91 87h4M98 88h2M87 91h1M31 92h1M31 93h1M27 94h2M31 94h1M87 96h1M27 98h2M32 99h1M26 100h1"/>
<path stroke="#00b1f8" d="M81 0h3M87 0h1M93 0h2M81 1h3M87 1h1M93 1h2M81 2h3M83 3h1M86 3h1M96 3h3M64 4h1M78 4h1M81 5h1M8 7h1M73 7h1M71 8h2M77 8h2M42 9h2M74 10h2M71 11h2M23 15h1M42 15h2M71 18h2M71 19h2M78 19h1M84 19h1M26 22h1M26 23h1M71 28h1M26 29h1M26 30h2M30 30h4M78 30h1M34 31h1M59 31h1M59 32h1M59 34h1M7 38h2M54 38h3M70 38h1M53 39h1M63 39h1M51 40h3M52 41h1M59 41h1M68 41h1M59 42h1M66 42h2M59 43h1M64 43h1M72 43h1M59 44h1M69 44h1M59 45h1M64 45h1M69 45h1M65 46h1M68 46h1M88 46h1M65 47h1M27 48h1M59 48h1M67 48h1M69 48h1M59 49h1M65 49h1M76 49h1M59 50h1M77 50h1M49 51h2M59 51h1M0 52h4M53 52h1M61 52h1M63 52h1M71 52h1M73 52h1M75 52h2M0 53h5M56 53h1M58 53h1M66 53h2M69 53h2M89 53h1M4 54h1M52 54h1M54 54h1M64 54h1M24 55h1M26 55h2M52 55h2M61 55h2M73 55h1M78 55h3M84 55h2M81 56h1M75 57h2M32 61h1M21 62h1M24 62h1M50 64h2M76 64h1M34 65h1M19 66h1M11 67h1M89 67h1M75 68h1M98 68h1M56 71h1M46 73h1M89 73h1M71 74h1M68 75h2M95 75h1M11 76h1M52 76h1M66 76h3M0 77h3M62 77h1M66 77h1M70 77h1M68 78h1M30 79h1M33 79h1M12 80h2M17 80h3M7 81h2M87 82h1M70 83h1M29 88h1M66 88h1M26 89h2M69 90h2M87 90h1M28 91h1M66 92h1M29 93h2M80 93h1M26 94h1M29 94h2M26 95h1M28 95h1M66 95h1M72 95h1M27 100h2"/>
<path stroke="#00b6f2" d="M77 0h4M88 0h3M95 0h1M98 0h2M77 1h4M88 1h3M95 1h1M98 1h2M78 2h3M95 2h1M98 2h1M81 3h2M95 3h1M99 3h1M65 4h1M68 4h1M81 4h1M66 5h1M56 6h1M70 6h1M75 7h1M73 8h1M75 8h1M71 9h3M75 9h1M10 11h1M71 12h2M66 15h1M72 15h1M23 16h2M78 18h1M54 19h1M88 19h1M71 20h1M59 23h1M59 26h1M59 29h1M59 30h1M77 30h1M35 38h1M57 38h2M54 40h2M59 40h1M69 40h2M53 41h1M64 41h2M71 41h1M36 42h2M64 42h2M71 42h1M35 43h3M65 43h4M37 44h2M66 44h1M45 45h1M65 45h1M59 46h1M66 46h2M25 47h3M56 47h2M26 48h1M45 48h1M56 48h2M68 48h1M25 49h1M37 51h1M66 51h1M78 51h1M24 52h1M35 52h2M39 52h2M44 52h2M51 52h1M59 52h2M64 52h2M68 52h1M74 52h1M77 52h1M83 52h1M86 52h3M96 52h3M51 53h1M63 53h1M68 53h1M71 53h1M76 53h2M79 53h2M88 53h1M90 53h1M0 54h4M24 54h1M53 54h1M55 54h6M63 54h1M65 54h1M71 54h2M79 54h2M85 54h1M88 54h3M0 55h5M25 55h1M54 55h1M74 55h1M77 55h1M86 55h3M35 56h3M82 56h2M32 57h2M77 57h1M68 58h1M32 59h2M100 59h1M91 60h1M33 61h1M22 62h2M25 62h1M0 63h7M68 63h1M83 63h1M49 64h1M81 64h1M31 65h1M79 65h1M81 66h2M7 67h1M10 67h1M78 67h1M88 67h1M69 69h1M63 70h1M88 72h5M47 73h2M75 73h1M32 74h1M34 74h2M20 75h3M25 75h1M63 75h1M66 75h2M12 76h1M3 77h1M67 77h3M46 78h1M70 78h1M29 79h1M31 79h1M66 79h5M14 80h1M16 80h1M20 80h1M23 80h1M66 80h1M69 80h2M68 81h1M68 82h1M69 83h1M66 84h2M66 85h2M70 85h1M66 86h2M70 86h1M66 87h1M30 88h1M67 88h1M28 89h1M66 89h3M70 89h1M26 90h3M68 90h1M26 91h2M29 91h2M26 92h1M29 92h2M67 92h1M80 92h1M87 92h1M26 93h3M87 93h1M27 95h1M31 95h1M67 95h1M26 96h1M31 96h1M66 96h3M26 97h1M29 97h2M87 97h1M26 98h1M32 98h1M29 99h3M66 99h1M32 100h1M26 101h5M32 101h1M26 102h5M32 102h1M26 103h5M32 103h1"/>
<path stroke="#00bbea" d="M96 0h2M96 1h2M94 2h1M96 2h2M99 2h1M78 3h1M67 5h1M57 6h1M76 6h1M7 8h1M79 8h2M10 9h1M74 9h1M10 10h1M71 10h2M71 13h2M71 14h2M5 15h1M71 15h1M71 16h2M65 17h1M71 17h2M80 18h1M74 20h2M59 21h1M59 24h1M59 27h1M71 30h1M74 30h3M23 31h1M75 31h1M23 32h1M71 32h1M23 35h1M59 35h1M71 36h1M59 37h1M59 38h1M35 39h1M41 40h3M45 40h1M49 40h2M64 40h1M68 40h1M71 40h1M42 41h2M51 41h1M54 41h2M66 41h2M35 42h1M38 42h1M47 42h1M51 42h3M38 43h1M47 43h1M58 43h1M35 44h2M39 44h2M46 44h3M52 44h2M67 44h1M37 45h2M44 45h1M56 45h2M66 45h2M55 46h3M24 47h1M47 47h2M55 47h1M59 47h1M24 48h2M44 48h1M46 48h2M55 48h1M58 48h1M76 48h1M24 49h1M26 49h1M49 49h2M55 49h3M77 49h1M78 50h1M80 50h1M36 51h1M38 51h1M48 51h1M51 51h1M65 51h1M69 51h1M37 52h2M41 52h1M49 52h2M58 52h1M84 52h2M89 52h1M24 53h1M38 53h3M61 53h2M72 53h4M78 53h1M84 53h4M96 53h2M48 54h1M61 54h2M66 54h5M73 54h1M84 54h1M86 54h2M94 54h2M101 54h3M39 55h1M75 55h2M81 55h3M89 55h3M27 56h3M31 56h4M38 56h1M84 56h1M100 56h1M37 57h1M78 57h1M27 58h2M32 58h2M69 58h1M100 58h1M29 59h3M35 59h4M59 59h1M62 59h1M41 60h1M52 60h1M86 61h1M26 62h1M69 63h1M74 63h1M26 65h3M18 66h1M83 66h1M6 67h1M8 67h2M79 67h1M87 67h1M95 68h1M70 69h1M64 70h2M57 71h1M59 71h1M52 72h1M54 72h2M87 72h1M93 72h5M33 74h1M36 74h2M23 75h2M62 75h1M13 76h3M69 76h2M4 77h1M69 78h1M32 79h1M15 80h1M21 80h1M67 80h2M5 81h2M66 82h2M66 83h1M68 84h3M68 85h2M68 86h2M67 87h2M70 87h1M68 88h1M69 89h1M29 90h2M66 91h5M80 91h1M27 92h2M68 92h1M66 93h2M66 94h2M87 94h1M29 95h2M68 95h1M87 95h1M27 96h1M29 96h2M72 96h1M27 97h2M31 97h1M66 97h1M68 97h1M66 98h1M72 98h1M87 98h1M26 99h2M67 99h1M72 99h1M29 100h2M31 101h1M31 102h1M31 103h1"/>
<path stroke="#00bfe3" d="M77 2h1M79 3h2M84 4h2M58 6h1M54 7h1M74 8h1M80 10h1M5 14h1M76 14h1M61 15h1M76 15h1M64 17h1M79 18h1M80 19h1M66 20h1M73 20h1M59 25h1M66 25h1M71 29h1M76 29h2M66 30h1M24 31h1M71 31h1M74 31h1M76 31h3M71 33h1M23 34h1M59 36h1M66 38h1M54 39h4M59 39h1M36 40h2M39 40h2M44 40h1M46 40h1M56 40h2M65 40h1M35 41h7M49 41h2M56 41h1M42 42h2M46 42h1M48 42h3M58 42h1M41 43h3M46 43h1M48 43h1M73 43h1M41 44h3M45 44h1M51 44h1M57 44h2M68 44h1M36 45h1M39 45h2M46 45h1M52 45h4M58 45h1M68 45h1M37 46h2M49 46h2M42 47h2M46 47h1M49 47h6M48 48h1M54 48h1M77 48h1M80 48h1M27 49h1M44 49h5M54 49h1M58 49h1M25 50h3M49 50h2M79 50h1M33 51h3M39 51h5M47 51h1M52 51h2M64 51h1M67 51h2M79 51h2M34 52h1M42 52h2M46 52h1M57 52h1M69 52h2M78 52h1M99 52h1M36 53h2M41 53h3M54 53h2M59 53h2M81 53h3M38 54h1M47 54h1M51 54h1M78 54h1M93 54h1M28 55h1M30 55h1M38 55h1M92 55h1M100 55h1M24 56h1M30 56h1M85 56h1M101 56h3M31 57h1M36 57h1M38 57h1M79 57h1M100 57h1M24 58h3M29 58h1M31 58h1M34 58h4M101 58h3M24 59h1M26 59h3M34 59h1M39 59h1M60 59h2M101 59h3M53 60h1M90 60h1M34 61h3M39 61h1M85 61h1M62 62h1M9 63h1M48 64h1M77 64h1M24 65h2M29 65h2M78 65h1M5 67h1M80 67h1M86 67h1M76 68h1M94 68h1M97 68h1M66 70h1M58 71h1M60 71h1M79 71h2M75 72h1M98 72h3M51 73h1M38 74h1M26 75h1M59 75h3M5 77h1M28 79h1M22 80h1M3 81h2M66 81h2M81 82h3M86 82h1M67 83h2M89 84h4M69 87h1M69 88h2M66 90h2M68 93h1M70 93h1M68 94h3M28 96h1M67 97h1M72 97h1M67 98h1M28 99h1M68 99h1M31 100h1M65 100h1"/>
<path stroke="#00c3db" d="M95 4h1M68 5h1M77 5h1M74 7h1M8 8h1M79 10h1M76 13h1M89 13h2M66 14h1M4 15h1M62 15h2M91 15h3M61 16h5M76 16h1M61 17h3M76 17h1M80 17h1M84 17h2M61 18h5M61 19h2M79 19h1M72 20h1M66 21h1M59 22h1M66 22h1M71 23h1M71 25h1M66 26h1M72 28h1M66 29h1M24 32h1M34 32h1M23 33h1M27 33h2M32 33h3M71 34h1M71 35h1M66 37h1M71 37h1M58 39h1M64 39h7M35 40h1M38 40h1M47 40h2M66 40h2M44 41h5M57 41h2M23 42h1M34 42h1M41 42h1M44 42h2M54 42h1M57 42h1M34 43h1M39 43h2M51 43h2M49 44h2M56 44h1M35 45h1M41 45h3M47 45h2M51 45h1M36 46h1M48 46h1M51 46h4M58 46h1M41 47h1M58 47h1M34 48h2M42 48h2M49 48h5M78 48h2M34 49h4M78 49h1M34 50h3M45 50h1M51 50h3M58 50h1M46 51h1M47 52h1M79 52h2M100 52h1M35 53h1M46 53h2M49 53h2M95 53h1M98 53h1M101 53h3M37 54h1M39 54h1M74 54h2M81 54h3M91 54h2M96 54h2M100 54h1M29 55h1M37 55h1M40 55h1M101 55h3M26 56h1M39 56h1M51 56h1M91 56h1M99 56h1M27 57h4M34 57h2M80 57h1M30 58h1M38 58h2M70 58h2M94 58h1M25 59h1M47 59h1M63 59h1M48 60h1M54 60h1M37 61h2M40 61h1M27 62h1M63 62h1M69 62h1M7 63h2M10 63h2M17 63h2M34 63h1M37 64h1M44 64h2M23 65h1M17 66h1M4 67h1M77 68h1M96 68h1M71 69h1M73 69h3M89 69h1M67 70h1M76 71h3M84 71h3M88 71h3M53 72h1M56 72h1M62 72h1M101 72h3M49 73h1M72 73h3M52 74h1M58 74h1M70 74h1M27 75h1M29 75h2M47 75h1M56 75h3M16 76h1M6 77h1M12 77h2M51 77h1M35 78h4M25 79h3M11 80h1M0 81h3M80 82h1M84 82h2M87 83h1M88 84h1M93 84h2M88 86h1M91 86h2M29 89h2M69 92h2M69 93h1M69 95h3M69 96h2M69 97h2M29 98h2M68 98h1M64 100h1M91 100h2M91 101h2M91 102h2M91 103h2"/>
<path stroke="#00c6d2" d="M100 0h4M100 1h4M94 3h1M82 4h1M55 6h1M76 9h1M79 11h2M76 12h1M84 13h2M77 14h1M84 14h10M64 15h1M80 15h1M80 16h1M91 16h3M79 17h1M54 18h1M63 19h3M76 20h1M78 20h3M71 22h1M71 24h1M71 26h1M89 26h1M66 27h1M66 28h1M79 30h2M82 30h2M25 31h3M31 31h3M76 32h3M24 33h1M26 33h1M29 33h1M31 33h1M66 33h1M28 34h7M66 34h1M27 35h8M66 35h1M25 36h2M34 36h1M66 36h1M34 37h1M34 38h1M60 38h1M65 38h1M25 39h1M34 39h1M58 40h1M23 41h1M34 41h1M39 42h2M55 42h2M45 43h1M49 43h2M57 43h1M74 43h2M34 44h1M44 44h1M54 44h2M49 45h2M35 46h1M44 46h4M23 47h1M37 47h4M44 47h2M79 47h2M82 47h2M36 48h1M31 49h3M38 49h1M51 49h3M79 49h2M37 50h2M44 50h1M46 50h1M48 50h1M54 50h1M23 51h1M44 51h2M54 51h1M90 51h1M48 52h1M90 52h1M101 52h3M44 53h2M48 53h1M91 53h2M35 54h2M40 54h4M46 54h1M49 54h2M98 54h2M31 55h1M35 55h2M41 55h1M48 55h1M51 55h1M93 55h1M99 55h1M25 56h1M86 56h1M92 56h1M24 57h1M26 57h1M39 57h1M51 57h1M99 57h1M101 57h3M47 58h1M72 58h1M40 59h1M46 59h1M48 59h1M51 59h1M79 59h2M93 59h1M42 60h6M49 60h3M89 60h1M49 61h2M28 62h1M52 62h1M54 62h1M64 62h1M83 62h1M12 63h1M19 63h2M42 63h2M51 63h1M82 63h1M25 64h1M32 64h3M36 64h1M38 64h1M42 64h2M46 64h2M80 64h1M22 65h1M16 66h1M3 67h1M85 67h1M78 68h3M89 68h2M72 69h1M90 69h1M94 69h2M68 70h6M86 70h5M94 70h2M61 71h1M75 71h1M81 71h3M87 71h1M57 72h1M61 72h1M63 72h3M74 72h1M50 73h1M52 73h1M58 73h1M71 73h1M51 74h1M53 74h1M57 74h1M59 74h2M69 74h1M28 75h1M31 75h1M48 75h1M52 75h1M54 75h2M17 76h1M27 76h1M32 76h1M7 77h5M28 77h1M35 77h2M24 78h1M34 78h1M43 78h3M24 79h1M10 80h1M91 85h2M94 85h1M89 86h2M94 86h1M87 87h1M80 88h1M80 89h1M87 89h1M80 90h1M31 98h1M52 100h1M54 100h2M76 100h2M81 100h2M87 100h2M93 100h1M96 100h2M52 101h1M62 101h1M76 101h2M81 101h2M89 101h2M93 101h1M52 102h1M62 102h1M76 102h2M81 102h2M89 102h2M93 102h1M52 103h1M62 103h1M76 103h2M81 103h2M89 103h2M93 103h1"/>
<path stroke="#00c8c8" d="M87 2h1M77 3h1M77 4h1M83 4h1M94 4h1M96 4h1M75 6h1M82 9h1M76 10h1M78 10h1M76 11h1M78 11h1M77 12h1M77 13h1M82 13h1M88 13h1M91 13h2M4 14h1M78 14h1M80 14h1M82 14h2M65 15h1M77 15h3M86 15h5M79 16h1M82 16h1M84 16h2M89 16h2M77 17h2M82 17h2M89 17h2M82 18h1M84 18h4M77 20h1M71 21h1M74 21h2M66 23h1M90 26h1M71 27h1M82 27h1M91 27h2M59 28h1M73 28h1M72 29h1M83 29h1M72 30h2M81 30h1M28 31h3M66 31h1M79 31h1M25 32h4M32 32h2M72 32h1M81 32h2M25 33h1M30 33h1M81 33h2M24 34h1M27 34h1M79 34h2M24 35h1M26 35h1M74 35h1M79 35h2M23 36h2M27 36h7M72 36h3M25 37h2M89 37h2M25 38h2M64 38h1M71 38h1M79 38h2M26 39h1M71 39h1M24 40h2M34 40h1M24 41h1M33 41h1M72 41h1M24 42h1M33 42h1M83 42h1M23 43h2M44 43h1M53 43h1M83 43h1M89 43h1M24 44h1M89 44h2M23 45h1M34 45h1M23 46h1M25 46h3M34 46h1M39 46h5M76 46h1M28 47h1M36 47h1M76 47h1M81 47h1M23 48h1M28 48h1M37 48h1M41 48h1M90 48h1M23 49h1M39 49h5M24 50h1M32 50h2M39 50h2M47 50h1M57 50h1M90 50h3M32 51h1M56 52h1M95 52h1M34 53h1M93 53h2M99 53h2M25 54h1M33 54h2M76 54h2M34 55h1M42 55h2M40 56h2M45 56h1M49 56h2M88 56h3M25 57h1M45 57h6M93 57h3M40 58h1M46 58h1M48 58h1M51 58h1M79 58h2M89 58h1M44 59h2M64 59h1M71 59h3M78 59h1M91 59h2M88 60h1M41 61h1M51 61h1M62 61h1M71 61h2M77 61h1M29 62h1M32 62h3M39 62h5M49 62h3M53 62h1M65 62h3M13 63h4M25 63h1M32 63h2M35 63h2M41 63h1M48 63h3M81 63h1M20 64h1M24 64h1M26 64h2M31 64h1M35 64h1M39 64h3M20 65h2M14 66h2M0 67h3M81 67h1M84 67h1M84 68h3M88 68h1M93 68h1M84 69h2M88 69h1M93 69h1M96 69h1M99 69h1M74 70h2M93 70h1M62 71h2M66 71h2M74 71h1M94 71h2M99 71h2M58 72h3M66 72h2M53 73h1M57 73h1M41 74h3M54 74h1M56 74h1M61 74h2M67 74h2M51 75h1M53 75h1M26 76h1M28 76h1M31 76h1M45 76h4M51 76h1M14 77h1M24 77h1M27 77h1M32 77h1M34 77h1M39 77h3M49 77h2M7 78h3M14 78h1M17 78h1M22 78h2M29 78h3M42 78h1M5 79h2M17 79h1M22 79h2M9 80h1M93 85h1M93 86h1M87 88h1M71 99h1M81 99h1M84 99h2M53 100h1M61 100h3M66 100h1M69 100h7M78 100h1M86 100h1M89 100h2M98 100h3M56 101h2M61 101h1M63 101h1M78 101h1M83 101h1M88 101h1M94 101h1M98 101h6M56 102h2M61 102h1M63 102h1M78 102h1M83 102h1M88 102h1M94 102h1M98 102h6M56 103h2M61 103h1M63 103h1M78 103h1M83 103h1M88 103h1M94 103h1M98 103h6"/>
<path stroke="#00cabd" d="M86 4h1M97 4h1M71 6h3M82 6h1M66 7h1M45 8h1M82 8h1M77 9h2M80 9h1M78 12h1M80 12h1M78 13h1M80 13h1M83 13h1M86 13h2M93 13h1M79 14h1M82 15h1M84 15h2M94 15h1M77 16h2M83 16h1M88 16h1M88 17h1M91 17h3M83 18h1M88 18h6M61 20h3M81 20h1M76 21h8M66 24h1M74 27h1M81 27h1M83 27h1M89 28h4M73 29h2M82 29h1M72 31h2M80 31h1M89 31h2M73 32h3M79 32h2M83 32h1M89 32h2M72 33h1M78 33h3M83 33h1M89 33h1M26 34h1M78 34h1M25 35h1M75 35h1M83 35h1M75 36h1M89 36h1M23 37h2M73 37h3M81 37h2M23 38h1M27 38h1M29 38h3M61 38h1M63 38h1M74 38h2M81 38h2M24 39h1M27 39h1M29 39h3M33 39h1M74 39h2M79 39h5M23 40h1M26 40h1M33 40h1M72 40h1M79 40h2M83 40h1M25 41h2M76 41h5M83 41h1M91 41h2M25 42h3M72 42h1M79 42h2M25 43h4M33 43h1M81 43h2M90 43h1M23 44h1M25 44h1M76 44h1M83 44h1M24 45h1M33 45h1M76 45h1M24 46h1M28 46h1M91 46h2M34 47h2M78 47h1M32 48h2M39 48h2M30 49h1M66 49h1M90 49h1M31 50h1M41 50h1M56 50h1M66 50h1M27 51h1M31 51h1M44 54h1M32 55h2M46 55h2M49 55h2M94 55h1M42 56h3M46 56h1M48 56h1M87 56h1M93 56h1M98 56h1M40 57h1M44 57h1M89 57h2M97 57h2M44 58h2M73 58h1M85 58h4M90 58h1M93 58h1M41 59h1M49 59h2M65 59h3M69 59h2M77 59h1M89 59h2M62 60h2M71 60h2M76 60h3M81 60h1M45 61h1M48 61h1M63 61h1M76 61h1M78 61h1M81 61h1M84 61h1M30 62h2M35 62h4M48 62h1M68 62h1M76 62h3M81 62h1M21 63h1M24 63h1M26 63h1M31 63h1M37 63h4M44 63h1M75 63h1M78 63h3M19 64h1M21 64h1M28 64h3M79 64h1M19 65h1M13 66h1M82 67h2M87 68h1M91 68h2M76 69h1M79 69h2M91 69h2M97 69h2M100 69h1M76 70h1M79 70h2M84 70h2M91 70h2M96 70h5M64 71h2M69 71h5M93 71h1M96 71h3M101 71h3M71 72h3M56 73h1M59 73h5M67 73h1M39 74h1M49 74h2M55 74h1M63 74h1M66 74h1M46 75h1M18 76h4M25 76h1M29 76h2M44 76h1M49 76h2M17 77h7M31 77h1M33 77h1M37 77h2M42 77h2M48 77h1M0 78h7M10 78h4M15 78h2M18 78h4M25 78h1M32 78h2M41 78h1M4 79h1M7 79h2M12 79h3M18 79h4M0 80h9M88 85h3M87 86h1M80 87h1M71 96h1M71 98h1M81 98h1M84 98h2M69 99h2M82 99h2M87 99h1M56 100h1M59 100h2M67 100h2M79 100h2M83 100h1M94 100h2M101 100h3M53 101h3M84 101h2M87 101h1M95 101h3M53 102h3M84 102h2M87 102h1M95 102h3M53 103h3M84 103h2M87 103h1M95 103h3"/>
<path stroke="#00ccb3" d="M91 2h2M66 6h1M74 6h1M55 7h3M82 7h1M41 8h1M79 9h1M77 10h1M82 10h1M77 11h1M82 11h1M79 12h1M82 12h1M79 13h1M94 14h1M83 15h1M86 16h2M94 16h1M86 17h2M94 17h1M94 18h1M82 19h1M64 20h2M82 20h2M89 20h1M89 21h4M79 22h2M89 22h4M74 23h1M89 23h1M89 24h4M74 26h1M75 27h1M89 27h2M83 28h1M75 29h1M89 29h4M91 30h2M81 31h3M31 32h1M66 32h1M91 32h2M73 33h1M90 33h1M25 34h1M72 34h3M81 34h3M89 34h2M72 35h2M78 35h1M81 35h2M89 35h2M83 36h1M90 36h1M27 37h7M72 37h1M78 37h3M83 37h1M24 38h1M28 38h1M32 38h2M62 38h1M78 38h1M83 38h1M89 38h2M23 39h1M28 39h1M32 39h1M78 39h1M27 40h1M32 40h1M74 40h5M81 40h2M89 40h4M27 41h1M32 41h1M89 41h2M32 42h1M76 42h3M81 42h2M89 42h4M76 43h1M26 44h1M29 44h2M81 44h2M91 44h2M29 45h4M83 45h1M91 45h2M29 46h3M33 46h1M77 46h4M29 47h5M77 47h1M89 47h1M29 48h3M38 48h1M91 48h2M42 50h2M55 50h1M24 51h1M99 51h5M26 54h1M45 54h1M44 55h2M95 55h1M98 55h1M47 56h1M94 56h1M96 56h2M41 57h3M88 57h1M91 57h2M96 57h1M41 58h1M49 58h2M74 58h1M78 58h1M83 58h2M91 58h2M42 59h2M68 59h1M74 59h1M76 59h1M81 59h1M88 59h1M57 60h1M68 60h3M73 60h1M75 60h1M79 60h2M44 61h1M46 61h1M52 61h1M54 61h1M67 61h2M70 61h1M44 62h4M79 62h2M27 63h4M45 63h3M22 64h2M78 64h1M11 66h2M81 68h3M77 69h2M83 69h1M86 69h2M101 69h3M77 70h2M81 70h3M101 70h3M68 71h1M91 71h2M68 72h3M54 73h1M66 73h1M68 73h1M40 74h1M44 74h2M48 74h1M64 74h2M32 75h1M42 75h2M49 75h2M22 76h3M33 76h1M35 76h3M41 76h3M15 77h2M26 77h1M29 77h2M47 77h1M26 78h3M39 78h2M0 79h4M9 79h3M15 79h2M87 84h1M87 85h1M84 90h2M84 94h2M81 95h1M81 96h1M71 97h1M69 98h2M57 100h1M58 101h1M64 101h7M79 101h2M86 101h1M58 102h1M64 102h7M79 102h2M86 102h1M58 103h1M64 103h7M79 103h2M86 103h1"/>
<path stroke="#09cea9" d="M93 2h1M64 3h1M98 4h1M44 8h1M66 8h1M13 9h1M66 10h1M93 19h2M90 20h1M73 21h1M72 22h7M83 22h1M72 23h2M90 23h3M72 24h1M74 24h1M65 25h1M72 25h3M89 25h4M73 26h1M76 26h2M91 26h1M73 27h1M76 27h2M74 28h3M82 28h1M93 28h1M60 31h1M91 31h2M29 32h2M60 33h1M76 33h2M60 34h1M75 34h1M77 34h1M76 36h5M76 37h2M73 38h1M73 39h1M76 39h2M89 39h4M28 40h4M73 40h1M28 41h1M31 41h1M73 41h1M81 41h2M28 42h1M31 42h1M29 43h1M32 43h1M77 43h1M79 43h2M91 43h2M31 44h1M33 44h1M77 44h1M93 44h1M25 45h4M77 45h6M90 45h1M93 45h1M32 46h1M91 47h2M23 50h1M93 50h1M25 51h2M30 51h1M91 51h3M98 51h1M27 54h1M96 55h2M95 56h1M81 57h4M86 57h2M42 58h2M75 58h3M81 58h2M75 59h1M82 59h3M64 60h1M66 60h2M42 61h2M47 61h1M53 61h1M66 61h1M69 61h1M79 61h2M22 63h2M0 64h7M9 64h3M0 66h4M6 66h5M81 69h2M55 73h1M64 73h1M46 74h2M36 75h3M41 75h1M45 75h1M34 76h1M38 76h3M25 77h1M46 77h1M80 86h1M83 90h1M84 91h3M85 92h1M84 93h2M83 94h1M82 95h3M82 96h2M86 96h1M81 97h1M84 97h2M82 98h2M58 100h1M71 101h5M71 102h5M71 103h5"/>
<path stroke="#0fd09e" d="M72 0h2M76 0h1M72 1h2M76 1h1M88 2h3M65 3h1M82 5h1M85 5h1M42 8h2M13 11h1M66 11h1M84 12h2M94 13h1M97 14h1M101 14h3M83 19h1M89 19h4M64 21h2M72 21h1M93 21h1M63 22h2M81 22h2M93 22h1M75 23h1M93 23h1M73 24h1M93 24h1M64 25h1M101 25h3M65 26h1M72 26h1M75 26h1M78 26h1M83 26h1M92 26h1M65 27h1M72 27h1M93 27h1M64 28h2M77 28h1M99 28h1M63 29h1M93 29h1M60 30h1M89 30h2M61 31h1M60 32h1M61 33h2M74 33h2M91 33h2M76 34h1M91 34h2M76 35h2M91 35h2M81 36h2M91 36h2M65 37h1M72 38h1M76 38h2M91 38h2M72 39h1M93 39h1M93 40h1M29 41h2M75 41h1M29 42h2M73 42h3M30 43h2M78 43h1M93 43h1M27 44h2M78 44h3M89 45h1M81 46h3M90 47h1M98 50h3M58 51h1M94 51h2M97 51h1M30 54h1M85 57h1M85 59h1M65 60h1M74 60h1M87 60h1M64 61h1M73 61h1M55 62h1M61 62h1M18 64h1M0 65h4M18 65h1M4 66h2M65 73h1M69 73h2M33 75h1M35 75h1M44 75h1M44 77h2M80 83h1M80 85h1M81 90h2M86 90h1M83 91h1M84 92h1M86 92h1M81 93h1M83 93h1M81 94h2M85 95h1M84 96h2M82 97h2M86 97h1M86 98h1M86 99h1M84 100h2M59 101h2M59 102h2M59 103h2"/>
<path stroke="#16d293" d="M69 0h1M74 0h1M69 1h1M74 1h1M66 3h3M99 4h1M84 5h1M86 5h1M94 5h2M91 6h5M97 6h2M83 7h3M87 7h1M99 7h1M66 9h1M83 12h1M86 12h3M97 13h2M101 13h3M63 14h2M96 14h1M98 14h1M95 15h1M100 19h1M91 20h4M60 21h2M63 21h1M61 22h2M65 22h1M60 23h5M80 23h1M60 24h1M64 24h1M76 24h1M83 24h1M83 25h1M60 26h1M101 26h3M98 28h1M100 28h1M60 29h1M64 29h1M96 29h2M64 30h2M62 31h2M61 32h1M63 32h2M102 32h2M63 33h1M61 34h2M64 36h2M93 36h1M60 37h1M64 37h1M91 37h2M94 39h1M74 41h1M93 41h1M93 42h1M32 44h1M94 44h1M94 45h1M93 46h1M93 47h1M93 48h1M91 49h3M30 50h1M96 50h2M101 50h3M96 51h1M33 52h1M31 54h1M65 61h1M7 64h2M12 64h6M4 65h1M9 65h3M16 65h2M34 75h1M39 75h2M81 83h2M81 89h1M81 91h2M81 92h3M82 93h1M86 93h1M86 94h1M86 95h1"/>
<path stroke="#1fd486" d="M71 0h1M75 0h1M71 1h1M75 1h1M87 5h4M96 5h1M59 6h1M86 6h2M96 6h1M99 6h1M86 7h1M93 7h1M98 7h1M83 8h2M12 9h1M83 9h1M86 10h1M98 12h6M96 13h1M99 13h2M65 14h1M95 14h1M99 14h2M97 15h7M95 16h1M99 16h1M95 17h1M95 18h2M101 18h3M99 19h1M100 20h1M62 21h1M100 21h1M65 23h1M76 23h1M83 23h1M65 24h1M75 24h1M100 24h1M60 25h1M75 25h3M100 25h1M80 26h1M98 26h3M60 27h1M64 27h1M78 27h3M94 27h2M65 29h1M81 29h1M61 30h3M93 30h1M93 31h1M102 31h2M62 32h1M93 32h1M101 32h1M64 33h2M63 34h1M65 34h1M60 35h2M93 35h1M60 36h4M94 36h1M61 37h3M93 37h1M93 38h2M94 43h1M95 44h1M95 45h1M89 46h2M94 49h3M32 54h1M58 60h1M75 61h1M56 62h1M5 65h4M12 65h4"/>
<path stroke="#2dd579" d="M83 5h1M93 5h1M97 5h1M83 6h3M88 6h1M7 7h1M58 7h1M88 7h1M91 7h2M94 7h2M85 8h3M98 8h2M11 9h1M86 9h1M98 9h2M83 10h3M11 11h2M83 11h1M66 12h1M91 12h3M97 12h1M66 13h1M95 13h1M61 14h2M96 15h1M98 16h1M100 16h1M96 17h2M97 18h4M95 19h1M101 19h3M101 20h3M94 21h1M60 22h1M100 22h4M100 23h1M61 24h1M63 24h1M93 25h1M79 26h1M81 26h2M97 26h1M94 28h1M94 29h2M98 29h1M102 30h2M64 31h1M101 31h1M65 32h1M93 33h1M64 34h1M93 34h1M101 34h3M62 35h4M102 35h2M95 36h1M94 37h1M94 40h1M99 44h2M101 45h3M94 46h1M102 46h2M94 47h1M94 48h1M97 49h3M94 50h2M27 52h2M57 62h4M82 62h1M80 84h1M82 89h1"/>
<path stroke="#3dd56b" d="M64 0h2M64 1h2M91 5h2M98 5h2M90 6h1M89 7h2M84 9h2M98 10h2M84 11h4M98 11h1M89 12h2M94 12h1M96 12h1M96 16h2M98 17h6M99 20h1M99 21h1M101 21h3M94 22h1M77 23h1M94 23h1M101 23h3M62 24h1M61 25h1M99 25h1M64 26h1M93 26h1M96 26h1M96 27h5M95 28h3M61 29h2M78 29h1M99 29h2M101 30h1M65 31h1M101 33h3M101 35h1M96 36h1M94 42h1M96 44h3M101 44h3M96 45h1M99 45h2M101 46h1M101 47h3M102 48h2M100 49h1M86 59h1M56 60h1M83 89h1"/>
<path stroke="#4dd55c" d="M66 0h2M66 1h2M60 6h1M89 6h1M97 7h1M88 8h3M87 9h1M87 10h1M99 11h1M95 12h1M101 16h3M78 23h2M82 23h1M80 24h3M99 24h1M101 24h3M80 25h3M101 27h3M81 28h1M101 28h3M96 30h2M96 35h1M97 36h1M94 41h1M95 43h1M97 45h2M101 48h1M33 53h1M83 61h1M83 83h1M86 83h1"/>
<path stroke="#5ed54c" d="M68 0h1M68 1h1M100 2h1M96 7h1M91 8h5M97 8h1M99 22h1M81 23h1M99 23h1M77 24h1M94 24h1M60 28h1M100 33h1M94 35h2M97 35h1M95 39h1M101 43h3M100 46h1M101 49h3M87 59h1M82 60h1M86 60h1M74 62h1M84 89h3"/>
<path stroke="#71d33e" d="M101 2h3M87 3h1M96 8h1M96 19h1M98 19h1M95 20h1M78 25h1M98 25h1M61 26h1M95 26h1M101 29h3M100 31h1M94 32h1M94 34h1M100 34h1M100 35h1M98 36h2M95 37h1M95 38h1M95 46h2M98 46h2M95 47h1M95 48h1M54 52h1M76 63h2"/>
<path stroke="#84d12f" d="M70 0h1M70 1h1M87 4h1M97 9h1M88 11h1M97 19h1M60 20h1M95 21h1M96 22h2M95 23h1M95 24h1M98 24h1M62 25h2M97 25h1M63 28h1M98 30h1M100 30h1M94 31h1M96 31h4M95 32h1M100 32h1M94 33h2M98 33h2M95 34h3M99 34h1M98 35h1M100 36h4M95 40h1M97 40h1M96 41h1M99 43h2M97 46h1M96 47h1M100 48h1M55 51h1M91 52h1M93 52h2M29 54h1M75 62h1M85 83h1M81 88h1"/>
<path stroke="#96cf20" d="M52 6h1M61 6h1M13 10h1M97 11h1M60 15h1M60 19h1M98 20h1M96 21h1M98 21h1M95 22h1M98 22h1M96 23h3M96 25h1M94 26h1M61 27h1M94 30h2M99 30h1M95 31h1M96 33h2M98 34h1M99 35h1M99 37h1M96 39h2M96 40h1M101 40h3M95 41h1M97 41h1M101 41h3M95 42h2M101 42h3M96 43h1M98 43h1M97 47h1M100 47h1M96 48h1M98 48h2M55 52h1M92 52h1M85 60h1M82 61h1M84 83h1M81 84h1M86 86h1M86 87h1"/>
<path stroke="#a8cc13" d="M53 6h2M96 9h1M94 11h2M60 16h1M97 21h1M78 24h1M96 24h2M79 25h1M94 25h2M63 27h1M96 37h1M98 37h1M100 37h1M97 38h4M98 39h6M98 40h3M98 41h1M97 42h1M100 42h1M97 43h1M98 47h1M97 48h1M28 50h1M56 51h2M82 84h1M86 85h1M81 87h2M82 88h5"/>
<path stroke="#b9c808" d="M93 4h1M88 10h1M97 10h1M89 11h1M60 17h1M60 18h1M96 20h2M79 24h1M62 26h2M61 28h1M96 32h4M97 37h1M96 38h1M101 38h3M99 41h2M98 42h2M99 47h1M28 51h1M83 60h2M86 84h1M81 85h5M81 86h5M83 87h3"/>
<path stroke="#c9c500" d="M89 4h4M62 6h1M88 9h1M95 9h1M89 10h1M95 10h1M90 11h1M96 11h1M100 11h1M62 27h1M79 29h2M28 49h2M83 84h3"/>
<path stroke="#d9c100" d="M88 4h1M89 9h1M94 9h1M94 10h1M91 11h3M101 11h3M62 28h1M101 37h3M69 49h1M69 50h1M29 51h1M28 54h1"/>
<path stroke="#e7be00" d="M93 3h1M100 3h1M63 6h1M100 7h1M90 9h1M96 10h1M56 43h1M67 49h1"/>
<path stroke="#f4bb03" d="M91 3h2M101 4h3M100 6h1M91 9h3M90 10h1M60 14h1M54 43h2M74 61h1"/>
<path stroke="#ffb90d" d="M64 2h2M88 3h1M100 8h1M100 9h1M68 49h1M67 50h1"/>
<path stroke="#ffb916" d="M66 2h2M69 2h1M89 3h2M100 5h1M101 6h3M11 10h1M100 10h1M78 28h1M29 50h1M68 50h1"/>
<path stroke="#ffbc14" d="M68 2h1M100 4h1M64 6h1M101 7h3M12 10h1M93 10h1M79 28h2"/>
<path stroke="#ffc30e" d="M101 3h3M101 5h3M65 6h1M101 8h3M91 10h2M55 20h1"/>
<path stroke="#ffc907" d="M76 2h1M101 9h3"/>
<path stroke="#ffd001" d="M72 2h3M69 3h1M101 10h3M54 17h1M56 20h1M25 52h1"/>
<path stroke="#ffd700" d="M71 2h1M75 2h1M69 4h1M69 5h1M57 20h2M25 53h1"/>
<path stroke="#ffde00" d="M76 5h1M54 8h1M59 20h1"/>
<path stroke="#fde600" d="M73 5h3M54 13h1M54 15h1M55 60h1M61 60h1"/>
<path stroke="#fcec00" d="M70 2h1M71 5h2M54 12h1M54 14h1M54 16h1M29 52h1M61 61h1"/>
<path stroke="#fcf300" d="M55 8h4M54 9h1M54 10h1M55 61h1"/>
<path stroke="#fcfa00" d="M76 3h1M76 4h1M70 5h1M54 11h1M26 52h1M30 52h3M59 60h2M57 61h2"/>
<path stroke="#feff00" d="M70 3h6M70 4h6M59 7h7M59 8h7M55 9h11M55 10h11M55 11h11M55 12h11M55 13h11M55 14h5M55 15h5M55 16h5M55 17h5M55 18h5M55 19h5M26 53h7M56 61h1M59 61h2"/>
</g>
<g fill="#0a1a50" fill-opacity="0.85">
<rect x="2" y="2" width="100" height="0.259909"/>
<rect x="2" y="101.74" width="100" height="0.259909"/>
<rect x="2" y="2" width="0.204499" height="100"/>
<rect x="101.847" y="2" width="0.153374" height="100"/>
<rect x="11.5382" y="2" width="0.163599" height="1.03964"/>
<rect x="11.5382" y="100.96" width="0.163599" height="1.03964"/>
<rect x="21.5382" y="2" width="0.163599" height="1.03964"/>
<rect x="21.5382" y="100.96" width="0.163599" height="1.03964"/>
<rect x="31.5382" y="2" width="0.163599" height="1.03964"/>
<rect x="31.5382" y="100.96" width="0.163599" height="1.03964"/>
<rect x="41.5382" y="2" width="0.163599" height="1.03964"/>
<rect x="41.5382" y="100.96" width="0.163599" height="1.03964"/>
<rect x="51.5382" y="2" width="0.163599" height="1.03964"/>
<rect x="51.5382" y="100.96" width="0.163599" height="1.03964"/>
<rect x="61.5382" y="2" width="0.163599" height="1.03964"/>
<rect x="61.5382" y="100.96" width="0.163599" height="1.03964"/>
<rect x="71.5382" y="2" width="0.163599" height="1.03964"/>
<rect x="71.5382" y="100.96" width="0.163599" height="1.03964"/>
<rect x="81.5382" y="2" width="0.163599" height="1.03964"/>
<rect x="81.5382" y="100.96" width="0.163599" height="1.03964"/>
<rect x="91.5382" y="2" width="0.163599" height="1.03964"/>
<rect x="91.5382" y="100.96" width="0.163599" height="1.03964"/>
<rect x="101.538" y="2" width="0.163599" height="1.03964"/>
<rect x="101.538" y="100.96" width="0.163599" height="1.03964"/>
<rect x="2" y="11.426" width="0.817996" height="0.207927"/>
<rect x="101.182" y="11.426" width="0.817996" height="0.207927"/>
<rect x="2" y="21.426" width="0.817996" height="0.207927"/>
<rect x="101.182" y="21.426" width="0.817996" height="0.207927"/>
<rect x="2" y="31.426" width="0.817996" height="0.207927"/>
<rect x="101.182" y="31.426" width="0.817996" height="0.207927"/>
<rect x="2" y="41.426" width="0.817996" height="0.207927"/>
<rect x="101.182" y="41.426" width="0.817996" height="0.207927"/>
<rect x="2" y="51.426" width="0.817996" height="0.207927"/>
<rect x="101.182" y="51.426" width="0.817996" height="0.207927"/>
<rect x="2" y="61.426" width="0.817996" height="0.207927"/>
<rect x="101.182" y="61.426" width="0.817996" height="0.207927"/>
<rect x="2" y="71.426" width="0.817996" height="0.207927"/>
<rect x="101.182" y="71.426" width="0.817996" height="0.207927"/>
<rect x="2" y="81.426" width="0.817996" height="0.207927"/>
<rect x="101.182" y="81.426" width="0.817996" height="0.207927"/>
<rect x="2" y="91.426" width="0.817996" height="0.207927"/>
<rect x="101.182" y="91.426" width="0.817996" height="0.207927"/>
</g>
</svg>
<svg class="hist" style="left:0;top:0" width="2051" height="3560" viewBox="0 0 2051 3560">
<defs><linearGradient id="gg1" x1="0" x2="1" y1="0" y2="0"><stop offset="0" stop-color="#000"/><stop offset="1" stop-color="#fff"/></linearGradient></defs>
<rect x="1177.6" y="1582.6" width="747.5" height="51.8" fill="url(#gg1)"/>
<path fill="#b0f4fc" d="M1342.33 1582.6V1565.3h4.31V1582.6zM1346.46 1582.6V1542.7h4.31V1582.6zM1348.52 1582.6V1515.5h4.31V1582.6zM1350.58 1582.6V1551.6h4.31V1582.6zM1354.70 1582.6V1555.0h4.31V1582.6zM1356.76 1582.6V1524.1h4.31V1582.6zM1360.88 1582.6V1537.9h4.31V1582.6zM1362.94 1582.6V1428.7h4.31V1582.6zM1365.00 1582.6V1343.8h4.31V1582.6zM1369.12 1582.6V1305.7h4.31V1582.6zM1371.18 1582.6V1235.3h4.31V1582.6zM1375.30 1582.6V1156.4h4.31V1582.6zM1377.36 1582.6V1240.5h4.31V1582.6zM1381.48 1582.6V1245.6h4.31V1582.6zM1383.54 1582.6V1294.0h4.31V1582.6zM1385.60 1582.6V1271.7h4.31V1582.6zM1389.72 1582.6V1343.8h4.31V1582.6zM1391.78 1582.6V1366.2h4.31V1582.6zM1395.90 1582.6V1366.2h4.31V1582.6zM1397.96 1582.6V1424.5h4.31V1582.6zM1402.08 1582.6V1388.5h4.31V1582.6zM1404.15 1582.6V1397.1h4.31V1582.6zM1406.21 1582.6V1434.8h4.31V1582.6zM1410.33 1582.6V1356.5h4.31V1582.6zM1412.39 1582.6V1419.4h4.31V1582.6zM1416.51 1582.6V1268.0h4.31V1582.6zM1418.57 1582.6V1257.7h4.31V1582.6zM1422.69 1582.6V1225.0h4.31V1582.6zM1424.75 1582.6V1202.7h4.31V1582.6zM1426.81 1582.6V1221.6h4.31V1582.6zM1430.93 1582.6V1249.1h4.31V1582.6zM1432.99 1582.6V1290.3h4.31V1582.6zM1437.11 1582.6V1349.0h4.31V1582.6zM1439.17 1582.6V1280.0h4.31V1582.6zM1441.23 1582.6V1230.2h4.31V1582.6zM1445.35 1582.6V1219.8h4.31V1582.6zM1447.41 1582.6V1207.2h4.31V1582.6zM1451.53 1582.6V1217.5h4.31V1582.6zM1453.59 1582.6V1217.5h4.31V1582.6zM1457.71 1582.6V1194.1h4.31V1582.6zM1459.78 1582.6V1045.8h4.31V1582.6zM1461.84 1582.6V1171.8h4.31V1582.6zM1465.96 1582.6V1114.1h4.31V1582.6zM1468.02 1582.6V1149.5h4.31V1582.6zM1472.14 1582.6V1122.0h4.31V1582.6zM1474.20 1582.6V1167.3h4.31V1582.6zM1478.32 1582.6V1235.3h4.31V1582.6zM1480.38 1582.6V1177.0h4.31V1582.6zM1482.44 1582.6V1149.5h4.31V1582.6zM1486.56 1582.6V1190.7h4.31V1582.6zM1488.62 1582.6V1114.1h4.31V1582.6zM1492.74 1582.6V1167.3h4.31V1582.6zM1494.80 1582.6V1117.9h4.31V1582.6zM1498.92 1582.6V1087.7h4.31V1582.6zM1500.98 1582.6V1022.4h4.31V1582.6zM1503.04 1582.6V1067.8h4.31V1582.6zM1507.16 1582.6V1063.6h4.31V1582.6zM1509.22 1582.6V1000.1h4.31V1582.6zM1513.34 1582.6V1080.8h4.31V1582.6zM1515.40 1582.6V1122.0h4.31V1582.6zM1517.47 1582.6V964.0h4.31V1582.6zM1521.59 1582.6V926.0h4.31V1582.6zM1523.65 1582.6V953.7h4.31V1582.6zM1527.77 1582.6V1049.9h4.31V1582.6zM1529.83 1582.6V926.0h4.31V1582.6zM1533.95 1582.6V950.3h4.31V1582.6zM1536.01 1582.6V926.0h4.31V1582.6zM1538.07 1582.6V1019.0h4.31V1582.6zM1542.19 1582.6V991.5h4.31V1582.6zM1544.25 1582.6V926.0h4.31V1582.6zM1548.37 1582.6V1014.9h4.31V1582.6zM1550.43 1582.6V1026.5h4.31V1582.6zM1554.55 1582.6V1080.8h4.31V1582.6zM1556.61 1582.6V1255.9h4.31V1582.6zM1558.67 1582.6V1190.7h4.31V1582.6zM1562.79 1582.6V1351.7h4.31V1582.6zM1564.85 1582.6V1302.3h4.31V1582.6zM1568.97 1582.6V1350.7h4.31V1582.6zM1571.03 1582.6V1248.4h4.31V1582.6zM1573.10 1582.6V1312.6h4.31V1582.6zM1577.22 1582.6V1335.3h4.31V1582.6zM1579.28 1582.6V1285.1h4.31V1582.6zM1583.40 1582.6V1271.4h4.31V1582.6zM1585.46 1582.6V1342.1h4.31V1582.6zM1589.58 1582.6V1335.3h4.31V1582.6zM1591.64 1582.6V1285.1h4.31V1582.6zM1593.70 1582.6V1329.1h4.31V1582.6zM1597.82 1582.6V1333.5h4.31V1582.6zM1599.88 1582.6V1298.2h4.31V1582.6zM1604.00 1582.6V1225.0h4.31V1582.6zM1606.06 1582.6V1243.9h4.31V1582.6zM1610.18 1582.6V1207.2h4.31V1582.6zM1612.24 1582.6V1207.2h4.31V1582.6zM1614.30 1582.6V1198.6h4.31V1582.6zM1618.42 1582.6V1271.4h4.31V1582.6zM1620.48 1582.6V1072.2h4.31V1582.6zM1624.60 1582.6V1175.2h4.31V1582.6zM1626.66 1582.6V1063.6h4.31V1582.6zM1630.79 1582.6V1194.1h4.31V1582.6zM1632.85 1582.6V1103.1h4.31V1582.6zM1634.91 1582.6V1167.3h4.31V1582.6zM1639.03 1582.6V1198.6h4.31V1582.6zM1641.09 1582.6V1129.6h4.31V1582.6zM1645.21 1582.6V1171.8h4.31V1582.6zM1647.27 1582.6V1238.8h4.31V1582.6zM1649.33 1582.6V1198.6h4.31V1582.6zM1653.45 1582.6V1207.2h4.31V1582.6zM1655.51 1582.6V1321.5h4.31V1582.6zM1659.63 1582.6V1374.7h4.31V1582.6zM1661.69 1582.6V1369.6h4.31V1582.6zM1665.81 1582.6V1349.0h4.31V1582.6zM1667.87 1582.6V1383.3h4.31V1582.6zM1669.93 1582.6V1316.0h4.31V1582.6zM1674.05 1582.6V1374.7h4.31V1582.6zM1676.11 1582.6V1379.9h4.31V1582.6zM1680.23 1582.6V1388.5h4.31V1582.6zM1682.29 1582.6V1366.2h4.31V1582.6zM1686.42 1582.6V1462.3h4.31V1582.6zM1688.48 1582.6V1448.6h4.31V1582.6zM1690.54 1582.6V1419.4h4.31V1582.6zM1694.66 1582.6V1465.7h4.31V1582.6zM1696.72 1582.6V1405.7h4.31V1582.6zM1700.84 1582.6V1434.8h4.31V1582.6zM1702.90 1582.6V1402.2h4.31V1582.6zM1707.02 1582.6V1393.6h4.31V1582.6zM1709.08 1582.6V1469.2h4.31V1582.6zM1711.14 1582.6V1411.5h4.31V1582.6zM1715.26 1582.6V1474.3h4.31V1582.6zM1717.32 1582.6V1462.3h4.31V1582.6zM1721.44 1582.6V1411.5h4.31V1582.6zM1723.50 1582.6V1443.4h4.31V1582.6zM1725.56 1582.6V1416.0h4.31V1582.6zM1729.68 1582.6V1452.0h4.31V1582.6zM1731.74 1582.6V1474.3h4.31V1582.6zM1735.86 1582.6V1443.4h4.31V1582.6zM1737.92 1582.6V1434.8h4.31V1582.6zM1742.04 1582.6V1496.7h4.31V1582.6zM1744.11 1582.6V1500.1h4.31V1582.6zM1746.17 1582.6V1496.7h4.31V1582.6zM1750.29 1582.6V1524.1h4.31V1582.6zM1752.35 1582.6V1515.5h4.31V1582.6zM1756.47 1582.6V1541.3h4.31V1582.6zM1758.53 1582.6V1516.2h4.31V1582.6zM1762.65 1582.6V1541.2h4.31V1582.6zM1764.71 1582.6V1542.0h4.31V1582.6zM1766.77 1582.6V1516.2h4.31V1582.6zM1770.89 1582.6V1560.2h4.31V1582.6zM1772.95 1582.6V1543.0h4.31V1582.6zM1777.07 1582.6V1555.0h4.31V1582.6zM1779.13 1582.6V1558.3h4.31V1582.6zM1783.25 1582.6V1561.1h4.31V1582.6zM1785.31 1582.6V1565.3h4.31V1582.6zM1787.37 1582.6V1555.2h4.31V1582.6zM1791.49 1582.6V1563.2h4.31V1582.6zM1793.55 1582.6V1570.5h4.31V1582.6zM1797.67 1582.6V1570.5h4.31V1582.6zM1799.74 1582.6V1570.5h4.31V1582.6zM1805.92 1582.6V1569.0h4.31V1582.6zM1807.98 1582.6V1572.4h4.31V1582.6zM1812.10 1582.6V1573.2h4.31V1582.6zM1814.16 1582.6V1576.2h4.31V1582.6zM1820.34 1582.6V1576.4h4.31V1582.6zM1822.40 1582.6V1560.7h4.31V1582.6zM1826.52 1582.6V1575.5h4.31V1582.6zM1832.70 1582.6V1572.4h4.31V1582.6zM1834.76 1582.6V1563.0h4.31V1582.6zM1840.94 1582.6V1570.5h4.31V1582.6zM1847.12 1582.6V1568.6h4.31V1582.6zM1849.18 1582.6V1571.8h4.31V1582.6zM1853.30 1582.6V1573.1h4.31V1582.6zM1857.43 1582.6V1567.9h4.31V1582.6zM1861.55 1582.6V1564.8h4.31V1582.6zM1863.61 1582.6V1569.0h4.31V1582.6zM1867.73 1582.6V1577.2h4.31V1582.6zM1869.79 1582.6V1576.8h4.31V1582.6zM1888.33 1582.6V1574.5h4.31V1582.6zM1890.39 1582.6V1573.9h4.31V1582.6zM1894.51 1582.6V1567.7h4.31V1582.6zM1896.57 1582.6V1572.4h4.31V1582.6zM1898.63 1582.6V1574.9h4.31V1582.6zM1902.75 1582.6V1569.2h4.31V1582.6zM1908.93 1582.6V1577.3h4.31V1582.6zM1923.36 1582.6V997.0h4.31V1582.6z"/>
<path fill="#0070b6" d="M1343.23 1582.6V1565.9h2.51V1582.6zM1347.36 1582.6V1543.3h2.51V1582.6zM1349.42 1582.6V1516.1h2.51V1582.6zM1351.48 1582.6V1552.2h2.51V1582.6zM1355.60 1582.6V1555.6h2.51V1582.6zM1357.66 1582.6V1524.7h2.51V1582.6zM1361.78 1582.6V1538.5h2.51V1582.6zM1363.84 1582.6V1429.3h2.51V1582.6zM1365.90 1582.6V1344.4h2.51V1582.6zM1370.02 1582.6V1306.3h2.51V1582.6zM1372.08 1582.6V1235.9h2.51V1582.6zM1376.20 1582.6V1157.0h2.51V1582.6zM1378.26 1582.6V1241.1h2.51V1582.6zM1382.38 1582.6V1246.2h2.51V1582.6zM1384.44 1582.6V1294.6h2.51V1582.6zM1386.50 1582.6V1272.3h2.51V1582.6zM1390.62 1582.6V1344.4h2.51V1582.6zM1392.68 1582.6V1366.8h2.51V1582.6zM1396.80 1582.6V1366.8h2.51V1582.6zM1398.86 1582.6V1425.1h2.51V1582.6zM1402.98 1582.6V1389.1h2.51V1582.6zM1405.05 1582.6V1397.7h2.51V1582.6zM1407.11 1582.6V1435.4h2.51V1582.6zM1411.23 1582.6V1357.1h2.51V1582.6zM1413.29 1582.6V1420.0h2.51V1582.6zM1417.41 1582.6V1268.6h2.51V1582.6zM1419.47 1582.6V1258.3h2.51V1582.6zM1423.59 1582.6V1225.6h2.51V1582.6zM1425.65 1582.6V1203.3h2.51V1582.6zM1427.71 1582.6V1222.2h2.51V1582.6zM1431.83 1582.6V1249.7h2.51V1582.6zM1433.89 1582.6V1290.9h2.51V1582.6zM1438.01 1582.6V1349.6h2.51V1582.6zM1440.07 1582.6V1280.6h2.51V1582.6zM1442.13 1582.6V1230.8h2.51V1582.6zM1446.25 1582.6V1220.4h2.51V1582.6zM1448.31 1582.6V1207.8h2.51V1582.6zM1452.43 1582.6V1218.1h2.51V1582.6zM1454.49 1582.6V1218.1h2.51V1582.6zM1458.61 1582.6V1194.7h2.51V1582.6zM1460.68 1582.6V1046.4h2.51V1582.6zM1462.74 1582.6V1172.4h2.51V1582.6zM1466.86 1582.6V1114.7h2.51V1582.6zM1468.92 1582.6V1150.1h2.51V1582.6zM1473.04 1582.6V1122.6h2.51V1582.6zM1475.10 1582.6V1167.9h2.51V1582.6zM1479.22 1582.6V1235.9h2.51V1582.6zM1481.28 1582.6V1177.6h2.51V1582.6zM1483.34 1582.6V1150.1h2.51V1582.6zM1487.46 1582.6V1191.3h2.51V1582.6zM1489.52 1582.6V1114.7h2.51V1582.6zM1493.64 1582.6V1167.9h2.51V1582.6zM1495.70 1582.6V1118.5h2.51V1582.6zM1499.82 1582.6V1088.3h2.51V1582.6zM1501.88 1582.6V1023.0h2.51V1582.6zM1503.94 1582.6V1068.4h2.51V1582.6zM1508.06 1582.6V1064.2h2.51V1582.6zM1510.12 1582.6V1000.7h2.51V1582.6zM1514.24 1582.6V1081.4h2.51V1582.6zM1516.30 1582.6V1122.6h2.51V1582.6zM1518.37 1582.6V964.6h2.51V1582.6zM1522.49 1582.6V926.6h2.51V1582.6zM1524.55 1582.6V954.3h2.51V1582.6zM1528.67 1582.6V1050.5h2.51V1582.6zM1530.73 1582.6V926.6h2.51V1582.6zM1534.85 1582.6V950.9h2.51V1582.6zM1536.91 1582.6V926.6h2.51V1582.6zM1538.97 1582.6V1019.6h2.51V1582.6zM1543.09 1582.6V992.1h2.51V1582.6zM1545.15 1582.6V926.6h2.51V1582.6zM1549.27 1582.6V1015.5h2.51V1582.6zM1551.33 1582.6V1027.1h2.51V1582.6zM1555.45 1582.6V1081.4h2.51V1582.6zM1557.51 1582.6V1256.5h2.51V1582.6zM1559.57 1582.6V1191.3h2.51V1582.6zM1563.69 1582.6V1352.3h2.51V1582.6zM1565.75 1582.6V1302.9h2.51V1582.6zM1569.87 1582.6V1351.3h2.51V1582.6zM1571.93 1582.6V1249.0h2.51V1582.6zM1574.00 1582.6V1313.2h2.51V1582.6zM1578.12 1582.6V1335.9h2.51V1582.6zM1580.18 1582.6V1285.7h2.51V1582.6zM1584.30 1582.6V1272.0h2.51V1582.6zM1586.36 1582.6V1342.7h2.51V1582.6zM1590.48 1582.6V1335.9h2.51V1582.6zM1592.54 1582.6V1285.7h2.51V1582.6zM1594.60 1582.6V1329.7h2.51V1582.6zM1598.72 1582.6V1334.1h2.51V1582.6zM1600.78 1582.6V1298.8h2.51V1582.6zM1604.90 1582.6V1225.6h2.51V1582.6zM1606.96 1582.6V1244.5h2.51V1582.6zM1611.08 1582.6V1207.8h2.51V1582.6zM1613.14 1582.6V1207.8h2.51V1582.6zM1615.20 1582.6V1199.2h2.51V1582.6zM1619.32 1582.6V1272.0h2.51V1582.6zM1621.38 1582.6V1072.8h2.51V1582.6zM1625.50 1582.6V1175.8h2.51V1582.6zM1627.56 1582.6V1064.2h2.51V1582.6zM1631.69 1582.6V1194.7h2.51V1582.6zM1633.75 1582.6V1103.7h2.51V1582.6zM1635.81 1582.6V1167.9h2.51V1582.6zM1639.93 1582.6V1199.2h2.51V1582.6zM1641.99 1582.6V1130.2h2.51V1582.6zM1646.11 1582.6V1172.4h2.51V1582.6zM1648.17 1582.6V1239.4h2.51V1582.6zM1650.23 1582.6V1199.2h2.51V1582.6zM1654.35 1582.6V1207.8h2.51V1582.6zM1656.41 1582.6V1322.1h2.51V1582.6zM1660.53 1582.6V1375.3h2.51V1582.6zM1662.59 1582.6V1370.2h2.51V1582.6zM1666.71 1582.6V1349.6h2.51V1582.6zM1668.77 1582.6V1383.9h2.51V1582.6zM1670.83 1582.6V1316.6h2.51V1582.6zM1674.95 1582.6V1375.3h2.51V1582.6zM1677.01 1582.6V1380.5h2.51V1582.6zM1681.13 1582.6V1389.1h2.51V1582.6zM1683.19 1582.6V1366.8h2.51V1582.6zM1687.32 1582.6V1462.9h2.51V1582.6zM1689.38 1582.6V1449.2h2.51V1582.6zM1691.44 1582.6V1420.0h2.51V1582.6zM1695.56 1582.6V1466.3h2.51V1582.6zM1697.62 1582.6V1406.2h2.51V1582.6zM1701.74 1582.6V1435.4h2.51V1582.6zM1703.80 1582.6V1402.8h2.51V1582.6zM1707.92 1582.6V1394.2h2.51V1582.6zM1709.98 1582.6V1469.8h2.51V1582.6zM1712.04 1582.6V1412.1h2.51V1582.6zM1716.16 1582.6V1474.9h2.51V1582.6zM1718.22 1582.6V1462.9h2.51V1582.6zM1722.34 1582.6V1412.1h2.51V1582.6zM1724.40 1582.6V1444.0h2.51V1582.6zM1726.46 1582.6V1416.6h2.51V1582.6zM1730.58 1582.6V1452.6h2.51V1582.6zM1732.64 1582.6V1474.9h2.51V1582.6zM1736.76 1582.6V1444.0h2.51V1582.6zM1738.82 1582.6V1435.4h2.51V1582.6zM1742.94 1582.6V1497.3h2.51V1582.6zM1745.01 1582.6V1500.7h2.51V1582.6zM1747.07 1582.6V1497.3h2.51V1582.6zM1751.19 1582.6V1524.7h2.51V1582.6zM1753.25 1582.6V1516.1h2.51V1582.6zM1757.37 1582.6V1541.9h2.51V1582.6zM1759.43 1582.6V1516.8h2.51V1582.6zM1763.55 1582.6V1541.8h2.51V1582.6zM1765.61 1582.6V1542.6h2.51V1582.6zM1767.67 1582.6V1516.8h2.51V1582.6zM1771.79 1582.6V1560.8h2.51V1582.6zM1773.85 1582.6V1543.6h2.51V1582.6zM1777.97 1582.6V1555.6h2.51V1582.6zM1780.03 1582.6V1558.9h2.51V1582.6zM1784.15 1582.6V1561.7h2.51V1582.6zM1786.21 1582.6V1565.9h2.51V1582.6zM1788.27 1582.6V1555.8h2.51V1582.6zM1792.39 1582.6V1563.8h2.51V1582.6zM1794.45 1582.6V1571.1h2.51V1582.6zM1798.57 1582.6V1571.1h2.51V1582.6zM1800.64 1582.6V1571.1h2.51V1582.6zM1806.82 1582.6V1569.6h2.51V1582.6zM1808.88 1582.6V1573.0h2.51V1582.6zM1813.00 1582.6V1573.8h2.51V1582.6zM1815.06 1582.6V1576.8h2.51V1582.6zM1821.24 1582.6V1577.0h2.51V1582.6zM1823.30 1582.6V1561.3h2.51V1582.6zM1827.42 1582.6V1576.1h2.51V1582.6zM1833.60 1582.6V1573.0h2.51V1582.6zM1835.66 1582.6V1563.6h2.51V1582.6zM1841.84 1582.6V1571.1h2.51V1582.6zM1848.02 1582.6V1569.2h2.51V1582.6zM1850.08 1582.6V1572.4h2.51V1582.6zM1854.20 1582.6V1573.7h2.51V1582.6zM1858.33 1582.6V1568.5h2.51V1582.6zM1862.45 1582.6V1565.4h2.51V1582.6zM1864.51 1582.6V1569.6h2.51V1582.6zM1868.63 1582.6V1577.8h2.51V1582.6zM1870.69 1582.6V1577.4h2.51V1582.6zM1889.23 1582.6V1575.1h2.51V1582.6zM1891.29 1582.6V1574.5h2.51V1582.6zM1895.41 1582.6V1568.3h2.51V1582.6zM1897.47 1582.6V1573.0h2.51V1582.6zM1899.53 1582.6V1575.5h2.51V1582.6zM1903.65 1582.6V1569.8h2.51V1582.6zM1909.83 1582.6V1577.9h2.51V1582.6zM1924.26 1582.6V997.6h2.51V1582.6z"/>
<rect x="1103.4" y="925.6" width="896.6" height="708.8" fill="none" stroke="#262626" stroke-width="2"/>
<rect x="1103.4" y="1580.6" width="896.6" height="4" fill="#1a1a1a"/>
<rect x="1924.3" y="1574.6" width="1.6" height="59.8" fill="#262626"/>
<text class="xl" x="1177.6" y="1662.6">0</text>
<text class="xl" x="1327.1" y="1662.6">0.2</text>
<text class="xl" x="1476.6" y="1662.6">0.4</text>
<text class="xl" x="1626.1" y="1662.6">0.6</text>
<text class="xl" x="1775.6" y="1662.6">0.8</text>
<text class="xl" x="1925.1" y="1662.6">1</text>
<text class="yl" x="1089.2" y="1596.2">0</text>
<text class="yl" x="1089.2" y="1505.5">20</text>
<text class="yl" x="1089.2" y="1414.8">40</text>
<text class="yl" x="1089.2" y="1324.1">60</text>
<text class="yl" x="1089.2" y="1233.4">80</text>
<text class="yl" x="1089.2" y="1142.7">100</text>
<text class="yl" x="1089.2" y="1052.0">120</text>
<text class="yl" x="1089.2" y="961.3">140</text>
<path d="M1177.6 925.6v8M1177.6 1634.4v-8M1177.6 1582.6v-8M1327.1 925.6v8M1327.1 1634.4v-8M1327.1 1582.6v-8M1476.6 925.6v8M1476.6 1634.4v-8M1476.6 1582.6v-8M1626.1 925.6v8M1626.1 1634.4v-8M1626.1 1582.6v-8M1775.6 925.6v8M1775.6 1634.4v-8M1775.6 1582.6v-8M1925.1 925.6v8M1925.1 1634.4v-8M1925.1 1582.6v-8M1103.4 1582.6h8M2000.0 1582.6h-8M1103.4 1491.9h8M2000.0 1491.9h-8M1103.4 1401.2h8M2000.0 1401.2h-8M1103.4 1310.5h8M2000.0 1310.5h-8M1103.4 1219.8h8M2000.0 1219.8h-8M1103.4 1129.1h8M2000.0 1129.1h-8M1103.4 1038.4h8M2000.0 1038.4h-8M1103.4 947.7h8M2000.0 947.7h-8M1103.4 1611.3h8M2000.0 1611.3h-8" stroke="#262626" stroke-width="2" fill="none"/>
</svg>
<figcaption style="left:1055.6px;top:1717.5px"><span>(</span>b<span>)</span></figcaption>
</figure>
<figure id="panel-c">
<svg class="heat" style="left:44.5px;top:1801.5px" width="976.0" height="768.5" viewBox="2 2 100 100" preserveAspectRatio="none">
<g filter="url(#hb)" fill="none" stroke-width="1.04" transform="translate(0 0.5)">
<path stroke="#3e26a8" d="M32 19h2M37 19h2M41 19h3M47 19h1M39 26h2M69 31h1M69 32h1M69 33h1M69 34h1"/>
<path stroke="#402ab4" d="M57 3h2M62 3h3M36 19h1M39 19h2M46 19h1M31 20h2M54 25h1M68 25h2M38 26h1M41 26h1M47 26h4M38 27h1M48 27h1M68 27h1M54 29h2M68 31h1M68 32h1M68 33h1M68 34h1"/>
<path stroke="#422ec0" d="M56 3h1M61 3h1M65 3h1M67 7h1M67 13h1M68 18h1M31 19h1M34 19h2M44 19h2M48 19h3M68 19h1M33 20h2M69 20h1M69 21h1M69 22h1M68 24h1M42 26h3M46 26h1M68 26h1M39 27h9M49 27h2M69 27h1M54 30h2M68 30h2M55 31h1M55 32h1M69 35h1"/>
<path stroke="#4332cb" d="M59 3h2M67 9h1M67 14h1M68 16h2M68 17h2M68 20h1M68 21h1M68 22h1M68 23h2M69 24h1M45 26h1M51 26h1M53 26h2M51 27h1M53 27h2M54 28h2M68 28h1M68 29h1M54 31h1M54 32h1M68 35h1M18 93h3M12 94h3"/>
<path stroke="#4537d6" d="M66 3h1M62 4h3M68 4h1M67 8h1M67 10h1M67 12h1M68 15h2M69 18h1M69 19h1M35 20h1M55 25h1M52 26h1M69 26h1M37 27h1M52 27h1M39 28h2M54 35h1M56 58h2M17 93h1M21 93h1M10 94h2M15 94h1M0 98h4"/>
<path stroke="#463be2" d="M55 3h1M67 3h2M56 4h2M61 4h1M65 4h3M81 6h1M80 7h2M44 18h1M46 18h3M51 19h1M36 20h1M38 20h4M55 27h1M69 28h1M69 29h1M55 35h1M56 57h1M58 58h1M56 59h2M16 93h1M9 94h1M16 94h1M0 95h2M4 98h1"/>
<path stroke="#4741ed" d="M55 4h1M59 4h2M50 6h1M79 6h2M79 7h1M67 11h1M68 13h1M68 14h1M67 15h1M37 18h1M45 18h1M37 20h1M42 20h2M53 25h1M37 26h1M55 26h1M67 27h1M41 28h1M54 34h1M54 36h2M54 37h2M55 57h1M57 57h1M58 59h1M15 93h1M8 94h1M2 95h3"/>
<path stroke="#4746f7" d="M59 2h2M58 4h1M68 8h1M68 9h1M68 10h1M68 11h1M68 12h1M36 18h1M38 18h1M43 18h1M49 18h2M67 18h1M30 20h1M44 20h1M67 24h1M40 25h1M44 25h1M49 25h2M67 25h1M67 26h1M38 28h1M44 28h1M47 28h2M67 29h1M54 33h2M55 34h1M67 34h1M56 56h2M55 58h1M5 95h4"/>
<path stroke="#464cff" d="M61 2h3M68 7h1M78 7h1M39 18h4M67 19h1M45 20h3M49 20h2M67 23h1M41 25h1M45 25h1M52 25h1M37 28h1M42 28h2M46 28h1M49 28h2M67 28h1M67 30h1M67 31h1M67 32h1M67 33h1M67 35h1M58 57h1M55 59h1M45 91h2M14 93h1M6 94h2M17 94h1M9 95h2"/>
<path stroke="#4551ff" d="M58 2h1M64 2h1M67 2h2M78 6h1M50 7h1M66 7h1M66 13h1M67 16h1M67 17h1M35 18h1M0 19h3M30 19h1M48 20h1M30 21h1M67 21h1M67 22h1M54 24h1M39 25h1M46 25h3M45 28h1M53 28h1M53 30h1M53 31h1M82 49h2M55 56h1M58 56h1M45 90h1M47 91h1M5 94h1M11 95h1"/>
<path stroke="#4457ff" d="M55 2h2M65 2h2M49 6h1M66 9h1M66 12h1M66 14h1M51 18h1M0 20h3M67 20h1M31 21h1M53 24h1M42 25h2M51 25h1M51 28h1M44 32h1M53 32h1M53 36h1M69 36h1M68 48h1M81 49h1M58 50h1M46 90h2M13 93h1M18 94h1M0 97h5M5 98h1M0 99h4"/>
<path stroke="#415cff" d="M57 2h1M50 5h1M67 6h1M66 8h1M66 10h1M5 13h2M11 16h1M33 18h2M51 20h1M39 24h2M52 24h1M55 24h1M53 29h1M44 31h2M45 32h1M53 35h1M68 36h1M84 49h1M56 50h2M83 50h1M54 57h1M43 84h3M47 84h1M43 85h1M44 89h1M44 91h1M20 92h1M45 92h3M22 93h1M4 94h1M19 94h1M12 95h1M4 99h1"/>
<path stroke="#3e62ff" d="M54 3h1M55 5h1M51 6h1M76 8h1M66 11h1M69 12h1M5 14h2M11 17h1M32 18h1M3 19h1M3 20h1M29 21h1M39 21h2M30 22h1M41 23h3M45 23h3M35 25h1M38 25h1M35 27h2M11 29h4M12 30h3M12 31h2M53 33h1M67 36h1M48 37h1M53 37h1M68 49h1M85 49h1M59 50h1M82 50h1M53 56h2M53 57h1M54 58h1M59 58h1M54 59h1M49 82h2M47 83h1M49 83h2M37 84h1M46 84h1M44 85h2M47 85h1M43 86h1M12 87h2M12 88h3M44 88h1M45 89h4M44 90h1M48 90h1M48 91h1M44 92h1M12 93h1M42 93h2M89 94h2M39 95h3M44 97h2M39 98h5"/>
<path stroke="#3969ff" d="M59 0h3M59 1h3M69 4h1M56 5h2M68 5h2M49 7h1M76 7h1M69 11h1M7 12h1M7 13h1M11 15h1M66 15h1M12 16h1M81 16h1M12 17h1M81 17h1M31 18h1M32 21h1M38 21h1M41 21h1M29 22h1M31 22h1M48 22h1M39 23h2M44 23h1M48 23h1M38 24h1M41 24h1M12 25h2M30 25h1M36 25h1M35 26h2M34 27h1M15 28h2M52 28h1M15 29h1M15 30h1M37 30h1M42 30h2M17 31h1M37 31h1M46 31h1M46 32h1M70 32h1M45 33h1M39 34h2M53 34h1M37 35h4M86 35h1M10 36h2M37 36h4M44 36h2M86 36h1M46 37h2M86 37h1M15 38h2M48 38h3M86 38h1M15 39h2M86 39h1M15 40h2M15 41h2M4 42h1M4 43h1M67 48h1M81 50h1M84 50h1M27 52h1M60 58h1M53 59h1M59 59h2M56 60h3M89 67h2M37 83h1M46 83h1M48 83h1M51 83h1M38 84h1M42 84h1M48 84h3M42 85h1M46 85h1M48 85h3M11 86h3M17 86h1M41 86h2M47 86h1M56 86h2M11 87h1M14 87h1M17 87h1M42 87h3M57 87h1M15 88h2M45 88h4M58 88h1M42 89h2M49 89h2M58 89h1M37 90h2M42 90h2M49 90h2M37 91h4M19 92h1M39 92h5M48 92h1M98 92h1M37 93h1M39 93h3M46 93h3M59 93h2M20 94h1M39 94h6M48 94h1M88 94h1M37 95h1M42 95h2M56 95h2M5 97h1M39 97h3M46 97h1M44 98h2M49 98h3M53 98h1M79 98h1M91 98h2M44 99h2M59 101h2M59 102h2M59 103h2"/>
<path stroke="#326fff" d="M58 0h1M62 0h3M68 0h1M58 1h1M62 1h3M68 1h1M54 2h1M69 2h1M66 6h1M51 7h1M77 7h1M69 8h1M6 12h1M69 13h1M7 14h1M69 14h1M76 14h1M12 15h1M76 15h1M10 16h1M30 18h1M81 18h1M81 19h1M29 20h1M54 20h2M33 21h2M42 21h2M48 21h1M25 22h1M38 22h3M44 22h1M46 22h2M49 22h2M53 22h3M30 23h1M35 23h1M12 24h2M35 24h3M44 24h7M11 25h1M14 25h1M29 25h1M31 25h1M34 25h1M37 25h1M86 25h1M12 26h3M16 26h2M34 26h1M11 27h1M86 27h1M11 28h1M14 28h1M17 28h1M35 28h2M10 29h1M16 29h1M36 29h2M39 29h5M7 30h2M11 30h1M16 30h1M38 30h1M41 30h1M51 30h2M86 30h1M14 31h1M16 31h1M36 31h1M38 31h1M42 31h2M47 31h6M70 31h1M41 32h3M56 32h1M15 33h2M39 33h2M44 33h1M46 33h1M70 33h1M41 34h1M45 34h1M70 34h1M11 35h4M41 35h3M4 36h3M9 36h1M12 36h5M41 36h3M46 36h2M11 37h3M37 37h4M44 37h2M12 38h3M17 38h1M39 38h2M46 38h2M14 39h1M39 39h2M5 40h2M14 40h1M17 40h1M86 40h1M5 41h2M14 41h1M17 41h1M86 41h1M3 42h1M5 43h1M5 44h1M85 46h1M67 49h1M61 50h2M85 50h1M61 58h1M53 60h1M90 61h1M93 61h1M88 62h3M74 63h2M85 63h1M94 63h2M74 64h2M86 64h1M94 64h2M74 65h2M85 65h2M91 66h2M96 66h1M88 67h1M96 76h2M84 77h4M47 82h2M51 82h1M38 83h1M41 83h5M53 83h1M41 84h1M11 85h3M41 85h1M14 86h3M18 86h1M39 86h2M44 86h3M48 86h1M15 87h2M18 87h1M22 87h1M39 87h3M45 87h4M56 87h1M58 87h1M11 88h1M17 88h3M21 88h2M37 88h1M41 88h3M49 88h3M57 88h1M59 88h2M14 89h3M37 89h2M41 89h1M56 89h2M39 90h3M55 90h1M58 90h1M36 91h1M41 91h1M49 91h2M59 91h2M89 91h1M99 91h2M21 92h1M37 92h2M49 92h2M59 92h2M99 92h2M38 93h1M44 93h2M49 93h2M88 93h2M101 93h3M3 94h1M37 94h2M45 94h3M54 94h4M101 94h3M13 95h1M36 95h1M38 95h1M44 95h8M53 95h1M58 95h1M89 95h1M96 95h1M36 96h2M41 96h7M49 96h2M73 96h1M78 96h1M37 97h2M42 97h2M47 97h5M53 97h1M73 97h1M89 97h2M38 98h1M46 98h1M52 98h1M80 98h1M98 98h1M5 99h1M61 101h2M61 102h2M61 103h2"/>
<path stroke="#2976ff" d="M52 0h4M65 0h3M69 0h1M52 1h4M65 1h3M69 1h1M52 2h2M69 3h1M49 5h1M61 5h7M68 6h1M81 8h1M76 9h1M69 10h1M5 12h1M8 12h1M44 12h1M8 13h1M37 13h1M44 13h1M39 14h2M7 15h1M27 15h1M76 16h1M80 16h1M10 17h1M11 18h2M29 18h1M62 18h1M66 18h1M29 19h1M66 19h1M35 21h3M54 21h2M85 21h1M10 22h4M24 22h1M32 22h3M41 22h3M45 22h1M51 22h1M11 23h3M24 23h2M29 23h1M31 23h1M34 23h1M36 23h1M38 23h1M49 23h2M54 23h2M11 24h1M14 24h1M29 24h6M42 24h2M51 24h1M15 25h2M24 25h1M70 25h1M85 25h1M11 26h1M15 26h1M29 26h5M85 26h2M12 27h2M25 27h1M30 27h1M5 28h2M10 28h1M24 28h2M30 28h2M34 28h1M86 28h1M17 29h1M34 29h2M38 29h1M49 29h2M85 29h2M5 30h2M9 30h1M17 30h1M36 30h1M39 30h2M47 30h1M49 30h2M85 30h1M11 31h1M15 31h1M22 31h1M39 31h3M86 31h1M7 32h2M11 32h5M37 32h1M39 32h2M47 32h2M52 32h1M4 33h3M12 33h3M17 33h1M36 33h3M41 33h1M47 33h1M49 33h2M85 33h1M4 34h1M11 34h3M17 34h1M42 34h2M46 34h2M86 34h1M9 35h2M15 35h3M36 35h1M17 36h1M36 36h1M48 36h1M52 36h1M5 37h2M9 37h2M14 37h4M36 37h1M41 37h1M49 37h2M67 37h3M5 38h3M11 38h1M36 38h3M41 38h1M44 38h2M54 38h2M3 39h5M10 39h2M17 39h1M7 40h1M11 40h3M4 41h1M12 41h2M61 41h2M2 42h1M5 42h1M15 42h2M61 42h1M3 43h1M6 43h1M4 44h1M6 44h1M61 44h2M86 44h1M12 45h3M61 45h2M85 45h1M86 46h1M61 47h2M28 52h1M0 54h4M59 56h2M59 57h2M53 58h1M61 59h1M55 60h1M89 61h1M91 61h2M94 61h2M87 62h1M91 62h5M73 63h1M76 63h3M81 63h4M86 63h3M93 63h1M101 63h3M76 64h3M85 64h1M87 64h1M91 64h3M96 64h1M77 65h4M87 65h1M91 65h6M86 66h1M89 66h2M93 66h1M97 66h1M91 67h3M96 67h3M27 69h1M99 73h1M81 74h2M96 74h1M91 75h2M94 75h2M99 75h2M36 82h1M39 82h2M36 83h1M39 83h2M52 83h1M57 83h2M36 84h1M39 84h2M51 84h1M58 84h1M14 85h5M37 85h4M51 85h1M57 85h1M10 86h1M19 86h4M49 86h2M55 86h1M58 86h1M19 87h3M23 87h1M37 87h1M49 87h3M53 87h1M59 87h2M20 88h1M23 88h1M36 88h1M38 88h3M52 88h2M56 88h1M11 89h3M39 89h2M51 89h1M54 89h2M59 89h3M96 89h1M36 90h1M51 90h1M54 90h1M56 90h2M59 90h3M89 90h3M98 90h3M42 91h2M51 91h1M53 91h3M58 91h1M61 91h1M88 91h1M98 91h1M18 92h1M36 92h1M51 92h1M53 92h1M61 92h1M97 92h1M11 93h1M36 93h1M51 93h1M53 93h1M61 93h1M21 94h1M36 94h1M49 94h3M53 94h1M58 94h3M96 94h1M14 95h1M52 95h1M54 95h2M88 95h1M90 95h1M94 95h2M97 95h1M35 96h1M38 96h3M48 96h1M74 96h1M76 96h2M79 96h1M88 96h3M94 96h2M101 96h3M52 97h1M59 97h2M78 97h2M91 97h2M99 97h1M47 98h2M59 98h2M73 98h6M89 98h2M93 98h1M97 98h1M99 98h5M38 99h6M46 99h1M49 99h2M56 100h2M56 101h2M63 101h1M56 102h2M63 102h1M56 103h2M63 103h1"/>
<path stroke="#1f7dff" d="M12 0h2M56 0h2M12 1h2M56 1h2M12 2h2M52 3h2M54 4h1M51 5h1M54 5h1M58 5h3M10 6h1M76 6h1M75 8h1M69 9h1M75 9h1M32 10h2M37 10h1M45 10h1M42 12h2M45 12h1M36 13h1M38 13h6M45 13h1M4 14h1M8 14h1M27 14h1M37 14h2M5 15h2M8 15h1M10 15h1M34 15h1M81 15h1M82 16h1M30 17h1M80 17h1M82 17h1M10 18h1M61 18h1M63 18h1M79 18h2M28 19h1M78 19h3M22 20h2M53 20h1M85 20h2M10 21h4M24 21h2M44 21h1M46 21h2M49 21h2M53 21h1M70 21h1M5 22h1M35 22h2M52 22h1M70 22h1M86 22h1M10 23h1M22 23h2M32 23h2M37 23h1M22 24h2M85 24h1M10 25h1M17 25h1M22 25h2M25 25h1M32 25h2M18 26h1M6 27h1M10 27h1M14 27h4M22 27h3M29 27h1M31 27h1M85 27h1M18 28h1M23 28h1M29 28h1M32 28h2M56 28h1M9 29h1M22 29h2M32 29h2M44 29h1M46 29h3M51 29h1M56 29h1M4 30h1M10 30h1M44 30h1M46 30h1M48 30h1M56 30h1M70 30h1M7 31h3M18 31h1M56 31h1M85 31h1M9 32h2M16 32h1M36 32h1M49 32h3M85 32h2M3 33h1M7 33h2M11 33h1M18 33h1M42 33h2M48 33h1M51 33h1M3 34h1M5 34h6M14 34h3M19 34h2M36 34h3M44 34h1M48 34h3M85 34h1M4 35h3M8 35h1M44 35h4M49 35h4M70 35h1M3 36h1M8 36h1M49 36h3M4 37h1M7 37h2M51 37h1M85 37h1M3 38h2M8 38h1M10 38h1M51 38h1M8 39h2M12 39h2M38 39h1M41 39h1M85 39h1M4 40h1M8 40h3M18 40h3M61 40h2M85 40h1M7 41h1M11 41h1M18 41h1M0 42h2M6 42h1M14 42h1M62 42h1M86 42h1M0 43h3M61 43h1M85 43h2M9 44h1M85 44h1M86 45h1M61 46h2M61 49h2M18 50h3M63 50h1M15 53h1M19 55h2M17 56h2M61 57h1M54 60h1M59 60h2M94 60h2M98 60h6M98 61h6M85 62h2M101 62h3M71 63h2M79 63h2M89 63h4M96 63h2M70 64h1M73 64h1M79 64h2M83 64h2M88 64h1M97 64h7M70 65h1M73 65h1M76 65h1M88 65h3M97 65h7M85 66h1M87 66h2M94 66h2M98 66h1M101 66h3M87 67h1M94 67h2M47 68h1M89 68h1M28 69h1M27 70h2M39 70h2M48 71h3M77 73h1M94 73h2M98 73h1M100 73h1M83 74h3M89 74h2M97 74h4M84 75h2M93 75h1M98 75h1M101 75h3M84 76h2M89 76h2M88 77h1M93 77h3M36 78h2M86 78h1M91 78h2M84 79h2M98 79h3M59 80h2M81 80h3M17 81h1M47 81h2M82 81h1M97 81h7M35 82h1M37 82h2M41 82h1M46 82h1M52 82h2M96 82h3M54 83h1M56 83h1M61 83h1M12 84h3M19 84h2M53 84h1M56 84h2M59 84h3M65 84h1M19 85h3M56 85h1M58 85h1M61 85h1M51 86h1M61 86h1M10 87h1M36 87h1M38 87h1M52 87h1M55 87h1M99 87h5M54 88h2M17 89h6M36 89h1M53 89h1M97 89h2M15 90h2M53 90h1M88 90h1M92 90h1M101 90h3M15 91h2M35 91h1M52 91h1M56 91h2M101 91h3M14 92h4M52 92h1M56 92h3M88 92h2M101 92h3M10 93h1M52 93h1M54 93h5M97 93h4M0 94h3M35 94h1M52 94h1M61 94h1M94 94h2M97 94h1M100 94h1M15 95h1M35 95h1M59 95h3M91 95h3M101 95h3M51 96h1M59 96h2M75 96h1M80 96h1M93 96h1M96 96h2M36 97h1M58 97h1M65 97h2M74 97h1M80 97h1M88 97h1M93 97h1M96 97h3M100 97h1M37 98h1M58 98h1M61 98h1M88 98h1M96 98h1M37 99h1M47 99h2M51 99h1M65 99h2M47 100h4M55 100h1M58 100h4M68 100h1M10 101h1M52 101h2M55 101h1M58 101h1M10 102h1M52 102h2M55 102h1M58 102h1M10 103h1M52 103h2M55 103h1M58 103h1"/>
<path stroke="#1984ff" d="M7 0h2M14 0h1M20 0h2M7 1h2M14 1h1M20 1h2M7 2h2M14 2h1M20 2h2M53 4h1M11 6h1M77 6h1M82 6h1M10 7h2M75 7h1M82 7h1M7 8h2M7 9h2M22 9h2M32 9h2M39 9h2M45 9h1M25 10h1M34 10h3M38 10h3M44 10h1M75 10h1M25 11h3M36 11h2M44 11h2M75 11h1M25 12h3M35 12h3M4 13h1M14 13h1M29 13h2M76 13h1M12 14h1M14 14h2M26 14h1M28 14h1M36 14h1M26 15h1M28 15h6M35 15h1M39 15h2M75 15h1M80 15h1M23 16h1M27 16h1M29 16h2M34 16h2M24 17h3M29 17h1M31 17h1M0 18h3M24 18h4M76 18h3M82 18h1M12 19h3M24 19h4M54 19h2M61 19h5M76 19h2M82 19h1M12 20h2M21 20h1M24 20h2M52 20h1M56 20h1M70 20h1M9 21h1M19 21h3M45 21h1M51 21h2M86 21h1M4 22h1M6 22h1M8 22h2M14 22h1M22 22h2M37 22h1M14 23h1M16 23h2M51 23h1M53 23h1M70 23h1M0 24h7M10 24h1M15 24h2M21 24h1M24 24h2M70 24h1M86 24h1M10 26h1M22 26h4M5 27h1M7 27h3M19 27h3M32 27h2M70 27h1M4 28h1M7 28h3M12 28h2M19 28h1M22 28h1M85 28h1M5 29h2M25 29h1M30 29h2M45 29h1M52 29h1M3 30h1M45 30h1M3 31h4M10 31h1M21 31h1M35 31h1M3 32h4M17 32h1M22 32h1M38 32h1M9 33h2M35 33h1M52 33h1M86 33h1M2 34h1M18 34h1M21 34h1M51 34h1M7 35h1M18 35h1M48 35h1M85 35h1M0 36h3M7 36h1M85 36h1M3 37h1M22 37h1M42 37h2M52 37h1M0 38h3M9 38h1M22 38h1M35 38h1M42 38h2M85 38h1M87 38h1M0 39h3M18 39h3M36 39h2M42 39h4M21 40h1M63 40h1M3 41h1M8 41h3M85 41h1M12 42h2M17 42h1M85 42h1M14 43h1M62 43h1M3 44h1M10 44h1M12 44h3M21 44h1M63 44h1M3 45h2M15 45h1M19 45h3M63 45h1M0 47h4M63 47h1M85 47h1M6 48h3M17 48h1M81 48h4M6 49h3M86 49h1M17 50h1M21 50h1M86 50h1M0 51h5M19 51h2M62 51h1M10 52h1M17 52h2M16 53h1M19 53h2M4 54h1M14 54h3M20 54h3M0 55h5M18 55h1M21 55h2M19 56h1M61 56h1M0 57h4M7 57h2M19 57h2M0 58h4M19 58h2M18 59h3M61 60h1M93 60h1M97 60h1M88 61h1M97 61h1M70 62h1M79 62h2M96 62h5M70 63h1M98 63h3M71 64h2M81 64h2M89 64h2M69 65h1M71 65h2M81 65h4M79 66h2M99 66h2M45 67h3M86 67h1M25 68h2M39 68h2M46 68h1M48 68h1M88 68h1M90 68h1M26 69h1M38 69h3M45 69h1M49 70h2M47 71h1M24 72h3M78 73h1M84 73h10M96 73h1M77 74h1M88 74h1M7 75h2M81 75h3M0 76h4M81 76h3M88 76h1M94 76h2M98 76h1M101 76h3M83 77h1M89 77h4M96 77h5M35 78h1M38 78h1M42 78h2M45 78h2M57 78h1M85 78h1M87 78h1M93 78h1M96 78h5M30 79h1M45 79h3M83 79h1M101 79h3M12 80h3M84 80h2M97 80h7M0 81h4M12 81h2M15 81h2M18 81h1M39 81h2M49 81h3M81 81h1M83 81h1M88 81h3M93 81h4M7 82h1M42 82h2M56 82h5M99 82h2M10 83h2M17 83h4M55 83h1M59 83h2M96 83h1M10 84h2M15 84h1M21 84h1M52 84h1M54 84h2M10 85h1M22 85h1M36 85h1M52 85h4M62 85h1M65 85h1M96 85h1M9 86h1M23 86h1M37 86h2M52 86h3M59 86h2M101 86h3M54 87h1M61 87h1M98 87h1M10 88h1M61 88h1M96 88h1M99 88h5M10 89h1M52 89h1M95 89h1M99 89h5M10 90h2M17 90h2M35 90h1M52 90h1M62 90h1M93 90h1M7 91h5M14 91h1M17 91h2M12 92h2M35 92h1M54 92h2M9 93h1M35 93h1M90 93h1M96 93h1M22 94h1M91 94h3M98 94h2M20 95h1M77 95h1M98 95h3M0 96h2M4 96h2M53 96h1M55 96h4M61 96h1M65 96h2M91 96h2M27 97h1M56 97h2M61 97h1M75 97h3M94 97h2M101 97h3M36 98h1M54 98h1M56 98h2M66 98h1M15 99h1M53 99h1M59 99h2M37 100h4M46 100h1M54 100h1M62 100h3M66 100h2M11 101h1M17 101h2M47 101h1M49 101h2M54 101h1M68 101h1M11 102h1M17 102h2M47 102h1M49 102h2M54 102h1M68 102h1M11 103h1M17 103h2M47 103h1M49 103h2M54 103h1M68 103h1"/>
<path stroke="#168aff" d="M19 0h1M22 0h2M35 0h1M19 1h1M22 1h2M35 1h1M19 2h1M35 2h1M0 3h4M18 3h1M45 3h1M86 3h1M5 4h2M52 4h1M5 5h2M10 5h2M16 5h3M44 5h2M9 6h1M17 6h4M9 7h1M17 7h2M69 7h1M9 8h1M9 9h1M21 9h1M24 9h8M34 9h4M46 9h2M22 10h3M26 10h2M76 10h1M24 11h1M28 11h1M32 11h4M38 11h1M49 11h2M4 12h1M14 12h1M22 12h3M28 12h7M38 12h4M12 13h2M15 13h1M22 13h2M25 13h4M31 13h3M35 13h1M82 13h1M13 14h1M24 14h2M29 14h7M41 14h1M75 14h1M81 14h1M0 15h5M23 15h1M25 15h1M36 15h1M38 15h1M7 16h3M22 16h1M24 16h1M26 16h1M28 16h1M31 16h1M36 16h1M39 16h2M23 17h1M27 17h2M34 17h4M44 17h2M48 17h1M66 17h1M76 17h1M3 18h1M13 18h2M28 18h1M64 18h2M4 19h4M22 19h2M52 19h2M4 20h3M14 20h1M19 20h2M0 21h4M8 21h1M14 21h1M22 21h2M0 22h4M7 22h1M19 22h3M85 22h1M7 23h1M9 23h1M15 23h1M18 23h1M52 23h1M56 23h1M17 24h1M19 24h2M9 25h1M18 25h1M21 25h1M56 25h1M0 26h7M70 26h1M18 27h1M56 27h1M66 27h1M0 28h4M20 28h2M4 29h1M8 29h1M18 29h1M21 29h1M24 29h1M18 30h1M35 30h1M19 31h2M23 31h1M0 32h3M20 32h2M0 33h3M19 33h3M56 33h1M0 34h2M35 34h1M52 34h1M66 34h1M3 35h1M19 35h2M35 35h1M87 35h1M18 36h1M56 36h1M87 36h1M2 37h1M18 37h1M56 37h1M66 37h1M87 37h1M18 38h1M21 38h1M21 39h1M35 39h1M46 39h2M87 39h1M3 40h1M87 40h1M0 41h3M19 41h4M63 41h1M8 42h4M18 42h1M63 42h1M8 43h3M12 43h2M15 43h4M56 43h1M7 44h2M11 44h1M19 44h2M22 44h1M0 45h3M5 45h2M9 45h3M16 45h1M0 46h6M10 46h4M63 46h1M12 47h2M18 47h5M86 47h1M0 48h4M5 48h1M16 48h1M18 48h5M61 48h1M85 48h1M5 49h1M9 49h2M15 49h3M19 49h2M63 49h1M12 50h2M55 50h1M78 50h3M5 51h7M21 51h1M61 51h1M4 52h3M9 52h1M11 52h1M19 52h2M0 53h10M14 53h1M18 53h1M21 53h1M19 54h1M5 55h1M10 55h2M17 55h1M0 56h7M14 56h3M20 56h1M4 57h1M9 57h5M17 57h2M21 57h1M4 58h3M10 58h2M14 58h5M21 58h1M0 59h4M10 59h2M15 59h3M21 59h1M99 59h1M96 60h1M96 61h1M71 62h3M78 62h1M69 64h1M73 66h4M78 66h1M39 67h3M44 67h1M48 67h1M85 67h1M27 68h1M35 68h1M41 68h1M45 68h1M94 68h3M25 69h1M35 69h2M41 69h4M46 69h3M38 70h1M41 70h1M46 70h3M26 71h6M46 71h1M27 72h4M34 72h3M46 72h3M99 72h1M79 73h2M97 73h1M101 73h3M78 74h3M86 74h2M95 74h1M101 74h3M79 75h2M90 75h1M96 75h2M54 76h4M93 76h1M99 76h2M45 77h1M101 77h3M41 78h1M44 78h1M47 78h1M54 78h3M58 78h1M81 78h4M88 78h1M90 78h1M94 78h2M25 79h2M29 79h1M37 79h5M44 79h1M48 79h3M58 79h3M80 79h3M86 79h5M97 79h1M10 80h2M15 80h7M27 80h8M39 80h3M45 80h1M58 80h1M61 80h1M86 80h1M96 80h1M14 81h1M25 81h1M32 81h6M41 81h1M46 81h1M59 81h2M0 82h4M8 82h1M25 82h1M34 82h1M45 82h1M54 82h2M61 82h1M95 82h1M101 82h3M9 83h1M12 83h3M16 83h1M21 83h1M35 83h1M62 83h1M65 83h1M97 83h1M0 84h4M9 84h1M16 84h1M18 84h1M34 84h2M62 84h1M64 84h1M96 84h1M0 85h5M9 85h1M59 85h2M64 85h1M0 86h5M36 86h1M62 86h1M96 86h5M5 87h5M34 87h2M96 87h1M5 88h2M8 88h2M34 88h2M97 88h2M5 89h2M23 89h1M35 89h1M62 89h1M5 90h2M9 90h1M12 90h3M5 91h2M12 91h2M19 91h3M62 91h1M7 92h5M62 92h1M65 92h2M62 93h1M66 93h1M93 93h3M23 94h1M16 95h1M19 95h1M21 95h2M65 95h1M76 95h1M78 95h1M2 96h2M6 96h2M20 96h1M52 96h1M54 96h1M72 96h1M98 96h3M7 97h2M12 97h3M18 97h4M28 97h1M54 97h2M72 97h1M6 98h5M14 98h5M55 98h1M65 98h1M94 98h2M14 99h1M16 99h1M36 99h1M52 99h1M54 99h2M58 99h1M61 99h1M67 99h1M4 100h5M17 100h2M22 100h1M29 100h1M36 100h1M41 100h3M45 100h1M53 100h1M65 100h1M5 101h2M9 101h1M36 101h2M39 101h5M46 101h1M48 101h1M51 101h1M64 101h4M5 102h2M9 102h1M36 102h1M39 102h5M46 102h1M48 102h1M51 102h1M64 102h4M5 103h2M9 103h1M36 103h1M39 103h5M46 103h1M48 103h1M51 103h1M64 103h4"/>
<path stroke="#1490ff" d="M5 0h2M15 0h1M24 0h3M36 0h1M39 0h2M47 0h1M81 0h2M5 1h2M15 1h1M24 1h3M36 1h1M39 1h2M47 1h1M81 1h2M5 2h2M15 2h1M22 2h5M36 2h1M39 2h1M47 2h1M81 2h2M12 3h3M17 3h1M19 3h2M44 3h1M46 3h2M87 3h1M94 3h2M4 4h1M12 4h2M47 4h1M9 5h1M15 5h1M42 5h2M21 6h1M48 6h1M75 6h1M0 7h4M8 7h1M16 7h1M19 7h2M6 8h1M10 8h2M15 8h2M46 8h2M82 8h1M5 9h2M10 9h2M15 9h1M38 9h1M8 10h7M21 10h1M28 10h1M31 10h1M41 10h3M46 10h1M49 10h2M82 10h1M7 11h8M22 11h2M31 11h1M42 11h2M82 11h1M9 12h3M15 12h3M21 12h1M75 12h1M82 12h1M9 13h1M11 13h1M16 13h1M24 13h1M34 13h1M75 13h1M0 14h4M11 14h1M16 14h1M22 14h2M9 15h1M13 15h4M22 15h1M24 15h1M37 15h1M47 15h2M77 15h1M82 15h1M3 16h1M13 16h1M25 16h1M32 16h2M37 16h2M66 16h1M75 16h1M9 17h1M13 17h1M21 17h2M32 17h2M38 17h4M46 17h2M9 18h1M15 18h1M20 18h2M23 18h1M75 18h1M8 19h1M11 19h1M15 19h1M21 19h1M60 19h1M75 19h1M10 20h2M15 20h1M4 21h1M6 21h2M17 21h2M15 22h4M56 22h1M0 23h7M8 23h1M21 23h1M85 23h1M7 24h3M18 24h1M56 24h1M66 24h1M4 25h3M19 25h2M59 25h1M66 25h1M7 26h3M19 26h1M21 26h1M56 26h1M66 26h1M0 27h5M84 27h1M70 28h1M0 29h4M7 29h1M19 29h2M29 29h1M66 29h1M70 29h1M0 30h3M19 30h2M25 30h1M34 30h1M66 30h1M0 31h3M66 31h1M19 32h1M35 32h1M57 32h1M66 32h1M22 33h1M66 33h1M22 34h1M56 34h1M0 35h3M21 35h1M56 35h1M66 35h1M19 36h4M35 36h1M66 36h1M0 37h2M19 37h3M35 37h1M19 38h2M53 38h1M22 39h1M48 39h2M0 40h3M22 40h1M7 42h1M22 42h1M56 42h2M7 43h1M11 43h1M19 43h4M55 43h1M57 43h1M63 43h1M0 44h3M15 44h1M18 44h1M55 44h2M18 45h1M6 46h4M14 46h1M18 46h4M4 47h1M7 47h5M14 47h1M17 47h1M71 47h5M4 48h1M9 48h1M12 48h2M15 48h1M62 48h1M0 49h5M11 49h1M18 49h1M21 49h1M0 50h6M10 50h2M14 50h3M74 50h2M77 50h1M12 51h7M63 51h1M0 52h4M16 52h1M21 52h1M10 53h2M17 53h1M7 54h7M18 54h1M6 55h1M9 55h1M12 55h3M16 55h1M62 55h1M79 55h2M12 56h2M21 56h1M52 56h1M5 57h2M14 57h3M9 58h1M12 58h2M22 58h1M4 59h3M9 59h1M12 59h3M22 59h1M98 59h1M100 59h1M92 60h1M74 62h1M77 62h1M81 62h1M83 62h2M69 63h1M52 65h4M65 65h3M70 66h3M77 66h1M84 66h1M25 67h3M29 67h2M42 67h2M28 68h1M31 68h4M36 68h3M44 68h1M49 68h2M86 68h2M93 68h1M97 68h3M101 68h3M24 69h1M32 69h3M37 69h1M49 69h2M54 69h2M26 70h1M29 70h2M37 70h1M42 70h4M51 70h1M24 71h2M32 71h2M35 71h9M23 72h1M31 72h3M37 72h2M44 72h2M49 72h2M93 72h3M98 72h1M100 72h1M24 73h1M83 73h1M24 74h1M91 74h4M0 75h7M12 75h3M78 75h1M86 75h4M86 76h2M91 76h2M46 77h2M54 77h2M30 78h1M34 78h1M39 78h2M48 78h1M51 78h1M80 78h1M89 78h1M101 78h3M24 79h1M27 79h2M31 79h1M42 79h2M51 79h1M93 79h4M4 80h6M22 80h2M35 80h2M38 80h1M42 80h3M46 80h2M51 80h1M62 80h2M87 80h4M93 80h3M4 81h1M7 81h1M11 81h1M19 81h1M21 81h3M26 81h1M29 81h3M38 81h1M42 81h2M45 81h1M52 81h2M65 81h1M91 81h2M4 82h1M6 82h1M9 82h5M15 82h4M22 82h2M26 82h2M44 82h1M0 83h8M15 83h1M34 83h1M95 83h1M4 84h5M17 84h1M33 84h1M63 84h1M5 85h4M23 85h1M33 85h1M63 85h1M5 86h4M4 87h1M24 87h2M95 87h1M97 87h1M7 88h1M24 88h3M4 89h1M9 89h1M34 89h1M91 89h2M4 90h1M8 90h1M19 90h4M63 90h1M94 90h1M4 91h1M34 91h1M65 91h1M5 92h2M34 92h1M5 93h4M23 93h1M65 93h1M62 94h1M66 94h1M18 95h1M23 95h1M25 95h2M28 95h1M62 95h1M66 95h1M73 95h2M79 95h1M8 96h1M10 96h1M19 96h1M21 96h3M25 96h4M6 97h1M15 97h3M22 97h2M26 97h1M35 97h1M64 97h1M11 98h1M35 98h1M62 98h1M6 99h5M17 99h3M21 99h3M56 99h2M64 99h1M0 100h4M9 100h1M19 100h1M21 100h1M23 100h1M44 100h1M51 100h2M0 101h5M7 101h2M12 101h2M16 101h1M28 101h1M35 101h1M38 101h1M45 101h1M0 102h5M7 102h2M12 102h2M16 102h1M28 102h1M35 102h1M37 102h2M45 102h1M0 103h5M7 103h2M12 103h2M16 103h1M28 103h1M35 103h1M37 103h2M45 103h1"/>
<path stroke="#1196ff" d="M0 0h5M9 0h1M16 0h1M18 0h1M27 0h2M37 0h1M46 0h1M51 0h1M0 1h5M9 1h1M16 1h1M18 1h1M27 1h2M37 1h1M46 1h1M51 1h1M0 2h5M9 2h1M16 2h1M18 2h1M28 2h1M37 2h1M40 2h1M46 2h1M51 2h1M10 3h2M15 3h2M21 3h1M28 3h2M37 3h1M0 4h4M14 4h8M46 4h1M48 4h1M4 5h1M12 5h3M19 5h3M52 5h2M70 5h1M79 5h2M15 6h2M46 6h2M4 7h1M7 7h1M12 7h2M15 7h1M21 7h1M0 8h6M12 8h3M17 8h2M48 8h4M0 9h4M12 9h3M16 9h1M41 9h1M48 9h1M0 10h8M15 10h1M29 10h2M48 10h1M51 10h1M0 11h7M15 11h1M17 11h1M21 11h1M29 11h2M39 11h3M46 11h1M48 11h1M51 11h1M12 12h2M18 12h1M46 12h1M49 12h2M10 13h1M17 13h1M21 13h1M46 13h1M49 13h3M9 14h2M44 14h7M82 14h1M17 15h1M20 15h2M41 15h1M0 16h3M4 16h3M14 16h4M21 16h1M41 16h1M47 16h2M6 17h3M14 17h4M19 17h2M42 17h1M49 17h3M75 17h1M5 18h4M16 18h4M22 18h1M9 19h2M19 19h2M85 19h1M7 20h3M16 20h3M26 20h1M66 20h1M5 21h1M15 21h2M56 21h1M19 23h2M57 23h2M66 23h1M86 23h1M0 25h4M7 25h2M20 26h1M59 26h1M59 27h1M79 27h2M21 30h4M18 32h1M58 32h1M87 34h1M22 35h1M70 36h1M59 37h1M34 38h1M52 38h1M50 39h1M62 39h2M87 41h1M19 42h3M16 44h2M57 44h1M70 44h1M7 45h2M22 45h1M70 45h1M15 46h3M22 46h1M74 46h3M6 47h1M15 47h2M70 47h1M10 48h2M14 48h1M63 48h1M69 48h2M78 48h3M88 48h1M12 49h3M78 49h1M80 49h1M87 49h2M6 50h4M22 50h1M60 50h1M70 50h1M73 50h1M76 50h1M87 50h2M22 51h1M81 51h3M7 52h2M14 52h2M22 52h1M23 54h1M15 55h1M23 55h1M55 55h3M61 55h1M63 55h1M89 55h2M7 56h5M93 56h1M62 57h2M98 57h6M7 58h2M8 59h1M95 59h1M97 59h1M101 59h3M52 60h1M90 60h2M47 61h1M87 61h1M47 62h1M69 62h1M75 62h2M82 62h1M53 64h2M65 64h1M56 65h1M64 65h1M68 65h1M44 66h5M52 66h6M69 66h1M31 67h1M35 67h4M49 67h5M61 67h4M24 68h1M29 68h2M42 68h2M51 68h1M61 68h4M85 68h1M100 68h1M29 69h3M51 69h1M24 70h2M31 70h6M34 71h1M22 72h1M39 72h5M79 72h2M84 72h2M96 72h2M23 73h1M27 73h2M32 73h1M34 73h4M81 73h2M9 75h1M15 75h2M4 76h1M58 76h1M64 76h1M80 76h1M40 77h1M44 77h1M48 77h4M81 77h2M28 78h2M31 78h1M49 78h2M52 78h2M59 78h2M64 78h1M18 79h1M20 79h2M23 79h1M32 79h5M56 79h2M64 79h1M79 79h1M91 79h2M24 80h3M37 80h1M48 80h3M52 80h1M57 80h1M64 80h1M80 80h1M91 80h2M5 81h2M8 81h3M20 81h1M24 81h1M27 81h2M44 81h1M58 81h1M64 81h1M84 81h1M87 81h1M5 82h1M14 82h1M19 82h3M24 82h1M62 82h1M8 83h1M22 83h2M33 83h1M63 83h2M98 83h3M22 84h1M34 85h2M24 86h1M33 86h3M63 86h3M95 86h1M0 87h4M26 87h1M33 87h1M62 87h1M0 88h5M27 88h1M62 88h1M95 88h1M7 89h2M24 89h4M63 89h1M88 89h3M93 89h2M7 90h1M23 90h1M25 90h2M28 90h1M34 90h1M65 90h1M0 91h4M22 91h2M63 91h2M66 91h1M4 92h1M22 92h2M63 92h2M96 92h1M4 93h1M34 93h1M63 93h1M92 93h1M24 94h3M28 94h1M34 94h1M65 94h1M17 95h1M24 95h1M27 95h1M75 95h1M80 95h1M9 96h1M11 96h4M24 96h1M62 96h1M64 96h1M9 97h1M11 97h1M25 97h1M62 97h1M12 98h2M19 98h8M28 98h1M64 98h1M72 98h1M11 99h1M20 99h1M24 99h3M28 99h1M62 99h1M74 99h2M79 99h1M10 100h4M15 100h2M20 100h1M28 100h1M35 100h1M15 101h1M19 101h1M22 101h1M24 101h1M29 101h1M44 101h1M15 102h1M19 102h1M22 102h1M24 102h1M29 102h1M44 102h1M15 103h1M19 103h1M22 103h1M24 103h1M29 103h1M44 103h1"/>
<path stroke="#0b9cff" d="M11 0h1M17 0h1M34 0h1M38 0h1M41 0h1M45 0h1M48 0h1M83 0h1M94 0h2M11 1h1M17 1h1M34 1h1M38 1h1M41 1h1M45 1h1M48 1h1M83 1h1M94 1h2M11 2h1M17 2h1M27 2h1M34 2h1M38 2h1M41 2h1M45 2h1M48 2h1M83 2h1M94 2h2M4 3h1M6 3h2M9 3h1M24 3h4M30 3h1M36 3h1M38 3h1M48 3h1M51 3h1M81 3h2M88 3h1M93 3h1M7 4h5M41 4h1M44 4h2M49 4h3M70 4h1M0 5h4M7 5h2M41 5h1M46 5h1M78 5h1M5 6h2M8 6h1M12 6h3M42 6h4M69 6h1M5 7h2M14 7h1M45 7h2M48 7h1M19 8h3M45 8h1M4 9h1M17 9h4M44 9h1M51 9h1M82 9h1M16 10h1M16 11h1M18 11h1M0 12h4M48 12h1M51 12h1M76 12h1M3 13h1M18 13h1M17 14h1M20 14h2M42 14h2M51 14h1M18 15h2M49 15h2M18 16h3M0 17h6M18 17h1M43 17h1M4 18h1M60 18h1M16 19h3M70 19h1M86 19h1M28 20h1M57 20h1M66 21h1M57 22h2M66 22h1M57 24h3M57 25h2M87 25h1M57 27h1M83 27h1M87 27h1M57 28h3M66 28h1M59 30h1M87 30h1M59 32h1M58 33h1M59 36h1M58 37h1M56 38h1M61 39h1M55 42h1M17 45h1M71 45h1M73 45h3M73 46h1M5 47h1M76 47h1M86 48h2M22 49h1M69 49h6M79 49h1M71 50h2M79 51h2M12 52h2M12 53h2M22 53h1M5 54h2M17 54h1M7 55h2M53 55h1M69 55h2M78 55h1M85 55h4M96 55h2M22 56h1M62 56h2M76 56h1M90 56h1M94 56h1M97 56h1M22 57h1M52 57h1M64 57h1M69 57h2M81 57h1M86 57h2M97 57h1M23 58h1M7 59h1M23 59h1M93 59h2M96 59h1M10 60h1M45 60h1M46 61h1M48 61h1M52 61h2M46 62h1M48 62h1M44 63h1M52 64h1M55 64h1M61 64h4M57 65h1M59 65h5M40 66h4M51 66h1M58 66h1M61 66h8M24 67h1M28 67h1M65 67h1M52 68h9M65 68h3M91 68h2M56 69h1M23 71h1M44 71h2M51 71h1M77 72h2M83 72h1M89 72h2M92 72h1M15 73h3M22 73h1M25 73h2M29 73h3M33 73h1M44 73h2M22 74h2M25 74h2M10 75h2M17 75h2M77 75h1M5 76h1M79 76h1M39 77h1M41 77h3M52 77h2M64 77h1M27 78h1M17 79h1M19 79h1M22 79h1M54 79h2M61 79h1M2 80h2M53 80h1M56 80h1M65 80h1M76 80h2M56 81h2M61 81h1M85 81h2M33 82h1M63 82h1M65 82h1M81 82h2M88 82h2M93 82h2M24 83h4M101 83h3M23 84h1M27 84h1M24 85h1M95 85h1M97 85h1M25 86h2M27 87h1M63 88h3M0 89h4M28 89h1M64 89h2M0 90h4M24 90h1M27 90h1M64 90h1M66 90h1M24 91h5M80 91h1M90 91h1M0 92h4M27 92h2M0 93h4M25 93h1M64 93h1M27 94h1M34 95h1M63 95h2M15 96h2M18 96h1M10 97h1M24 97h1M63 97h1M63 98h1M67 98h1M12 99h2M27 99h1M35 99h1M63 99h1M80 99h1M97 99h1M14 100h1M24 100h1M14 101h1M20 101h2M23 101h1M27 101h1M14 102h1M20 102h2M23 102h1M27 102h1M14 103h1M20 103h2M23 103h1M27 103h1"/>
<path stroke="#08a1ff" d="M10 0h1M29 0h5M42 0h2M49 0h2M70 0h4M84 0h4M93 0h1M96 0h2M10 1h1M29 1h5M42 1h2M49 1h2M70 1h4M84 1h4M93 1h1M96 1h2M10 2h1M29 2h5M42 2h2M49 2h2M70 2h4M84 2h4M93 2h1M96 2h2M5 3h1M8 3h1M22 3h2M31 3h1M35 3h1M39 3h5M49 3h2M89 3h2M96 3h2M22 4h1M27 4h2M39 4h2M42 4h2M22 5h1M4 6h1M7 6h1M54 6h4M59 6h1M62 6h1M65 6h1M44 7h1M47 7h1M22 8h1M34 8h2M39 8h3M52 8h2M70 8h1M49 9h2M52 9h3M17 10h4M47 10h1M52 10h2M19 11h2M47 11h1M19 12h2M0 13h3M19 13h2M48 13h1M52 13h2M18 14h2M46 15h1M46 16h1M49 16h3M54 18h1M87 19h1M27 20h1M58 20h1M87 20h1M57 21h3M59 22h1M59 23h1M57 26h2M87 26h1M58 27h1M57 29h1M59 29h1M87 29h1M57 30h1M34 31h1M57 31h1M59 31h1M87 31h1M34 33h1M57 33h1M59 33h1M34 34h1M59 34h1M34 35h1M58 35h2M34 36h1M58 36h1M34 37h1M57 37h1M70 37h1M34 39h1M51 39h1M87 44h1M72 45h1M76 45h1M70 46h3M84 47h1M87 47h1M71 48h7M89 48h1M75 49h1M77 49h1M58 51h1M71 51h3M78 51h1M84 51h1M88 51h1M54 55h1M64 55h3M68 55h1M76 55h2M84 55h1M94 55h2M98 55h3M69 56h2M75 56h1M77 56h1M85 56h1M91 56h2M95 56h2M98 56h6M82 57h2M85 57h1M88 57h1M90 57h4M96 57h1M49 58h2M62 58h1M81 58h2M97 58h7M45 59h1M52 59h1M91 59h2M5 60h2M11 60h3M44 60h1M46 60h2M51 60h1M62 60h1M89 60h1M49 61h3M70 61h1M52 62h3M41 63h3M45 63h3M54 63h1M42 64h4M59 64h2M66 64h2M42 65h7M51 65h1M58 65h1M49 66h2M59 66h2M32 67h3M54 67h7M66 67h1M80 67h1M84 67h1M68 68h1M52 69h2M57 69h4M64 69h1M0 70h4M7 70h3M23 70h1M22 71h1M12 72h6M51 72h1M81 72h2M86 72h3M91 72h1M101 72h3M18 73h1M21 73h1M38 73h2M41 73h2M17 74h1M27 74h2M6 76h2M59 76h3M63 76h1M56 77h1M59 77h5M71 77h2M26 78h1M32 78h2M61 78h1M63 78h1M79 78h1M52 79h2M62 79h2M0 80h2M54 80h2M78 80h2M54 81h2M62 81h2M80 81h1M64 82h1M83 82h1M90 82h3M24 84h3M95 84h1M25 85h3M101 85h3M27 86h1M63 87h3M33 88h1M80 90h1M26 92h1M80 92h1M24 93h1M26 93h3M80 93h1M63 94h1M87 94h1M72 95h1M87 95h1M17 96h1M34 96h1M63 96h1M27 98h1M29 98h1M81 98h1M78 99h1M96 99h1M98 99h1M27 100h1M25 101h2M25 102h2M25 103h2"/>
<path stroke="#04a7ff" d="M44 0h1M74 0h1M76 0h2M88 0h1M91 0h2M98 0h1M44 1h1M74 1h1M76 1h2M88 1h1M91 1h2M98 1h1M44 2h1M74 2h1M76 2h2M88 2h1M91 2h2M98 2h1M71 3h3M76 3h3M83 3h1M91 3h2M98 3h1M71 4h1M75 4h1M77 4h6M27 5h2M81 5h1M22 6h1M41 6h1M52 6h2M58 6h1M60 6h2M63 6h2M22 7h1M41 7h3M53 7h1M27 8h3M31 8h3M36 8h3M54 8h1M52 11h2M76 11h1M47 12h1M53 12h1M47 13h1M51 15h1M54 15h1M70 15h1M78 15h2M54 16h1M70 16h1M52 17h3M70 17h1M52 18h2M70 18h1M59 20h1M87 22h1M87 24h1M60 25h1M60 26h1M60 27h1M81 27h2M87 28h1M58 29h1M58 30h1M58 31h1M34 32h1M60 32h1M87 32h1M58 34h1M57 36h1M60 37h1M59 38h1M67 38h1M69 38h1M64 39h1M23 41h1M87 42h1M87 43h1M71 44h1M75 44h1M87 45h1M87 46h1M69 47h1M76 49h1M89 49h1M64 50h2M69 50h1M89 50h1M56 51h2M74 51h2M77 51h1M85 51h3M23 52h1M23 53h1M62 54h4M79 54h2M52 55h1M58 55h3M67 55h1M71 55h2M75 55h1M93 55h1M101 55h3M23 56h1M64 56h1M68 56h1M71 56h4M78 56h3M65 57h1M68 57h1M71 57h1M84 57h1M89 57h1M94 57h1M48 58h1M63 58h1M71 58h2M79 58h2M83 58h1M86 58h1M90 58h4M96 58h1M44 59h1M46 59h6M62 59h1M71 59h2M79 59h5M4 60h1M9 60h1M14 60h1M20 60h1M48 60h3M63 60h1M81 60h1M44 61h2M54 61h1M41 62h5M51 62h1M48 63h1M52 63h2M41 64h1M46 64h1M49 64h3M56 64h1M58 64h1M68 64h1M41 65h1M49 65h2M39 66h1M81 66h1M67 67h2M79 67h1M71 68h2M80 68h1M84 68h1M10 69h1M65 69h1M4 70h3M10 70h2M17 70h6M54 70h2M0 71h4M8 71h1M16 71h3M8 72h1M18 72h1M21 72h1M0 73h5M7 73h3M14 73h1M19 73h2M40 73h1M43 73h1M76 73h1M0 74h5M7 74h2M12 74h2M18 74h1M21 74h1M8 76h3M62 76h1M70 76h2M78 76h1M37 77h2M57 77h2M73 77h1M75 77h1M80 77h1M25 78h1M62 78h1M16 79h1M75 79h1M78 79h1M71 81h1M76 81h3M28 82h1M87 82h1M71 83h2M78 83h2M76 84h3M98 85h3M74 86h2M79 86h1M28 88h1M66 89h1M79 90h1M95 90h1M79 91h1M24 92h2M72 93h2M87 93h1M64 94h1M80 94h1M29 97h1M67 97h1M29 99h1M73 99h1M76 99h2M89 99h5M99 99h5M25 100h2"/>
<path stroke="#00acfc" d="M75 0h1M89 0h2M99 0h1M75 1h1M89 1h2M99 1h1M75 2h1M89 2h2M99 2h1M32 3h3M70 3h1M79 3h2M84 3h2M99 3h1M23 4h1M26 4h1M32 4h3M72 4h3M76 4h1M47 5h2M75 5h3M34 7h1M52 7h1M54 7h1M23 8h4M30 8h1M42 9h2M70 9h1M81 9h1M54 10h1M52 12h1M54 12h1M54 13h1M52 14h3M89 15h4M52 16h2M55 18h1M84 19h1M87 21h1M78 27h1M26 28h1M60 28h1M84 28h1M89 29h2M26 30h1M60 30h1M89 30h1M60 31h1M89 32h2M87 33h1M91 33h1M57 34h1M57 35h1M60 35h1M60 36h1M58 38h1M60 38h1M66 38h1M68 38h1M23 42h1M60 42h1M60 43h1M60 44h1M69 44h1M72 44h3M76 44h1M68 45h2M60 47h1M77 47h1M60 49h1M29 50h2M59 51h2M76 51h1M89 51h1M85 54h3M96 54h2M73 55h2M81 55h3M91 55h2M65 56h3M89 56h1M23 57h1M72 57h1M79 57h2M95 57h1M40 58h2M47 58h1M51 58h2M69 58h2M94 58h2M40 59h4M63 59h1M84 59h1M90 59h1M0 60h4M15 60h5M21 60h1M41 60h3M64 60h7M80 60h1M82 60h1M41 61h3M57 61h1M59 61h2M69 61h1M71 61h2M79 61h2M49 62h2M49 63h3M47 64h2M57 64h1M40 65h1M69 67h1M71 67h6M69 68h1M73 68h3M81 68h1M83 68h1M7 69h3M11 69h1M61 69h3M12 70h5M52 70h2M4 71h1M7 71h1M14 71h2M21 71h1M7 72h1M9 72h3M19 72h1M5 73h2M10 73h4M46 73h1M5 74h2M16 74h1M19 74h2M76 74h1M19 75h1M11 76h1M52 76h2M72 76h2M77 76h1M36 77h1M74 77h1M76 77h3M24 78h1M71 78h2M78 78h1M14 79h2M65 79h1M71 79h4M71 80h1M74 80h2M73 81h1M79 81h1M29 82h2M32 82h1M71 82h1M76 82h2M86 82h1M73 83h2M76 83h2M71 84h1M79 84h1M71 85h1M73 85h7M28 86h1M73 86h1M78 86h1M28 87h1M74 87h2M79 87h1M74 88h3M78 88h2M33 89h1M74 89h2M78 89h3M73 90h2M78 90h1M72 91h3M78 91h1M72 92h2M76 92h4M74 93h1M76 93h4M91 93h1M72 94h4M81 95h1M29 96h1M81 97h1M94 99h2"/>
<path stroke="#00b1f8" d="M78 0h1M78 1h1M78 2h1M74 3h2M25 4h1M29 4h3M35 4h1M23 5h1M26 5h1M37 5h4M71 5h1M82 5h1M0 6h4M24 6h1M26 6h3M34 6h1M24 7h4M32 7h2M39 7h2M55 7h1M70 10h1M54 11h1M70 11h1M70 12h1M81 13h1M88 14h5M52 15h2M88 15h1M85 17h2M84 20h1M26 21h1M26 22h1M26 23h1M26 25h1M88 25h3M84 26h1M89 26h4M26 27h1M60 29h1M88 29h1M88 30h1M90 30h1M24 31h1M88 31h4M88 32h1M91 32h2M60 33h1M84 33h1M92 33h1M60 34h1M88 36h4M88 37h4M23 38h1M57 38h1M64 38h1M88 38h4M65 39h1M88 39h3M23 40h1M60 40h1M89 40h3M60 41h1M91 41h1M91 43h1M89 44h2M60 45h1M66 45h2M24 46h1M77 46h1M24 47h1M29 47h2M64 47h1M67 47h2M60 48h1M66 50h3M55 51h1M70 51h1M26 52h1M56 54h2M61 54h1M66 54h2M69 54h2M75 54h1M84 54h1M88 54h3M94 54h2M101 54h3M66 57h2M73 57h3M42 58h2M46 58h1M64 58h1M84 58h2M87 58h1M64 59h1M66 59h5M7 60h2M22 60h1M40 60h1M71 60h2M55 61h2M58 61h1M73 61h1M40 63h1M40 64h1M83 66h1M70 67h1M99 67h1M70 68h1M82 68h1M0 69h4M5 69h2M12 69h2M19 69h3M23 69h1M66 69h1M95 69h2M56 70h1M5 71h2M9 71h1M12 71h2M19 71h2M77 71h1M0 72h7M20 72h1M9 74h1M11 74h1M14 74h2M52 75h2M49 76h3M74 76h3M35 77h1M79 77h1M20 78h1M73 78h1M76 78h2M13 79h1M76 79h2M72 80h2M72 81h1M74 81h2M31 82h1M73 82h3M78 82h1M84 82h1M30 83h1M32 83h1M75 83h1M80 83h1M28 84h1M32 84h1M72 84h4M28 85h1M72 85h1M71 86h2M76 86h2M71 87h3M76 87h3M77 88h1M73 89h1M76 89h2M33 90h1M72 90h1M75 90h1M33 91h1M75 91h3M74 92h2M81 92h1M87 92h1M90 92h1M75 93h1M77 94h3M81 94h1M87 96h1M30 100h1"/>
<path stroke="#00b6f2" d="M79 0h2M79 1h2M79 2h2M24 4h1M36 4h3M83 4h3M89 4h4M24 5h2M29 5h6M36 5h1M23 6h1M25 6h1M32 6h2M36 6h3M70 6h1M23 7h1M28 7h1M35 7h2M70 7h1M70 13h1M86 13h2M70 14h1M85 14h3M85 15h3M55 16h1M85 16h8M55 17h1M87 17h1M91 17h2M85 18h3M91 18h2M56 19h1M60 20h1M28 21h1M84 21h1M87 23h1M26 24h1M28 24h1M60 24h1M28 25h1M84 25h1M91 25h1M78 26h1M88 26h1M28 28h1M78 28h1M26 29h1M33 30h1M84 30h1M91 30h1M92 31h1M89 33h2M84 34h1M91 34h2M88 35h3M92 36h1M23 37h1M92 37h1M65 38h1M70 38h1M92 38h1M23 39h1M91 39h2M88 40h1M92 40h1M88 41h3M92 41h1M89 42h3M23 43h1M89 43h2M92 43h1M68 44h1M88 44h1M91 44h1M25 45h1M40 45h2M64 45h1M25 46h1M29 46h2M60 46h1M64 46h1M66 46h4M84 46h1M23 47h1M28 47h1M65 47h1M78 47h3M23 48h1M66 48h1M28 49h1M56 49h2M64 49h3M27 50h2M64 51h1M56 52h2M79 52h2M75 53h1M55 54h1M68 54h1M71 54h4M78 54h1M81 54h3M93 54h1M98 54h1M78 57h1M44 58h2M65 59h1M23 60h1M79 60h1M5 61h2M40 61h1M7 62h1M40 62h1M7 63h1M11 65h1M25 66h6M35 66h4M4 69h1M14 69h1M18 69h1M22 69h1M67 69h2M74 69h1M88 69h3M94 69h1M97 69h1M57 70h2M10 71h2M76 71h1M78 71h3M75 72h2M47 73h1M10 74h1M32 74h1M35 74h1M55 74h1M20 75h1M56 75h2M64 75h2M72 75h1M76 75h1M33 77h1M19 78h1M21 78h1M23 78h1M65 78h1M74 78h2M10 79h3M72 82h1M79 82h2M85 82h1M28 83h2M29 84h2M80 84h1M32 85h1M80 85h1M29 86h2M80 86h1M80 87h1M66 88h1M72 88h2M80 88h1M29 89h2M72 89h1M29 90h1M71 90h1M76 90h2M71 91h1M71 92h1M95 92h1M29 93h1M71 93h1M81 93h1M29 94h1M76 94h1M29 95h1M32 95h2M67 96h1M34 97h1M88 99h1"/>
<path stroke="#00bbea" d="M93 4h1M35 5h1M29 6h1M31 6h1M35 6h1M39 6h2M31 7h1M37 7h2M72 7h1M74 8h1M74 9h1M81 10h1M81 11h1M81 12h1M85 13h1M88 13h5M45 15h1M55 15h1M42 16h1M45 16h1M79 17h1M88 17h3M88 18h3M28 22h1M28 23h1M60 23h1M84 24h1M92 25h1M26 26h1M28 26h1M79 26h1M28 27h1M71 27h1M88 27h5M27 28h1M79 28h1M88 28h4M75 29h1M77 29h2M84 29h1M91 29h2M92 30h1M84 31h1M84 32h1M88 33h1M88 34h3M91 35h2M84 37h1M61 38h3M84 38h1M60 39h1M66 39h1M84 39h1M39 40h1M64 40h1M84 40h1M88 42h1M92 42h1M70 43h1M88 43h1M64 44h1M92 44h1M23 45h2M26 45h2M39 45h1M42 45h1M55 45h1M65 45h1M84 45h1M23 46h1M26 46h1M28 46h1M65 46h1M25 47h3M66 47h1M81 47h3M24 48h1M28 48h3M64 48h2M29 49h2M58 49h1M23 50h1M23 51h1M25 51h1M28 51h3M65 51h3M74 52h2M78 52h1M71 53h4M78 53h3M84 53h2M58 54h3M91 54h2M100 54h1M49 57h3M76 57h1M73 59h1M85 59h1M73 60h1M7 61h1M12 61h2M25 61h2M86 61h1M5 62h2M8 62h1M20 62h1M0 63h4M5 63h2M8 63h1M55 63h1M12 65h1M39 65h1M24 66h1M31 66h1M34 66h1M82 66h1M81 67h1M10 68h1M23 68h1M15 69h3M69 69h2M73 69h1M75 69h1M80 69h3M86 69h2M98 69h1M64 71h1M75 71h1M93 71h2M98 71h6M29 74h1M31 74h1M34 74h1M36 74h1M54 74h1M21 75h1M54 75h2M63 75h1M66 75h3M70 75h2M73 75h1M12 76h3M25 76h4M40 76h1M65 76h1M31 77h2M34 77h1M15 78h2M18 78h1M22 78h1M31 83h1M94 83h1M31 84h1M81 85h2M31 86h2M29 87h4M66 87h1M94 87h1M71 88h1M31 89h1M71 89h1M30 90h2M96 90h2M29 91h1M32 91h1M81 91h1M87 91h1M29 92h1M33 92h1M30 93h1M33 94h1M71 94h1M32 96h2M81 96h1M32 97h1M31 100h1M30 101h1M34 101h1M30 102h1M34 102h1M30 103h1M34 103h1"/>
<path stroke="#00bfe3" d="M88 4h1M96 4h3M30 6h1M71 6h1M56 7h4M71 7h1M73 7h2M42 15h1M43 16h2M77 17h1M27 21h1M60 22h1M71 22h1M84 22h1M71 23h1M89 24h1M75 26h3M71 28h1M81 28h3M92 28h1M76 29h1M27 30h1M78 30h1M71 33h1M71 34h1M71 35h1M84 35h1M71 36h1M84 36h1M71 37h1M67 39h3M35 40h2M38 40h1M40 40h1M65 40h1M64 41h1M84 41h1M58 42h1M69 42h2M84 42h1M69 43h1M84 43h1M23 44h1M65 44h3M84 44h1M28 45h1M56 45h2M77 45h1M27 46h1M23 49h2M42 49h2M49 49h2M59 49h1M24 50h3M31 50h1M54 50h1M24 51h1M26 51h2M53 51h2M68 51h2M58 52h3M64 52h1M71 52h1M73 52h1M76 52h2M81 52h5M56 53h1M76 53h2M83 53h1M93 53h2M76 54h2M99 54h1M81 56h1M40 57h1M83 60h1M4 61h1M8 61h4M14 61h1M24 61h1M27 61h1M0 62h5M12 62h2M15 62h2M19 62h1M21 62h3M4 63h1M15 63h1M20 63h1M27 63h1M59 63h1M20 64h2M32 66h2M20 67h1M23 67h1M9 68h1M11 68h1M71 69h2M83 69h1M93 69h1M99 69h5M59 70h2M84 70h1M94 70h4M56 71h3M65 71h1M71 71h1M74 71h1M83 71h3M92 71h1M95 71h3M59 72h2M67 72h2M74 72h1M48 73h1M51 73h1M30 74h1M33 74h1M52 74h2M56 74h1M73 74h1M25 75h1M32 75h1M51 75h1M58 75h1M61 75h2M69 75h1M15 76h1M39 76h1M41 76h1M43 76h1M45 76h1M48 76h1M0 77h3M5 77h1M29 77h2M17 78h1M9 79h1M93 83h1M85 84h1M29 85h3M83 85h1M94 86h1M81 87h3M29 88h4M81 88h1M89 88h2M94 88h1M32 90h1M30 91h2M30 92h3M31 93h1M33 93h1M31 94h2M31 95h1M30 96h2M31 97h1M33 97h1M30 98h2M81 99h1M32 100h1"/>
<path stroke="#00c3db" d="M94 4h2M99 4h1M72 5h1M29 7h2M74 10h1M58 13h1M55 14h1M59 14h1M44 15h1M93 15h1M79 16h1M93 16h1M84 17h1M93 17h1M93 18h1M57 19h1M59 19h1M81 20h1M60 21h1M71 21h1M27 22h1M71 24h1M88 24h1M90 24h1M71 25h1M79 25h1M72 27h1M75 27h3M76 28h2M80 28h1M27 29h2M74 29h1M71 30h1M75 30h3M71 31h1M75 31h4M71 32h1M23 36h1M61 37h1M65 37h1M71 38h1M54 39h2M70 39h1M37 40h1M69 40h3M65 41h1M69 41h3M27 42h2M64 42h2M68 42h1M54 43h1M58 43h1M64 43h2M68 43h1M71 43h1M54 44h1M77 44h1M29 45h2M89 45h2M31 47h1M31 48h1M35 48h1M48 48h1M27 49h1M48 49h1M55 49h1M49 50h2M31 51h1M52 51h1M55 52h1M61 52h3M70 52h1M72 52h1M88 52h3M98 52h6M57 53h1M59 53h2M64 53h1M70 53h1M81 53h2M87 53h1M91 53h2M95 53h1M101 53h3M54 54h1M41 57h1M44 57h1M48 57h1M77 57h1M68 58h1M78 58h1M88 58h1M32 60h1M88 60h1M0 61h4M15 61h3M19 61h5M28 61h1M31 61h2M81 61h1M9 62h3M14 62h1M17 62h2M24 62h4M59 62h2M9 63h4M14 63h1M16 63h1M19 63h1M21 63h1M26 63h1M60 63h1M37 65h2M19 67h1M21 67h2M8 68h1M12 68h11M84 69h1M91 69h2M61 70h1M75 70h1M79 70h2M83 70h1M85 70h1M89 70h5M55 71h1M63 71h1M69 71h2M72 71h2M81 71h2M86 71h1M56 72h3M66 72h1M73 72h1M49 73h1M56 73h2M61 73h3M75 73h1M37 74h1M57 74h1M61 74h2M74 74h2M22 75h3M26 75h2M29 75h3M33 75h1M59 75h2M74 75h2M16 76h1M24 76h1M42 76h1M46 76h2M3 77h2M22 77h2M27 77h2M65 77h1M70 77h1M14 78h1M8 79h1M83 83h5M84 84h1M86 84h1M66 85h1M94 85h1M66 86h1M81 86h3M93 86h1M93 87h1M88 88h1M91 88h3M32 89h1M81 90h1M87 90h1M32 93h1M30 94h1M30 95h1M30 97h1M32 98h1M30 99h3M72 99h1M34 100h1M31 101h3M31 102h3M31 103h3"/>
<path stroke="#00c6d2" d="M86 4h2M65 7h1M71 8h3M73 9h1M85 12h1M55 13h1M57 13h1M58 14h1M84 14h1M93 14h1M43 15h1M84 15h1M77 16h1M84 16h1M84 18h1M58 19h1M74 19h1M83 19h1M88 19h5M71 20h1M75 20h1M79 20h2M82 20h1M72 22h1M84 23h1M75 25h1M78 25h1M71 26h1M74 26h1M80 26h4M27 27h1M74 27h1M72 28h1M71 29h1M79 29h1M79 30h1M72 33h1M72 34h1M72 35h1M72 36h1M64 37h1M52 39h1M71 39h1M27 40h5M34 40h1M41 40h1M66 40h1M72 40h1M26 41h3M57 41h1M72 41h1M26 42h1M29 42h1M31 42h1M54 42h1M71 42h1M27 43h2M66 43h2M72 43h1M25 44h3M40 44h1M58 44h1M88 45h1M31 46h1M48 47h1M88 47h1M36 48h1M44 48h4M31 49h1M35 49h4M41 49h1M44 49h4M51 49h1M39 50h3M47 50h2M39 51h1M44 51h1M25 52h1M86 52h2M97 52h1M25 53h1M58 53h1M61 53h1M63 53h1M86 53h1M88 53h3M96 53h5M52 54h2M51 56h1M42 57h2M39 58h1M73 58h1M24 60h2M18 61h1M29 61h2M61 61h1M78 61h1M28 62h1M31 62h1M58 62h1M13 63h1M17 63h2M58 63h1M0 64h4M11 64h2M10 65h1M35 65h2M23 66h1M16 67h3M77 67h2M83 67h1M101 67h3M7 68h1M85 69h1M62 70h4M69 70h2M76 70h3M87 70h2M98 70h6M52 71h1M54 71h1M59 71h4M68 71h1M87 71h1M89 71h1M61 72h1M63 72h3M69 72h4M55 73h1M58 73h3M51 74h1M58 74h3M72 74h1M28 75h1M37 75h1M49 75h2M17 76h1M23 76h1M29 76h6M44 76h1M6 77h1M11 77h3M15 77h7M26 77h1M0 79h8M70 79h1M70 81h1M81 83h2M88 83h5M81 84h3M91 84h4M84 85h4M91 85h3M84 86h1M86 86h2M84 87h4M82 88h1M81 89h1M67 95h1M87 97h1M34 98h1"/>
<path stroke="#00c8c8" d="M86 5h1M72 6h1M83 6h1M94 6h1M42 8h1M55 8h1M65 9h1M71 9h2M65 10h1M73 10h1M74 11h1M55 12h1M65 12h1M86 12h3M59 13h1M65 13h1M84 13h1M93 13h1M74 14h1M98 14h2M99 15h1M83 16h1M65 17h1M83 17h1M83 18h1M94 18h2M101 19h3M72 20h1M76 20h3M72 21h1M27 23h1M72 23h1M72 24h1M91 24h1M72 25h1M75 28h1M28 30h1M32 30h1M74 30h1M74 31h1M23 32h1M72 32h1M23 34h1M61 34h1M23 35h1M61 35h1M63 37h1M72 37h1M72 38h1M26 39h2M53 39h1M56 39h1M26 40h1M42 40h1M44 40h1M67 40h2M29 41h3M56 41h1M66 41h1M68 41h1M30 42h1M32 42h1M66 42h2M72 42h1M26 43h1M29 43h4M24 44h1M28 44h1M39 44h1M41 44h1M31 45h1M38 47h1M42 47h6M49 47h3M89 47h1M34 48h1M37 48h2M42 48h2M49 48h2M25 49h2M39 49h2M35 50h4M42 50h5M53 50h1M35 51h4M40 51h4M45 51h1M49 51h3M91 52h1M55 53h1M62 53h1M24 54h1M35 55h1M86 56h1M39 57h1M45 57h3M32 58h2M32 59h2M39 59h1M26 60h3M31 60h1M33 60h1M85 61h1M29 62h2M55 62h1M22 63h1M30 63h2M61 63h1M4 64h2M10 64h1M22 64h1M26 64h2M33 65h2M11 66h2M13 67h3M100 67h1M79 68h1M79 69h1M66 70h1M68 70h1M71 70h1M81 70h2M86 70h1M53 71h1M66 71h2M88 71h1M90 71h1M62 72h1M50 73h1M52 73h1M64 73h1M71 73h1M39 74h1M63 74h1M36 75h1M38 75h1M45 75h1M18 76h1M22 76h1M38 76h1M14 77h1M24 77h2M0 78h4M12 78h2M70 78h1M70 80h1M66 84h1M87 84h1M97 84h1M88 85h3M85 86h1M92 86h1M92 87h1M94 92h1M87 98h1M33 100h1"/>
<path stroke="#00cabd" d="M84 5h2M87 5h1M91 5h5M93 6h1M95 6h1M83 7h1M91 7h3M55 10h1M71 10h2M83 10h3M55 11h1M83 11h3M74 12h1M83 12h2M89 12h1M99 12h5M74 13h1M83 13h1M96 13h1M98 13h3M72 14h1M83 14h1M96 14h2M100 14h1M74 15h1M83 15h1M98 15h1M100 15h1M94 16h1M99 16h1M61 17h3M94 17h2M74 18h1M96 18h5M73 19h1M93 19h8M74 20h1M92 24h1M74 25h1M76 25h2M80 25h1M72 26h1M73 27h1M74 28h1M72 29h1M30 30h1M72 30h1M25 31h1M72 31h1M79 31h1M23 33h1M61 36h1M62 37h1M28 39h5M57 39h3M72 39h1M32 40h1M43 40h1M45 40h1M32 41h1M55 41h1M58 41h1M67 41h1M75 43h2M29 44h3M42 44h1M43 45h1M91 45h2M35 47h3M39 47h3M32 48h2M39 48h3M34 49h1M51 50h2M46 51h3M90 51h1M29 52h1M32 52h2M37 52h1M51 52h1M54 52h1M34 53h2M50 53h1M32 54h2M35 54h1M24 55h1M29 55h2M34 55h1M36 55h2M28 56h3M48 56h1M84 56h1M25 57h1M38 57h1M24 59h1M31 59h1M78 59h1M29 60h2M62 61h4M68 61h1M74 61h1M57 62h1M23 63h1M56 63h2M6 64h1M13 65h1M30 65h3M4 66h2M21 66h2M4 67h2M11 67h2M6 68h1M76 68h1M76 69h3M67 70h1M74 70h1M55 72h1M53 73h2M65 73h6M38 74h1M71 74h1M34 75h2M44 75h1M46 75h1M19 76h1M35 76h1M37 76h1M69 76h1M10 77h1M7 78h5M70 82h1M88 84h3M83 88h1M87 88h1M91 91h1M97 91h1M67 93h1M67 94h1M71 95h1"/>
<path stroke="#00ccb3" d="M74 5h1M83 5h1M88 5h1M90 5h1M97 5h1M84 6h4M91 6h2M96 6h1M60 7h1M84 7h5M90 7h1M94 7h2M65 8h1M77 8h1M83 8h1M99 8h1M55 9h1M86 9h1M99 9h1M86 10h1M65 11h1M71 11h3M86 11h2M99 11h1M71 12h3M90 12h3M95 12h1M98 12h1M71 13h3M94 13h2M97 13h1M101 13h3M57 14h1M65 14h1M71 14h1M73 14h1M65 15h1M94 15h1M97 15h1M74 16h1M95 16h1M98 16h1M100 16h1M71 17h4M96 17h8M73 18h1M101 18h3M71 19h2M64 20h2M73 20h1M83 20h1M81 21h2M81 22h2M27 24h1M27 25h1M93 28h1M29 30h1M31 30h1M93 32h1M61 33h1M93 33h1M73 36h1M93 36h1M49 40h1M51 40h8M42 42h2M59 42h1M25 43h1M59 43h1M74 43h1M77 43h1M32 44h1M38 44h1M59 44h1M32 45h1M38 45h1M54 45h1M58 45h1M41 46h6M48 46h5M81 46h2M34 47h1M52 47h1M59 47h1M27 48h1M51 48h1M55 48h1M52 49h3M91 49h2M98 49h3M34 50h1M32 51h3M91 51h1M97 51h4M24 52h1M31 52h1M34 52h1M36 52h1M38 52h1M50 52h1M52 52h2M24 53h1M36 53h1M49 53h1M51 53h1M34 54h1M36 54h2M51 54h1M31 55h1M51 55h1M31 56h1M39 56h6M49 56h2M24 57h1M28 57h1M32 57h2M37 57h1M24 58h1M31 58h1M38 58h1M89 58h1M74 59h2M86 59h1M75 60h1M66 61h2M75 61h3M32 62h1M28 63h1M62 63h5M7 64h3M13 64h1M19 64h1M39 64h1M29 65h1M6 66h1M10 66h1M20 66h1M6 67h1M10 67h1M82 67h1M5 68h1M91 71h1M52 72h1M72 73h1M74 73h1M40 74h2M64 74h1M47 75h2M66 76h3M66 83h1M70 83h1M87 89h1M34 99h1M68 99h1"/>
<path stroke="#09cea9" d="M73 5h1M89 5h1M96 5h1M98 5h2M74 6h1M88 6h3M97 6h2M89 7h1M96 7h4M44 8h1M80 8h1M84 8h3M83 9h3M99 10h1M101 11h3M57 12h2M93 12h2M96 12h2M60 14h1M94 14h2M101 14h3M59 15h1M71 15h3M95 15h2M101 15h3M65 16h1M71 16h3M97 16h1M101 16h3M60 17h1M64 17h1M78 17h1M71 18h2M61 20h3M88 20h1M100 20h4M73 21h1M79 21h2M83 21h1M78 23h3M78 24h6M101 24h3M73 25h1M81 25h3M93 25h1M27 26h1M93 26h1M93 27h1M73 28h1M101 28h3M73 29h1M80 29h3M80 30h4M93 30h1M61 31h1M93 31h1M61 32h1M73 33h1M73 34h1M73 35h1M93 35h1M74 36h1M101 36h3M73 37h2M83 37h1M93 37h1M25 38h2M73 38h1M93 38h1M25 39h1M73 39h3M93 39h1M46 40h1M50 40h1M59 40h1M73 40h2M93 40h1M39 41h3M44 41h2M52 41h3M59 41h1M78 41h1M44 42h2M52 42h1M75 42h1M33 43h1M44 43h1M51 43h3M73 43h1M33 44h5M43 44h1M49 44h3M93 44h1M33 45h1M37 45h1M49 45h3M59 45h1M32 46h1M39 46h2M47 46h1M53 46h1M78 46h1M83 46h1M32 47h2M53 47h4M58 47h1M94 47h2M54 48h1M56 48h4M90 48h1M93 48h1M32 49h2M32 50h2M94 50h2M101 50h3M92 51h5M30 52h1M35 52h1M39 52h1M48 52h1M65 52h1M92 52h1M96 52h1M26 53h1M30 53h4M37 53h2M48 53h1M65 53h5M25 54h2M31 54h1M50 54h1M38 55h1M24 56h1M27 56h1M32 56h7M45 56h3M82 56h2M88 56h1M26 57h2M29 57h3M34 57h3M25 58h2M29 58h2M34 58h1M37 58h1M65 58h1M74 58h2M26 59h5M76 59h1M39 60h1M74 60h1M76 60h1M78 60h1M84 60h1M82 61h1M84 61h1M61 62h1M24 63h2M32 63h1M67 63h2M28 64h1M20 65h2M24 65h1M27 65h2M13 66h1M18 66h2M9 67h1M3 68h2M72 70h2M73 73h1M42 74h1M44 74h4M65 74h1M69 74h2M39 75h2M36 76h1M7 77h1M4 78h1M70 84h1M91 87h1M84 88h3M67 92h1M33 98h1M69 100h1"/>
<path stroke="#0fd09e" d="M73 6h1M99 6h1M61 7h2M56 8h2M87 8h6M87 9h1M87 10h1M100 11h1M58 15h1M58 16h1M96 16h1M56 17h1M58 17h1M56 18h2M89 20h4M99 20h1M74 21h2M78 21h1M91 21h2M73 22h1M77 22h2M83 22h1M91 22h2M73 23h1M76 23h2M81 23h2M91 23h1M101 23h3M73 24h5M73 26h1M101 27h3M61 28h1M100 28h1M61 29h1M83 29h1M101 29h3M61 30h1M73 30h1M26 31h1M65 31h1M73 31h1M80 31h1M65 32h1M73 32h1M65 33h1M83 33h1M101 33h3M74 34h1M83 34h1M93 34h1M65 35h1M74 35h1M101 35h3M65 36h1M75 36h1M75 37h1M27 38h1M31 38h3M74 38h2M83 38h1M101 38h3M33 39h1M83 39h1M101 39h3M25 40h1M47 40h2M75 40h1M83 40h1M101 40h3M25 41h1M34 41h2M42 41h2M49 41h3M73 41h5M79 41h2M93 41h1M101 41h3M25 42h1M33 42h6M41 42h1M46 42h1M48 42h1M53 42h1M74 42h1M76 42h2M93 42h1M24 43h1M37 43h2M40 43h4M45 43h2M48 43h3M78 43h1M93 43h1M52 44h2M34 45h3M48 45h1M52 45h2M33 46h2M38 46h1M58 46h2M79 46h2M88 46h2M94 46h2M57 47h1M98 47h3M25 48h1M91 48h2M94 48h1M99 48h5M90 49h1M93 49h1M96 49h2M90 50h1M93 50h1M100 50h1M101 51h3M40 52h1M49 52h1M66 52h4M93 52h1M29 53h1M44 53h1M54 53h1M27 54h1M29 54h2M38 54h1M48 54h2M27 55h2M32 55h2M39 55h1M42 55h3M48 55h1M25 56h1M87 56h1M27 58h2M66 58h2M76 58h1M25 59h1M34 59h1M38 59h1M77 59h1M89 59h1M34 60h1M77 60h1M64 62h2M68 62h1M29 63h1M14 64h3M25 64h1M29 64h2M38 64h1M0 65h6M9 65h1M17 65h2M22 65h2M25 65h2M3 66h1M9 66h1M17 66h1M3 67h1M0 68h3M54 72h1M43 74h1M48 74h1M50 74h1M20 76h2M8 77h2M5 78h2M66 82h1M101 84h3M88 86h1M91 86h1M90 87h1M92 91h1M93 92h1M33 99h1M69 101h1M69 102h1M69 103h1"/>
<path stroke="#16d293" d="M63 7h2M43 8h1M58 8h2M98 8h1M98 9h1M56 10h3M57 11h2M88 11h1M98 11h1M56 12h1M59 12h1M56 13h1M60 13h1M60 15h1M56 16h2M59 16h1M57 17h1M59 17h1M58 18h2M96 20h3M76 22h1M79 22h2M101 22h3M74 23h2M83 23h1M90 23h1M92 23h1M100 24h1M65 25h1M100 25h4M65 26h1M101 26h3M94 28h1M93 29h1M65 30h1M27 31h2M63 31h1M81 31h3M29 32h2M74 32h6M83 32h1M33 33h1M64 33h1M100 33h1M62 34h2M65 34h1M33 35h1M64 35h1M83 36h1M25 37h3M32 37h2M101 37h3M24 38h1M29 38h2M24 39h1M100 39h1M24 40h1M33 40h1M78 40h1M100 40h1M24 41h1M33 41h1M36 41h3M46 41h1M48 41h1M81 41h3M100 41h1M39 42h2M47 42h1M49 42h3M73 42h1M78 42h6M101 42h3M34 43h3M39 43h1M47 43h1M79 43h5M48 44h1M78 44h6M101 44h3M44 45h4M78 45h3M83 45h1M93 45h1M100 45h4M35 46h3M54 46h4M90 46h1M96 46h5M96 47h1M26 48h1M52 48h2M95 48h1M98 48h1M94 49h2M101 49h3M91 50h2M98 50h2M41 52h1M44 52h4M45 53h3M28 54h1M42 54h3M47 54h1M25 55h2M40 55h2M46 55h2M26 56h1M36 58h1M77 58h1M37 59h1M35 60h2M38 60h1M87 60h1M83 61h1M56 62h1M63 62h1M66 62h2M17 64h2M23 64h2M31 64h1M36 64h2M6 65h1M8 65h1M14 65h1M19 65h1M0 66h3M8 66h1M14 66h1M0 67h3M7 67h2M78 68h1M49 74h1M66 74h3M41 75h1M98 84h3M70 85h1M88 87h2M93 91h2M96 91h1M71 96h1"/>
<path stroke="#1fd486" d="M93 8h1M56 9h4M98 10h1M56 11h1M64 12h1M64 13h1M56 14h1M57 15h1M93 20h3M62 21h1M76 21h2M88 21h1M90 21h1M93 21h1M100 21h1M74 22h2M88 22h1M93 22h1M100 22h1M88 23h2M93 23h1M100 23h1M93 24h1M64 25h1M99 25h1M64 26h1M100 26h1M65 27h1M62 28h1M95 28h1M98 28h2M65 29h1M63 30h2M101 30h3M29 31h2M62 31h1M64 31h1M100 31h4M24 32h1M63 32h2M80 32h1M94 32h2M101 32h3M25 33h3M29 33h4M63 33h1M74 33h1M99 33h1M25 34h2M29 34h3M33 34h1M64 34h1M75 34h1M100 34h4M31 35h2M63 35h1M75 35h1M83 35h1M97 35h1M27 36h1M32 36h2M64 36h1M24 37h1M29 37h3M82 37h1M28 38h1M82 38h1M100 38h1M76 40h2M79 40h2M82 40h1M99 40h1M47 41h1M24 42h1M100 42h1M101 43h3M44 44h4M100 44h1M81 45h2M96 45h1M98 45h2M101 46h3M90 47h1M93 47h1M97 47h1M101 47h3M96 48h2M96 50h2M42 52h2M94 52h2M39 53h1M52 53h1M39 54h1M41 54h1M46 54h1M45 55h1M50 55h1M35 58h1M37 60h1M85 60h1M62 62h1M39 63h1M32 64h4M7 65h1M7 66h1M77 68h1M53 72h1M43 75h1M66 81h1M89 86h2M67 90h1M67 91h1M95 91h1M71 97h1"/>
<path stroke="#2dd579" d="M60 8h1M94 8h1M94 9h2M64 10h1M89 11h2M63 12h1M61 13h3M77 14h1M56 15h1M60 16h1M61 21h1M63 21h3M89 21h1M97 21h1M102 21h2M63 22h3M90 22h1M65 23h1M94 23h2M65 24h1M96 24h1M98 24h2M61 25h1M97 25h2M61 26h1M96 26h4M61 27h1M64 27h1M94 27h2M100 27h1M96 28h2M62 29h3M100 29h1M62 30h1M94 30h2M100 30h1M33 31h1M94 31h4M99 31h1M28 32h1M33 32h1M62 32h1M82 32h1M100 32h1M24 33h1M28 33h1M62 33h1M75 33h1M94 33h2M98 33h1M24 34h1M32 34h1M98 34h2M24 35h3M29 35h2M62 35h1M78 35h3M96 35h1M100 35h1M24 36h1M26 36h1M28 36h4M79 36h2M97 36h1M100 36h1M28 37h1M81 37h1M100 37h1M81 38h1M81 39h2M96 39h4M81 40h1M95 40h4M98 41h2M97 42h3M97 43h1M100 43h1M95 44h3M94 45h2M97 45h1M91 46h3M91 47h2M40 53h4M53 53h1M40 54h1M45 54h1M49 55h1M36 59h1M87 59h2M16 65h1M15 66h2M42 75h1M66 77h2M66 79h1M66 80h1M69 81h1M67 82h3M67 83h2M67 84h1M69 84h1M70 86h1M68 90h1M70 90h1M70 91h1M70 92h1M92 92h1M70 93h1M70 95h1M69 96h2M68 98h1M71 98h1M72 100h1M96 100h1M98 100h3M91 101h6M91 102h6M91 103h6"/>
<path stroke="#3dd56b" d="M100 0h1M100 1h1M100 2h1M100 3h1M95 8h3M60 9h1M64 9h1M93 9h1M59 10h1M88 10h3M94 10h2M59 11h1M64 11h1M94 11h2M60 12h3M61 14h4M61 16h4M78 16h1M94 21h1M96 21h1M98 21h2M101 21h1M61 22h2M89 22h1M94 22h2M98 22h2M61 23h1M64 23h1M96 23h4M61 24h1M64 24h1M97 24h1M63 25h1M94 25h3M63 26h1M94 26h2M96 27h2M63 28h1M96 29h1M96 30h1M99 30h1M98 31h1M25 32h3M81 32h1M99 32h1M97 33h1M27 34h1M82 34h1M96 34h2M27 35h1M76 35h2M94 35h2M98 35h1M25 36h1M63 36h1M76 36h1M78 36h1M82 36h1M94 36h3M76 37h1M78 37h3M94 37h1M76 38h1M78 38h3M98 38h2M76 39h5M94 39h2M94 40h1M95 41h3M96 42h1M96 43h1M98 43h2M94 44h1M98 44h2M35 59h1M86 60h1M33 61h1M35 61h1M15 65h1M68 77h1M66 78h2M67 79h1M69 79h1M67 81h2M69 83h1M68 84h1M67 85h3M70 87h1M70 88h1M70 89h1M82 89h1M69 90h1M68 91h2M68 92h2M91 92h1M68 93h2M70 94h1M69 95h1M68 97h3M69 98h2M82 98h4M69 99h1M82 99h1M87 99h1M71 100h1M79 100h2M86 100h1M94 100h2M97 100h1M84 101h2M97 101h1M84 102h2M97 102h1M84 103h2M97 103h1"/>
<path stroke="#4dd55c" d="M61 8h4M61 9h3M88 9h5M96 9h2M63 10h1M93 10h1M63 11h1M93 11h1M96 11h2M61 15h1M64 15h1M95 21h1M96 22h2M62 23h2M62 24h2M94 24h2M62 25h1M62 26h1M63 27h1M98 27h2M65 28h1M95 29h1M97 29h3M97 30h2M31 32h1M96 32h3M76 33h5M82 33h1M96 33h1M28 34h1M76 34h6M94 34h2M28 35h1M82 35h1M99 35h1M62 36h1M77 36h1M81 36h1M98 36h1M77 37h1M95 37h1M97 37h3M77 38h1M94 38h4M94 41h1M94 42h2M94 43h2M34 61h1M36 61h1M33 63h1M37 63h2M69 77h1M68 78h1M68 79h1M67 80h3M67 86h1M67 87h1M67 89h3M83 89h1M85 89h1M82 92h2M86 92h1M82 93h1M86 93h1M68 94h2M68 95h1M82 95h4M68 96h1M86 98h1M70 99h2M83 99h2M70 100h1M73 100h1M87 100h1M90 100h4M101 100h3M83 101h1M86 101h1M83 102h1M86 102h1M83 103h1M86 103h1"/>
<path stroke="#5ed54c" d="M101 0h3M101 1h3M101 2h3M100 4h1M100 5h1M101 6h3M100 7h1M100 8h1M100 9h1M60 10h3M91 10h2M96 10h2M100 10h4M60 11h3M91 11h2M62 15h2M62 27h1M64 28h1M94 29h1M32 32h1M81 33h1M81 35h1M99 36h1M96 37h1M39 61h1M39 62h1M36 63h1M69 78h1M68 86h2M68 87h2M67 88h3M84 89h1M86 89h1M84 90h2M82 91h1M86 91h1M84 92h2M83 93h1M82 94h2M86 94h1M86 95h1M84 96h3M82 97h1M85 99h1M74 100h3M78 100h1M84 100h2M88 100h2M70 101h6M81 101h2M87 101h1M90 101h1M101 101h3M70 102h6M81 102h2M87 102h1M90 102h1M101 102h3M70 103h6M81 103h2M87 103h1M90 103h1M101 103h3"/>
<path stroke="#71d33e" d="M101 3h3M101 5h3M100 6h1M101 7h3M31 31h1M27 53h1M37 61h2M33 62h1M34 63h2M82 90h2M86 90h1M83 91h3M84 93h2M84 94h2M83 96h1M83 97h1M86 99h1M77 100h1M81 100h1M83 100h1M76 101h1M79 101h2M88 101h2M98 101h1M76 102h1M79 102h2M88 102h2M98 102h1M76 103h1M79 103h2M88 103h2M98 103h1"/>
<path stroke="#84d12f" d="M101 4h3M101 8h3M101 9h3M32 31h1M34 62h5M82 96h1M86 97h1M82 100h1M77 101h2M99 101h2M77 102h2M99 102h2M77 103h2M99 103h2"/>
<path stroke="#96cf20" d="M28 53h1M84 97h2"/>
<path stroke="#a8cc13" d="M80 14h1"/>
<path stroke="#e7be00" d="M78 8h1"/>
<path stroke="#ffb90d" d="M77 9h1"/>
<path stroke="#ffbc14" d="M77 13h1"/>
<path stroke="#ffc30e" d="M79 8h1"/>
<path stroke="#ffc907" d="M78 14h1"/>
<path stroke="#ffde00" d="M80 9h1"/>
<path stroke="#fde600" d="M77 10h1M79 14h1"/>
<path stroke="#fcec00" d="M77 12h1"/>
<path stroke="#fcfa00" d="M77 11h1M80 13h1"/>
<path stroke="#feff00" d="M78 9h2M78 10h3M78 11h3M78 12h3M78 13h2"/>
</g>
<g fill="#0a1a50" fill-opacity="0.85">
<rect x="2" y="2" width="100" height="0.260247"/>
<rect x="2" y="101.74" width="100" height="0.260247"/>
<rect x="2" y="2" width="0.204918" height="100"/>
<rect x="101.846" y="2" width="0.153689" height="100"/>
<rect x="11.538" y="2" width="0.163934" height="1.04099"/>
<rect x="11.538" y="100.959" width="0.163934" height="1.04099"/>
<rect x="21.538" y="2" width="0.163934" height="1.04099"/>
<rect x="21.538" y="100.959" width="0.163934" height="1.04099"/>
<rect x="31.538" y="2" width="0.163934" height="1.04099"/>
<rect x="31.538" y="100.959" width="0.163934" height="1.04099"/>
<rect x="41.538" y="2" width="0.163934" height="1.04099"/>
<rect x="41.538" y="100.959" width="0.163934" height="1.04099"/>
<rect x="51.538" y="2" width="0.163934" height="1.04099"/>
<rect x="51.538" y="100.959" width="0.163934" height="1.04099"/>
<rect x="61.538" y="2" width="0.163934" height="1.04099"/>
<rect x="61.538" y="100.959" width="0.163934" height="1.04099"/>
<rect x="71.538" y="2" width="0.163934" height="1.04099"/>
<rect x="71.538" y="100.959" width="0.163934" height="1.04099"/>
<rect x="81.538" y="2" width="0.163934" height="1.04099"/>
<rect x="81.538" y="100.959" width="0.163934" height="1.04099"/>
<rect x="91.538" y="2" width="0.163934" height="1.04099"/>
<rect x="91.538" y="100.959" width="0.163934" height="1.04099"/>
<rect x="101.538" y="2" width="0.163934" height="1.04099"/>
<rect x="101.538" y="100.959" width="0.163934" height="1.04099"/>
<rect x="2" y="11.4259" width="0.819672" height="0.208198"/>
<rect x="101.18" y="11.4259" width="0.819672" height="0.208198"/>
<rect x="2" y="21.4259" width="0.819672" height="0.208198"/>
<rect x="101.18" y="21.4259" width="0.819672" height="0.208198"/>
<rect x="2" y="31.4259" width="0.819672" height="0.208198"/>
<rect x="101.18" y="31.4259" width="0.819672" height="0.208198"/>
<rect x="2" y="41.4259" width="0.819672" height="0.208198"/>
<rect x="101.18" y="41.4259" width="0.819672" height="0.208198"/>
<rect x="2" y="51.4259" width="0.819672" height="0.208198"/>
<rect x="101.18" y="51.4259" width="0.819672" height="0.208198"/>
<rect x="2" y="61.4259" width="0.819672" height="0.208198"/>
<rect x="101.18" y="61.4259" width="0.819672" height="0.208198"/>
<rect x="2" y="71.4259" width="0.819672" height="0.208198"/>
<rect x="101.18" y="71.4259" width="0.819672" height="0.208198"/>
<rect x="2" y="81.4259" width="0.819672" height="0.208198"/>
<rect x="101.18" y="81.4259" width="0.819672" height="0.208198"/>
<rect x="2" y="91.4259" width="0.819672" height="0.208198"/>
<rect x="101.18" y="91.4259" width="0.819672" height="0.208198"/>
</g>
</svg>
<svg class="hist" style="left:0;top:0" width="2051" height="3560" viewBox="0 0 2051 3560">
<defs><linearGradient id="gg2" x1="0" x2="1" y1="0" y2="0"><stop offset="0" stop-color="#000"/><stop offset="1" stop-color="#fff"/></linearGradient></defs>
<rect x="1172.0" y="2462.5" width="756.6" height="53.9" fill="url(#gg2)"/>
<path fill="#b0f4fc" d="M1169.91 2462.5V2446.8h4.19V2462.5zM1171.99 2462.5V2432.3h4.19V2462.5zM1176.16 2462.5V2432.3h4.19V2462.5zM1178.25 2462.5V2445.3h4.19V2462.5zM1182.42 2462.5V2455.0h4.19V2462.5zM1184.51 2462.5V2424.1h4.19V2462.5zM1188.68 2462.5V2450.9h4.19V2462.5zM1190.76 2462.5V2442.5h4.19V2462.5zM1192.85 2462.5V2432.3h4.19V2462.5zM1197.02 2462.5V2436.5h4.19V2462.5zM1199.10 2462.5V2442.8h4.19V2462.5zM1203.27 2462.5V2446.8h4.19V2462.5zM1205.36 2462.5V2414.6h4.19V2462.5zM1207.45 2462.5V2430.3h4.19V2462.5zM1211.62 2462.5V2396.5h4.19V2462.5zM1213.70 2462.5V2414.6h4.19V2462.5zM1217.87 2462.5V2411.1h4.19V2462.5zM1219.96 2462.5V2404.7h4.19V2462.5zM1224.13 2462.5V2434.4h4.19V2462.5zM1226.21 2462.5V2424.6h4.19V2462.5zM1228.30 2462.5V2414.6h4.19V2462.5zM1232.47 2462.5V2444.7h4.19V2462.5zM1234.56 2462.5V2390.1h4.19V2462.5zM1238.73 2462.5V2364.3h4.19V2462.5zM1240.81 2462.5V2446.8h4.19V2462.5zM1244.98 2462.5V2419.2h4.19V2462.5zM1247.07 2462.5V2396.5h4.19V2462.5zM1249.15 2462.5V2413.8h4.19V2462.5zM1253.33 2462.5V2415.8h4.19V2462.5zM1255.41 2462.5V2419.2h4.19V2462.5zM1259.58 2462.5V2423.8h4.19V2462.5zM1261.67 2462.5V2428.2h4.19V2462.5zM1265.84 2462.5V2434.4h4.19V2462.5zM1267.92 2462.5V2437.0h4.19V2462.5zM1270.01 2462.5V2442.6h4.19V2462.5zM1274.18 2462.5V2433.4h4.19V2462.5zM1276.27 2462.5V2417.1h4.19V2462.5zM1280.44 2462.5V2408.9h4.19V2462.5zM1282.52 2462.5V2446.8h4.19V2462.5zM1284.61 2462.5V2381.7h4.19V2462.5zM1288.78 2462.5V2401.2h4.19V2462.5zM1290.86 2462.5V2414.6h4.19V2462.5zM1295.03 2462.5V2381.7h4.19V2462.5zM1297.12 2462.5V2368.3h4.19V2462.5zM1301.29 2462.5V2345.8h4.19V2462.5zM1303.38 2462.5V2354.0h4.19V2462.5zM1305.46 2462.5V2276.6h4.19V2462.5zM1309.63 2462.5V2317.0h4.19V2462.5zM1311.72 2462.5V2298.0h4.19V2462.5zM1315.89 2462.5V2268.7h4.19V2462.5zM1317.97 2462.5V2257.2h4.19V2462.5zM1322.14 2462.5V2221.4h4.19V2462.5zM1324.23 2462.5V2290.2h4.19V2462.5zM1326.32 2462.5V2286.7h4.19V2462.5zM1330.49 2462.5V2070.9h4.19V2462.5zM1332.57 2462.5V2139.7h4.19V2462.5zM1336.74 2462.5V2205.4h4.19V2462.5zM1338.83 2462.5V1932.4h4.19V2462.5zM1343.00 2462.5V2127.4h4.19V2462.5zM1345.08 2462.5V1905.6h4.19V2462.5zM1347.17 2462.5V1915.1h4.19V2462.5zM1351.34 2462.5V2038.7h4.19V2462.5zM1353.43 2462.5V2242.9h4.19V2462.5zM1357.60 2462.5V2094.3h4.19V2462.5zM1359.68 2462.5V2053.9h4.19V2462.5zM1361.77 2462.5V1803.8h4.19V2462.5zM1365.94 2462.5V2047.0h4.19V2462.5zM1368.02 2462.5V2199.9h4.19V2462.5zM1372.20 2462.5V1897.4h4.19V2462.5zM1374.28 2462.5V2070.9h4.19V2462.5zM1378.45 2462.5V2250.5h4.19V2462.5zM1380.54 2462.5V1932.4h4.19V2462.5zM1382.62 2462.5V2105.3h4.19V2462.5zM1386.79 2462.5V2121.1h4.19V2462.5zM1388.88 2462.5V1911.8h4.19V2462.5zM1393.05 2462.5V2050.7h4.19V2462.5zM1395.14 2462.5V1869.8h4.19V2462.5zM1399.31 2462.5V2198.0h4.19V2462.5zM1401.39 2462.5V2176.8h4.19V2462.5zM1403.48 2462.5V1951.4h4.19V2462.5zM1407.65 2462.5V2024.3h4.19V2462.5zM1409.73 2462.5V2046.2h4.19V2462.5zM1413.90 2462.5V2124.3h4.19V2462.5zM1415.99 2462.5V1861.5h4.19V2462.5zM1420.16 2462.5V2219.3h4.19V2462.5zM1422.25 2462.5V2024.3h4.19V2462.5zM1424.33 2462.5V2098.5h4.19V2462.5zM1428.50 2462.5V2213.0h4.19V2462.5zM1430.59 2462.5V1993.4h4.19V2462.5zM1434.76 2462.5V2244.3h4.19V2462.5zM1436.84 2462.5V2063.4h4.19V2462.5zM1438.93 2462.5V1993.4h4.19V2462.5zM1443.10 2462.5V2041.3h4.19V2462.5zM1445.19 2462.5V1905.6h4.19V2462.5zM1449.36 2462.5V2103.7h4.19V2462.5zM1451.44 2462.5V2129.4h4.19V2462.5zM1455.61 2462.5V1888.3h4.19V2462.5zM1457.70 2462.5V2102.6h4.19V2462.5zM1459.78 2462.5V2206.1h4.19V2462.5zM1463.96 2462.5V2028.4h4.19V2462.5zM1466.04 2462.5V1838.0h4.19V2462.5zM1470.21 2462.5V2149.0h4.19V2462.5zM1472.30 2462.5V2025.1h4.19V2462.5zM1476.47 2462.5V2140.9h4.19V2462.5zM1478.55 2462.5V1892.4h4.19V2462.5zM1480.64 2462.5V2089.3h4.19V2462.5zM1484.81 2462.5V2001.6h4.19V2462.5zM1486.90 2462.5V1800.7h4.19V2462.5zM1491.07 2462.5V1916.3h4.19V2462.5zM1493.15 2462.5V2142.1h4.19V2462.5zM1497.32 2462.5V1823.2h4.19V2462.5zM1499.41 2462.5V1938.6h4.19V2462.5zM1501.49 2462.5V2116.2h4.19V2462.5zM1505.66 2462.5V2003.7h4.19V2462.5zM1507.75 2462.5V1911.8h4.19V2462.5zM1511.92 2462.5V2152.0h4.19V2462.5zM1514.01 2462.5V2313.4h4.19V2462.5zM1516.09 2462.5V2191.2h4.19V2462.5zM1520.26 2462.5V2290.1h4.19V2462.5zM1522.35 2462.5V2105.9h4.19V2462.5zM1526.52 2462.5V2278.4h4.19V2462.5zM1528.60 2462.5V2063.4h4.19V2462.5zM1532.77 2462.5V2163.2h4.19V2462.5zM1534.86 2462.5V2215.3h4.19V2462.5zM1536.95 2462.5V2168.5h4.19V2462.5zM1541.12 2462.5V2166.5h4.19V2462.5zM1543.20 2462.5V2303.3h4.19V2462.5zM1547.37 2462.5V2070.9h4.19V2462.5zM1549.46 2462.5V2011.9h4.19V2462.5zM1553.63 2462.5V2196.5h4.19V2462.5zM1555.71 2462.5V2143.8h4.19V2462.5zM1557.80 2462.5V2062.2h4.19V2462.5zM1561.97 2462.5V2152.0h4.19V2462.5zM1564.06 2462.5V2189.3h4.19V2462.5zM1568.23 2462.5V2011.9h4.19V2462.5zM1570.31 2462.5V2133.5h4.19V2462.5zM1572.40 2462.5V2069.1h4.19V2462.5zM1576.57 2462.5V1911.8h4.19V2462.5zM1578.65 2462.5V1938.6h4.19V2462.5zM1582.83 2462.5V1800.7h4.19V2462.5zM1584.91 2462.5V1800.7h4.19V2462.5zM1589.08 2462.5V2024.3h4.19V2462.5zM1591.17 2462.5V1842.1h4.19V2462.5zM1593.25 2462.5V1873.9h4.19V2462.5zM1597.42 2462.5V2084.0h4.19V2462.5zM1599.51 2462.5V1966.6h4.19V2462.5zM1603.68 2462.5V2191.7h4.19V2462.5zM1605.77 2462.5V2143.8h4.19V2462.5zM1609.94 2462.5V2029.2h4.19V2462.5zM1612.02 2462.5V2224.7h4.19V2462.5zM1614.11 2462.5V2094.3h4.19V2462.5zM1618.28 2462.5V2234.5h4.19V2462.5zM1620.36 2462.5V2325.5h4.19V2462.5zM1624.53 2462.5V2226.2h4.19V2462.5zM1626.62 2462.5V2341.7h4.19V2462.5zM1630.79 2462.5V2184.2h4.19V2462.5zM1632.88 2462.5V2121.1h4.19V2462.5zM1634.96 2462.5V2155.3h4.19V2462.5zM1639.13 2462.5V2220.0h4.19V2462.5zM1641.22 2462.5V2218.0h4.19V2462.5zM1645.39 2462.5V2236.9h4.19V2462.5zM1647.47 2462.5V2248.9h4.19V2462.5zM1649.56 2462.5V2267.5h4.19V2462.5zM1653.73 2462.5V2381.7h4.19V2462.5zM1655.82 2462.5V2290.2h4.19V2462.5zM1659.99 2462.5V2376.7h4.19V2462.5zM1662.07 2462.5V2359.2h4.19V2462.5zM1666.24 2462.5V2330.0h4.19V2462.5zM1668.33 2462.5V2307.9h4.19V2462.5zM1670.41 2462.5V2368.5h4.19V2462.5zM1674.59 2462.5V2422.0h4.19V2462.5zM1676.67 2462.5V2446.8h4.19V2462.5zM1680.84 2462.5V2423.6h4.19V2462.5zM1682.93 2462.5V2392.4h4.19V2462.5zM1687.10 2462.5V2419.2h4.19V2462.5zM1689.18 2462.5V2427.4h4.19V2462.5zM1691.27 2462.5V2436.5h4.19V2462.5zM1695.44 2462.5V2441.6h4.19V2462.5zM1697.53 2462.5V2446.8h4.19V2462.5zM1701.70 2462.5V2446.8h4.19V2462.5zM1703.78 2462.5V2446.8h4.19V2462.5zM1707.95 2462.5V2436.5h4.19V2462.5zM1710.04 2462.5V2442.4h4.19V2462.5zM1712.12 2462.5V2446.8h4.19V2462.5zM1716.29 2462.5V2440.6h4.19V2462.5zM1718.38 2462.5V2436.5h4.19V2462.5zM1722.55 2462.5V2446.8h4.19V2462.5zM1724.64 2462.5V2444.0h4.19V2462.5zM1726.72 2462.5V2441.8h4.19V2462.5zM1730.89 2462.5V2457.1h4.19V2462.5zM1745.49 2462.5V2458.7h4.19V2462.5zM1747.58 2462.5V2457.6h4.19V2462.5zM1751.75 2462.5V2457.5h4.19V2462.5zM1766.34 2462.5V2457.1h4.19V2462.5zM1785.11 2462.5V2457.1h4.19V2462.5zM1793.46 2462.5V2457.8h4.19V2462.5zM1814.31 2462.5V2456.6h4.19V2462.5zM1822.65 2462.5V2457.8h4.19V2462.5zM1851.85 2462.5V2458.7h4.19V2462.5zM1858.10 2462.5V2457.4h4.19V2462.5zM1893.56 2462.5V2458.5h4.19V2462.5zM1899.81 2462.5V2456.5h4.19V2462.5z"/>
<path fill="#0070b6" d="M1170.81 2462.5V2447.4h2.39V2462.5zM1172.89 2462.5V2432.9h2.39V2462.5zM1177.06 2462.5V2432.9h2.39V2462.5zM1179.15 2462.5V2445.9h2.39V2462.5zM1183.32 2462.5V2455.6h2.39V2462.5zM1185.41 2462.5V2424.7h2.39V2462.5zM1189.58 2462.5V2451.5h2.39V2462.5zM1191.66 2462.5V2443.1h2.39V2462.5zM1193.75 2462.5V2432.9h2.39V2462.5zM1197.92 2462.5V2437.1h2.39V2462.5zM1200.00 2462.5V2443.4h2.39V2462.5zM1204.17 2462.5V2447.4h2.39V2462.5zM1206.26 2462.5V2415.2h2.39V2462.5zM1208.35 2462.5V2430.9h2.39V2462.5zM1212.52 2462.5V2397.1h2.39V2462.5zM1214.60 2462.5V2415.2h2.39V2462.5zM1218.77 2462.5V2411.7h2.39V2462.5zM1220.86 2462.5V2405.3h2.39V2462.5zM1225.03 2462.5V2435.0h2.39V2462.5zM1227.11 2462.5V2425.2h2.39V2462.5zM1229.20 2462.5V2415.2h2.39V2462.5zM1233.37 2462.5V2445.3h2.39V2462.5zM1235.46 2462.5V2390.7h2.39V2462.5zM1239.63 2462.5V2364.9h2.39V2462.5zM1241.71 2462.5V2447.4h2.39V2462.5zM1245.88 2462.5V2419.8h2.39V2462.5zM1247.97 2462.5V2397.1h2.39V2462.5zM1250.05 2462.5V2414.4h2.39V2462.5zM1254.23 2462.5V2416.4h2.39V2462.5zM1256.31 2462.5V2419.8h2.39V2462.5zM1260.48 2462.5V2424.4h2.39V2462.5zM1262.57 2462.5V2428.8h2.39V2462.5zM1266.74 2462.5V2435.0h2.39V2462.5zM1268.82 2462.5V2437.6h2.39V2462.5zM1270.91 2462.5V2443.2h2.39V2462.5zM1275.08 2462.5V2434.0h2.39V2462.5zM1277.17 2462.5V2417.7h2.39V2462.5zM1281.34 2462.5V2409.5h2.39V2462.5zM1283.42 2462.5V2447.4h2.39V2462.5zM1285.51 2462.5V2382.3h2.39V2462.5zM1289.68 2462.5V2401.8h2.39V2462.5zM1291.76 2462.5V2415.2h2.39V2462.5zM1295.93 2462.5V2382.3h2.39V2462.5zM1298.02 2462.5V2368.9h2.39V2462.5zM1302.19 2462.5V2346.4h2.39V2462.5zM1304.28 2462.5V2354.6h2.39V2462.5zM1306.36 2462.5V2277.2h2.39V2462.5zM1310.53 2462.5V2317.6h2.39V2462.5zM1312.62 2462.5V2298.6h2.39V2462.5zM1316.79 2462.5V2269.3h2.39V2462.5zM1318.87 2462.5V2257.8h2.39V2462.5zM1323.04 2462.5V2222.0h2.39V2462.5zM1325.13 2462.5V2290.8h2.39V2462.5zM1327.22 2462.5V2287.3h2.39V2462.5zM1331.39 2462.5V2071.5h2.39V2462.5zM1333.47 2462.5V2140.3h2.39V2462.5zM1337.64 2462.5V2206.0h2.39V2462.5zM1339.73 2462.5V1933.0h2.39V2462.5zM1343.90 2462.5V2128.0h2.39V2462.5zM1345.98 2462.5V1906.2h2.39V2462.5zM1348.07 2462.5V1915.7h2.39V2462.5zM1352.24 2462.5V2039.3h2.39V2462.5zM1354.33 2462.5V2243.5h2.39V2462.5zM1358.50 2462.5V2094.9h2.39V2462.5zM1360.58 2462.5V2054.5h2.39V2462.5zM1362.67 2462.5V1804.4h2.39V2462.5zM1366.84 2462.5V2047.6h2.39V2462.5zM1368.92 2462.5V2200.5h2.39V2462.5zM1373.10 2462.5V1898.0h2.39V2462.5zM1375.18 2462.5V2071.5h2.39V2462.5zM1379.35 2462.5V2251.1h2.39V2462.5zM1381.44 2462.5V1933.0h2.39V2462.5zM1383.52 2462.5V2105.9h2.39V2462.5zM1387.69 2462.5V2121.7h2.39V2462.5zM1389.78 2462.5V1912.4h2.39V2462.5zM1393.95 2462.5V2051.3h2.39V2462.5zM1396.04 2462.5V1870.4h2.39V2462.5zM1400.21 2462.5V2198.6h2.39V2462.5zM1402.29 2462.5V2177.4h2.39V2462.5zM1404.38 2462.5V1952.0h2.39V2462.5zM1408.55 2462.5V2024.9h2.39V2462.5zM1410.63 2462.5V2046.8h2.39V2462.5zM1414.80 2462.5V2124.9h2.39V2462.5zM1416.89 2462.5V1862.1h2.39V2462.5zM1421.06 2462.5V2219.9h2.39V2462.5zM1423.15 2462.5V2024.9h2.39V2462.5zM1425.23 2462.5V2099.1h2.39V2462.5zM1429.40 2462.5V2213.6h2.39V2462.5zM1431.49 2462.5V1994.0h2.39V2462.5zM1435.66 2462.5V2244.9h2.39V2462.5zM1437.74 2462.5V2064.0h2.39V2462.5zM1439.83 2462.5V1994.0h2.39V2462.5zM1444.00 2462.5V2041.9h2.39V2462.5zM1446.09 2462.5V1906.2h2.39V2462.5zM1450.26 2462.5V2104.3h2.39V2462.5zM1452.34 2462.5V2130.0h2.39V2462.5zM1456.51 2462.5V1888.9h2.39V2462.5zM1458.60 2462.5V2103.2h2.39V2462.5zM1460.68 2462.5V2206.7h2.39V2462.5zM1464.86 2462.5V2029.0h2.39V2462.5zM1466.94 2462.5V1838.6h2.39V2462.5zM1471.11 2462.5V2149.6h2.39V2462.5zM1473.20 2462.5V2025.7h2.39V2462.5zM1477.37 2462.5V2141.5h2.39V2462.5zM1479.45 2462.5V1893.0h2.39V2462.5zM1481.54 2462.5V2089.9h2.39V2462.5zM1485.71 2462.5V2002.2h2.39V2462.5zM1487.80 2462.5V1801.3h2.39V2462.5zM1491.97 2462.5V1916.9h2.39V2462.5zM1494.05 2462.5V2142.7h2.39V2462.5zM1498.22 2462.5V1823.8h2.39V2462.5zM1500.31 2462.5V1939.2h2.39V2462.5zM1502.39 2462.5V2116.8h2.39V2462.5zM1506.56 2462.5V2004.3h2.39V2462.5zM1508.65 2462.5V1912.4h2.39V2462.5zM1512.82 2462.5V2152.6h2.39V2462.5zM1514.91 2462.5V2314.0h2.39V2462.5zM1516.99 2462.5V2191.8h2.39V2462.5zM1521.16 2462.5V2290.7h2.39V2462.5zM1523.25 2462.5V2106.5h2.39V2462.5zM1527.42 2462.5V2279.0h2.39V2462.5zM1529.50 2462.5V2064.0h2.39V2462.5zM1533.67 2462.5V2163.8h2.39V2462.5zM1535.76 2462.5V2215.9h2.39V2462.5zM1537.85 2462.5V2169.1h2.39V2462.5zM1542.02 2462.5V2167.1h2.39V2462.5zM1544.10 2462.5V2303.9h2.39V2462.5zM1548.27 2462.5V2071.5h2.39V2462.5zM1550.36 2462.5V2012.5h2.39V2462.5zM1554.53 2462.5V2197.1h2.39V2462.5zM1556.61 2462.5V2144.4h2.39V2462.5zM1558.70 2462.5V2062.8h2.39V2462.5zM1562.87 2462.5V2152.6h2.39V2462.5zM1564.96 2462.5V2189.9h2.39V2462.5zM1569.13 2462.5V2012.5h2.39V2462.5zM1571.21 2462.5V2134.1h2.39V2462.5zM1573.30 2462.5V2069.7h2.39V2462.5zM1577.47 2462.5V1912.4h2.39V2462.5zM1579.55 2462.5V1939.2h2.39V2462.5zM1583.73 2462.5V1801.3h2.39V2462.5zM1585.81 2462.5V1801.3h2.39V2462.5zM1589.98 2462.5V2024.9h2.39V2462.5zM1592.07 2462.5V1842.7h2.39V2462.5zM1594.15 2462.5V1874.5h2.39V2462.5zM1598.32 2462.5V2084.6h2.39V2462.5zM1600.41 2462.5V1967.2h2.39V2462.5zM1604.58 2462.5V2192.3h2.39V2462.5zM1606.67 2462.5V2144.4h2.39V2462.5zM1610.84 2462.5V2029.8h2.39V2462.5zM1612.92 2462.5V2225.3h2.39V2462.5zM1615.01 2462.5V2094.9h2.39V2462.5zM1619.18 2462.5V2235.1h2.39V2462.5zM1621.26 2462.5V2326.1h2.39V2462.5zM1625.43 2462.5V2226.8h2.39V2462.5zM1627.52 2462.5V2342.3h2.39V2462.5zM1631.69 2462.5V2184.8h2.39V2462.5zM1633.78 2462.5V2121.7h2.39V2462.5zM1635.86 2462.5V2155.9h2.39V2462.5zM1640.03 2462.5V2220.6h2.39V2462.5zM1642.12 2462.5V2218.6h2.39V2462.5zM1646.29 2462.5V2237.5h2.39V2462.5zM1648.37 2462.5V2249.5h2.39V2462.5zM1650.46 2462.5V2268.1h2.39V2462.5zM1654.63 2462.5V2382.3h2.39V2462.5zM1656.72 2462.5V2290.8h2.39V2462.5zM1660.89 2462.5V2377.3h2.39V2462.5zM1662.97 2462.5V2359.8h2.39V2462.5zM1667.14 2462.5V2330.6h2.39V2462.5zM1669.23 2462.5V2308.5h2.39V2462.5zM1671.31 2462.5V2369.1h2.39V2462.5zM1675.49 2462.5V2422.6h2.39V2462.5zM1677.57 2462.5V2447.4h2.39V2462.5zM1681.74 2462.5V2424.2h2.39V2462.5zM1683.83 2462.5V2393.0h2.39V2462.5zM1688.00 2462.5V2419.8h2.39V2462.5zM1690.08 2462.5V2428.0h2.39V2462.5zM1692.17 2462.5V2437.1h2.39V2462.5zM1696.34 2462.5V2442.2h2.39V2462.5zM1698.43 2462.5V2447.4h2.39V2462.5zM1702.60 2462.5V2447.4h2.39V2462.5zM1704.68 2462.5V2447.4h2.39V2462.5zM1708.85 2462.5V2437.1h2.39V2462.5zM1710.94 2462.5V2443.0h2.39V2462.5zM1713.02 2462.5V2447.4h2.39V2462.5zM1717.19 2462.5V2441.2h2.39V2462.5zM1719.28 2462.5V2437.1h2.39V2462.5zM1723.45 2462.5V2447.4h2.39V2462.5zM1725.54 2462.5V2444.6h2.39V2462.5zM1727.62 2462.5V2442.4h2.39V2462.5zM1731.79 2462.5V2457.7h2.39V2462.5zM1746.39 2462.5V2459.3h2.39V2462.5zM1748.48 2462.5V2458.2h2.39V2462.5zM1752.65 2462.5V2458.1h2.39V2462.5zM1767.24 2462.5V2457.7h2.39V2462.5zM1786.01 2462.5V2457.7h2.39V2462.5zM1794.36 2462.5V2458.4h2.39V2462.5zM1815.21 2462.5V2457.2h2.39V2462.5zM1823.55 2462.5V2458.4h2.39V2462.5zM1852.75 2462.5V2459.3h2.39V2462.5zM1859.00 2462.5V2458.0h2.39V2462.5zM1894.46 2462.5V2459.1h2.39V2462.5zM1900.71 2462.5V2457.1h2.39V2462.5z"/>
<rect x="1097.5" y="1800.3" width="907.5" height="716.1" fill="none" stroke="#262626" stroke-width="2"/>
<rect x="1097.5" y="2460.5" width="907.5" height="4" fill="#1a1a1a"/>
<rect x="1927.8" y="2454.5" width="1.6" height="61.9" fill="#262626"/>
<text class="xl" x="1172.0" y="2544.8">0</text>
<text class="xl" x="1323.3" y="2544.8">0.2</text>
<text class="xl" x="1474.6" y="2544.8">0.4</text>
<text class="xl" x="1626.0" y="2544.8">0.6</text>
<text class="xl" x="1777.3" y="2544.8">0.8</text>
<text class="xl" x="1928.6" y="2544.8">1</text>
<text class="yl" x="1083.3" y="2476.1">0</text>
<text class="yl" x="1083.3" y="2384.7">20</text>
<text class="yl" x="1083.3" y="2293.3">40</text>
<text class="yl" x="1083.3" y="2201.9">60</text>
<text class="yl" x="1083.3" y="2110.5">80</text>
<text class="yl" x="1083.3" y="2019.1">100</text>
<text class="yl" x="1083.3" y="1927.7">120</text>
<text class="yl" x="1083.3" y="1836.3">140</text>
<path d="M1172.0 1800.3v8M1172.0 2516.4v-8M1172.0 2462.5v-8M1323.3 1800.3v8M1323.3 2516.4v-8M1323.3 2462.5v-8M1474.6 1800.3v8M1474.6 2516.4v-8M1474.6 2462.5v-8M1626.0 1800.3v8M1626.0 2516.4v-8M1626.0 2462.5v-8M1777.3 1800.3v8M1777.3 2516.4v-8M1777.3 2462.5v-8M1928.6 1800.3v8M1928.6 2516.4v-8M1928.6 2462.5v-8M1097.5 2462.5h8M2005.0 2462.5h-8M1097.5 2371.1h8M2005.0 2371.1h-8M1097.5 2279.7h8M2005.0 2279.7h-8M1097.5 2188.3h8M2005.0 2188.3h-8M1097.5 2096.9h8M2005.0 2096.9h-8M1097.5 2005.5h8M2005.0 2005.5h-8M1097.5 1914.1h8M2005.0 1914.1h-8M1097.5 1822.7h8M2005.0 1822.7h-8M1097.5 2491.5h8M2005.0 2491.5h-8" stroke="#262626" stroke-width="2" fill="none"/>
</svg>
<figcaption style="left:1055.6px;top:2594.5px"><span>(</span>c<span>)</span></figcaption>
</figure>
<figure id="panel-d">
<svg class="heat" style="left:37.0px;top:2685.5px" width="982.5" height="776.5" viewBox="2 2 100 100" preserveAspectRatio="none">
<g filter="url(#hb)" fill="none" stroke-width="1.04" transform="translate(0 0.5)">
<path stroke="#3e26a8" d="M33 19h1M37 19h2M41 19h3M47 19h1M39 26h2M69 31h1M69 32h1M69 33h1M69 34h1"/>
<path stroke="#402ab4" d="M58 3h1M63 3h1M32 19h1M39 19h2M46 19h1M31 20h1M54 25h1M69 25h1M41 26h1M48 26h3M48 27h1M68 27h1M54 29h2M68 31h1M68 32h1M68 34h1"/>
<path stroke="#422ec0" d="M57 3h1M61 3h2M64 3h1M67 7h1M68 18h1M31 19h1M34 19h1M36 19h1M44 19h1M48 19h3M32 20h2M69 22h1M68 24h1M68 25h1M38 26h1M42 26h3M46 26h2M38 27h1M46 27h2M49 27h2M55 30h1M69 30h1M55 31h1M68 33h1"/>
<path stroke="#4332cb" d="M56 3h1M59 3h2M65 3h1M67 13h1M35 19h1M45 19h1M68 19h1M34 20h1M69 20h1M69 21h1M68 23h2M53 26h2M68 26h1M39 27h7M53 27h1M69 27h1M68 29h1M54 30h1M68 30h1M55 32h1M69 35h1M18 93h3"/>
<path stroke="#4537d6" d="M68 4h1M67 8h1M67 9h1M67 14h1M68 15h1M68 16h2M68 17h2M69 18h1M68 20h1M68 21h1M68 22h1M69 24h1M45 26h1M51 26h1M51 27h1M54 27h1M54 28h2M68 28h1M54 31h1M54 32h1M68 35h1M17 93h1M12 94h4"/>
<path stroke="#463be2" d="M55 3h1M66 3h1M61 4h4M67 10h1M67 12h1M69 15h1M47 18h1M69 19h1M35 20h1M55 25h1M52 26h1M69 26h1M37 27h1M52 27h1M39 28h2M54 35h1M56 58h2M21 93h1M10 94h2M0 98h4"/>
<path stroke="#4741ed" d="M67 3h2M56 4h2M65 4h3M81 6h1M80 7h2M44 18h1M46 18h1M48 18h1M51 19h1M39 20h2M55 27h1M69 28h1M55 35h1M56 57h1M58 58h1M56 59h2M16 93h1M9 94h1M16 94h1M0 95h2M4 98h1"/>
<path stroke="#4746f7" d="M55 4h1M59 4h2M50 6h1M79 6h2M67 11h1M68 13h1M68 14h1M67 15h1M37 18h1M45 18h1M36 20h3M41 20h3M53 25h1M55 26h1M67 27h1M69 29h1M54 34h1M54 36h2M54 37h2M55 57h1M57 57h1M8 94h1M2 95h3"/>
<path stroke="#464cff" d="M79 7h1M68 8h1M68 12h1M38 18h1M49 18h2M44 20h1M67 24h1M40 25h1M44 25h1M49 25h2M67 25h1M37 26h1M67 26h1M38 28h1M41 28h1M67 29h1M54 33h1M55 34h1M67 34h1M58 59h1M15 93h1M5 95h1M7 95h2"/>
<path stroke="#4551ff" d="M59 2h2M58 4h1M68 7h1M78 7h1M68 9h1M68 10h1M68 11h1M36 18h1M43 18h1M67 18h1M67 19h1M30 20h1M45 20h1M41 25h1M45 25h1M52 25h1M42 28h3M46 28h3M67 30h1M67 31h1M67 32h1M55 33h1M67 33h1M56 56h2M58 57h1M55 58h1M55 59h1M45 91h1M6 94h1M17 94h1M6 95h1"/>
<path stroke="#4457ff" d="M58 2h1M61 2h3M50 7h1M66 7h1M67 17h1M39 18h4M0 19h3M46 20h2M49 20h2M67 23h1M46 25h1M48 25h1M37 28h1M45 28h1M49 28h2M67 28h1M67 35h1M55 56h1M46 91h1M14 93h1M7 94h1M9 95h3"/>
<path stroke="#415cff" d="M64 2h1M67 2h2M78 6h1M66 13h1M67 16h1M35 18h1M30 19h1M48 20h1M30 21h1M67 21h1M67 22h1M54 24h1M39 25h1M47 25h1M53 28h1M53 30h1M53 31h1M82 49h2M58 56h1M45 90h1M47 91h1M5 94h1M18 94h1"/>
<path stroke="#3e62ff" d="M55 2h2M65 2h2M49 6h1M66 9h1M66 14h1M51 18h1M0 20h3M67 20h1M31 21h1M53 24h1M42 25h2M51 25h1M44 32h1M53 32h1M53 36h1M69 36h1M81 49h1M58 50h1M46 90h1M13 93h1M0 97h5M5 98h1"/>
<path stroke="#3969ff" d="M57 2h1M66 8h1M66 10h1M66 12h1M6 13h1M11 16h1M33 18h2M51 20h1M55 24h1M51 28h1M44 31h1M45 32h1M53 35h1M68 36h1M68 48h1M54 57h1M43 84h3M43 85h1M47 90h1M44 91h1M45 92h3M22 93h1M4 94h1M19 94h1M0 99h4"/>
<path stroke="#326fff" d="M50 5h1M51 6h1M67 6h1M5 13h1M11 17h1M3 19h1M39 21h2M39 24h2M52 24h1M35 27h1M12 29h2M53 29h1M12 30h2M12 31h2M45 31h1M67 36h1M53 37h1M68 49h1M84 49h2M56 50h2M59 50h1M82 50h2M53 56h1M54 58h1M54 59h1M49 83h2M46 84h2M44 85h2M12 88h2M44 88h1M44 89h3M44 90h1M48 91h1M20 92h1M12 93h1M89 94h1M12 95h1M39 95h2M44 97h2M39 98h3M4 99h1"/>
<path stroke="#2976ff" d="M59 0h2M59 1h2M54 3h1M69 4h1M55 5h2M68 5h1M49 7h1M76 8h1M66 11h1M69 11h1M69 12h1M7 13h1M5 14h2M31 18h2M3 20h1M29 21h1M38 21h1M30 22h1M48 22h1M39 23h10M35 25h1M38 25h1M35 26h1M34 27h1M36 27h1M15 28h2M11 29h1M14 29h1M14 30h1M46 31h1M53 33h1M38 35h1M11 36h1M38 36h3M44 36h1M47 37h2M86 38h1M67 48h1M81 50h1M54 56h1M53 57h1M59 58h2M59 59h2M57 60h1M49 82h2M47 83h1M37 84h2M48 84h2M46 85h2M11 86h1M42 86h2M57 86h1M12 87h2M14 88h1M45 88h4M47 89h2M48 90h1M37 91h1M39 92h2M44 92h1M48 92h1M41 93h3M47 93h1M42 94h2M88 94h1M90 94h1M41 95h1M57 95h1M42 98h3M79 98h1M91 98h2M44 99h1"/>
<path stroke="#1f7dff" d="M61 0h3M61 1h3M57 5h1M69 5h1M51 7h1M76 7h2M7 12h1M7 14h1M69 14h1M11 15h1M66 15h1M12 16h1M81 16h1M12 17h1M81 17h1M30 18h1M55 20h1M32 21h1M41 21h1M29 22h1M31 22h1M35 24h4M41 24h1M12 25h3M29 25h2M36 25h2M14 26h1M36 26h1M52 28h1M15 29h2M15 30h2M37 30h1M42 30h2M86 30h1M17 31h1M37 31h1M70 31h1M42 32h2M46 32h1M70 32h1M45 33h1M39 34h2M53 34h1M37 35h1M39 35h3M86 35h1M10 36h1M14 36h1M37 36h1M41 36h1M45 36h1M86 36h1M11 37h1M39 37h2M46 37h1M86 37h1M15 38h2M48 38h3M15 39h2M86 39h1M14 40h3M86 40h1M14 41h3M4 42h1M4 43h1M67 49h1M84 50h1M27 52h1M53 59h1M56 60h1M58 60h1M94 63h1M89 67h2M96 76h1M51 82h1M37 83h2M43 83h1M45 83h2M48 83h1M51 83h1M42 84h1M50 84h1M42 85h1M48 85h3M12 86h2M17 86h2M41 86h1M46 86h3M56 86h1M11 87h1M14 87h1M17 87h2M41 87h4M57 87h1M15 88h2M22 88h1M58 88h1M42 89h2M49 89h2M58 89h1M37 90h2M42 90h2M49 90h2M38 91h3M49 91h2M19 92h1M21 92h1M41 92h3M98 92h2M37 93h4M46 93h1M48 93h1M59 93h2M20 94h1M39 94h3M44 94h1M47 94h2M13 95h1M37 95h1M42 95h3M56 95h1M37 96h1M5 97h1M38 97h6M46 97h1M45 98h1M49 98h3M53 98h1M45 99h1M59 101h2M59 102h2M59 103h2"/>
<path stroke="#1984ff" d="M58 0h1M64 0h1M68 0h1M58 1h1M64 1h1M68 1h1M54 2h1M69 2h1M66 6h1M69 8h1M6 12h1M69 13h1M76 14h1M12 15h1M76 15h1M10 16h1M81 18h1M81 19h1M29 20h1M54 20h1M33 21h2M42 21h2M48 21h1M25 22h1M38 22h3M44 22h1M46 22h2M49 22h2M53 22h3M30 23h1M35 23h1M12 24h2M44 24h7M11 25h1M31 25h1M34 25h1M86 25h1M12 26h2M16 26h2M34 26h1M11 27h1M86 27h1M11 28h1M14 28h1M17 28h1M35 28h2M10 29h1M36 29h2M39 29h5M7 30h2M11 30h1M36 30h1M38 30h1M41 30h1M51 30h2M14 31h1M16 31h1M36 31h1M38 31h1M42 31h2M47 31h6M39 32h3M56 32h1M15 33h2M39 33h2M44 33h1M46 33h1M70 33h1M41 34h1M45 34h1M70 34h1M11 35h4M42 35h2M4 36h3M9 36h1M12 36h2M15 36h2M42 36h2M46 36h2M12 37h2M37 37h2M44 37h2M12 38h3M17 38h1M39 38h2M46 38h2M14 39h1M39 39h2M5 40h2M17 40h1M5 41h2M17 41h1M86 41h1M3 42h1M5 43h1M5 44h1M85 46h1M61 50h2M85 50h1M61 58h1M53 60h1M90 61h1M93 61h1M88 62h3M74 63h2M85 63h1M95 63h1M74 64h2M86 64h1M94 64h2M74 65h2M85 65h2M91 66h2M96 66h1M88 67h1M97 76h1M84 77h4M47 82h2M39 83h4M44 83h1M53 83h1M41 84h1M11 85h4M41 85h1M14 86h3M39 86h2M44 86h2M15 87h2M22 87h1M39 87h2M45 87h4M56 87h1M58 87h1M11 88h1M17 88h3M21 88h1M37 88h1M41 88h3M49 88h3M57 88h1M59 88h2M14 89h3M37 89h2M41 89h1M56 89h2M39 90h3M55 90h1M58 90h1M36 91h1M41 91h1M59 91h2M89 91h1M99 91h2M37 92h2M49 92h2M59 92h2M100 92h1M44 93h2M49 93h2M88 93h2M101 93h3M3 94h1M37 94h2M45 94h2M54 94h4M59 94h2M101 94h3M36 95h1M38 95h1M45 95h7M53 95h1M58 95h1M89 95h1M96 95h1M36 96h1M41 96h7M49 96h2M73 96h1M78 96h1M37 97h1M47 97h5M53 97h1M73 97h1M89 97h2M38 98h1M46 98h1M52 98h1M80 98h1M98 98h1M5 99h1M61 101h2M61 102h2M61 103h2"/>
<path stroke="#168aff" d="M52 0h2M66 0h2M52 1h2M66 1h2M52 2h2M49 5h1M61 5h7M68 6h1M81 8h1M76 9h1M69 10h1M5 12h1M8 12h1M8 13h1M37 13h1M39 14h1M7 15h1M80 16h1M10 17h1M11 18h2M29 18h1M62 18h1M66 18h1M29 19h1M66 19h1M35 21h3M54 21h2M10 22h4M24 22h1M32 22h3M41 22h3M45 22h1M51 22h1M11 23h1M25 23h1M29 23h1M31 23h1M34 23h1M36 23h1M49 23h2M54 23h2M11 24h1M30 24h5M42 24h2M51 24h1M15 25h2M24 25h1M70 25h1M85 25h1M11 26h1M15 26h1M30 26h4M85 26h2M12 27h2M25 27h1M6 28h1M10 28h1M24 28h2M30 28h2M34 28h1M86 28h1M17 29h1M34 29h2M38 29h1M49 29h2M85 29h2M5 30h2M9 30h1M17 30h1M39 30h2M47 30h1M49 30h2M85 30h1M11 31h1M15 31h1M22 31h1M39 31h3M86 31h1M7 32h2M11 32h4M37 32h1M47 32h1M52 32h1M4 33h3M12 33h3M17 33h1M36 33h3M41 33h1M47 33h1M49 33h2M85 33h1M4 34h1M11 34h3M42 34h2M46 34h2M86 34h1M9 35h2M15 35h3M36 35h1M17 36h1M36 36h1M48 36h1M52 36h1M5 37h2M10 37h1M14 37h4M41 37h1M49 37h2M67 37h1M69 37h1M5 38h2M11 38h1M36 38h2M44 38h2M54 38h2M3 39h1M5 39h3M11 39h1M17 39h1M7 40h1M11 40h3M4 41h1M12 41h2M61 41h1M5 42h1M15 42h1M61 42h1M3 43h1M6 43h1M4 44h1M6 44h1M61 44h1M12 45h3M61 45h2M85 45h1M61 47h2M0 54h4M59 56h2M59 57h2M61 59h1M55 60h1M89 61h1M91 61h2M94 61h1M93 62h3M76 63h3M81 63h4M87 63h1M93 63h1M76 64h3M85 64h1M87 64h1M91 64h3M96 64h1M78 65h3M87 65h1M91 65h2M95 65h2M86 66h1M89 66h2M93 66h1M97 66h1M91 67h3M96 67h2M99 73h1M91 75h2M94 75h2M99 75h2M39 82h2M36 83h1M52 83h1M58 83h1M36 84h1M39 84h2M51 84h1M58 84h1M15 85h2M37 85h4M51 85h1M57 85h1M19 86h4M49 86h2M58 86h1M19 87h3M37 87h1M49 87h3M53 87h1M20 88h1M23 88h1M38 88h3M53 88h1M56 88h1M12 89h2M39 89h2M51 89h1M54 89h2M59 89h3M96 89h1M36 90h1M51 90h1M54 90h1M56 90h2M59 90h3M89 90h2M98 90h3M42 91h2M51 91h1M54 91h2M58 91h1M61 91h1M88 91h1M98 91h1M18 92h1M36 92h1M51 92h1M61 92h1M97 92h1M11 93h1M36 93h1M51 93h1M53 93h1M61 93h1M21 94h1M36 94h1M49 94h3M53 94h1M58 94h1M14 95h1M52 95h1M54 95h1M88 95h1M90 95h1M95 95h1M97 95h1M35 96h1M38 96h3M48 96h1M74 96h1M77 96h1M79 96h1M89 96h2M94 96h2M101 96h3M52 97h1M59 97h2M78 97h2M91 97h2M99 97h1M47 98h2M59 98h2M73 98h6M90 98h1M93 98h1M97 98h1M99 98h5M38 99h6M46 99h1M49 99h2M56 100h2M56 101h2M63 101h1M56 102h2M63 102h1M56 103h2M63 103h1"/>
<path stroke="#1490ff" d="M54 0h4M65 0h1M69 0h1M54 1h4M65 1h1M69 1h1M52 3h2M69 3h1M54 4h1M54 5h1M58 5h3M76 6h1M75 9h1M45 10h1M42 12h4M39 13h6M8 14h1M27 14h1M40 14h1M8 15h1M27 15h1M81 15h1M76 16h1M80 17h1M10 18h1M61 18h1M63 18h1M79 18h2M79 19h2M22 20h2M53 20h1M11 21h3M25 21h1M44 21h1M46 21h2M49 21h2M53 21h1M85 21h1M35 22h2M52 22h1M10 23h1M12 23h2M22 23h3M32 23h2M37 23h2M14 24h1M22 24h2M29 24h1M10 25h1M17 25h1M22 25h2M25 25h1M18 26h1M29 26h1M10 27h1M14 27h4M22 27h3M29 27h3M85 27h1M5 28h1M18 28h1M29 28h1M32 28h2M56 28h1M9 29h1M46 29h2M56 29h1M4 30h1M10 30h1M44 30h1M46 30h1M48 30h1M8 31h1M9 32h1M15 32h2M36 32h1M48 32h1M51 32h1M85 32h1M3 33h1M7 33h1M11 33h1M42 33h2M48 33h1M3 34h1M5 34h4M14 34h1M16 34h2M36 34h3M44 34h1M49 34h2M85 34h1M4 35h3M44 35h4M49 35h4M3 36h1M8 36h1M51 36h1M4 37h1M7 37h3M36 37h1M51 37h1M68 37h1M85 37h1M3 38h2M7 38h1M10 38h1M38 38h1M41 38h1M51 38h1M4 39h1M8 39h3M12 39h2M38 39h1M41 39h1M85 39h1M4 40h1M8 40h1M10 40h1M18 40h3M61 40h2M85 40h1M11 41h1M18 41h1M62 41h1M0 42h3M6 42h1M14 42h1M16 42h1M62 42h1M2 43h1M61 43h1M85 43h1M62 44h1M86 44h1M86 45h1M86 46h1M61 49h2M18 50h3M63 50h1M28 52h1M61 57h1M53 58h1M59 60h2M94 60h2M98 60h6M95 61h1M99 61h1M85 62h3M91 62h2M73 63h1M79 63h2M86 63h1M88 63h1M90 63h3M96 63h1M101 63h3M73 64h1M79 64h2M88 64h1M97 64h7M70 65h1M73 65h1M76 65h2M93 65h2M97 65h7M85 66h1M87 66h2M94 66h2M98 66h1M94 67h2M98 67h1M27 69h2M27 70h2M48 71h1M77 73h1M94 73h2M98 73h1M100 73h1M81 74h5M89 74h1M96 74h4M85 75h1M93 75h1M101 75h3M84 76h2M89 76h2M88 77h1M93 77h3M37 78h1M84 79h2M99 79h2M59 80h2M81 80h3M47 81h1M101 81h3M36 82h2M46 82h1M52 82h2M97 82h1M56 83h2M61 83h1M14 84h1M20 84h1M53 84h1M57 84h1M61 84h1M17 85h5M56 85h1M61 85h1M10 86h1M51 86h1M55 86h1M23 87h1M36 87h1M38 87h1M52 87h1M59 87h2M36 88h1M52 88h1M54 88h1M11 89h1M17 89h3M36 89h1M53 89h1M97 89h1M15 90h1M53 90h1M88 90h1M91 90h2M101 90h3M53 91h1M56 91h2M101 91h3M14 92h4M52 92h2M58 92h1M88 92h2M101 92h3M52 93h1M54 93h1M56 93h3M97 93h2M100 93h1M0 94h3M52 94h1M61 94h1M95 94h3M55 95h1M59 95h2M91 95h4M101 95h3M51 96h1M59 96h2M76 96h1M80 96h1M88 96h1M96 96h1M36 97h1M80 97h1M88 97h1M98 97h1M100 97h1M37 98h1M58 98h1M61 98h1M88 98h2M96 98h1M37 99h1M65 99h2M47 100h1M49 100h2M55 100h1M59 100h2M52 101h2M55 101h1M58 101h1M52 102h2M55 102h1M58 102h1M52 103h2M55 103h1M58 103h1"/>
<path stroke="#1196ff" d="M7 0h2M12 0h2M7 1h2M12 1h2M7 2h2M12 2h2M51 5h1M10 6h1M77 6h1M82 6h1M10 7h1M82 7h1M7 8h2M75 8h1M7 9h1M32 9h2M39 9h2M69 9h1M32 10h2M36 10h2M44 10h1M75 10h1M27 11h1M45 11h1M37 12h1M36 13h1M38 13h1M45 13h1M4 14h1M28 14h1M37 14h2M5 15h2M10 15h1M28 15h1M34 15h1M39 15h2M80 15h1M23 16h1M27 16h1M29 16h2M34 16h1M82 16h1M24 17h1M29 17h2M82 17h1M0 18h3M24 18h2M78 18h1M82 18h1M24 19h1M26 19h3M55 19h1M61 19h2M78 19h1M12 20h2M21 20h1M24 20h1M52 20h1M70 20h1M85 20h2M10 21h1M20 21h1M24 21h1M45 21h1M51 21h1M70 21h1M86 21h1M5 22h2M9 22h1M14 22h1M37 22h1M70 22h1M86 22h1M14 23h1M51 23h1M53 23h1M4 24h3M15 24h2M24 24h2M85 24h2M32 25h2M10 26h1M22 26h3M5 27h4M19 27h3M32 27h2M70 27h1M7 28h3M12 28h2M22 28h2M85 28h1M5 29h1M22 29h2M25 29h1M31 29h3M44 29h2M48 29h1M51 29h2M45 30h1M56 30h1M70 30h1M4 31h4M9 31h2M18 31h1M56 31h1M85 31h1M3 32h2M10 32h1M38 32h1M49 32h2M86 32h1M8 33h3M18 33h1M35 33h1M51 33h2M9 34h2M15 34h1M18 34h3M48 34h1M7 35h2M18 35h1M48 35h1M70 35h1M85 35h1M2 36h1M7 36h1M49 36h2M42 37h2M52 37h1M8 38h2M42 38h2M85 38h1M0 39h3M36 39h2M42 39h1M44 39h1M9 40h1M21 40h1M3 41h1M7 41h4M17 42h1M85 42h2M0 43h2M62 43h1M86 43h1M9 44h2M12 44h3M85 44h1M20 45h1M61 46h2M0 47h4M85 47h1M83 48h1M7 49h2M86 49h1M17 50h1M21 50h1M18 52h1M15 53h2M14 54h2M0 55h5M18 55h4M17 56h2M0 57h4M20 57h1M0 58h4M54 60h1M61 60h1M93 60h1M88 61h1M98 61h1M100 61h4M96 62h2M100 62h4M70 63h3M89 63h1M97 63h4M70 64h1M81 64h4M89 64h2M71 65h2M83 65h2M88 65h3M101 66h3M45 67h3M86 67h2M39 68h2M46 68h2M89 68h2M38 69h3M39 70h2M47 71h1M49 71h2M25 72h1M86 73h5M93 73h1M77 74h1M88 74h1M90 74h1M100 74h1M7 75h1M83 75h2M98 75h1M83 76h1M95 76h1M98 76h1M101 76h3M89 77h4M35 78h2M45 78h1M86 78h2M91 78h2M96 78h4M47 79h1M83 79h1M98 79h1M101 79h3M13 80h1M84 80h2M97 80h3M17 81h2M48 81h1M81 81h2M89 81h1M93 81h8M35 82h1M38 82h1M41 82h1M96 82h1M98 82h3M18 83h2M54 83h1M11 84h3M19 84h1M52 84h1M54 84h1M56 84h1M59 84h2M65 84h1M10 85h1M36 85h1M53 85h1M55 85h1M58 85h1M62 85h1M23 86h1M37 86h2M53 86h2M61 86h1M101 86h3M10 87h1M54 87h2M99 87h5M55 88h1M61 88h1M99 88h2M20 89h3M52 89h1M95 89h1M98 89h3M10 90h1M16 90h1M52 90h1M62 90h1M93 90h1M9 91h2M15 91h2M35 91h1M52 91h1M12 92h2M35 92h1M54 92h4M10 93h1M55 93h1M96 93h1M99 93h1M22 94h1M35 94h1M91 94h2M94 94h1M98 94h3M15 95h1M35 95h1M61 95h1M98 95h1M100 95h1M53 96h1M58 96h1M65 96h1M75 96h1M93 96h1M97 96h1M57 97h2M61 97h1M65 97h2M74 97h1M77 97h1M93 97h5M36 98h1M57 98h1M66 98h1M47 99h2M51 99h1M59 99h2M37 100h4M46 100h1M48 100h1M54 100h1M58 100h1M61 100h3M67 100h2M10 101h2M47 101h1M68 101h1M10 102h2M47 102h1M68 102h1M10 103h2M47 103h1M68 103h1"/>
<path stroke="#0b9cff" d="M14 0h1M19 0h3M14 1h1M19 1h3M14 2h1M19 2h3M0 3h4M45 3h1M52 4h2M11 6h1M9 7h1M11 7h1M75 7h1M8 9h1M22 9h3M30 9h2M35 9h1M45 9h2M24 10h3M34 10h2M38 10h3M24 11h3M28 11h1M34 11h4M44 11h1M75 11h1M25 12h6M35 12h2M41 12h1M4 13h1M14 13h1M23 13h1M25 13h1M28 13h4M35 13h1M76 13h1M12 14h1M14 14h2M25 14h2M29 14h5M36 14h1M75 14h1M4 15h1M26 15h1M29 15h5M35 15h1M38 15h1M75 15h1M22 16h1M28 16h1M31 16h1M35 16h1M25 17h3M31 17h1M76 17h1M13 18h1M26 18h3M64 18h1M76 18h2M12 19h3M22 19h2M25 19h1M54 19h1M63 19h3M76 19h2M82 19h1M14 20h1M20 20h1M25 20h1M56 20h1M9 21h1M19 21h1M21 21h3M52 21h1M4 22h1M7 22h2M22 22h2M85 22h1M9 23h1M15 23h4M70 23h1M0 24h4M10 24h1M20 24h2M70 24h1M18 25h1M25 26h1M9 27h1M18 27h1M4 28h1M19 28h1M21 28h1M4 29h1M6 29h1M30 29h1M3 30h1M35 30h1M3 31h1M21 31h1M35 31h1M5 32h2M17 32h1M21 32h2M0 33h3M19 33h1M86 33h1M0 34h3M21 34h1M51 34h1M3 35h1M0 36h2M18 36h1M85 36h1M87 36h1M3 37h1M22 37h1M56 37h1M0 38h3M18 38h1M22 38h1M35 38h1M87 38h1M18 39h4M43 39h1M45 39h2M63 40h1M19 41h2M85 41h1M9 42h2M12 42h2M9 43h2M12 43h3M3 44h1M8 44h1M11 44h1M19 44h4M63 44h1M3 45h3M10 45h2M15 45h1M19 45h1M21 45h1M63 45h1M12 46h2M18 47h2M21 47h1M63 47h1M0 48h4M6 48h3M17 48h1M61 48h1M81 48h2M84 48h2M5 49h2M9 49h1M86 50h1M0 51h6M9 51h2M19 51h2M61 51h2M5 52h2M10 52h1M17 52h1M19 52h1M5 53h2M14 53h1M19 53h2M4 54h1M16 54h1M19 54h4M22 55h1M4 56h1M19 56h2M61 56h1M7 57h3M12 57h2M17 57h1M19 57h1M4 58h2M19 58h3M17 59h5M97 60h1M96 61h2M70 62h1M78 62h3M98 62h2M71 64h2M69 65h1M81 65h2M75 66h1M78 66h3M99 66h2M40 67h1M85 67h1M25 68h2M45 68h1M48 68h1M88 68h1M25 69h2M41 69h1M44 69h3M41 70h1M48 70h3M24 72h1M26 72h1M35 72h1M78 73h1M84 73h2M91 73h2M96 73h2M101 73h3M101 74h3M8 75h1M79 75h4M96 75h1M0 76h4M55 76h1M81 76h2M88 76h1M94 76h1M99 76h2M83 77h1M96 77h5M38 78h1M42 78h2M46 78h2M54 78h1M56 78h3M81 78h5M93 78h3M100 78h1M29 79h2M38 79h3M45 79h2M48 79h1M86 79h1M89 79h1M97 79h1M12 80h1M14 80h3M28 80h1M32 80h3M39 80h2M58 80h1M100 80h4M0 81h4M12 81h5M35 81h1M39 81h2M46 81h1M49 81h3M83 81h1M88 81h1M90 81h1M7 82h1M34 82h1M42 82h2M54 82h1M56 82h5M95 82h1M10 83h5M17 83h1M20 83h1M55 83h1M59 83h2M62 83h1M96 83h1M10 84h1M15 84h2M18 84h1M21 84h1M55 84h1M64 84h1M0 85h4M22 85h1M52 85h1M54 85h1M65 85h1M96 85h1M9 86h1M36 86h1M52 86h1M59 86h2M96 86h1M100 86h1M9 87h1M61 87h1M98 87h1M10 88h1M35 88h1M96 88h1M98 88h1M101 88h3M10 89h1M23 89h1M101 89h3M5 90h1M9 90h1M11 90h1M14 90h1M17 90h2M35 90h1M5 91h4M11 91h1M14 91h1M17 91h4M62 91h1M7 92h5M9 93h1M35 93h1M66 93h1M90 93h1M95 93h1M93 94h1M19 95h3M76 95h3M99 95h1M0 96h7M52 96h1M54 96h4M61 96h1M66 96h1M91 96h2M98 96h1M100 96h1M7 97h1M12 97h3M20 97h1M27 97h2M55 97h2M75 97h2M101 97h3M16 98h3M54 98h1M56 98h1M65 98h1M94 98h1M15 99h2M53 99h2M36 100h1M41 100h1M64 100h1M66 100h1M9 101h1M17 101h2M36 101h1M48 101h3M54 101h1M64 101h1M66 101h2M9 102h1M17 102h2M36 102h1M48 102h3M54 102h1M64 102h1M66 102h2M9 103h1M17 103h2M36 103h1M48 103h3M54 103h1M64 103h1M66 103h2"/>
<path stroke="#08a1ff" d="M22 0h4M35 0h1M22 1h4M35 1h1M22 2h2M25 2h1M35 2h1M18 3h2M46 3h1M86 3h2M5 4h2M5 5h2M10 5h2M15 5h4M44 5h2M9 6h1M17 6h4M17 7h2M69 7h1M9 8h1M9 9h1M21 9h1M25 9h5M34 9h1M36 9h3M47 9h1M10 10h1M22 10h2M27 10h2M31 10h1M76 10h1M10 11h1M32 11h2M38 11h1M43 11h1M49 11h2M4 12h1M9 12h1M14 12h1M22 12h3M31 12h4M38 12h3M12 13h2M15 13h1M22 13h1M24 13h1M26 13h2M32 13h2M82 13h1M13 14h1M16 14h1M23 14h2M34 14h2M41 14h1M81 14h1M0 15h4M15 15h1M23 15h3M36 15h1M7 16h3M24 16h3M36 16h1M39 16h2M66 16h1M13 17h1M22 17h2M28 17h1M34 17h4M44 17h2M48 17h1M66 17h1M3 18h1M9 18h1M14 18h2M65 18h1M4 19h5M52 19h2M4 20h3M11 20h1M19 20h1M0 21h4M7 21h2M14 21h1M18 21h1M0 22h4M15 22h2M19 22h3M0 23h9M52 23h1M56 23h1M17 24h1M19 24h1M9 25h1M21 25h1M56 25h1M0 26h7M9 26h1M4 27h1M56 27h1M0 28h4M20 28h1M8 29h1M18 29h1M21 29h1M24 29h1M29 29h1M2 30h1M18 30h1M19 31h2M23 31h1M0 32h3M20 32h1M35 32h1M57 32h1M20 33h2M56 33h1M35 34h1M52 34h1M19 35h3M35 35h1M87 35h1M35 36h1M56 36h1M2 37h1M18 37h1M21 37h1M35 37h1M66 37h1M87 37h1M20 38h2M53 38h1M35 39h1M47 39h1M87 39h1M3 40h1M22 40h1M87 40h1M0 41h3M21 41h2M63 41h1M7 42h2M11 42h1M18 42h1M63 42h1M7 43h2M15 43h4M55 43h3M2 44h1M7 44h1M55 44h1M0 45h3M6 45h1M9 45h1M16 45h1M0 46h7M10 46h2M14 46h1M63 46h1M7 47h2M11 47h3M20 47h1M22 47h1M86 47h1M4 48h2M12 48h2M15 48h2M18 48h5M62 48h1M10 49h2M15 49h3M19 49h2M63 49h1M12 50h3M16 50h1M55 50h1M78 50h3M6 51h3M11 51h1M18 51h1M21 51h1M0 52h5M9 52h1M11 52h1M20 52h2M0 53h5M7 53h3M18 53h1M21 53h1M10 54h4M5 55h1M10 55h2M17 55h1M0 56h4M5 56h2M12 56h5M21 56h1M4 57h1M10 57h2M18 57h1M21 57h1M6 58h1M9 58h10M22 58h1M0 59h4M10 59h2M15 59h2M98 59h3M96 60h1M71 62h3M69 64h1M55 65h1M71 66h4M76 66h2M39 67h1M41 67h1M44 67h1M48 67h1M27 68h1M35 68h1M41 68h1M94 68h4M34 69h3M42 69h2M47 69h2M54 69h2M26 70h1M38 70h1M46 70h2M25 71h7M46 71h1M23 72h1M27 72h5M34 72h1M36 72h1M45 72h5M99 72h1M79 73h2M78 74h3M86 74h2M95 74h1M0 75h4M87 75h4M97 75h1M54 76h1M56 76h2M93 76h1M45 77h2M54 77h1M101 77h3M41 78h1M44 78h1M55 78h1M88 78h3M25 79h2M31 79h1M37 79h1M41 79h1M44 79h1M49 79h2M58 79h3M80 79h3M87 79h2M90 79h1M96 79h1M9 80h3M17 80h6M27 80h1M29 80h3M35 80h1M41 80h3M45 80h2M61 80h1M86 80h2M94 80h3M25 81h1M31 81h4M36 81h2M41 81h3M59 81h2M0 82h4M8 82h1M17 82h1M25 82h2M45 82h1M55 82h1M61 82h1M101 82h3M9 83h1M15 83h2M21 83h1M35 83h1M65 83h1M97 83h1M0 84h7M9 84h1M17 84h1M34 84h2M62 84h1M96 84h1M4 85h1M9 85h1M23 85h1M59 85h2M63 85h2M0 86h5M7 86h2M62 86h1M97 86h3M5 87h4M34 87h2M96 87h1M5 88h5M34 88h1M97 88h1M5 89h2M9 89h1M35 89h1M62 89h1M6 90h1M12 90h2M19 90h1M4 91h1M12 91h2M21 91h1M34 91h1M6 92h1M62 92h1M65 92h2M62 93h1M65 93h1M93 93h2M23 94h1M16 95h1M22 95h1M65 95h1M7 96h1M20 96h2M25 96h1M72 96h1M99 96h1M8 97h1M18 97h2M21 97h1M54 97h1M72 97h1M6 98h6M14 98h2M35 98h1M55 98h1M95 98h1M14 99h1M36 99h1M52 99h1M55 99h1M58 99h1M61 99h1M64 99h1M67 99h1M4 100h5M17 100h2M22 100h1M29 100h1M42 100h2M45 100h1M51 100h1M53 100h1M65 100h1M5 101h2M37 101h7M46 101h1M51 101h1M65 101h1M5 102h2M37 102h7M46 102h1M51 102h1M65 102h1M5 103h2M37 103h7M46 103h1M51 103h1M65 103h1"/>
<path stroke="#04a7ff" d="M5 0h2M15 0h1M26 0h1M36 0h1M39 0h2M47 0h1M81 0h2M5 1h2M15 1h1M26 1h1M36 1h1M39 1h2M47 1h1M81 1h2M5 2h2M15 2h1M24 2h1M26 2h1M36 2h1M39 2h1M47 2h1M81 2h2M12 3h3M17 3h1M20 3h1M44 3h1M47 3h1M94 3h2M4 4h1M12 4h2M47 4h1M9 5h1M42 5h2M16 6h1M21 6h1M48 6h1M75 6h1M0 7h4M8 7h1M16 7h1M19 7h2M6 8h1M10 8h2M15 8h2M46 8h2M82 8h1M5 9h2M10 9h2M15 9h2M8 10h2M11 10h4M21 10h1M41 10h3M49 10h2M82 10h1M7 11h3M11 11h4M22 11h2M31 11h1M42 11h1M82 11h1M10 12h2M15 12h3M21 12h1M75 12h1M82 12h1M9 13h1M11 13h1M16 13h1M34 13h1M75 13h1M0 14h4M11 14h1M22 14h1M9 15h1M13 15h2M16 15h1M22 15h1M37 15h1M47 15h2M77 15h1M82 15h1M0 16h4M13 16h1M32 16h2M37 16h2M75 16h1M9 17h1M21 17h1M32 17h2M38 17h4M46 17h2M20 18h2M23 18h1M75 18h1M11 19h1M15 19h1M21 19h1M60 19h1M75 19h1M10 20h1M15 20h1M4 21h1M6 21h1M17 21h1M17 22h2M56 22h1M21 23h1M85 23h1M7 24h3M18 24h1M56 24h1M4 25h3M19 25h2M59 25h1M66 25h1M7 26h2M19 26h1M21 26h1M56 26h1M66 26h1M70 26h1M0 27h4M66 27h1M84 27h1M70 28h1M0 29h4M7 29h1M19 29h2M66 29h1M0 30h2M19 30h2M25 30h1M34 30h1M0 31h3M66 31h1M19 32h1M22 33h1M66 33h1M22 34h1M66 34h1M0 35h3M56 35h1M66 35h1M19 36h4M66 36h1M0 37h2M19 37h2M19 38h1M22 39h1M48 39h2M0 40h3M22 42h1M56 42h2M11 43h1M19 43h4M63 43h1M0 44h2M15 44h1M18 44h1M56 44h1M18 45h1M7 46h3M18 46h4M76 46h1M4 47h1M9 47h2M14 47h1M17 47h1M71 47h5M9 48h1M0 49h5M18 49h1M21 49h1M0 50h6M9 50h3M15 50h1M74 50h2M77 50h1M12 51h6M63 51h1M16 52h1M10 53h2M17 53h1M7 54h3M18 54h1M6 55h1M9 55h1M12 55h3M16 55h1M62 55h1M79 55h2M52 56h1M5 57h2M14 57h3M4 59h3M9 59h1M12 59h3M22 59h1M92 60h1M74 62h1M77 62h1M81 62h1M84 62h1M52 65h3M65 65h3M70 66h1M84 66h1M25 67h3M29 67h2M42 67h2M28 68h1M31 68h4M36 68h3M44 68h1M49 68h2M86 68h2M93 68h1M98 68h1M101 68h3M24 69h1M32 69h2M37 69h1M49 69h2M29 70h2M37 70h1M42 70h4M51 70h1M24 71h1M32 71h2M35 71h9M32 72h2M37 72h2M44 72h1M50 72h1M93 72h3M98 72h1M100 72h1M24 73h1M83 73h1M24 74h1M91 74h4M4 75h3M12 75h3M78 75h1M86 75h1M86 76h2M91 76h2M47 77h1M55 77h1M30 78h1M34 78h1M39 78h2M48 78h1M51 78h1M80 78h1M101 78h3M24 79h1M27 79h2M42 79h2M51 79h1M93 79h3M4 80h5M23 80h1M36 80h1M38 80h1M44 80h1M47 80h1M51 80h1M62 80h2M88 80h3M93 80h1M4 81h1M7 81h1M11 81h1M19 81h1M21 81h3M26 81h1M29 81h2M38 81h1M45 81h1M52 81h2M65 81h1M91 81h2M4 82h1M6 82h1M9 82h5M15 82h2M18 82h1M22 82h2M27 82h1M44 82h1M0 83h8M34 83h1M95 83h1M7 84h2M33 84h1M63 84h1M5 85h4M33 85h1M5 86h2M4 87h1M24 87h2M95 87h1M97 87h1M24 88h3M4 89h1M34 89h1M91 89h2M4 90h1M20 90h3M63 90h1M94 90h1M65 91h1M5 92h1M34 92h1M5 93h4M23 93h1M62 94h1M66 94h1M18 95h1M23 95h1M25 95h2M28 95h1M62 95h1M66 95h1M73 95h2M8 96h1M10 96h1M19 96h1M22 96h2M26 96h3M6 97h1M15 97h3M22 97h2M26 97h1M35 97h1M64 97h1M62 98h1M6 99h5M17 99h3M21 99h3M56 99h2M0 100h4M9 100h1M19 100h1M21 100h1M23 100h1M44 100h1M52 100h1M0 101h5M7 101h2M12 101h2M16 101h1M28 101h1M35 101h1M45 101h1M0 102h5M7 102h2M12 102h2M16 102h1M28 102h1M35 102h1M45 102h1M0 103h5M7 103h2M12 103h2M16 103h1M28 103h1M35 103h1M45 103h1"/>
<path stroke="#00acfc" d="M0 0h5M9 0h1M16 0h1M18 0h1M28 0h1M37 0h1M46 0h1M51 0h1M0 1h5M9 1h1M16 1h1M18 1h1M28 1h1M37 1h1M46 1h1M51 1h1M0 2h5M9 2h1M16 2h1M18 2h1M28 2h1M37 2h1M40 2h1M46 2h1M51 2h1M10 3h2M15 3h2M21 3h1M28 3h1M37 3h1M0 4h4M14 4h8M46 4h1M48 4h1M4 5h1M12 5h3M19 5h3M53 5h1M70 5h1M15 6h1M46 6h2M4 7h1M7 7h1M12 7h2M15 7h1M21 7h1M0 8h4M5 8h1M12 8h3M17 8h2M49 8h3M0 9h4M12 9h3M41 9h1M48 9h1M0 10h8M15 10h1M29 10h2M46 10h1M51 10h1M0 11h5M17 11h1M21 11h1M29 11h2M39 11h3M46 11h1M48 11h1M12 12h2M18 12h1M46 12h1M49 12h2M10 13h1M17 13h1M46 13h1M49 13h3M9 14h1M44 14h3M48 14h3M82 14h1M17 15h1M20 15h2M41 15h1M4 16h3M14 16h2M17 16h1M21 16h1M41 16h1M47 16h2M7 17h2M14 17h4M19 17h2M49 17h2M5 18h4M16 18h2M19 18h1M22 18h1M9 19h2M19 19h2M7 20h1M9 20h1M16 20h3M5 21h1M15 21h2M56 21h1M19 23h2M57 23h2M86 23h1M66 24h1M0 25h4M7 25h2M20 26h1M59 26h1M59 27h1M79 27h1M70 29h1M21 30h4M66 30h1M18 32h1M58 32h1M66 32h1M56 34h1M22 35h1M59 37h1M52 38h1M50 39h1M63 39h1M19 42h3M16 44h2M57 44h1M70 44h1M7 45h2M22 45h1M70 45h1M15 46h2M22 46h1M74 46h2M15 47h2M70 47h1M10 48h2M14 48h1M63 48h1M70 48h1M78 48h3M88 48h1M12 49h3M80 49h1M87 49h2M6 50h3M22 50h1M70 50h1M73 50h1M76 50h1M87 50h2M83 51h1M8 52h1M14 52h2M22 52h1M23 54h1M15 55h1M23 55h1M55 55h2M61 55h1M89 55h2M7 56h5M93 56h1M62 57h2M98 57h6M7 58h2M97 59h1M101 59h3M52 60h1M90 60h2M47 61h1M47 62h1M75 62h2M82 62h2M69 63h1M54 64h1M56 65h1M64 65h1M68 65h1M45 66h4M52 66h6M69 66h1M36 67h3M49 67h5M62 67h3M24 68h1M29 68h2M42 68h2M51 68h1M61 68h4M85 68h1M99 68h2M29 69h3M51 69h1M24 70h2M31 70h3M35 70h2M34 71h1M22 72h1M39 72h5M79 72h2M84 72h2M96 72h2M23 73h1M27 73h2M34 73h4M9 75h1M15 75h1M4 76h1M64 76h1M80 76h1M40 77h1M44 77h1M48 77h4M81 77h2M28 78h2M31 78h1M49 78h2M52 78h2M59 78h2M64 78h1M20 79h2M34 79h1M36 79h1M56 79h2M64 79h1M91 79h2M26 80h1M37 80h1M48 80h3M57 80h1M64 80h1M80 80h1M5 81h2M8 81h3M20 81h1M24 81h1M27 81h2M58 81h1M64 81h1M84 81h1M87 81h1M5 82h1M14 82h1M19 82h3M24 82h1M62 82h1M8 83h1M22 83h2M33 83h1M63 83h2M98 83h2M22 84h1M34 85h2M24 86h1M33 86h3M63 86h1M65 86h1M95 86h1M26 87h1M4 88h1M27 88h1M62 88h1M95 88h1M8 89h1M24 89h4M63 89h1M89 89h2M93 89h2M7 90h2M23 90h1M28 90h1M34 90h1M0 91h4M22 91h2M63 91h2M66 91h1M4 92h1M22 92h1M63 92h2M96 92h1M4 93h1M34 93h1M63 93h1M92 93h1M24 94h3M28 94h1M34 94h1M17 95h1M24 95h1M27 95h1M75 95h1M79 95h2M9 96h1M11 96h2M14 96h1M24 96h1M62 96h1M64 96h1M9 97h1M11 97h1M25 97h1M62 97h1M12 98h2M19 98h7M72 98h1M11 99h1M20 99h1M24 99h2M28 99h1M10 100h4M15 100h2M20 100h1M28 100h1M35 100h1M15 101h1M19 101h1M22 101h1M24 101h1M29 101h1M44 101h1M15 102h1M19 102h1M22 102h1M24 102h1M29 102h1M44 102h1M15 103h1M19 103h1M22 103h1M24 103h1M29 103h1M44 103h1"/>
<path stroke="#00b1f8" d="M11 0h1M17 0h1M27 0h1M34 0h1M38 0h1M41 0h1M48 0h1M83 0h1M94 0h2M11 1h1M17 1h1M27 1h1M34 1h1M38 1h1M41 1h1M48 1h1M83 1h1M94 1h2M11 2h1M17 2h1M27 2h1M34 2h1M38 2h1M41 2h1M48 2h1M83 2h1M94 2h2M4 3h1M9 3h1M24 3h4M29 3h2M38 3h1M51 3h1M88 3h1M93 3h1M11 4h1M44 4h2M49 4h2M0 5h4M7 5h2M52 5h1M79 5h2M5 6h2M12 6h2M44 6h2M69 6h1M5 7h2M14 7h1M4 8h1M19 8h1M21 8h1M45 8h1M48 8h1M4 9h1M17 9h4M51 9h1M16 10h1M48 10h1M5 11h2M15 11h2M18 11h1M51 11h1M0 12h4M21 13h1M10 14h1M17 14h1M21 14h1M42 14h2M47 14h1M18 15h2M16 16h1M18 16h3M0 17h7M18 17h1M42 17h2M51 17h1M75 17h1M4 18h1M18 18h1M16 19h1M18 19h1M70 19h1M85 19h1M8 20h1M26 20h1M28 20h1M57 20h1M66 20h1M58 22h1M66 23h1M57 24h2M57 25h2M80 27h1M57 28h1M59 28h1M66 28h1M87 30h1M59 32h1M87 34h1M70 36h1M34 38h1M61 39h2M87 41h1M55 42h1M17 45h1M74 45h2M17 46h1M5 47h2M76 47h1M69 48h1M86 48h1M22 49h1M70 49h4M78 49h2M60 50h1M71 50h1M22 51h1M81 51h2M7 52h1M12 52h2M12 53h2M22 53h1M5 54h2M17 54h1M7 55h2M57 55h1M63 55h1M69 55h2M78 55h1M85 55h2M88 55h1M22 56h1M62 56h1M52 57h1M69 57h2M97 57h1M7 59h2M93 59h3M48 61h1M52 61h2M87 61h1M48 62h1M69 62h1M52 64h2M55 64h1M62 64h1M65 64h1M57 65h1M62 65h2M40 66h5M58 66h1M61 66h8M28 67h1M31 67h1M35 67h1M61 67h1M65 67h1M52 68h2M65 68h1M91 68h2M34 70h1M23 71h1M44 71h2M51 71h1M78 72h1M83 72h1M92 72h1M17 73h1M22 73h1M26 73h1M29 73h5M44 73h1M81 73h2M22 74h2M25 74h1M10 75h2M16 75h2M77 75h1M58 76h1M41 77h1M43 77h1M53 77h1M17 79h3M22 79h2M32 79h2M35 79h1M54 79h2M79 79h1M3 80h1M24 80h2M52 80h2M56 80h1M65 80h1M77 80h1M91 80h2M44 81h1M57 81h1M85 81h2M33 82h1M65 82h1M81 82h2M100 83h1M23 84h1M95 85h1M25 86h1M64 86h1M0 87h4M27 87h1M33 87h1M62 87h1M0 88h4M0 89h4M7 89h1M65 89h1M88 89h1M24 90h4M65 90h2M25 91h4M0 92h4M23 92h1M27 92h1M0 93h4M64 93h1M27 94h1M65 94h1M34 95h1M63 95h2M13 96h1M15 96h1M10 97h1M24 97h1M63 97h1M26 98h1M28 98h1M63 98h2M12 99h2M26 99h1M62 99h2M74 99h2M79 99h1M24 100h1M14 101h1M20 101h2M23 101h1M14 102h1M20 102h2M23 102h1M14 103h1M20 103h2M23 103h1"/>
<path stroke="#00b6f2" d="M29 0h1M42 0h2M45 0h1M49 0h2M70 0h3M85 0h1M93 0h1M96 0h1M29 1h1M42 1h2M45 1h1M49 1h2M70 1h3M85 1h1M93 1h1M96 1h1M42 2h2M45 2h1M49 2h2M70 2h3M85 2h1M93 2h1M96 2h1M5 3h4M22 3h1M31 3h1M36 3h1M48 3h3M81 3h2M96 3h1M7 4h4M27 4h2M39 4h3M51 4h1M70 4h1M41 5h1M46 5h1M78 5h1M7 6h2M14 6h1M42 6h2M55 6h1M45 7h4M20 8h1M22 8h1M44 9h1M53 9h1M82 9h1M17 10h1M20 10h1M47 10h1M47 11h1M19 12h2M48 12h1M51 12h1M76 12h1M0 13h4M18 13h1M18 14h3M51 14h1M49 15h2M49 16h2M60 18h1M17 19h1M86 19h1M27 20h1M59 21h1M66 21h1M57 22h1M66 22h1M59 24h1M87 25h1M57 26h2M57 27h2M83 27h1M87 27h1M58 28h1M57 29h1M57 30h1M59 30h1M57 31h1M59 31h1M87 31h1M34 33h1M57 33h2M59 35h1M58 36h2M58 37h1M56 38h1M71 45h3M73 46h1M71 48h5M77 48h1M87 48h1M69 49h1M74 49h2M72 50h1M78 51h3M53 55h2M84 55h1M87 55h1M94 55h5M63 56h1M69 56h2M76 56h2M85 56h1M90 56h1M94 56h2M97 56h2M101 56h3M22 57h1M64 57h1M81 57h2M85 57h3M93 57h1M23 58h1M49 58h2M23 59h1M52 59h1M91 59h2M96 59h1M5 60h1M10 60h2M44 60h2M46 61h1M51 61h1M70 61h1M46 62h1M44 63h1M44 64h1M61 64h1M63 64h2M66 64h1M58 65h4M49 66h3M24 67h1M34 67h1M54 67h4M80 67h1M54 68h7M66 68h3M53 69h1M56 69h1M59 69h2M0 70h4M7 70h2M77 72h1M86 72h6M101 72h3M15 73h2M18 73h1M25 73h1M45 73h1M26 74h2M18 75h1M5 76h1M7 76h1M59 76h2M79 76h1M39 77h1M42 77h1M52 77h1M56 77h1M62 77h3M27 78h1M33 78h1M79 78h1M52 79h2M61 79h1M63 79h1M0 80h3M76 80h1M78 80h1M54 81h1M56 81h1M61 81h1M80 81h1M63 82h1M83 82h1M88 82h3M93 82h2M24 83h4M101 83h3M24 84h1M27 84h1M95 84h1M24 85h1M97 85h1M26 86h1M65 87h1M63 88h3M28 89h1M64 89h1M0 90h4M64 90h1M80 90h1M24 91h1M80 91h1M90 91h1M28 92h1M25 93h2M28 93h1M63 94h1M87 94h1M72 95h1M87 95h1M16 96h3M34 96h1M63 96h1M27 98h1M29 98h1M67 98h1M27 99h1M35 99h1M80 99h1M97 99h1M14 100h1M25 101h3M25 102h3M25 103h3"/>
<path stroke="#00bbea" d="M10 0h1M30 0h4M73 0h1M84 0h1M86 0h2M91 0h2M97 0h1M10 1h1M30 1h4M73 1h1M84 1h1M86 1h2M91 1h2M97 1h1M10 2h1M29 2h5M73 2h1M84 2h1M86 2h2M91 2h2M97 2h1M23 3h1M35 3h1M39 3h5M72 3h1M89 3h2M97 3h1M22 4h1M42 4h2M79 4h3M22 5h1M4 6h1M54 6h1M56 6h2M59 6h1M62 6h1M65 6h1M42 7h1M44 7h1M32 8h4M39 8h3M52 8h2M70 8h1M49 9h2M52 9h1M54 9h1M18 10h2M52 10h2M19 11h2M19 13h2M48 13h1M52 13h2M46 15h1M46 16h1M51 16h1M54 16h1M54 17h1M53 18h2M87 19h1M58 20h1M87 20h1M57 21h2M59 22h1M59 23h1M87 26h1M59 29h1M87 29h1M34 31h1M59 33h1M34 34h1M59 34h1M34 35h1M58 35h1M34 36h1M57 36h1M34 37h1M57 37h1M60 37h1M70 37h1M34 39h1M87 44h1M76 45h1M70 46h3M84 47h1M87 47h1M76 48h1M89 48h1M77 49h1M58 51h1M71 51h3M84 51h1M88 51h1M59 55h2M64 55h5M76 55h2M99 55h2M68 56h1M75 56h1M91 56h2M96 56h1M99 56h2M83 57h1M88 57h1M90 57h3M96 57h1M62 58h1M81 58h2M97 58h7M45 59h1M6 60h1M12 60h2M46 60h3M51 60h1M62 60h1M89 60h1M49 61h2M52 62h3M41 63h3M45 63h3M54 63h1M42 64h2M45 64h1M59 64h2M67 64h1M42 65h7M51 65h1M39 66h1M59 66h2M32 67h2M58 67h3M66 67h1M84 67h1M52 69h1M57 69h2M64 69h1M9 70h2M18 70h1M23 70h1M22 71h1M12 72h6M51 72h1M81 72h2M19 73h1M21 73h1M38 73h2M41 73h3M17 74h1M28 74h1M6 76h1M61 76h3M58 77h4M71 77h2M26 78h1M32 78h1M61 78h1M63 78h1M62 79h1M54 80h2M79 80h1M55 81h1M62 81h2M64 82h1M91 82h2M25 84h2M78 84h1M25 85h3M101 85h3M27 86h1M63 87h2M33 88h1M25 92h2M80 92h1M24 93h1M27 93h1M80 93h1M81 98h1M29 99h1M96 99h1M98 99h1M27 100h1"/>
<path stroke="#00bfe3" d="M44 0h1M77 0h1M88 0h1M98 0h1M44 1h1M77 1h1M88 1h1M98 1h1M44 2h1M77 2h1M88 2h1M98 2h1M71 3h1M73 3h1M77 3h1M83 3h1M91 3h2M98 3h1M75 4h1M78 4h1M82 4h1M27 5h2M81 5h1M22 6h1M52 6h2M58 6h1M60 6h2M63 6h2M22 7h1M41 7h1M43 7h1M53 7h1M27 8h2M31 8h1M36 8h2M54 8h1M52 11h2M76 11h1M47 12h1M47 13h1M51 15h1M54 15h1M79 15h1M52 17h2M52 18h1M59 20h1M87 22h1M87 24h1M60 25h1M60 26h1M60 27h1M81 27h2M87 28h1M58 29h1M58 30h1M58 31h1M60 32h1M87 32h1M58 34h1M59 38h1M67 38h1M51 39h1M23 41h1M87 43h1M71 44h1M75 44h1M87 45h1M87 46h1M76 49h1M89 49h1M64 50h2M69 50h1M89 50h1M74 51h2M85 51h3M23 52h1M63 54h3M79 54h2M52 55h1M58 55h1M71 55h2M75 55h1M93 55h1M23 56h1M64 56h1M71 56h4M78 56h3M68 57h1M71 57h1M84 57h1M89 57h1M48 58h1M63 58h1M71 58h2M79 58h2M83 58h1M86 58h1M90 58h4M96 58h1M44 59h1M46 59h5M62 59h1M71 59h2M80 59h1M83 59h1M4 60h1M9 60h1M14 60h1M49 60h2M81 60h1M44 61h2M54 61h1M41 62h5M51 62h1M48 63h1M52 63h2M41 64h1M46 64h1M51 64h1M56 64h1M58 64h1M68 64h1M41 65h1M49 65h2M81 66h1M67 67h2M79 67h1M72 68h1M80 68h1M84 68h1M10 69h1M65 69h1M4 70h1M6 70h1M11 70h1M17 70h1M19 70h3M54 70h2M0 71h4M17 71h2M18 72h1M21 72h1M0 73h5M7 73h2M14 73h1M20 73h1M40 73h1M76 73h1M0 74h5M7 74h2M18 74h1M21 74h1M8 76h3M70 76h1M78 76h1M37 77h2M57 77h1M73 77h1M80 77h1M25 78h1M62 78h1M16 79h1M78 79h1M71 81h1M76 81h3M87 82h1M71 83h1M78 83h2M76 84h2M98 85h3M28 88h1M95 90h1M79 91h1M24 92h1M87 93h1M64 94h1M80 94h1M29 97h1M67 97h1M76 99h1M78 99h1M93 99h1M101 99h3M25 100h2"/>
<path stroke="#00c3db" d="M74 0h3M89 0h2M74 1h3M89 1h2M74 2h3M89 2h2M32 3h2M76 3h1M78 3h3M84 3h2M99 3h1M26 4h1M34 4h1M71 4h4M76 4h2M47 5h2M76 5h2M41 6h1M34 7h1M52 7h1M54 7h1M23 8h4M29 8h2M38 8h1M42 9h1M81 9h1M54 10h1M52 12h3M52 14h3M70 15h1M78 15h1M91 15h2M52 16h2M70 16h1M70 17h1M55 18h1M70 18h1M84 19h1M87 21h1M78 27h1M60 28h1M84 28h1M89 29h1M26 30h1M60 30h1M60 31h1M34 32h1M87 33h1M57 34h1M57 35h1M60 35h1M60 36h1M66 38h1M68 38h2M64 39h1M23 42h1M87 42h1M60 43h1M72 44h3M76 44h1M69 45h1M69 47h1M77 47h1M56 51h2M59 51h2M76 51h2M89 51h1M23 53h1M62 54h1M73 55h2M81 55h1M83 55h1M91 55h2M101 55h3M65 56h3M89 56h1M23 57h1M65 57h1M72 57h1M79 57h2M94 57h2M40 58h1M47 58h1M52 58h1M69 58h2M40 59h2M51 59h1M63 59h1M79 59h1M81 59h2M84 59h1M90 59h1M0 60h4M15 60h7M41 60h3M63 60h1M66 60h3M41 61h3M59 61h1M69 61h1M71 61h1M79 61h2M49 62h2M51 63h1M47 64h4M57 64h1M40 65h1M69 67h1M71 67h6M69 68h1M71 68h1M73 68h3M9 69h1M11 69h1M61 69h1M63 69h1M5 70h1M12 70h2M22 70h1M52 70h1M7 71h2M14 71h3M7 72h5M5 73h2M9 73h3M46 73h1M5 74h2M12 74h2M19 74h2M53 76h1M71 76h3M36 77h1M74 77h3M24 78h1M71 78h2M78 78h1M15 79h1M65 79h1M71 79h1M74 79h2M71 80h1M75 80h1M79 81h1M28 82h3M32 82h1M72 83h2M77 83h1M71 84h1M79 84h1M74 85h6M74 86h2M79 86h1M28 87h1M75 87h1M79 87h1M75 88h1M79 88h1M66 89h1M74 89h2M79 89h2M79 90h1M78 91h1M72 92h2M77 92h2M72 93h3M77 93h2M73 94h2M29 96h1M73 99h1M77 99h1M89 99h4M99 99h2"/>
<path stroke="#00c6d2" d="M78 0h1M99 0h1M78 1h1M99 1h1M78 2h1M99 2h1M34 3h1M70 3h1M74 3h2M23 4h1M29 4h1M31 4h3M35 4h1M38 5h1M71 5h1M75 5h1M0 6h4M32 7h2M55 7h1M43 9h1M70 9h1M70 10h1M54 11h1M70 12h1M54 13h1M89 14h4M53 15h1M88 15h3M85 17h1M26 22h1M84 26h1M26 28h1M90 29h1M89 30h2M89 31h2M89 32h2M60 33h1M91 33h2M60 34h1M89 36h2M89 37h2M57 38h2M60 38h1M89 38h1M89 39h2M23 40h1M60 41h1M60 42h1M60 44h1M69 44h1M60 45h1M68 45h1M24 46h1M60 47h1M68 47h1M60 49h1M29 50h2M70 51h1M26 52h1M66 54h1M85 54h6M96 54h2M82 55h1M41 58h1M46 58h1M51 58h1M64 58h1M87 58h1M94 58h2M42 59h2M67 59h1M69 59h2M22 60h1M40 60h1M64 60h2M69 60h2M80 60h1M82 60h1M57 61h2M60 61h1M72 61h1M40 63h1M49 63h2M40 64h1M70 67h1M70 68h1M81 68h3M6 69h3M23 69h1M62 69h1M14 70h3M53 70h1M56 70h1M4 71h1M19 71h1M21 71h1M19 72h2M12 73h2M9 74h1M16 74h1M76 74h1M19 75h1M11 76h1M50 76h1M52 76h1M74 76h1M77 76h1M35 77h1M77 77h3M73 78h1M13 79h2M72 79h2M72 80h3M72 81h3M31 82h1M71 82h1M74 82h1M76 82h2M84 82h1M86 82h1M74 83h3M28 84h1M72 84h2M71 85h1M73 85h1M28 86h1M73 86h1M76 86h3M74 87h1M76 87h1M78 87h1M74 88h1M76 88h3M33 89h1M78 89h1M33 90h1M72 90h4M78 90h1M72 91h4M74 92h1M76 92h1M79 92h1M87 92h1M75 93h2M79 93h1M91 93h1M72 94h1M75 94h1M81 95h1M81 97h1M94 99h2"/>
<path stroke="#00c8c8" d="M24 4h2M30 4h1M36 4h1M23 5h1M26 5h1M37 5h1M39 5h2M82 5h1M24 6h1M26 6h3M34 6h1M24 7h4M39 7h2M70 11h1M81 13h1M86 14h3M52 15h1M86 17h1M85 18h1M84 20h1M26 21h1M26 23h1M28 24h1M60 24h1M26 25h1M88 25h3M89 26h4M26 27h1M60 29h1M88 29h1M88 30h1M24 31h1M88 31h1M91 31h1M88 32h1M91 32h2M84 33h1M88 36h1M91 36h1M88 37h1M91 37h1M23 38h1M64 38h1M88 38h1M90 38h2M65 39h1M88 39h1M60 40h1M89 40h3M91 41h1M91 43h1M89 44h2M66 45h2M77 46h1M24 47h1M29 47h2M64 47h1M67 47h1M60 48h1M66 50h3M55 51h1M56 54h2M61 54h1M67 54h1M69 54h2M75 54h1M84 54h1M94 54h2M101 54h3M66 57h2M73 57h3M42 58h2M84 58h2M64 59h1M66 59h1M68 59h1M7 60h2M71 60h2M79 60h1M55 61h2M73 61h1M40 62h1M30 66h1M83 66h1M99 67h1M0 69h6M12 69h2M19 69h3M66 69h1M94 69h3M5 71h2M9 71h1M12 71h2M20 71h1M77 71h1M0 72h7M11 74h1M14 74h2M52 75h2M49 76h1M51 76h1M75 76h2M20 78h2M76 78h2M12 79h1M76 79h2M75 81h1M73 82h1M75 82h1M78 82h1M85 82h1M29 83h2M32 83h1M80 83h1M32 84h1M74 84h2M28 85h1M72 85h1M71 86h2M71 87h3M77 87h1M73 88h1M73 89h1M76 89h2M33 91h1M76 91h2M75 92h1M81 92h1M90 92h1M77 94h3M81 94h1M87 96h1M30 100h1"/>
<path stroke="#00cabd" d="M79 0h2M79 1h2M79 2h2M38 4h1M84 4h2M89 4h4M25 5h1M29 5h6M36 5h1M23 6h1M25 6h1M32 6h2M37 6h2M70 6h1M23 7h1M28 7h1M35 7h2M70 7h1M86 13h1M85 14h1M86 15h2M55 16h1M85 16h8M55 17h1M87 17h1M91 17h2M86 18h2M91 18h2M56 19h1M28 21h1M87 23h1M26 24h1M28 25h1M84 25h1M78 26h1M88 26h1M28 28h1M26 29h1M92 31h1M89 33h2M91 34h2M88 35h3M92 36h1M92 37h1M65 38h1M70 38h1M92 38h1M23 39h1M91 39h2M88 40h1M92 40h1M88 41h3M92 41h1M89 42h3M23 43h1M89 43h2M92 43h1M68 44h1M88 44h1M40 45h1M64 45h1M25 46h1M29 46h2M60 46h1M64 46h1M66 46h4M84 46h1M23 47h1M28 47h1M65 47h1M79 47h2M23 48h1M66 48h1M28 49h1M57 49h1M64 49h3M28 50h1M64 51h1M56 52h1M68 54h1M71 54h2M74 54h1M78 54h1M83 54h1M93 54h1M78 57h1M44 58h2M65 59h1M23 60h1M6 61h1M40 61h1M26 66h2M29 66h1M35 66h4M14 69h1M18 69h1M22 69h1M67 69h1M88 69h3M97 69h1M57 70h1M10 71h2M78 71h3M75 72h1M47 73h1M10 74h1M32 74h1M35 74h1M55 74h1M20 75h1M57 75h1M64 75h2M76 75h1M33 77h1M23 78h1M74 78h2M10 79h2M72 82h1M79 82h2M28 83h1M29 84h2M80 84h1M32 85h1M80 85h1M29 86h2M80 86h1M80 87h1M72 88h1M80 88h1M29 89h2M72 89h1M29 90h1M76 90h2M71 92h1M95 92h1M29 93h1M71 93h1M81 93h1M29 94h1M76 94h1M29 95h1M32 95h2M34 97h1M88 99h1"/>
<path stroke="#00ccb3" d="M37 4h1M83 4h1M24 5h1M35 5h1M31 6h1M35 6h2M40 6h1M37 7h2M72 7h1M74 9h1M81 10h1M81 12h1M70 13h1M85 13h1M87 13h6M70 14h1M85 15h1M79 17h1M88 17h3M88 18h1M60 20h1M84 21h1M84 24h1M91 25h2M26 26h1M28 26h1M79 26h1M28 27h1M71 27h1M88 27h1M91 27h1M78 28h2M78 29h1M84 29h1M91 29h1M33 30h1M84 30h1M91 30h2M84 32h1M88 33h1M84 34h1M88 34h1M90 34h1M91 35h1M23 37h1M84 37h1M63 38h1M60 39h1M84 39h1M39 40h1M64 40h1M84 40h1M88 42h1M92 42h1M88 43h1M64 44h1M91 44h2M24 45h3M39 45h1M41 45h2M65 45h1M84 45h1M26 46h1M65 46h1M25 47h1M66 47h1M78 47h1M81 47h3M64 48h2M29 49h2M56 49h1M58 49h1M23 50h1M27 50h1M29 51h2M65 51h1M57 52h1M74 52h2M79 52h2M72 53h4M79 53h2M55 54h1M73 54h1M81 54h2M98 54h1M49 57h3M73 60h1M5 61h1M7 61h1M12 61h2M25 61h1M86 61h1M5 62h3M5 63h3M11 65h1M39 65h1M24 66h2M28 66h1M31 66h1M34 66h1M23 68h1M15 69h3M68 69h2M74 69h2M80 69h3M87 69h1M98 69h1M58 70h1M76 71h1M76 72h1M34 74h1M55 75h2M71 75h2M12 76h1M65 76h1M32 77h1M34 77h1M19 78h1M22 78h1M65 78h1M31 83h1M94 83h1M31 84h1M81 85h2M31 86h2M32 87h1M66 88h1M71 88h1M30 90h1M71 90h1M96 90h2M71 91h1M29 92h1M33 92h1M33 96h1M67 96h1M81 96h1M32 97h1M31 100h1M34 101h1M34 102h1M34 103h1"/>
<path stroke="#09cea9" d="M93 4h1M97 4h1M29 6h2M39 6h1M31 7h1M71 7h1M73 7h1M74 8h1M81 11h1M45 15h1M55 15h1M42 16h1M45 16h1M89 18h2M28 22h1M28 23h1M60 23h1M75 26h1M89 27h2M92 27h1M27 28h1M88 28h4M75 29h3M92 29h1M27 30h1M78 30h1M84 31h1M71 33h1M71 34h1M89 34h1M84 35h1M92 35h1M61 38h2M84 38h1M66 39h2M35 40h1M40 40h1M58 42h1M70 43h1M84 43h1M23 44h1M67 44h1M23 45h1M27 45h1M55 45h2M77 45h1M23 46h1M28 46h1M26 47h2M24 48h1M28 48h3M24 49h1M26 50h1M23 51h6M54 51h1M66 51h2M58 52h1M64 52h1M78 52h1M84 52h2M71 53h1M78 53h1M84 53h2M58 54h3M91 54h2M99 54h2M81 56h1M76 57h1M73 59h1M85 59h1M8 61h1M24 61h1M26 61h1M8 62h1M19 62h3M0 63h5M8 63h1M27 63h1M55 63h1M20 64h2M12 65h1M82 66h1M23 67h1M81 67h1M10 68h2M70 69h4M83 69h1M86 69h1M93 69h1M99 69h2M59 70h1M57 71h1M64 71h2M75 71h1M84 71h2M93 71h3M98 71h6M29 74h1M31 74h1M36 74h1M54 74h1M21 75h1M54 75h1M62 75h2M66 75h5M73 75h1M13 76h2M25 76h4M40 76h1M31 77h1M15 78h2M18 78h1M9 79h1M29 85h3M29 87h3M66 87h1M81 87h2M94 87h1M32 88h1M94 88h1M31 89h1M71 89h1M31 90h1M29 91h1M32 91h1M81 91h1M87 91h1M30 93h1M33 94h1M71 94h1M31 96h2M33 97h1M30 98h1M30 101h1M30 102h1M30 103h1"/>
<path stroke="#0fd09e" d="M88 4h1M96 4h1M98 4h1M71 6h1M56 7h4M74 7h1M42 15h1M43 16h2M77 17h1M27 21h1M60 22h1M71 22h1M84 22h1M71 23h1M89 24h1M76 26h2M72 27h1M71 28h1M81 28h3M92 28h1M71 35h1M71 36h1M84 36h1M71 37h1M68 39h2M36 40h1M38 40h1M65 40h1M64 41h1M84 41h1M69 42h2M84 42h1M69 43h1M65 44h2M84 44h1M28 45h1M57 45h1M27 46h1M23 49h1M42 49h2M49 49h2M59 49h1M24 50h2M31 50h1M54 50h1M53 51h1M68 51h2M59 52h2M71 52h3M76 52h2M81 52h3M56 53h1M64 53h1M76 53h2M83 53h1M93 53h2M76 54h2M40 57h1M83 60h1M4 61h1M9 61h3M14 61h1M27 61h1M0 62h5M12 62h5M22 62h2M15 63h1M20 63h2M59 63h1M32 66h2M20 67h1M9 68h1M101 69h3M60 70h1M84 70h1M94 70h4M56 71h1M58 71h1M71 71h1M74 71h1M83 71h1M92 71h1M96 71h2M59 72h2M67 72h2M74 72h1M48 73h1M51 73h1M30 74h1M33 74h1M52 74h2M56 74h1M73 74h1M25 75h1M32 75h1M51 75h1M58 75h1M61 75h1M15 76h1M39 76h1M41 76h1M43 76h1M45 76h1M48 76h1M0 77h3M5 77h1M29 77h2M17 78h1M86 83h1M93 83h1M85 84h1M83 85h1M94 86h1M83 87h1M29 88h3M81 88h1M89 88h2M32 90h1M30 91h2M30 92h3M31 93h1M33 93h1M31 94h2M31 95h1M30 96h1M31 97h1M31 98h1M81 99h1M32 100h1"/>
<path stroke="#16d293" d="M94 4h2M99 4h1M72 5h1M29 7h2M74 10h1M58 13h1M55 14h1M59 14h1M44 15h1M93 15h1M93 16h1M84 17h1M93 17h1M93 18h1M59 19h1M60 21h1M71 21h1M71 24h1M88 24h1M90 24h1M71 25h1M75 27h3M77 28h1M80 28h1M28 29h1M74 29h1M76 30h2M71 31h1M75 31h1M71 32h1M61 37h1M65 37h1M71 38h1M54 39h2M70 39h1M37 40h1M71 40h1M65 41h1M69 41h3M27 42h1M64 42h2M58 43h1M64 43h1M68 43h1M71 43h1M77 44h1M29 45h2M89 45h1M31 47h1M35 48h1M27 49h1M55 49h1M49 50h2M52 51h1M55 52h1M61 52h1M63 52h1M70 52h1M100 52h4M59 53h2M70 53h1M81 53h2M91 53h2M95 53h1M101 53h3M54 54h1M41 57h1M44 57h1M48 57h1M68 58h1M88 58h1M32 60h1M88 60h1M0 61h4M15 61h1M19 61h3M28 61h1M31 61h1M81 61h1M9 62h1M11 62h1M17 62h2M24 62h4M59 62h2M9 63h2M14 63h1M16 63h1M19 63h1M26 63h1M60 63h1M38 65h1M19 67h1M21 67h1M8 68h1M14 68h9M61 70h1M75 70h1M79 70h2M83 70h1M85 70h1M92 70h2M55 71h1M63 71h1M69 71h2M72 71h2M86 71h1M56 72h2M66 72h1M56 73h2M61 73h3M37 74h1M57 74h1M62 74h1M74 74h2M22 75h1M24 75h1M26 75h2M31 75h1M33 75h1M59 75h2M74 75h1M16 76h1M24 76h1M42 76h1M46 76h2M3 77h2M22 77h2M28 77h1M65 77h1M70 77h1M14 78h1M84 83h2M87 83h1M84 84h1M86 84h1M94 85h1M66 86h1M81 86h3M93 86h1M32 89h1M81 90h1M30 94h1M30 95h1M30 97h1M30 99h3M72 99h1M34 100h1M31 101h1M31 102h1M31 103h1"/>
<path stroke="#1fd486" d="M73 8h1M73 9h1M93 14h1M43 15h1M77 16h1M79 16h1M84 18h1M57 19h1M74 19h1M88 19h1M71 20h1M81 20h2M27 22h1M84 23h1M78 25h2M71 26h1M74 26h1M80 26h1M27 27h1M74 27h1M76 28h1M27 29h1M79 29h1M71 30h1M75 30h1M76 31h3M72 33h1M72 34h1M23 36h1M71 39h1M29 40h2M34 40h1M41 40h1M66 40h1M69 40h2M27 41h1M26 42h1M28 42h1M68 42h1M27 43h1M54 43h1M65 43h1M25 44h2M54 44h1M58 44h1M90 45h1M31 46h1M48 47h1M88 47h1M31 48h1M36 48h1M48 48h1M31 49h1M41 49h1M44 49h1M48 49h1M39 50h2M48 50h1M31 51h1M62 52h1M86 52h5M97 52h3M57 53h1M63 53h1M86 53h3M90 53h1M96 53h5M52 54h1M77 57h1M73 58h1M78 58h1M24 60h1M16 61h3M22 61h2M29 61h1M32 61h1M61 61h1M78 61h1M10 62h1M11 63h3M58 63h1M36 65h2M16 67h3M22 67h1M77 67h2M12 68h2M84 69h2M91 69h2M62 70h1M69 70h2M78 70h1M88 70h4M98 70h1M59 71h4M81 71h2M87 71h1M58 72h1M61 72h1M64 72h1M69 72h5M49 73h1M58 73h1M75 73h1M59 74h3M23 75h1M28 75h3M75 75h1M44 76h1M6 77h1M12 77h2M17 77h2M27 77h1M0 79h5M7 79h2M70 81h1M81 83h3M88 83h5M81 84h3M94 84h1M66 85h1M84 85h4M91 85h3M86 86h1M84 87h3M93 87h1M88 88h1M91 88h3M87 90h1M32 93h1M67 95h1M32 98h1M34 98h1M32 101h2M32 102h2M32 103h2"/>
<path stroke="#2dd579" d="M86 4h2M72 6h1M65 7h1M71 8h2M71 9h2M85 12h2M55 13h1M57 13h1M65 13h1M84 13h1M93 13h1M58 14h1M84 14h1M84 15h1M84 16h1M83 17h1M58 19h1M83 19h1M89 19h4M75 20h1M78 20h3M72 22h1M72 23h1M75 25h1M81 26h3M72 28h1M71 29h1M32 30h1M79 30h1M23 32h1M72 35h1M72 36h1M64 37h1M72 37h1M52 39h1M56 39h1M26 40h3M31 40h1M67 40h2M72 40h1M26 41h1M28 41h4M57 41h1M68 41h1M72 41h1M29 42h3M54 42h1M71 42h1M26 43h1M28 43h1M66 43h2M72 43h1M24 44h1M27 44h1M39 44h2M88 45h1M34 48h1M37 48h1M44 48h4M35 49h6M45 49h3M51 49h1M35 50h2M38 50h1M41 50h1M44 50h1M46 50h2M39 51h1M42 51h3M25 52h1M25 53h1M58 53h1M61 53h2M89 53h1M53 54h1M51 56h1M39 57h1M42 57h2M39 58h1M32 59h2M39 59h1M25 60h2M31 60h1M30 61h1M28 62h1M30 62h2M58 62h1M17 63h2M22 63h1M0 64h4M11 64h2M27 64h1M10 65h1M35 65h1M23 66h1M14 67h2M83 67h1M101 67h3M7 68h1M79 69h1M63 70h3M71 70h1M76 70h2M81 70h2M86 70h2M99 70h5M52 71h1M54 71h1M68 71h1M89 71h2M62 72h2M65 72h1M50 73h1M52 73h1M55 73h1M59 73h2M51 74h1M58 74h1M63 74h1M72 74h1M36 75h2M45 75h1M49 75h2M17 76h2M23 76h1M29 76h6M11 77h1M14 77h3M19 77h3M24 77h1M26 77h1M5 79h2M70 79h1M70 80h1M87 84h1M91 84h3M84 86h2M87 86h1M87 87h1M82 88h1M81 89h1M87 97h1M87 98h1M33 100h1"/>
<path stroke="#3dd56b" d="M86 5h1M83 6h1M94 6h1M42 8h1M55 8h1M77 8h1M65 9h1M65 10h1M73 10h1M74 11h1M55 12h1M65 12h1M87 12h2M59 13h1M74 14h1M98 14h2M99 15h1M83 16h1M65 17h1M83 18h1M94 18h2M101 19h3M72 20h1M76 20h2M72 21h1M27 23h1M72 24h1M91 24h1M72 25h1M75 28h1M28 30h1M74 30h1M74 31h1M72 32h1M23 34h1M61 34h1M23 35h1M61 35h1M63 37h1M72 38h1M26 39h2M53 39h1M42 40h1M44 40h1M56 41h1M66 41h1M32 42h1M66 42h2M72 42h1M29 43h4M28 44h1M41 44h1M31 45h1M38 47h1M42 47h6M49 47h3M89 47h1M38 48h1M42 48h2M49 48h2M25 49h2M37 50h1M42 50h2M45 50h1M53 50h1M35 51h4M40 51h2M45 51h1M49 51h3M91 52h1M55 53h1M24 54h1M35 55h1M86 56h1M45 57h3M32 58h2M27 60h2M33 60h1M85 61h1M29 62h1M55 62h1M30 63h2M61 63h1M4 64h2M10 64h1M22 64h1M26 64h1M33 65h2M11 66h2M13 67h1M100 67h1M79 68h1M66 70h1M68 70h1M53 71h1M66 71h2M88 71h1M64 73h1M71 73h1M39 74h1M38 75h1M22 76h1M38 76h1M25 77h1M0 78h4M12 78h2M70 78h1M66 84h1M97 84h1M88 85h3M92 86h1M92 87h1M94 92h1"/>
<path stroke="#4dd55c" d="M84 5h2M87 5h1M91 5h4M93 6h1M95 6h1M83 7h1M91 7h2M80 8h1M55 10h1M71 10h2M83 10h3M55 11h1M83 11h3M83 12h2M99 12h5M74 13h1M83 13h1M98 13h3M96 14h2M100 14h1M74 15h1M83 15h1M98 15h1M100 15h1M61 17h3M94 17h2M74 18h1M96 18h3M73 19h1M93 19h1M95 19h2M99 19h2M92 24h1M74 25h1M76 25h2M80 25h1M72 26h1M73 27h1M72 29h1M30 30h1M72 30h1M25 31h1M72 31h1M79 31h1M23 33h1M61 36h1M62 37h1M29 39h3M57 39h3M72 39h1M32 40h1M43 40h1M45 40h1M32 41h1M55 41h1M58 41h1M67 41h1M29 44h3M42 44h1M91 45h2M35 47h3M39 47h3M32 48h1M41 48h1M34 49h1M51 50h2M46 51h3M90 51h1M32 52h2M37 52h1M51 52h1M54 52h1M34 53h2M50 53h1M35 54h1M29 55h2M36 55h2M29 56h2M84 56h1M25 57h1M78 59h1M29 60h2M62 61h4M68 61h1M57 62h1M23 63h1M56 63h2M6 64h1M13 65h1M31 65h2M4 66h2M21 66h2M4 67h2M12 67h1M76 69h1M78 69h1M67 70h1M74 70h1M55 72h1M54 73h1M65 73h3M69 73h2M38 74h1M34 75h1M46 75h1M19 76h1M35 76h1M69 76h1M10 77h1M7 78h2M10 78h2M70 82h1M90 84h1M83 88h1M91 91h1M97 91h1M67 93h1M67 94h1"/>
<path stroke="#5ed54c" d="M74 5h1M83 5h1M88 5h1M95 5h1M84 6h4M60 7h1M84 7h2M87 7h1M93 7h1M65 8h1M83 8h1M55 9h1M65 11h1M71 11h3M71 12h1M74 12h1M89 12h2M92 12h1M71 13h3M95 13h3M57 14h1M65 14h1M71 14h3M83 14h1M74 16h1M94 16h2M98 16h3M96 17h2M99 18h5M71 19h1M94 19h1M97 19h2M65 20h1M74 20h1M83 20h1M27 24h1M27 25h1M74 28h1M29 30h1M31 30h1M93 32h1M28 39h1M32 39h1M52 40h1M54 40h4M74 43h3M32 44h1M43 45h1M54 45h1M58 45h1M42 46h1M48 46h4M34 47h1M27 48h1M33 48h1M39 48h2M51 48h1M54 49h1M99 49h1M32 51h2M99 51h1M24 52h1M29 52h1M36 52h1M38 52h1M52 52h1M36 53h1M51 53h1M32 54h3M36 54h1M51 54h1M24 55h1M34 55h1M51 55h1M28 56h1M42 56h3M48 56h1M24 57h1M38 57h1M24 58h1M31 58h1M38 58h1M89 58h1M24 59h1M31 59h1M74 59h2M74 61h1M76 61h2M32 62h1M62 63h4M7 64h2M39 64h1M29 65h2M6 66h1M10 66h1M20 66h1M11 67h1M82 67h1M6 68h1M76 68h1M77 69h1M91 71h1M53 73h1M68 73h1M72 73h1M74 73h1M40 74h1M64 74h1M71 74h1M35 75h1M44 75h1M37 76h1M68 76h1M9 78h1M66 83h1M88 84h2M87 88h1M87 89h1M71 95h1M34 99h1M68 99h1"/>
<path stroke="#71d33e" d="M89 5h2M96 5h3M88 6h1M91 6h2M96 6h1M86 7h1M88 7h3M94 7h2M84 8h2M99 8h1M86 9h1M99 9h1M86 10h1M86 11h2M99 11h1M72 12h2M91 12h1M93 12h1M95 12h1M98 12h1M94 13h1M101 13h3M101 14h3M65 15h1M94 15h2M97 15h1M101 15h3M65 16h1M101 16h3M71 17h4M98 17h6M73 18h1M72 19h1M61 20h1M63 20h2M73 20h1M101 20h3M79 21h4M81 22h2M79 24h1M93 28h1M61 32h1M61 33h1M93 33h1M73 34h1M73 36h1M93 36h1M25 38h1M74 39h1M46 40h1M49 40h3M53 40h1M58 40h1M52 41h1M54 41h1M42 42h2M59 42h1M25 43h1M59 43h1M73 43h1M77 43h1M34 44h1M38 44h1M59 44h1M32 45h1M38 45h1M49 45h2M59 45h1M39 46h3M43 46h5M52 46h1M81 46h2M52 47h1M59 47h1M55 48h1M52 49h2M91 49h2M98 49h1M100 49h1M34 50h1M34 51h1M91 51h2M97 51h2M100 51h1M31 52h1M34 52h2M50 52h1M53 52h1M65 52h1M24 53h1M37 53h1M49 53h1M65 53h1M25 54h1M37 54h1M31 55h1M38 55h1M31 56h1M38 56h4M49 56h2M83 56h1M26 57h1M28 57h2M32 57h3M37 57h1M30 58h1M29 59h2M86 59h1M39 60h1M74 60h2M84 60h1M66 61h2M75 61h1M28 63h1M66 63h1M9 64h1M13 64h1M19 64h1M13 66h1M18 66h2M6 67h1M10 67h1M5 68h1M73 70h1M52 72h1M73 73h1M41 74h1M44 74h1M47 75h2M36 76h1M66 76h2M70 83h1M84 88h1M86 88h1"/>
<path stroke="#84d12f" d="M73 5h1M99 5h1M74 6h1M90 6h1M97 6h2M96 7h4M44 8h1M86 8h1M83 9h3M99 10h1M101 11h3M57 12h2M94 12h1M96 12h2M60 14h1M94 14h2M59 15h1M71 15h3M96 15h1M71 16h3M97 16h1M60 17h1M64 17h1M78 17h1M71 18h2M62 20h1M88 20h1M100 20h1M73 21h1M83 21h1M79 23h2M78 24h1M80 24h4M101 24h3M73 25h1M83 25h1M93 25h1M27 26h1M93 26h1M93 27h1M73 28h1M101 28h3M73 29h1M80 29h3M80 30h4M93 30h1M61 31h1M93 31h1M73 33h1M73 35h1M93 35h1M74 36h1M101 36h3M73 37h2M83 37h1M93 37h1M26 38h1M73 38h1M25 39h1M73 39h1M93 39h1M59 40h1M73 40h2M93 40h1M39 41h1M44 41h2M53 41h1M59 41h1M44 42h2M75 42h1M33 43h1M44 43h1M52 43h2M33 44h1M35 44h3M43 44h1M49 44h2M93 44h1M33 45h1M37 45h1M51 45h1M32 46h1M53 46h1M78 46h1M83 46h1M32 47h2M53 47h4M58 47h1M94 47h2M54 48h1M56 48h4M90 48h1M93 48h1M32 49h2M32 50h2M94 50h2M101 50h3M93 51h4M30 52h1M39 52h1M48 52h1M92 52h1M96 52h1M26 53h1M30 53h4M48 53h1M66 53h4M26 54h1M31 54h1M50 54h1M24 56h1M27 56h1M32 56h6M45 56h3M82 56h1M27 57h1M30 57h2M35 57h2M25 58h2M29 58h1M34 58h1M37 58h1M65 58h1M74 58h2M26 59h3M76 59h1M78 60h1M82 61h1M84 61h1M61 62h1M25 63h1M32 63h1M67 63h2M28 64h1M21 65h1M24 65h1M27 65h2M9 67h1M3 68h2M72 70h1M42 74h1M45 74h3M65 74h1M69 74h1M39 75h2M7 77h1M4 78h1M70 84h1M91 87h1M85 88h1M67 92h1M33 98h1M69 100h1"/>
<path stroke="#96cf20" d="M73 6h1M89 6h1M99 6h1M61 7h2M56 8h1M87 8h1M89 8h1M87 9h1M87 10h1M100 11h1M77 14h1M58 15h1M58 16h1M96 16h1M58 17h1M56 18h1M89 20h4M99 20h1M74 21h2M78 21h1M91 21h2M73 22h1M83 22h1M91 22h1M73 23h1M76 23h3M81 23h2M73 24h1M76 24h2M81 25h2M73 26h1M61 28h1M100 28h1M61 29h1M83 29h1M73 30h1M26 31h1M73 31h1M83 34h1M93 34h1M65 35h1M101 35h3M27 38h1M32 38h2M74 38h1M83 38h1M93 38h1M102 38h2M33 39h1M75 39h1M83 39h1M101 39h3M47 40h2M75 40h1M83 40h1M101 40h3M25 41h1M35 41h1M40 41h4M51 41h1M73 41h1M76 41h5M93 41h1M101 41h3M25 42h1M33 42h3M41 42h1M46 42h1M48 42h1M52 42h2M74 42h1M76 42h1M42 43h2M45 43h1M49 43h3M93 43h1M51 44h2M34 45h3M52 45h1M33 46h2M38 46h1M59 46h1M79 46h2M94 46h2M57 47h1M99 47h2M25 48h1M91 48h2M94 48h1M90 49h1M93 49h1M97 49h1M90 50h1M93 50h1M101 51h3M49 52h1M66 52h3M38 53h1M54 53h1M29 54h2M38 54h1M48 54h2M27 55h2M32 55h2M42 55h2M25 56h1M87 56h2M27 58h2M66 58h2M76 58h1M25 59h1M38 59h1M77 59h1M89 59h1M76 60h2M64 62h2M68 62h1M24 63h1M29 63h1M14 64h3M30 64h1M38 64h1M9 65h1M20 65h1M22 65h1M25 65h2M9 66h1M17 66h1M2 68h1M43 74h1M48 74h1M50 74h1M70 74h1M20 76h2M8 77h2M5 78h2M66 82h1M88 86h1M90 87h1M93 92h1M33 99h1M69 101h1M69 102h1M69 103h1"/>
<path stroke="#a8cc13" d="M63 7h1M57 8h2M88 8h1M90 8h3M98 8h1M88 11h1M60 13h1M56 17h2M57 18h3M96 20h1M98 20h1M76 22h3M92 22h1M101 22h3M74 23h2M83 23h1M91 23h2M101 23h3M74 24h2M100 24h1M100 25h1M101 27h3M93 29h1M101 29h3M61 30h1M65 30h1M65 31h1M80 31h4M65 32h1M73 32h4M78 32h1M65 33h1M83 33h1M100 33h4M74 34h1M64 35h1M74 35h1M65 36h1M75 36h1M33 37h1M75 37h1M24 38h1M30 38h2M75 38h1M101 38h1M24 39h1M100 39h1M25 40h1M33 40h1M78 40h1M100 40h1M33 41h2M36 41h1M38 41h1M46 41h1M49 41h2M74 41h2M83 41h1M100 41h1M36 42h3M47 42h1M51 42h1M73 42h1M77 42h4M82 42h1M93 42h1M24 43h1M34 43h1M37 43h5M46 43h1M48 43h1M78 43h3M53 44h1M78 44h1M81 44h2M48 45h1M53 45h1M35 46h3M56 46h3M88 46h3M96 46h1M98 47h1M95 48h1M98 48h6M96 49h1M99 50h2M40 52h1M47 52h1M69 52h1M93 52h1M29 53h1M44 53h4M27 54h2M39 55h1M41 55h1M44 55h1M48 55h1M26 56h1M36 58h1M77 58h1M34 59h1M34 60h1M83 61h1M66 62h2M17 64h2M23 64h3M29 64h1M31 64h1M37 64h1M0 65h7M14 65h1M17 65h3M23 65h1M0 66h4M14 66h1M0 67h4M8 67h1M0 68h2M54 72h1M49 74h1M66 74h1M101 84h3M91 86h1M88 87h1M92 91h2"/>
<path stroke="#b9c808" d="M64 7h1M43 8h1M59 8h1M98 9h1M56 10h3M56 11h3M98 11h1M56 12h1M59 12h1M56 13h1M60 15h1M56 16h2M59 16h1M59 17h1M95 20h1M97 20h1M76 21h2M79 22h2M89 23h2M65 25h1M101 25h3M65 26h1M101 26h3M94 28h2M99 28h1M64 30h1M27 31h3M63 31h2M100 31h1M102 31h2M29 32h2M64 32h1M77 32h1M79 32h1M83 32h1M94 32h1M101 32h3M33 33h1M64 33h1M25 34h1M30 34h1M62 34h2M65 34h1M100 34h1M33 35h1M83 35h1M27 36h1M33 36h1M64 36h1M83 36h1M25 37h3M31 37h2M101 37h3M28 38h2M24 40h1M76 40h2M79 40h2M24 41h1M37 41h1M48 41h1M81 41h2M39 42h2M49 42h2M81 42h1M83 42h1M101 42h3M35 43h2M47 43h1M81 43h3M101 43h3M48 44h1M79 44h2M83 44h1M101 44h3M44 45h4M78 45h6M93 45h1M100 45h4M54 46h2M97 46h4M93 47h1M96 47h2M26 48h1M52 48h2M97 48h1M94 49h2M101 49h3M91 50h2M98 50h1M41 52h1M44 52h3M94 52h2M39 53h1M42 54h3M47 54h1M25 55h2M40 55h1M45 55h3M37 59h1M35 60h4M87 60h1M56 62h1M62 62h2M32 64h1M36 64h1M8 65h1M7 66h2M7 67h1M78 68h1M67 74h2M41 75h1M66 81h1M98 84h3M70 85h1M89 86h2M89 87h1M94 91h1M96 91h1M71 96h1"/>
<path stroke="#c9c500" d="M56 9h4M98 10h1M64 13h1M57 15h1M93 20h2M88 21h1M90 21h1M93 21h1M100 21h1M74 22h2M88 22h1M93 22h1M100 22h1M88 23h1M93 23h1M100 23h1M93 24h1M64 25h1M99 25h1M64 26h1M100 26h1M65 27h1M98 28h1M101 30h3M30 31h1M62 31h1M101 31h1M24 32h1M63 32h1M80 32h1M95 32h1M25 33h3M29 33h4M63 33h1M74 33h1M29 34h1M31 34h1M33 34h1M64 34h1M75 34h1M101 34h3M32 35h1M63 35h1M75 35h1M97 35h1M32 36h1M24 37h1M29 37h2M82 37h1M82 38h1M100 38h1M82 40h1M47 41h1M24 42h1M100 42h1M44 44h1M46 44h2M96 45h1M99 45h1M101 46h3M90 47h1M101 47h3M96 48h1M96 50h2M42 52h2M52 53h1M39 54h1M46 54h1M50 55h1M35 58h1M85 60h1M33 64h3M7 65h1M77 68h1M53 72h1M43 75h1M67 90h1M67 91h1M95 91h1M71 97h1"/>
<path stroke="#d9c100" d="M93 8h1M94 9h2M89 11h1M64 12h1M62 13h2M56 14h1M56 15h1M60 16h1M61 21h3M89 21h1M64 22h2M65 23h1M94 23h2M65 24h1M99 24h1M61 25h1M98 25h1M61 26h1M96 26h2M61 27h1M64 27h1M94 27h2M100 27h1M62 28h1M96 28h2M62 29h4M100 29h1M63 30h1M94 30h2M100 30h1M33 31h1M96 31h1M99 31h1M33 32h1M62 32h1M100 32h1M24 33h1M28 33h1M62 33h1M94 33h2M99 33h1M24 34h1M26 34h1M32 34h1M98 34h2M25 35h1M30 35h2M62 35h1M79 35h2M96 35h1M100 35h1M26 36h1M28 36h4M28 37h1M81 37h1M81 38h1M82 39h1M96 39h4M81 40h1M96 40h4M98 41h2M100 43h1M45 44h1M96 44h1M100 44h1M94 45h2M97 45h2M93 46h1M91 47h2M40 53h1M42 53h2M53 53h1M41 54h1M45 54h1M49 55h1M36 59h1M87 59h1M39 63h1M16 65h1M16 66h1M42 75h1M66 80h1M69 81h1M67 82h2M67 83h1M70 91h1M70 92h1M92 92h1M96 100h1M99 100h2M91 101h2M96 101h1M91 102h2M96 102h1M91 103h2M96 103h1"/>
<path stroke="#e7be00" d="M100 3h1M60 8h1M94 8h3M64 9h1M93 9h1M64 10h1M90 11h1M60 12h1M62 12h2M61 13h1M61 16h1M78 16h1M64 21h2M96 21h4M101 21h3M61 22h3M89 22h2M94 22h1M99 22h1M64 23h1M64 24h1M96 24h3M94 25h4M98 26h2M63 28h1M96 29h1M62 30h1M94 31h2M97 31h2M28 32h1M81 32h2M75 33h1M98 33h1M82 34h1M97 34h1M24 35h1M26 35h1M29 35h1M78 35h1M24 36h2M63 36h1M78 36h3M97 36h1M100 36h1M100 37h1M99 38h1M76 39h1M78 39h4M94 40h2M97 41h1M97 42h3M96 43h2M94 44h2M97 44h1M91 46h2M41 53h1M40 54h1M35 59h1M88 59h1M86 60h1M35 61h1M15 65h1M15 66h1M66 77h2M66 78h1M66 79h1M68 81h1M69 82h1M68 83h2M67 84h3M70 86h1M68 90h1M70 90h1M69 92h1M70 93h1M69 95h2M69 96h2M68 97h1M68 98h4M69 99h1M87 99h1M71 100h2M79 100h2M97 100h2M85 101h1M93 101h3M85 102h1M93 102h3M85 103h1M93 103h3"/>
<path stroke="#f4bb03" d="M100 0h1M100 1h1M100 2h1M97 8h1M60 9h1M88 9h1M59 10h1M88 10h3M94 10h2M59 11h1M64 11h1M94 11h2M61 12h1M61 14h4M62 16h3M94 21h1M95 22h1M98 22h1M61 23h1M63 23h1M96 23h4M61 24h1M63 25h1M63 26h1M94 26h2M96 27h3M97 29h1M96 30h1M99 30h1M25 32h3M99 32h1M79 33h1M96 33h2M27 34h1M79 34h2M96 34h1M27 35h1M76 35h2M94 35h2M98 35h1M76 36h1M82 36h1M94 36h3M76 37h1M78 37h3M94 37h1M76 38h1M78 38h3M97 38h2M77 39h1M94 39h2M94 41h3M96 42h1M98 43h2M98 44h2M33 61h2M68 77h1M67 78h1M67 79h3M67 81h1M67 85h3M70 87h1M70 88h1M67 89h1M70 89h1M82 89h1M69 90h1M68 91h2M68 92h1M82 92h1M91 92h1M68 93h2M70 94h1M68 96h1M69 97h2M82 98h4M82 99h1M73 100h1M86 100h1M94 100h2M84 101h1M97 101h1M84 102h1M97 102h1M84 103h1M97 103h1"/>
<path stroke="#ffb90d" d="M61 8h2M61 9h1M63 9h1M89 9h4M96 9h2M63 10h1M93 10h1M63 11h1M93 11h1M96 11h2M80 14h1M61 15h1M64 15h1M95 21h1M96 22h2M62 23h1M62 24h2M94 24h2M62 25h1M62 26h1M63 27h1M99 27h1M65 28h1M95 29h1M99 29h1M97 30h2M31 32h1M96 32h3M76 33h3M80 33h1M82 33h1M28 34h1M76 34h3M81 34h1M94 34h2M28 35h1M82 35h1M62 36h1M77 36h1M81 36h1M98 36h1M77 37h1M95 37h1M97 37h2M77 38h1M94 38h3M94 42h2M94 43h2M36 61h1M33 63h1M37 63h2M69 77h1M68 78h1M67 80h3M67 86h1M68 89h2M83 89h1M83 92h1M86 92h1M86 93h1M68 94h2M68 95h1M83 95h2M86 98h1M70 99h2M83 99h1M70 100h1M87 100h1M91 100h3M101 100h3M83 101h1M86 101h1M83 102h1M86 102h1M83 103h1M86 103h1"/>
<path stroke="#ffb916" d="M100 4h1M101 6h3M100 7h1M63 8h2M100 8h1M62 9h1M100 9h1M60 10h1M91 10h2M96 10h2M100 10h1M60 11h3M91 11h2M62 15h2M62 27h1M94 29h1M98 29h1M32 32h1M81 33h1M81 35h1M99 35h1M99 36h1M96 37h1M99 37h1M39 61h1M39 62h1M36 63h1M69 78h1M68 86h2M67 87h3M68 88h2M84 89h3M85 90h1M86 91h1M84 92h1M82 93h2M82 94h2M86 94h1M82 95h1M85 95h2M86 96h1M82 97h1M84 99h2M75 100h1M85 100h1M88 100h3M70 101h3M74 101h2M81 101h2M87 101h1M101 101h3M70 102h3M74 102h2M81 102h2M87 102h1M101 102h3M70 103h3M74 103h2M81 103h2M87 103h1M101 103h3"/>
<path stroke="#ffbc14" d="M101 0h3M101 1h3M101 2h3M100 5h1M100 6h1M101 7h3M61 10h2M101 10h3M64 28h1M27 53h1M34 63h2M67 88h1M82 90h1M84 90h1M86 90h1M82 91h4M85 92h1M84 93h1M84 94h1M84 96h2M74 100h1M76 100h3M84 100h1M73 101h1M79 101h2M90 101h1M73 102h1M79 102h2M90 102h1M73 103h1M79 103h2M90 103h1"/>
<path stroke="#ffc30e" d="M101 3h3M101 5h3M31 31h1M37 61h2M33 62h1M38 62h1M83 90h1M85 93h1M85 94h1M83 96h1M83 97h1M86 97h1M86 99h1M81 100h3M76 101h1M88 101h2M98 101h1M76 102h1M88 102h2M98 102h1M76 103h1M88 103h2M98 103h1"/>
<path stroke="#ffc907" d="M101 4h3M78 8h1M101 8h3M101 9h3M32 31h1M35 62h3M82 96h1M77 101h2M99 101h2M77 102h2M99 102h2M77 103h2M99 103h2"/>
<path stroke="#ffd001" d="M77 9h1M28 53h1M34 62h1M84 97h2"/>
<path stroke="#ffd700" d="M77 13h1"/>
<path stroke="#ffde00" d="M79 8h1"/>
<path stroke="#fcec00" d="M78 14h1"/>
<path stroke="#fcf300" d="M80 9h1"/>
<path stroke="#fcfa00" d="M77 10h1M77 12h1M79 14h1"/>
<path stroke="#feff00" d="M78 9h2M78 10h3M77 11h4M78 12h3M78 13h3"/>
</g>
<g fill="#0a1a50" fill-opacity="0.85">
<rect x="2" y="2" width="100" height="0.257566"/>
<rect x="2" y="101.742" width="100" height="0.257566"/>
<rect x="2" y="2" width="0.203562" height="100"/>
<rect x="101.847" y="2" width="0.152672" height="100"/>
<rect x="11.5386" y="2" width="0.16285" height="1.03026"/>
<rect x="11.5386" y="100.97" width="0.16285" height="1.03026"/>
<rect x="21.5386" y="2" width="0.16285" height="1.03026"/>
<rect x="21.5386" y="100.97" width="0.16285" height="1.03026"/>
<rect x="31.5386" y="2" width="0.16285" height="1.03026"/>
<rect x="31.5386" y="100.97" width="0.16285" height="1.03026"/>
<rect x="41.5386" y="2" width="0.16285" height="1.03026"/>
<rect x="41.5386" y="100.97" width="0.16285" height="1.03026"/>
<rect x="51.5386" y="2" width="0.16285" height="1.03026"/>
<rect x="51.5386" y="100.97" width="0.16285" height="1.03026"/>
<rect x="61.5386" y="2" width="0.16285" height="1.03026"/>
<rect x="61.5386" y="100.97" width="0.16285" height="1.03026"/>
<rect x="71.5386" y="2" width="0.16285" height="1.03026"/>
<rect x="71.5386" y="100.97" width="0.16285" height="1.03026"/>
<rect x="81.5386" y="2" width="0.16285" height="1.03026"/>
<rect x="81.5386" y="100.97" width="0.16285" height="1.03026"/>
<rect x="91.5386" y="2" width="0.16285" height="1.03026"/>
<rect x="91.5386" y="100.97" width="0.16285" height="1.03026"/>
<rect x="101.539" y="2" width="0.16285" height="1.03026"/>
<rect x="101.539" y="100.97" width="0.16285" height="1.03026"/>
<rect x="2" y="11.427" width="0.814249" height="0.206053"/>
<rect x="101.186" y="11.427" width="0.814249" height="0.206053"/>
<rect x="2" y="21.427" width="0.814249" height="0.206053"/>
<rect x="101.186" y="21.427" width="0.814249" height="0.206053"/>
<rect x="2" y="31.427" width="0.814249" height="0.206053"/>
<rect x="101.186" y="31.427" width="0.814249" height="0.206053"/>
<rect x="2" y="41.427" width="0.814249" height="0.206053"/>
<rect x="101.186" y="41.427" width="0.814249" height="0.206053"/>
<rect x="2" y="51.427" width="0.814249" height="0.206053"/>
<rect x="101.186" y="51.427" width="0.814249" height="0.206053"/>
<rect x="2" y="61.427" width="0.814249" height="0.206053"/>
<rect x="101.186" y="61.427" width="0.814249" height="0.206053"/>
<rect x="2" y="71.427" width="0.814249" height="0.206053"/>
<rect x="101.186" y="71.427" width="0.814249" height="0.206053"/>
<rect x="2" y="81.427" width="0.814249" height="0.206053"/>
<rect x="101.186" y="81.427" width="0.814249" height="0.206053"/>
<rect x="2" y="91.427" width="0.814249" height="0.206053"/>
<rect x="101.186" y="91.427" width="0.814249" height="0.206053"/>
</g>
</svg>
<svg class="hist" style="left:0;top:0" width="2051" height="3560" viewBox="0 0 2051 3560">
<defs><linearGradient id="gg3" x1="0" x2="1" y1="0" y2="0"><stop offset="0" stop-color="#000"/><stop offset="1" stop-color="#fff"/></linearGradient></defs>
<rect x="1167.3" y="3354.9" width="775.0" height="54.7" fill="url(#gg3)"/>
<path fill="#b0f4fc" d="M1195.24 3354.9V3335.7h3.94V3354.9zM1199.51 3354.9V3316.5h3.94V3354.9zM1201.65 3354.9V3326.1h3.94V3354.9zM1203.78 3354.9V3330.7h3.94V3354.9zM1208.06 3354.9V3335.7h3.94V3354.9zM1210.19 3354.9V3305.9h3.94V3354.9zM1214.46 3354.9V3314.8h3.94V3354.9zM1216.60 3354.9V3323.1h3.94V3354.9zM1220.87 3354.9V3330.9h3.94V3354.9zM1223.01 3354.9V3321.3h3.94V3354.9zM1225.14 3354.9V3333.3h3.94V3354.9zM1229.42 3354.9V3338.4h3.94V3354.9zM1231.55 3354.9V3343.0h3.94V3354.9zM1235.83 3354.9V3335.7h3.94V3354.9zM1237.96 3354.9V3316.5h3.94V3354.9zM1242.23 3354.9V3291.0h3.94V3354.9zM1244.37 3354.9V3306.9h3.94V3354.9zM1246.51 3354.9V3316.5h3.94V3354.9zM1250.78 3354.9V3326.1h3.94V3354.9zM1252.91 3354.9V3305.9h3.94V3354.9zM1257.19 3354.9V3316.5h3.94V3354.9zM1259.32 3354.9V3326.1h3.94V3354.9zM1263.60 3354.9V3304.5h3.94V3354.9zM1265.73 3354.9V3302.1h3.94V3354.9zM1267.87 3354.9V3335.7h3.94V3354.9zM1272.14 3354.9V3297.3h3.94V3354.9zM1274.28 3354.9V3262.7h3.94V3354.9zM1278.55 3354.9V3297.3h3.94V3354.9zM1280.68 3354.9V3321.3h3.94V3354.9zM1282.82 3354.9V3335.7h3.94V3354.9zM1287.09 3354.9V3282.9h3.94V3354.9zM1289.23 3354.9V3302.1h3.94V3354.9zM1293.50 3354.9V3306.6h3.94V3354.9zM1295.64 3354.9V3311.7h3.94V3354.9zM1299.91 3354.9V3311.7h3.94V3354.9zM1302.05 3354.9V3326.1h3.94V3354.9zM1304.18 3354.9V3326.1h3.94V3354.9zM1308.45 3354.9V3326.1h3.94V3354.9zM1310.59 3354.9V3333.3h3.94V3354.9zM1314.86 3354.9V3326.4h3.94V3354.9zM1317.00 3354.9V3313.2h3.94V3354.9zM1321.27 3354.9V3302.1h3.94V3354.9zM1323.41 3354.9V3311.7h3.94V3354.9zM1325.54 3354.9V3316.5h3.94V3354.9zM1329.82 3354.9V3345.4h3.94V3354.9zM1331.95 3354.9V3267.5h3.94V3354.9zM1336.22 3354.9V3321.3h3.94V3354.9zM1338.36 3354.9V3256.4h3.94V3354.9zM1342.63 3354.9V3297.3h3.94V3354.9zM1344.77 3354.9V3291.0h3.94V3354.9zM1346.91 3354.9V3291.0h3.94V3354.9zM1351.18 3354.9V3225.2h3.94V3354.9zM1353.31 3354.9V3237.2h3.94V3354.9zM1357.59 3354.9V3211.5h3.94V3354.9zM1359.72 3354.9V3178.9h3.94V3354.9zM1361.86 3354.9V3118.7h3.94V3354.9zM1366.13 3354.9V3141.4h3.94V3354.9zM1368.27 3354.9V3162.0h3.94V3354.9zM1372.54 3354.9V3134.6h3.94V3354.9zM1374.68 3354.9V3093.2h3.94V3354.9zM1378.95 3354.9V3169.2h3.94V3354.9zM1381.08 3354.9V3120.7h3.94V3354.9zM1383.22 3354.9V3063.4h3.94V3354.9zM1387.49 3354.9V2900.0h3.94V3354.9zM1389.63 3354.9V3173.1h3.94V3354.9zM1393.90 3354.9V2967.6h3.94V3354.9zM1396.04 3354.9V2779.8h3.94V3354.9zM1400.31 3354.9V2949.0h3.94V3354.9zM1402.45 3354.9V2850.9h3.94V3354.9zM1404.58 3354.9V3198.1h3.94V3354.9zM1408.85 3354.9V2676.4h3.94V3354.9zM1410.99 3354.9V2904.8h3.94V3354.9zM1415.26 3354.9V2845.0h3.94V3354.9zM1417.40 3354.9V2768.7h3.94V3354.9zM1421.67 3354.9V2687.5h3.94V3354.9zM1423.81 3354.9V2934.6h3.94V3354.9zM1425.94 3354.9V2866.3h3.94V3354.9zM1430.22 3354.9V2931.2h3.94V3354.9zM1432.35 3354.9V2948.1h3.94V3354.9zM1436.62 3354.9V2979.3h3.94V3354.9zM1438.76 3354.9V2931.2h3.94V3354.9zM1440.90 3354.9V2968.2h3.94V3354.9zM1445.17 3354.9V2968.2h3.94V3354.9zM1447.31 3354.9V3008.2h3.94V3354.9zM1451.58 3354.9V3029.8h3.94V3354.9zM1453.71 3354.9V2995.2h3.94V3354.9zM1457.99 3354.9V2936.0h3.94V3354.9zM1460.12 3354.9V2929.8h3.94V3354.9zM1462.26 3354.9V2711.5h3.94V3354.9zM1466.53 3354.9V2895.3h3.94V3354.9zM1468.67 3354.9V3044.2h3.94V3354.9zM1472.94 3354.9V2995.2h3.94V3354.9zM1475.08 3354.9V2746.1h3.94V3354.9zM1479.35 3354.9V3128.3h3.94V3354.9zM1481.48 3354.9V3078.8h3.94V3354.9zM1483.62 3354.9V2995.2h3.94V3354.9zM1487.89 3354.9V2751.9h3.94V3354.9zM1490.03 3354.9V3142.8h3.94V3354.9zM1494.30 3354.9V3134.6h3.94V3354.9zM1496.44 3354.9V2866.3h3.94V3354.9zM1500.71 3354.9V2984.1h3.94V3354.9zM1502.85 3354.9V3018.8h3.94V3354.9zM1504.98 3354.9V3060.3h3.94V3354.9zM1509.25 3354.9V2821.6h3.94V3354.9zM1511.39 3354.9V2984.1h3.94V3354.9zM1515.66 3354.9V3123.5h3.94V3354.9zM1517.80 3354.9V2816.8h3.94V3354.9zM1519.94 3354.9V3044.2h3.94V3354.9zM1524.21 3354.9V2920.2h3.94V3354.9zM1526.34 3354.9V3074.0h3.94V3354.9zM1530.62 3354.9V2954.3h3.94V3354.9zM1532.75 3354.9V2974.5h3.94V3354.9zM1537.02 3354.9V2934.6h3.94V3354.9zM1539.16 3354.9V3147.6h3.94V3354.9zM1541.30 3354.9V2787.0h3.94V3354.9zM1545.57 3354.9V3078.8h3.94V3354.9zM1547.71 3354.9V2900.0h3.94V3354.9zM1551.98 3354.9V2836.0h3.94V3354.9zM1554.11 3354.9V3078.8h3.94V3354.9zM1558.39 3354.9V2916.8h3.94V3354.9zM1560.52 3354.9V2946.6h3.94V3354.9zM1562.66 3354.9V2840.8h3.94V3354.9zM1566.93 3354.9V3039.4h3.94V3354.9zM1569.07 3354.9V2855.7h3.94V3354.9zM1573.34 3354.9V2896.6h3.94V3354.9zM1575.48 3354.9V2676.4h3.94V3354.9zM1577.61 3354.9V3123.5h3.94V3354.9zM1581.88 3354.9V2954.3h3.94V3354.9zM1584.02 3354.9V2716.3h3.94V3354.9zM1588.29 3354.9V2939.4h3.94V3354.9zM1590.43 3354.9V3123.5h3.94V3354.9zM1594.70 3354.9V3017.8h3.94V3354.9zM1596.84 3354.9V2816.8h3.94V3354.9zM1598.97 3354.9V2924.0h3.94V3354.9zM1603.25 3354.9V3123.5h3.94V3354.9zM1605.38 3354.9V3173.1h3.94V3354.9zM1609.65 3354.9V3059.6h3.94V3354.9zM1611.79 3354.9V3074.0h3.94V3354.9zM1616.06 3354.9V3153.8h3.94V3354.9zM1618.20 3354.9V2889.4h3.94V3354.9zM1620.33 3354.9V3109.1h3.94V3354.9zM1624.61 3354.9V2991.3h3.94V3354.9zM1626.74 3354.9V3207.7h3.94V3354.9zM1631.02 3354.9V3025.0h3.94V3354.9zM1633.15 3354.9V3128.3h3.94V3354.9zM1637.42 3354.9V3104.3h3.94V3354.9zM1639.56 3354.9V3183.6h3.94V3354.9zM1641.70 3354.9V3014.4h3.94V3354.9zM1645.97 3354.9V3113.9h3.94V3354.9zM1648.10 3354.9V3024.0h3.94V3354.9zM1652.38 3354.9V3078.8h3.94V3354.9zM1654.51 3354.9V3068.2h3.94V3354.9zM1656.65 3354.9V3074.0h3.94V3354.9zM1660.92 3354.9V3044.2h3.94V3354.9zM1663.06 3354.9V3019.2h3.94V3354.9zM1667.33 3354.9V2995.3h3.94V3354.9zM1669.47 3354.9V2975.9h3.94V3354.9zM1673.74 3354.9V2847.1h3.94V3354.9zM1675.87 3354.9V2912.0h3.94V3354.9zM1678.01 3354.9V3153.8h3.94V3354.9zM1682.28 3354.9V2998.5h3.94V3354.9zM1684.42 3354.9V2676.4h3.94V3354.9zM1688.69 3354.9V2920.2h3.94V3354.9zM1690.83 3354.9V2934.4h3.94V3354.9zM1695.10 3354.9V2950.5h3.94V3354.9zM1697.24 3354.9V2681.2h3.94V3354.9zM1699.37 3354.9V2716.3h3.94V3354.9zM1703.65 3354.9V3138.0h3.94V3354.9zM1705.78 3354.9V2791.8h3.94V3354.9zM1710.05 3354.9V3138.0h3.94V3354.9zM1712.19 3354.9V3106.8h3.94V3354.9zM1716.46 3354.9V3068.2h3.94V3354.9zM1718.60 3354.9V2885.6h3.94V3354.9zM1720.73 3354.9V3033.6h3.94V3354.9zM1725.01 3354.9V3003.3h3.94V3354.9zM1727.14 3354.9V3014.9h3.94V3354.9zM1731.42 3354.9V3028.8h3.94V3354.9zM1733.55 3354.9V3177.9h3.94V3354.9zM1735.69 3354.9V3183.6h3.94V3354.9zM1739.96 3354.9V3104.3h3.94V3354.9zM1742.10 3354.9V3109.1h3.94V3354.9zM1746.37 3354.9V3082.7h3.94V3354.9zM1748.50 3354.9V3157.2h3.94V3354.9zM1752.78 3354.9V3118.7h3.94V3354.9zM1754.91 3354.9V3133.2h3.94V3354.9zM1757.05 3354.9V3188.4h3.94V3354.9zM1761.32 3354.9V3019.2h3.94V3354.9zM1763.46 3354.9V3105.8h3.94V3354.9zM1767.73 3354.9V3217.3h3.94V3354.9zM1769.87 3354.9V3266.0h3.94V3354.9zM1774.14 3354.9V3162.0h3.94V3354.9zM1776.27 3354.9V3234.8h3.94V3354.9zM1778.41 3354.9V3282.9h3.94V3354.9zM1782.68 3354.9V3262.7h3.94V3354.9zM1784.82 3354.9V3188.4h3.94V3354.9zM1789.09 3354.9V3335.7h3.94V3354.9zM1791.23 3354.9V3287.7h3.94V3354.9zM1795.50 3354.9V3282.9h3.94V3354.9zM1797.64 3354.9V3282.9h3.94V3354.9zM1799.77 3354.9V3326.1h3.94V3354.9zM1804.04 3354.9V3303.5h3.94V3354.9zM1806.18 3354.9V3278.1h3.94V3354.9zM1810.45 3354.9V3305.9h3.94V3354.9zM1812.59 3354.9V3311.1h3.94V3354.9zM1814.73 3354.9V3315.2h3.94V3354.9zM1819.00 3354.9V3319.2h3.94V3354.9zM1821.13 3354.9V3343.0h3.94V3354.9zM1825.41 3354.9V3340.0h3.94V3354.9zM1827.54 3354.9V3335.7h3.94V3354.9zM1831.81 3354.9V3343.0h3.94V3354.9zM1833.95 3354.9V3326.1h3.94V3354.9zM1836.09 3354.9V3345.4h3.94V3354.9zM1840.36 3354.9V3326.1h3.94V3354.9zM1842.50 3354.9V3343.0h3.94V3354.9zM1846.77 3354.9V3336.5h3.94V3354.9zM1848.90 3354.9V3326.1h3.94V3354.9zM1853.18 3354.9V3345.4h3.94V3354.9zM1855.31 3354.9V3343.0h3.94V3354.9zM1857.45 3354.9V3335.7h3.94V3354.9zM1891.63 3354.9V3351.3h3.94V3354.9zM1900.17 3354.9V3348.9h3.94V3354.9zM1906.58 3354.9V3349.9h3.94V3354.9zM1910.85 3354.9V3350.8h3.94V3354.9zM1912.99 3354.9V3348.5h3.94V3354.9zM1940.76 3354.9V3290.3h3.94V3354.9z"/>
<path fill="#0070b6" d="M1196.14 3354.9V3336.3h2.14V3354.9zM1200.41 3354.9V3317.1h2.14V3354.9zM1202.55 3354.9V3326.7h2.14V3354.9zM1204.68 3354.9V3331.3h2.14V3354.9zM1208.96 3354.9V3336.3h2.14V3354.9zM1211.09 3354.9V3306.5h2.14V3354.9zM1215.36 3354.9V3315.4h2.14V3354.9zM1217.50 3354.9V3323.7h2.14V3354.9zM1221.77 3354.9V3331.5h2.14V3354.9zM1223.91 3354.9V3321.9h2.14V3354.9zM1226.04 3354.9V3333.9h2.14V3354.9zM1230.32 3354.9V3339.0h2.14V3354.9zM1232.45 3354.9V3343.6h2.14V3354.9zM1236.73 3354.9V3336.3h2.14V3354.9zM1238.86 3354.9V3317.1h2.14V3354.9zM1243.13 3354.9V3291.6h2.14V3354.9zM1245.27 3354.9V3307.5h2.14V3354.9zM1247.41 3354.9V3317.1h2.14V3354.9zM1251.68 3354.9V3326.7h2.14V3354.9zM1253.81 3354.9V3306.5h2.14V3354.9zM1258.09 3354.9V3317.1h2.14V3354.9zM1260.22 3354.9V3326.7h2.14V3354.9zM1264.50 3354.9V3305.1h2.14V3354.9zM1266.63 3354.9V3302.7h2.14V3354.9zM1268.77 3354.9V3336.3h2.14V3354.9zM1273.04 3354.9V3297.9h2.14V3354.9zM1275.18 3354.9V3263.3h2.14V3354.9zM1279.45 3354.9V3297.9h2.14V3354.9zM1281.58 3354.9V3321.9h2.14V3354.9zM1283.72 3354.9V3336.3h2.14V3354.9zM1287.99 3354.9V3283.5h2.14V3354.9zM1290.13 3354.9V3302.7h2.14V3354.9zM1294.40 3354.9V3307.2h2.14V3354.9zM1296.54 3354.9V3312.3h2.14V3354.9zM1300.81 3354.9V3312.3h2.14V3354.9zM1302.95 3354.9V3326.7h2.14V3354.9zM1305.08 3354.9V3326.7h2.14V3354.9zM1309.35 3354.9V3326.7h2.14V3354.9zM1311.49 3354.9V3333.9h2.14V3354.9zM1315.76 3354.9V3327.0h2.14V3354.9zM1317.90 3354.9V3313.8h2.14V3354.9zM1322.17 3354.9V3302.7h2.14V3354.9zM1324.31 3354.9V3312.3h2.14V3354.9zM1326.44 3354.9V3317.1h2.14V3354.9zM1330.72 3354.9V3346.0h2.14V3354.9zM1332.85 3354.9V3268.1h2.14V3354.9zM1337.12 3354.9V3321.9h2.14V3354.9zM1339.26 3354.9V3257.0h2.14V3354.9zM1343.53 3354.9V3297.9h2.14V3354.9zM1345.67 3354.9V3291.6h2.14V3354.9zM1347.81 3354.9V3291.6h2.14V3354.9zM1352.08 3354.9V3225.8h2.14V3354.9zM1354.21 3354.9V3237.8h2.14V3354.9zM1358.49 3354.9V3212.1h2.14V3354.9zM1360.62 3354.9V3179.5h2.14V3354.9zM1362.76 3354.9V3119.3h2.14V3354.9zM1367.03 3354.9V3142.0h2.14V3354.9zM1369.17 3354.9V3162.6h2.14V3354.9zM1373.44 3354.9V3135.2h2.14V3354.9zM1375.58 3354.9V3093.8h2.14V3354.9zM1379.85 3354.9V3169.8h2.14V3354.9zM1381.98 3354.9V3121.3h2.14V3354.9zM1384.12 3354.9V3064.0h2.14V3354.9zM1388.39 3354.9V2900.6h2.14V3354.9zM1390.53 3354.9V3173.7h2.14V3354.9zM1394.80 3354.9V2968.2h2.14V3354.9zM1396.94 3354.9V2780.4h2.14V3354.9zM1401.21 3354.9V2949.6h2.14V3354.9zM1403.35 3354.9V2851.5h2.14V3354.9zM1405.48 3354.9V3198.7h2.14V3354.9zM1409.75 3354.9V2677.0h2.14V3354.9zM1411.89 3354.9V2905.4h2.14V3354.9zM1416.16 3354.9V2845.6h2.14V3354.9zM1418.30 3354.9V2769.3h2.14V3354.9zM1422.57 3354.9V2688.1h2.14V3354.9zM1424.71 3354.9V2935.2h2.14V3354.9zM1426.84 3354.9V2866.9h2.14V3354.9zM1431.12 3354.9V2931.8h2.14V3354.9zM1433.25 3354.9V2948.7h2.14V3354.9zM1437.52 3354.9V2979.9h2.14V3354.9zM1439.66 3354.9V2931.8h2.14V3354.9zM1441.80 3354.9V2968.8h2.14V3354.9zM1446.07 3354.9V2968.8h2.14V3354.9zM1448.21 3354.9V3008.8h2.14V3354.9zM1452.48 3354.9V3030.4h2.14V3354.9zM1454.61 3354.9V2995.8h2.14V3354.9zM1458.89 3354.9V2936.6h2.14V3354.9zM1461.02 3354.9V2930.4h2.14V3354.9zM1463.16 3354.9V2712.1h2.14V3354.9zM1467.43 3354.9V2895.9h2.14V3354.9zM1469.57 3354.9V3044.8h2.14V3354.9zM1473.84 3354.9V2995.8h2.14V3354.9zM1475.98 3354.9V2746.7h2.14V3354.9zM1480.25 3354.9V3128.9h2.14V3354.9zM1482.38 3354.9V3079.4h2.14V3354.9zM1484.52 3354.9V2995.8h2.14V3354.9zM1488.79 3354.9V2752.5h2.14V3354.9zM1490.93 3354.9V3143.4h2.14V3354.9zM1495.20 3354.9V3135.2h2.14V3354.9zM1497.34 3354.9V2866.9h2.14V3354.9zM1501.61 3354.9V2984.7h2.14V3354.9zM1503.75 3354.9V3019.4h2.14V3354.9zM1505.88 3354.9V3060.9h2.14V3354.9zM1510.15 3354.9V2822.2h2.14V3354.9zM1512.29 3354.9V2984.7h2.14V3354.9zM1516.56 3354.9V3124.1h2.14V3354.9zM1518.70 3354.9V2817.4h2.14V3354.9zM1520.84 3354.9V3044.8h2.14V3354.9zM1525.11 3354.9V2920.8h2.14V3354.9zM1527.24 3354.9V3074.6h2.14V3354.9zM1531.52 3354.9V2954.9h2.14V3354.9zM1533.65 3354.9V2975.1h2.14V3354.9zM1537.92 3354.9V2935.2h2.14V3354.9zM1540.06 3354.9V3148.2h2.14V3354.9zM1542.20 3354.9V2787.6h2.14V3354.9zM1546.47 3354.9V3079.4h2.14V3354.9zM1548.61 3354.9V2900.6h2.14V3354.9zM1552.88 3354.9V2836.6h2.14V3354.9zM1555.01 3354.9V3079.4h2.14V3354.9zM1559.29 3354.9V2917.4h2.14V3354.9zM1561.42 3354.9V2947.2h2.14V3354.9zM1563.56 3354.9V2841.4h2.14V3354.9zM1567.83 3354.9V3040.0h2.14V3354.9zM1569.97 3354.9V2856.3h2.14V3354.9zM1574.24 3354.9V2897.2h2.14V3354.9zM1576.38 3354.9V2677.0h2.14V3354.9zM1578.51 3354.9V3124.1h2.14V3354.9zM1582.78 3354.9V2954.9h2.14V3354.9zM1584.92 3354.9V2716.9h2.14V3354.9zM1589.19 3354.9V2940.0h2.14V3354.9zM1591.33 3354.9V3124.1h2.14V3354.9zM1595.60 3354.9V3018.4h2.14V3354.9zM1597.74 3354.9V2817.4h2.14V3354.9zM1599.87 3354.9V2924.6h2.14V3354.9zM1604.15 3354.9V3124.1h2.14V3354.9zM1606.28 3354.9V3173.7h2.14V3354.9zM1610.55 3354.9V3060.2h2.14V3354.9zM1612.69 3354.9V3074.6h2.14V3354.9zM1616.96 3354.9V3154.4h2.14V3354.9zM1619.10 3354.9V2890.0h2.14V3354.9zM1621.23 3354.9V3109.7h2.14V3354.9zM1625.51 3354.9V2991.9h2.14V3354.9zM1627.64 3354.9V3208.3h2.14V3354.9zM1631.92 3354.9V3025.6h2.14V3354.9zM1634.05 3354.9V3128.9h2.14V3354.9zM1638.32 3354.9V3104.9h2.14V3354.9zM1640.46 3354.9V3184.2h2.14V3354.9zM1642.60 3354.9V3015.0h2.14V3354.9zM1646.87 3354.9V3114.5h2.14V3354.9zM1649.00 3354.9V3024.6h2.14V3354.9zM1653.28 3354.9V3079.4h2.14V3354.9zM1655.41 3354.9V3068.8h2.14V3354.9zM1657.55 3354.9V3074.6h2.14V3354.9zM1661.82 3354.9V3044.8h2.14V3354.9zM1663.96 3354.9V3019.8h2.14V3354.9zM1668.23 3354.9V2995.9h2.14V3354.9zM1670.37 3354.9V2976.5h2.14V3354.9zM1674.64 3354.9V2847.7h2.14V3354.9zM1676.77 3354.9V2912.6h2.14V3354.9zM1678.91 3354.9V3154.4h2.14V3354.9zM1683.18 3354.9V2999.1h2.14V3354.9zM1685.32 3354.9V2677.0h2.14V3354.9zM1689.59 3354.9V2920.8h2.14V3354.9zM1691.73 3354.9V2935.0h2.14V3354.9zM1696.00 3354.9V2951.1h2.14V3354.9zM1698.14 3354.9V2681.8h2.14V3354.9zM1700.27 3354.9V2716.9h2.14V3354.9zM1704.55 3354.9V3138.6h2.14V3354.9zM1706.68 3354.9V2792.4h2.14V3354.9zM1710.95 3354.9V3138.6h2.14V3354.9zM1713.09 3354.9V3107.4h2.14V3354.9zM1717.36 3354.9V3068.8h2.14V3354.9zM1719.50 3354.9V2886.2h2.14V3354.9zM1721.63 3354.9V3034.2h2.14V3354.9zM1725.91 3354.9V3003.9h2.14V3354.9zM1728.04 3354.9V3015.5h2.14V3354.9zM1732.32 3354.9V3029.4h2.14V3354.9zM1734.45 3354.9V3178.5h2.14V3354.9zM1736.59 3354.9V3184.2h2.14V3354.9zM1740.86 3354.9V3104.9h2.14V3354.9zM1743.00 3354.9V3109.7h2.14V3354.9zM1747.27 3354.9V3083.3h2.14V3354.9zM1749.40 3354.9V3157.8h2.14V3354.9zM1753.68 3354.9V3119.3h2.14V3354.9zM1755.81 3354.9V3133.8h2.14V3354.9zM1757.95 3354.9V3189.0h2.14V3354.9zM1762.22 3354.9V3019.8h2.14V3354.9zM1764.36 3354.9V3106.4h2.14V3354.9zM1768.63 3354.9V3217.9h2.14V3354.9zM1770.77 3354.9V3266.6h2.14V3354.9zM1775.04 3354.9V3162.6h2.14V3354.9zM1777.17 3354.9V3235.4h2.14V3354.9zM1779.31 3354.9V3283.5h2.14V3354.9zM1783.58 3354.9V3263.3h2.14V3354.9zM1785.72 3354.9V3189.0h2.14V3354.9zM1789.99 3354.9V3336.3h2.14V3354.9zM1792.13 3354.9V3288.3h2.14V3354.9zM1796.40 3354.9V3283.5h2.14V3354.9zM1798.54 3354.9V3283.5h2.14V3354.9zM1800.67 3354.9V3326.7h2.14V3354.9zM1804.94 3354.9V3304.1h2.14V3354.9zM1807.08 3354.9V3278.7h2.14V3354.9zM1811.35 3354.9V3306.5h2.14V3354.9zM1813.49 3354.9V3311.7h2.14V3354.9zM1815.63 3354.9V3315.8h2.14V3354.9zM1819.90 3354.9V3319.8h2.14V3354.9zM1822.03 3354.9V3343.6h2.14V3354.9zM1826.31 3354.9V3340.6h2.14V3354.9zM1828.44 3354.9V3336.3h2.14V3354.9zM1832.71 3354.9V3343.6h2.14V3354.9zM1834.85 3354.9V3326.7h2.14V3354.9zM1836.99 3354.9V3346.0h2.14V3354.9zM1841.26 3354.9V3326.7h2.14V3354.9zM1843.40 3354.9V3343.6h2.14V3354.9zM1847.67 3354.9V3337.1h2.14V3354.9zM1849.80 3354.9V3326.7h2.14V3354.9zM1854.08 3354.9V3346.0h2.14V3354.9zM1856.21 3354.9V3343.6h2.14V3354.9zM1858.35 3354.9V3336.3h2.14V3354.9zM1892.53 3354.9V3351.9h2.14V3354.9zM1901.07 3354.9V3349.5h2.14V3354.9zM1907.48 3354.9V3350.5h2.14V3354.9zM1911.75 3354.9V3351.4h2.14V3354.9zM1913.89 3354.9V3349.1h2.14V3354.9zM1941.66 3354.9V3290.9h2.14V3354.9z"/>
<rect x="1090.1" y="2676.0" width="929.9" height="733.6" fill="none" stroke="#262626" stroke-width="2"/>
<rect x="1090.1" y="3352.9" width="929.9" height="4" fill="#1a1a1a"/>
<rect x="1941.5" y="3346.9" width="1.6" height="62.7" fill="#262626"/>
<text class="xl" x="1167.3" y="3438.0">0</text>
<text class="xl" x="1322.3" y="3438.0">0.2</text>
<text class="xl" x="1477.3" y="3438.0">0.4</text>
<text class="xl" x="1632.3" y="3438.0">0.6</text>
<text class="xl" x="1787.3" y="3438.0">0.8</text>
<text class="xl" x="1942.3" y="3438.0">1</text>
<text class="yl" x="1075.9" y="3368.5">0</text>
<text class="yl" x="1075.9" y="3269.3">20</text>
<text class="yl" x="1075.9" y="3170.2">40</text>
<text class="yl" x="1075.9" y="3071.1">60</text>
<text class="yl" x="1075.9" y="2971.9">80</text>
<text class="yl" x="1075.9" y="2872.8">100</text>
<text class="yl" x="1075.9" y="2773.6">120</text>
<path d="M1167.3 2676.0v8M1167.3 3409.6v-8M1167.3 3354.9v-8M1322.3 2676.0v8M1322.3 3409.6v-8M1322.3 3354.9v-8M1477.3 2676.0v8M1477.3 3409.6v-8M1477.3 3354.9v-8M1632.3 2676.0v8M1632.3 3409.6v-8M1632.3 3354.9v-8M1787.3 2676.0v8M1787.3 3409.6v-8M1787.3 3354.9v-8M1942.3 2676.0v8M1942.3 3409.6v-8M1942.3 3354.9v-8M1090.1 3354.9h8M2020.0 3354.9h-8M1090.1 3255.8h8M2020.0 3255.8h-8M1090.1 3156.6h8M2020.0 3156.6h-8M1090.1 3057.5h8M2020.0 3057.5h-8M1090.1 2958.3h8M2020.0 2958.3h-8M1090.1 2859.2h8M2020.0 2859.2h-8M1090.1 2760.0h8M2020.0 2760.0h-8M1090.1 3384.1h8M2020.0 3384.1h-8" stroke="#262626" stroke-width="2" fill="none"/>
</svg>
<figcaption style="left:1055.6px;top:3481.8px"><span>(</span>d<span>)</span></figcaption>
</figure>
</body>
</html>
